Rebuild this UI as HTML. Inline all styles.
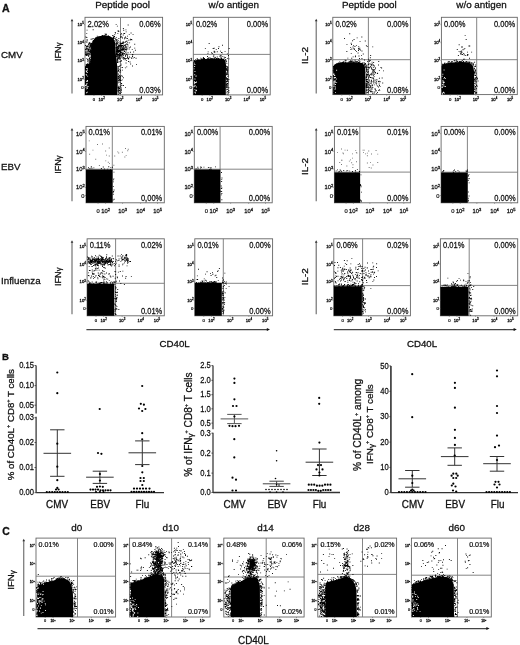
<!DOCTYPE html>
<html><head><meta charset="utf-8"><style>
html,body{margin:0;padding:0;background:#fff;}
body{width:520px;height:645px;overflow:hidden;position:relative;}
svg{position:absolute;left:0;top:0;will-change:transform;font-family:"Liberation Sans", sans-serif;}
text{stroke:#111;stroke-width:0.28px;}
.s{stroke-width:0.22px;}
</style></head><body>
<svg width="520" height="645" viewBox="0 0 520 645" fill="#111">
<rect x="85" y="17.3" width="77.6" height="77.6" fill="none" stroke="#666" stroke-width="0.9"/>
<path d="M120.5 17.3V94.9M85 54.4H162.6" stroke="#777" stroke-width="0.9"/>
<rect x="193.3" y="17.3" width="76.9" height="77.6" fill="none" stroke="#666" stroke-width="0.9"/>
<path d="M228.5 17.3V94.9M193.3 54.4H270.2" stroke="#777" stroke-width="0.9"/>
<rect x="332.8" y="17.3" width="77.6" height="77.3" fill="none" stroke="#666" stroke-width="0.9"/>
<path d="M368.4 17.3V94.6M332.8 59.7H410.4" stroke="#777" stroke-width="0.9"/>
<rect x="441.4" y="17.3" width="75.9" height="77.3" fill="none" stroke="#666" stroke-width="0.9"/>
<path d="M476.7 17.3V94.6M441.4 59.7H517.3" stroke="#777" stroke-width="0.9"/>
<rect x="86" y="126.4" width="78.3" height="76.4" fill="none" stroke="#666" stroke-width="0.9"/>
<path d="M112.3 126.4V202.8M86 169.2H164.3" stroke="#777" stroke-width="0.9"/>
<rect x="194.3" y="126.4" width="77.9" height="76.4" fill="none" stroke="#666" stroke-width="0.9"/>
<path d="M220.1 126.4V202.8M194.3 169.2H272.2" stroke="#777" stroke-width="0.9"/>
<rect x="334.4" y="126.4" width="76" height="76.4" fill="none" stroke="#666" stroke-width="0.9"/>
<path d="M359.8 126.4V202.8M334.4 172.1H410.4" stroke="#777" stroke-width="0.9"/>
<rect x="441.1" y="126.4" width="76.6" height="76.4" fill="none" stroke="#666" stroke-width="0.9"/>
<path d="M467.4 126.4V202.8M441.1 172.2H517.7" stroke="#777" stroke-width="0.9"/>
<rect x="87.1" y="238.8" width="77.2" height="77" fill="none" stroke="#666" stroke-width="0.9"/>
<path d="M115.6 238.8V315.8M87.1 283.3H164.3" stroke="#777" stroke-width="0.9"/>
<rect x="194.8" y="238.8" width="77.8" height="77" fill="none" stroke="#666" stroke-width="0.9"/>
<path d="M223.3 238.8V315.8M194.8 283.3H272.6" stroke="#777" stroke-width="0.9"/>
<rect x="333.8" y="238.8" width="76.6" height="77" fill="none" stroke="#666" stroke-width="0.9"/>
<path d="M362.6 238.8V315.8M333.8 285.6H410.4" stroke="#777" stroke-width="0.9"/>
<rect x="440.4" y="238.8" width="77.3" height="77" fill="none" stroke="#666" stroke-width="0.9"/>
<path d="M469.2 238.8V315.8M440.4 285.4H517.7" stroke="#777" stroke-width="0.9"/>
<rect x="36" y="538.1" width="79.6" height="78.9" fill="none" stroke="#666" stroke-width="0.9"/>
<path d="M77.5 538.1V617M36 576.2H115.6" stroke="#777" stroke-width="0.9"/>
<rect x="129.6" y="538.1" width="80.4" height="78.9" fill="none" stroke="#666" stroke-width="0.9"/>
<path d="M171.6 538.1V617M129.6 573.3H210" stroke="#777" stroke-width="0.9"/>
<rect x="223.8" y="538.1" width="80.3" height="78.9" fill="none" stroke="#666" stroke-width="0.9"/>
<path d="M266.2 538.1V617M223.8 577H304.1" stroke="#777" stroke-width="0.9"/>
<rect x="317.8" y="538.1" width="78.8" height="78.9" fill="none" stroke="#666" stroke-width="0.9"/>
<path d="M362.5 538.1V617M317.8 574.4H396.6" stroke="#777" stroke-width="0.9"/>
<rect x="411.4" y="538.1" width="79.9" height="78.9" fill="none" stroke="#666" stroke-width="0.9"/>
<path d="M457.5 538.1V617M411.4 575.2H491.3" stroke="#777" stroke-width="0.9"/>
<line x1="72" y1="20.3" x2="72" y2="93.4" stroke="#666" stroke-width="1.1"/>
<path d="M70.7 21.3 L72 18.8 L73.3 21.3Z" fill="#333"/>
<line x1="316.2" y1="20.3" x2="316.2" y2="93.4" stroke="#666" stroke-width="1.1"/>
<path d="M314.9 21.3 L316.2 18.8 L317.5 21.3Z" fill="#333"/>
<line x1="72" y1="129.4" x2="72" y2="201.3" stroke="#666" stroke-width="1.1"/>
<path d="M70.7 130.4 L72 127.9 L73.3 130.4Z" fill="#333"/>
<line x1="316.2" y1="129.4" x2="316.2" y2="201.3" stroke="#666" stroke-width="1.1"/>
<path d="M314.9 130.4 L316.2 127.9 L317.5 130.4Z" fill="#333"/>
<line x1="72" y1="241.8" x2="72" y2="314.3" stroke="#666" stroke-width="1.1"/>
<path d="M70.7 242.8 L72 240.3 L73.3 242.8Z" fill="#333"/>
<line x1="316.2" y1="241.8" x2="316.2" y2="314.3" stroke="#666" stroke-width="1.1"/>
<path d="M314.9 242.8 L316.2 240.3 L317.5 242.8Z" fill="#333"/>
<path d="M85 95 L85 67 L86.5 64 L89 62.5 L91 62 L91 52 L91.5 45 L92.8 41 L95 38 L98.5 36.3 L104 35.6 L109.5 36 L113.3 38.3 L115.2 42.5 L115.9 55 L116.8 62 L117.6 70 L117.8 82 L117.3 95Z" fill="#000"/>
<path d="M90.0 60.6h0.9v0.9h-0.9zM88.8 53.8h0.9v0.9h-0.9zM90.8 52.7h0.9v0.9h-0.9zM85.8 63.9h0.9v0.9h-0.9zM116.1 47.2h0.9v0.9h-0.9zM90.4 61.0h0.9v0.9h-0.9zM116.3 52.3h0.9v0.9h-0.9zM116.6 39.3h0.9v0.9h-0.9zM117.6 67.6h0.9v0.9h-0.9zM92.2 41.4h0.9v0.9h-0.9zM89.8 62.2h0.9v0.9h-0.9zM92.9 40.4h0.9v0.9h-0.9zM117.8 90.5h0.9v0.9h-0.9zM90.9 59.6h0.9v0.9h-0.9zM85.4 66.3h0.9v0.9h-0.9zM103.5 35.3h0.9v0.9h-0.9zM106.0 33.8h0.9v0.9h-0.9zM102.2 35.1h0.9v0.9h-0.9zM91.2 48.2h0.9v0.9h-0.9zM112.0 35.2h0.9v0.9h-0.9zM92.7 38.1h0.9v0.9h-0.9zM105.3 34.3h0.9v0.9h-0.9zM92.8 40.7h0.9v0.9h-0.9zM115.9 45.5h0.9v0.9h-0.9zM96.8 35.8h0.9v0.9h-0.9zM118.4 93.4h0.9v0.9h-0.9zM117.9 87.5h0.9v0.9h-0.9zM116.2 56.4h0.9v0.9h-0.9zM115.8 47.0h0.9v0.9h-0.9zM102.0 35.8h0.9v0.9h-0.9zM116.4 46.9h0.9v0.9h-0.9zM113.8 37.4h0.9v0.9h-0.9zM119.1 79.8h0.9v0.9h-0.9zM105.1 34.7h0.9v0.9h-0.9zM118.2 90.8h0.9v0.9h-0.9zM116.7 46.2h0.9v0.9h-0.9zM116.3 43.8h0.9v0.9h-0.9zM118.7 87.6h0.9v0.9h-0.9zM112.6 37.3h0.9v0.9h-0.9zM116.7 54.3h0.9v0.9h-0.9zM91.0 45.8h0.9v0.9h-0.9zM116.6 59.9h0.9v0.9h-0.9zM115.5 47.5h0.9v0.9h-0.9zM105.5 34.8h0.9v0.9h-0.9zM119.2 92.5h0.9v0.9h-0.9zM95.2 37.5h0.9v0.9h-0.9zM118.3 86.9h0.9v0.9h-0.9zM90.4 46.2h0.9v0.9h-0.9zM118.8 76.8h0.9v0.9h-0.9zM116.9 58.1h0.9v0.9h-0.9zM118.3 68.6h0.9v0.9h-0.9zM116.3 52.4h0.9v0.9h-0.9zM90.7 45.9h0.9v0.9h-0.9zM118.7 86.3h0.9v0.9h-0.9zM118.3 73.8h0.9v0.9h-0.9zM120.8 75.3h0.9v0.9h-0.9zM118.6 57.7h0.9v0.9h-0.9zM107.8 35.2h0.9v0.9h-0.9zM113.1 37.1h0.9v0.9h-0.9zM116.6 46.0h0.9v0.9h-0.9zM116.5 56.3h0.9v0.9h-0.9zM90.4 56.8h0.9v0.9h-0.9zM85.8 64.7h0.9v0.9h-0.9zM117.9 76.1h0.9v0.9h-0.9zM119.1 88.3h0.9v0.9h-0.9zM118.5 90.5h0.9v0.9h-0.9zM118.3 82.3h0.9v0.9h-0.9zM112.9 35.5h0.9v0.9h-0.9zM117.3 51.6h0.9v0.9h-0.9zM94.3 38.8h0.9v0.9h-0.9zM104.7 33.5h0.9v0.9h-0.9zM89.1 61.5h0.9v0.9h-0.9zM118.5 87.9h0.9v0.9h-0.9zM90.6 46.9h0.9v0.9h-0.9zM114.3 40.2h0.9v0.9h-0.9zM118.4 78.4h0.9v0.9h-0.9zM118.1 69.7h0.9v0.9h-0.9zM87.7 61.4h0.9v0.9h-0.9zM90.4 51.5h0.9v0.9h-0.9zM96.3 37.3h0.9v0.9h-0.9zM91.4 43.6h0.9v0.9h-0.9zM118.1 79.9h0.9v0.9h-0.9zM115.9 54.6h0.9v0.9h-0.9zM90.1 45.9h0.9v0.9h-0.9zM89.7 60.4h0.9v0.9h-0.9zM117.9 78.3h0.9v0.9h-0.9zM118.7 75.6h0.9v0.9h-0.9zM119.7 81.9h0.9v0.9h-0.9zM104.0 35.2h0.9v0.9h-0.9zM116.7 43.6h0.9v0.9h-0.9zM117.6 90.9h0.9v0.9h-0.9zM115.9 45.6h0.9v0.9h-0.9zM117.6 86.8h0.9v0.9h-0.9zM89.1 61.7h0.9v0.9h-0.9zM116.2 49.3h0.9v0.9h-0.9zM101.5 35.4h0.9v0.9h-0.9zM118.2 69.9h0.9v0.9h-0.9zM91.0 46.7h0.9v0.9h-0.9zM92.3 42.6h0.9v0.9h-0.9zM115.7 42.8h0.9v0.9h-0.9zM90.9 43.0h0.9v0.9h-0.9zM116.6 57.7h0.9v0.9h-0.9zM116.7 60.2h0.9v0.9h-0.9zM91.2 45.4h0.9v0.9h-0.9zM117.8 78.2h0.9v0.9h-0.9zM118.9 75.3h0.9v0.9h-0.9zM117.6 66.1h0.9v0.9h-0.9zM117.6 90.0h0.9v0.9h-0.9zM118.4 90.2h0.9v0.9h-0.9zM119.3 87.8h0.9v0.9h-0.9z" fill="#000"/>
<path d="M116.5 46.7h0.9v0.9h-0.9zM90.6 48.9h0.9v0.9h-0.9zM86.5 51.5h0.9v0.9h-0.9zM90.7 43.4h0.9v0.9h-0.9zM119.0 54.8h0.9v0.9h-0.9zM122.0 52.8h0.9v0.9h-0.9zM118.6 50.0h0.9v0.9h-0.9zM123.7 44.8h0.9v0.9h-0.9zM115.9 43.3h0.9v0.9h-0.9zM91.4 45.4h0.9v0.9h-0.9zM121.3 45.6h0.9v0.9h-0.9zM90.3 49.4h0.9v0.9h-0.9zM119.8 54.8h0.9v0.9h-0.9zM90.8 51.3h0.9v0.9h-0.9zM91.3 42.8h0.9v0.9h-0.9zM85.4 54.8h0.9v0.9h-0.9zM90.7 51.3h0.9v0.9h-0.9zM121.8 53.0h0.9v0.9h-0.9zM119.0 49.5h0.9v0.9h-0.9zM86.8 54.1h0.9v0.9h-0.9zM85.4 45.0h0.9v0.9h-0.9zM90.1 52.3h0.9v0.9h-0.9zM85.7 48.2h0.9v0.9h-0.9zM121.5 52.2h0.9v0.9h-0.9zM88.0 48.5h0.9v0.9h-0.9zM88.2 44.3h0.9v0.9h-0.9zM86.8 47.8h0.9v0.9h-0.9zM116.9 52.8h0.9v0.9h-0.9zM116.0 47.2h0.9v0.9h-0.9zM119.9 50.8h0.9v0.9h-0.9zM115.7 47.2h0.9v0.9h-0.9zM117.6 46.6h0.9v0.9h-0.9zM118.9 55.6h0.9v0.9h-0.9zM115.8 36.9h0.9v0.9h-0.9zM117.6 47.4h0.9v0.9h-0.9zM119.4 50.0h0.9v0.9h-0.9zM85.9 54.6h0.9v0.9h-0.9zM118.4 44.9h0.9v0.9h-0.9zM119.4 46.0h0.9v0.9h-0.9zM118.6 53.7h0.9v0.9h-0.9zM90.5 53.6h0.9v0.9h-0.9zM123.0 55.2h0.9v0.9h-0.9zM115.9 51.3h0.9v0.9h-0.9zM91.1 44.5h0.9v0.9h-0.9zM117.6 50.3h0.9v0.9h-0.9zM90.4 45.3h0.9v0.9h-0.9zM117.1 48.8h0.9v0.9h-0.9zM89.3 57.9h0.9v0.9h-0.9zM116.1 39.5h0.9v0.9h-0.9zM117.8 55.2h0.9v0.9h-0.9zM118.3 46.7h0.9v0.9h-0.9zM120.0 52.6h0.9v0.9h-0.9zM118.7 48.4h0.9v0.9h-0.9zM116.5 46.8h0.9v0.9h-0.9zM120.7 50.2h0.9v0.9h-0.9zM115.3 43.7h0.9v0.9h-0.9zM89.0 44.6h0.9v0.9h-0.9zM89.1 47.5h0.9v0.9h-0.9zM122.0 50.2h0.9v0.9h-0.9zM127.5 45.6h0.9v0.9h-0.9zM117.7 51.3h0.9v0.9h-0.9zM118.2 54.1h0.9v0.9h-0.9zM123.2 49.7h0.9v0.9h-0.9zM87.7 48.8h0.9v0.9h-0.9zM86.6 39.5h0.9v0.9h-0.9zM116.1 52.9h0.9v0.9h-0.9zM116.8 48.2h0.9v0.9h-0.9zM120.8 63.7h0.9v0.9h-0.9zM116.2 44.9h0.9v0.9h-0.9zM87.0 50.6h0.9v0.9h-0.9zM118.9 57.0h0.9v0.9h-0.9zM116.4 54.7h0.9v0.9h-0.9zM89.3 43.2h0.9v0.9h-0.9zM85.2 53.4h0.9v0.9h-0.9zM115.8 48.6h0.9v0.9h-0.9zM121.1 51.9h0.9v0.9h-0.9zM118.3 47.9h0.9v0.9h-0.9zM126.6 48.5h0.9v0.9h-0.9zM89.3 46.5h0.9v0.9h-0.9zM88.6 58.7h0.9v0.9h-0.9zM89.5 58.5h0.9v0.9h-0.9zM118.0 54.3h0.9v0.9h-0.9zM91.0 50.1h0.9v0.9h-0.9zM122.4 55.5h0.9v0.9h-0.9zM118.6 50.9h0.9v0.9h-0.9zM119.5 45.1h0.9v0.9h-0.9zM122.7 40.9h0.9v0.9h-0.9zM85.7 49.3h0.9v0.9h-0.9zM123.8 57.5h0.9v0.9h-0.9zM116.5 52.0h0.9v0.9h-0.9zM116.6 59.1h0.9v0.9h-0.9zM91.1 47.0h0.9v0.9h-0.9zM116.7 51.0h0.9v0.9h-0.9zM116.2 50.8h0.9v0.9h-0.9zM90.7 56.6h0.9v0.9h-0.9zM89.4 42.2h0.9v0.9h-0.9zM120.6 60.7h0.9v0.9h-0.9zM116.8 53.8h0.9v0.9h-0.9zM116.7 54.8h0.9v0.9h-0.9zM117.3 49.6h0.9v0.9h-0.9zM91.1 43.5h0.9v0.9h-0.9zM113.0 38.1h0.9v0.9h-0.9zM85.5 51.7h0.9v0.9h-0.9zM86.4 46.0h0.9v0.9h-0.9zM85.3 48.9h0.9v0.9h-0.9zM116.4 43.7h0.9v0.9h-0.9zM116.6 49.9h0.9v0.9h-0.9zM123.3 58.4h0.9v0.9h-0.9zM86.2 55.2h0.9v0.9h-0.9zM116.4 50.7h0.9v0.9h-0.9zM116.7 40.7h0.9v0.9h-0.9zM117.0 50.1h0.9v0.9h-0.9zM88.8 48.9h0.9v0.9h-0.9zM120.4 45.6h0.9v0.9h-0.9zM119.2 43.4h0.9v0.9h-0.9zM85.6 52.7h0.9v0.9h-0.9zM91.2 47.5h0.9v0.9h-0.9zM85.2 51.8h0.9v0.9h-0.9zM117.9 55.4h0.9v0.9h-0.9zM118.6 45.3h0.9v0.9h-0.9zM117.9 66.6h0.9v0.9h-0.9zM120.8 56.7h0.9v0.9h-0.9zM124.6 48.8h0.9v0.9h-0.9zM120.2 43.2h0.9v0.9h-0.9zM90.6 38.8h0.9v0.9h-0.9zM86.0 53.5h0.9v0.9h-0.9zM124.0 51.0h0.9v0.9h-0.9zM120.2 47.5h0.9v0.9h-0.9zM89.7 51.7h0.9v0.9h-0.9zM117.9 50.6h0.9v0.9h-0.9zM116.3 43.2h0.9v0.9h-0.9zM117.8 49.9h0.9v0.9h-0.9zM89.3 51.3h0.9v0.9h-0.9zM117.3 50.3h0.9v0.9h-0.9zM88.5 53.0h0.9v0.9h-0.9zM122.2 47.6h0.9v0.9h-0.9zM88.0 43.6h0.9v0.9h-0.9zM122.0 48.9h0.9v0.9h-0.9zM91.1 47.9h0.9v0.9h-0.9zM118.7 52.6h0.9v0.9h-0.9zM88.3 56.1h0.9v0.9h-0.9zM89.9 59.7h0.9v0.9h-0.9zM116.5 51.7h0.9v0.9h-0.9zM117.7 41.8h0.9v0.9h-0.9zM90.2 51.0h0.9v0.9h-0.9zM121.4 46.1h0.9v0.9h-0.9zM116.0 53.0h0.9v0.9h-0.9zM119.7 54.1h0.9v0.9h-0.9zM120.0 52.1h0.9v0.9h-0.9zM91.7 38.6h0.9v0.9h-0.9zM118.0 46.1h0.9v0.9h-0.9zM116.9 56.3h0.9v0.9h-0.9zM120.3 51.9h0.9v0.9h-0.9zM116.3 52.0h0.9v0.9h-0.9zM117.3 50.3h0.9v0.9h-0.9zM119.5 55.6h0.9v0.9h-0.9zM91.3 46.8h0.9v0.9h-0.9zM90.5 42.9h0.9v0.9h-0.9zM90.9 50.8h0.9v0.9h-0.9zM86.2 47.2h0.9v0.9h-0.9zM120.3 42.9h0.9v0.9h-0.9zM88.9 58.3h0.9v0.9h-0.9zM116.6 52.4h0.9v0.9h-0.9zM119.3 61.4h0.9v0.9h-0.9zM118.3 49.9h0.9v0.9h-0.9zM87.1 45.7h0.9v0.9h-0.9zM116.4 48.7h0.9v0.9h-0.9zM88.9 50.9h0.9v0.9h-0.9zM88.1 49.1h0.9v0.9h-0.9zM89.2 42.3h0.9v0.9h-0.9zM90.9 55.4h0.9v0.9h-0.9zM88.2 52.7h0.9v0.9h-0.9zM86.7 50.5h0.9v0.9h-0.9zM123.8 57.6h0.9v0.9h-0.9zM124.2 50.7h0.9v0.9h-0.9zM126.2 53.5h0.9v0.9h-0.9zM88.3 53.5h0.9v0.9h-0.9zM119.9 50.5h0.9v0.9h-0.9zM87.1 52.9h0.9v0.9h-0.9zM115.3 43.4h0.9v0.9h-0.9zM121.8 47.6h0.9v0.9h-0.9zM122.4 48.0h0.9v0.9h-0.9zM125.0 45.6h0.9v0.9h-0.9zM116.2 56.1h0.9v0.9h-0.9zM122.3 42.8h0.9v0.9h-0.9zM117.1 51.3h0.9v0.9h-0.9zM116.1 53.3h0.9v0.9h-0.9zM87.0 60.6h0.9v0.9h-0.9zM89.2 47.2h0.9v0.9h-0.9zM117.9 51.2h0.9v0.9h-0.9zM122.3 53.8h0.9v0.9h-0.9zM118.9 55.8h0.9v0.9h-0.9zM122.7 52.4h0.9v0.9h-0.9zM116.7 49.6h0.9v0.9h-0.9zM87.7 55.1h0.9v0.9h-0.9zM117.4 46.3h0.9v0.9h-0.9zM130.1 46.5h0.9v0.9h-0.9zM118.1 49.7h0.9v0.9h-0.9zM125.0 52.4h0.9v0.9h-0.9zM85.0 45.2h0.9v0.9h-0.9zM88.4 46.2h0.9v0.9h-0.9zM115.5 40.8h0.9v0.9h-0.9zM89.7 47.6h0.9v0.9h-0.9zM90.2 50.3h0.9v0.9h-0.9zM89.5 57.3h0.9v0.9h-0.9zM116.4 50.2h0.9v0.9h-0.9zM88.3 53.0h0.9v0.9h-0.9zM116.9 43.1h0.9v0.9h-0.9zM89.0 51.2h0.9v0.9h-0.9zM116.7 55.0h0.9v0.9h-0.9zM91.4 43.7h0.9v0.9h-0.9zM88.9 57.7h0.9v0.9h-0.9zM115.9 50.5h0.9v0.9h-0.9zM118.8 59.2h0.9v0.9h-0.9zM88.3 51.1h0.9v0.9h-0.9zM117.8 51.9h0.9v0.9h-0.9zM118.9 57.9h0.9v0.9h-0.9zM86.4 58.2h0.9v0.9h-0.9zM116.1 54.0h0.9v0.9h-0.9zM117.5 54.0h0.9v0.9h-0.9zM90.7 52.4h0.9v0.9h-0.9zM116.3 47.8h0.9v0.9h-0.9zM116.7 50.6h0.9v0.9h-0.9zM91.1 44.7h0.9v0.9h-0.9zM123.7 50.8h0.9v0.9h-0.9zM116.3 42.0h0.9v0.9h-0.9zM86.3 32.9h0.9v0.9h-0.9zM123.5 57.2h0.9v0.9h-0.9zM88.4 50.3h0.9v0.9h-0.9zM92.9 40.1h0.9v0.9h-0.9z" fill="#000"/>
<path d="M86.3 84.6h0.9v0.9h-0.9zM87.0 81.2h0.9v0.9h-0.9zM87.6 86.1h0.9v0.9h-0.9zM86.0 71.0h0.9v0.9h-0.9zM86.8 86.9h0.9v0.9h-0.9zM85.1 85.1h0.9v0.9h-0.9zM85.7 70.5h0.9v0.9h-0.9zM88.2 62.8h0.9v0.9h-0.9zM86.8 68.3h0.9v0.9h-0.9zM87.2 75.7h0.9v0.9h-0.9zM86.1 92.3h0.9v0.9h-0.9zM86.1 80.8h0.9v0.9h-0.9zM86.8 72.1h0.9v0.9h-0.9zM86.4 71.7h0.9v0.9h-0.9zM86.5 83.1h0.9v0.9h-0.9zM87.0 87.9h0.9v0.9h-0.9zM87.1 91.7h0.9v0.9h-0.9zM85.7 73.9h0.9v0.9h-0.9zM87.0 68.6h0.9v0.9h-0.9zM85.9 88.4h0.9v0.9h-0.9zM86.6 86.5h0.9v0.9h-0.9zM86.0 74.7h0.9v0.9h-0.9zM86.0 68.2h0.9v0.9h-0.9zM85.4 86.7h0.9v0.9h-0.9zM87.1 80.1h0.9v0.9h-0.9zM85.7 84.9h0.9v0.9h-0.9zM86.8 69.9h0.9v0.9h-0.9zM85.8 84.2h0.9v0.9h-0.9z" fill="#fff"/>
<path d="M123.2 42.1h0.9v0.9h-0.9zM114.1 36.0h0.9v0.9h-0.9zM118.2 45.7h0.9v0.9h-0.9zM125.4 44.3h0.9v0.9h-0.9zM121.1 36.5h0.9v0.9h-0.9zM121.7 53.3h0.9v0.9h-0.9zM121.4 55.1h0.9v0.9h-0.9zM121.0 44.7h0.9v0.9h-0.9zM132.2 55.5h0.9v0.9h-0.9zM126.1 49.2h0.9v0.9h-0.9zM119.0 56.3h0.9v0.9h-0.9zM126.9 38.1h0.9v0.9h-0.9zM120.0 47.7h0.9v0.9h-0.9zM124.0 45.4h0.9v0.9h-0.9zM125.6 37.8h0.9v0.9h-0.9zM121.4 55.8h0.9v0.9h-0.9zM119.8 60.9h0.9v0.9h-0.9zM121.0 43.1h0.9v0.9h-0.9zM122.8 47.2h0.9v0.9h-0.9zM117.9 48.0h0.9v0.9h-0.9zM120.7 47.6h0.9v0.9h-0.9zM118.6 51.0h0.9v0.9h-0.9zM119.3 54.4h0.9v0.9h-0.9zM118.4 31.2h0.9v0.9h-0.9zM116.7 54.6h0.9v0.9h-0.9zM120.7 54.6h0.9v0.9h-0.9zM134.3 47.7h0.9v0.9h-0.9zM123.1 45.4h0.9v0.9h-0.9zM118.3 47.5h0.9v0.9h-0.9zM117.4 33.2h0.9v0.9h-0.9zM128.0 61.0h0.9v0.9h-0.9zM125.3 46.3h0.9v0.9h-0.9zM121.9 48.8h0.9v0.9h-0.9zM122.7 52.8h0.9v0.9h-0.9zM123.7 49.6h0.9v0.9h-0.9zM119.2 44.8h0.9v0.9h-0.9zM118.0 56.2h0.9v0.9h-0.9zM118.4 57.0h0.9v0.9h-0.9zM128.1 58.6h0.9v0.9h-0.9zM116.9 41.6h0.9v0.9h-0.9zM123.3 58.5h0.9v0.9h-0.9zM129.6 61.5h0.9v0.9h-0.9zM129.2 42.4h0.9v0.9h-0.9zM130.2 38.8h0.9v0.9h-0.9zM130.2 63.5h0.9v0.9h-0.9zM119.2 52.9h0.9v0.9h-0.9zM117.3 56.9h0.9v0.9h-0.9zM127.3 44.1h0.9v0.9h-0.9zM126.4 46.9h0.9v0.9h-0.9zM126.3 66.4h0.9v0.9h-0.9zM119.5 45.3h0.9v0.9h-0.9zM120.3 34.3h0.9v0.9h-0.9zM125.0 49.0h0.9v0.9h-0.9zM117.6 60.7h0.9v0.9h-0.9zM120.2 44.5h0.9v0.9h-0.9zM126.3 41.1h0.9v0.9h-0.9zM120.0 36.9h0.9v0.9h-0.9zM114.3 33.9h0.9v0.9h-0.9zM119.0 52.7h0.9v0.9h-0.9zM115.6 39.7h0.9v0.9h-0.9zM122.0 49.0h0.9v0.9h-0.9zM125.1 55.8h0.9v0.9h-0.9zM125.2 58.3h0.9v0.9h-0.9zM122.9 57.1h0.9v0.9h-0.9zM115.7 43.8h0.9v0.9h-0.9zM118.0 51.6h0.9v0.9h-0.9zM124.7 46.9h0.9v0.9h-0.9zM122.8 34.5h0.9v0.9h-0.9zM123.0 46.0h0.9v0.9h-0.9zM117.1 59.1h0.9v0.9h-0.9zM134.9 49.8h0.9v0.9h-0.9zM124.7 59.4h0.9v0.9h-0.9zM122.4 53.5h0.9v0.9h-0.9zM121.7 43.0h0.9v0.9h-0.9zM114.5 38.0h0.9v0.9h-0.9zM115.7 39.6h0.9v0.9h-0.9zM126.2 43.5h0.9v0.9h-0.9zM119.9 50.5h0.9v0.9h-0.9zM117.5 61.8h0.9v0.9h-0.9zM124.4 37.2h0.9v0.9h-0.9zM119.4 51.1h0.9v0.9h-0.9zM134.3 43.8h0.9v0.9h-0.9zM121.8 57.6h0.9v0.9h-0.9zM123.8 53.1h0.9v0.9h-0.9zM122.9 49.2h0.9v0.9h-0.9zM136.0 63.9h0.9v0.9h-0.9zM124.5 47.4h0.9v0.9h-0.9zM129.1 56.6h0.9v0.9h-0.9zM134.0 56.9h0.9v0.9h-0.9zM131.9 54.2h0.9v0.9h-0.9zM115.9 50.4h0.9v0.9h-0.9zM125.7 31.4h0.9v0.9h-0.9zM117.6 48.3h0.9v0.9h-0.9zM121.8 57.7h0.9v0.9h-0.9zM125.8 58.1h0.9v0.9h-0.9zM113.5 35.8h0.9v0.9h-0.9zM123.3 29.8h0.9v0.9h-0.9zM132.6 33.9h0.9v0.9h-0.9zM118.8 46.9h0.9v0.9h-0.9zM120.6 36.2h0.9v0.9h-0.9zM117.5 30.6h0.9v0.9h-0.9zM117.9 58.4h0.9v0.9h-0.9zM132.0 65.6h0.9v0.9h-0.9zM127.0 55.3h0.9v0.9h-0.9zM114.8 32.0h0.9v0.9h-0.9zM123.3 33.2h0.9v0.9h-0.9zM124.7 47.7h0.9v0.9h-0.9zM119.8 51.0h0.9v0.9h-0.9zM115.0 32.5h0.9v0.9h-0.9zM122.7 43.4h0.9v0.9h-0.9zM129.7 39.6h0.9v0.9h-0.9zM120.2 54.8h0.9v0.9h-0.9zM121.2 45.1h0.9v0.9h-0.9zM130.1 51.8h0.9v0.9h-0.9zM135.6 57.8h0.9v0.9h-0.9zM120.0 36.5h0.9v0.9h-0.9zM132.6 57.6h0.9v0.9h-0.9zM118.3 50.0h0.9v0.9h-0.9zM120.2 45.5h0.9v0.9h-0.9zM120.5 42.5h0.9v0.9h-0.9zM121.4 36.6h0.9v0.9h-0.9zM116.6 49.0h0.9v0.9h-0.9zM121.5 48.9h0.9v0.9h-0.9zM115.3 38.8h0.9v0.9h-0.9zM132.4 54.1h0.9v0.9h-0.9zM130.6 32.5h0.9v0.9h-0.9zM121.5 50.5h0.9v0.9h-0.9zM128.8 47.2h0.9v0.9h-0.9zM119.6 58.1h0.9v0.9h-0.9zM125.7 49.8h0.9v0.9h-0.9zM116.4 49.6h0.9v0.9h-0.9zM119.2 53.0h0.9v0.9h-0.9zM121.1 50.4h0.9v0.9h-0.9zM126.0 46.6h0.9v0.9h-0.9zM124.2 50.9h0.9v0.9h-0.9zM117.8 40.2h0.9v0.9h-0.9zM126.0 59.9h0.9v0.9h-0.9zM127.6 52.3h0.9v0.9h-0.9zM121.4 46.3h0.9v0.9h-0.9zM126.5 54.0h0.9v0.9h-0.9zM124.3 58.0h0.9v0.9h-0.9zM126.4 48.3h0.9v0.9h-0.9zM128.3 57.7h0.9v0.9h-0.9zM128.2 39.7h0.9v0.9h-0.9zM122.1 45.0h0.9v0.9h-0.9zM124.6 42.0h0.9v0.9h-0.9zM118.4 38.0h0.9v0.9h-0.9zM116.5 48.4h0.9v0.9h-0.9zM128.8 33.9h0.9v0.9h-0.9zM124.9 41.3h0.9v0.9h-0.9zM121.8 48.9h0.9v0.9h-0.9zM127.0 35.7h0.9v0.9h-0.9zM115.7 23.9h0.9v0.9h-0.9zM131.0 39.1h0.9v0.9h-0.9zM122.0 54.2h0.9v0.9h-0.9zM116.9 25.7h0.9v0.9h-0.9zM131.1 57.9h0.9v0.9h-0.9zM125.6 62.5h0.9v0.9h-0.9zM130.7 57.2h0.9v0.9h-0.9zM120.7 49.1h0.9v0.9h-0.9zM116.6 53.8h0.9v0.9h-0.9zM127.1 57.3h0.9v0.9h-0.9zM127.3 42.3h0.9v0.9h-0.9zM118.2 43.7h0.9v0.9h-0.9zM125.2 54.8h0.9v0.9h-0.9zM115.7 45.3h0.9v0.9h-0.9zM118.2 30.6h0.9v0.9h-0.9zM127.2 56.4h0.9v0.9h-0.9zM124.2 33.0h0.9v0.9h-0.9zM120.2 49.3h0.9v0.9h-0.9zM124.5 44.9h0.9v0.9h-0.9zM120.4 53.5h0.9v0.9h-0.9zM121.2 47.5h0.9v0.9h-0.9zM121.0 60.3h0.9v0.9h-0.9zM123.6 47.8h0.9v0.9h-0.9zM117.9 50.8h0.9v0.9h-0.9zM117.6 48.3h0.9v0.9h-0.9zM123.6 48.6h0.9v0.9h-0.9zM122.2 42.2h0.9v0.9h-0.9zM123.8 49.4h0.9v0.9h-0.9zM131.8 48.9h0.9v0.9h-0.9zM120.4 43.7h0.9v0.9h-0.9zM119.4 41.6h0.9v0.9h-0.9zM120.4 45.2h0.9v0.9h-0.9zM122.2 43.1h0.9v0.9h-0.9zM128.7 48.6h0.9v0.9h-0.9zM123.1 48.6h0.9v0.9h-0.9zM124.9 44.6h0.9v0.9h-0.9zM131.5 39.4h0.9v0.9h-0.9zM122.0 37.5h0.9v0.9h-0.9zM125.6 51.5h0.9v0.9h-0.9zM122.9 43.3h0.9v0.9h-0.9zM125.0 36.5h0.9v0.9h-0.9zM133.2 51.5h0.9v0.9h-0.9zM122.9 28.0h0.9v0.9h-0.9zM117.9 45.3h0.9v0.9h-0.9zM127.7 24.6h0.9v0.9h-0.9zM132.0 56.0h0.9v0.9h-0.9zM122.7 47.0h0.9v0.9h-0.9zM121.1 33.3h0.9v0.9h-0.9zM126.5 40.4h0.9v0.9h-0.9zM124.0 53.2h0.9v0.9h-0.9zM120.5 65.2h0.9v0.9h-0.9zM118.0 57.8h0.9v0.9h-0.9zM117.6 48.9h0.9v0.9h-0.9zM125.5 29.4h0.9v0.9h-0.9zM127.6 58.0h0.9v0.9h-0.9zM124.9 67.4h0.9v0.9h-0.9zM122.7 47.4h0.9v0.9h-0.9zM124.1 38.3h0.9v0.9h-0.9z" fill="#000"/>
<path d="M120.0 76.2h0.9v0.9h-0.9zM120.9 92.2h0.9v0.9h-0.9zM118.3 89.0h0.9v0.9h-0.9zM117.8 76.2h0.9v0.9h-0.9zM116.7 55.5h0.9v0.9h-0.9zM117.7 73.4h0.9v0.9h-0.9zM121.2 83.1h0.9v0.9h-0.9zM125.0 86.9h0.9v0.9h-0.9zM120.6 87.2h0.9v0.9h-0.9zM120.6 89.1h0.9v0.9h-0.9zM119.5 81.4h0.9v0.9h-0.9zM120.2 71.6h0.9v0.9h-0.9zM118.1 91.8h0.9v0.9h-0.9zM121.8 79.4h0.9v0.9h-0.9zM121.9 75.8h0.9v0.9h-0.9zM118.8 66.1h0.9v0.9h-0.9zM117.9 77.3h0.9v0.9h-0.9zM118.3 80.5h0.9v0.9h-0.9zM120.7 79.9h0.9v0.9h-0.9zM116.8 61.1h0.9v0.9h-0.9zM116.9 62.1h0.9v0.9h-0.9zM121.6 67.0h0.9v0.9h-0.9zM122.0 66.9h0.9v0.9h-0.9zM117.2 59.9h0.9v0.9h-0.9zM121.1 49.3h0.9v0.9h-0.9zM121.5 85.1h0.9v0.9h-0.9zM118.8 78.7h0.9v0.9h-0.9zM119.9 90.5h0.9v0.9h-0.9zM119.6 92.8h0.9v0.9h-0.9zM120.9 88.5h0.9v0.9h-0.9zM120.2 77.7h0.9v0.9h-0.9zM119.5 92.5h0.9v0.9h-0.9zM117.3 61.9h0.9v0.9h-0.9zM117.8 87.3h0.9v0.9h-0.9zM122.9 77.3h0.9v0.9h-0.9zM118.4 79.7h0.9v0.9h-0.9zM118.7 75.2h0.9v0.9h-0.9zM118.9 77.2h0.9v0.9h-0.9zM118.1 70.1h0.9v0.9h-0.9zM120.0 92.9h0.9v0.9h-0.9zM118.5 77.9h0.9v0.9h-0.9zM118.3 80.4h0.9v0.9h-0.9zM121.0 90.3h0.9v0.9h-0.9zM121.2 84.7h0.9v0.9h-0.9zM120.2 85.8h0.9v0.9h-0.9zM121.9 69.7h0.9v0.9h-0.9zM117.8 77.6h0.9v0.9h-0.9zM117.7 71.0h0.9v0.9h-0.9zM117.2 58.4h0.9v0.9h-0.9zM119.3 54.5h0.9v0.9h-0.9zM119.0 90.0h0.9v0.9h-0.9zM119.6 84.4h0.9v0.9h-0.9zM117.8 88.3h0.9v0.9h-0.9zM119.4 69.2h0.9v0.9h-0.9zM117.0 46.8h0.9v0.9h-0.9zM117.8 75.9h0.9v0.9h-0.9zM120.0 80.2h0.9v0.9h-0.9zM119.5 64.9h0.9v0.9h-0.9zM120.7 83.1h0.9v0.9h-0.9zM118.9 71.5h0.9v0.9h-0.9zM120.0 76.7h0.9v0.9h-0.9zM117.9 93.8h0.9v0.9h-0.9zM119.9 70.1h0.9v0.9h-0.9zM119.8 80.1h0.9v0.9h-0.9zM119.3 79.0h0.9v0.9h-0.9zM119.6 75.5h0.9v0.9h-0.9zM117.9 85.7h0.9v0.9h-0.9zM120.1 78.7h0.9v0.9h-0.9zM119.5 75.5h0.9v0.9h-0.9zM123.1 85.0h0.9v0.9h-0.9z" fill="#000"/>
<path d="M89.8 61.0h0.9v0.9h-0.9zM90.5 51.0h0.9v0.9h-0.9zM90.6 42.9h0.9v0.9h-0.9zM90.1 45.6h0.9v0.9h-0.9zM87.3 48.5h0.9v0.9h-0.9zM89.9 45.3h0.9v0.9h-0.9zM88.4 59.8h0.9v0.9h-0.9zM88.7 42.6h0.9v0.9h-0.9zM85.4 36.7h0.9v0.9h-0.9zM85.2 49.1h0.9v0.9h-0.9zM85.4 36.6h0.9v0.9h-0.9zM86.9 46.1h0.9v0.9h-0.9zM89.9 44.1h0.9v0.9h-0.9zM87.2 52.6h0.9v0.9h-0.9zM85.9 47.9h0.9v0.9h-0.9zM90.1 44.6h0.9v0.9h-0.9zM86.4 37.0h0.9v0.9h-0.9zM88.4 55.0h0.9v0.9h-0.9zM92.7 29.3h0.9v0.9h-0.9zM88.9 58.3h0.9v0.9h-0.9zM89.9 59.0h0.9v0.9h-0.9zM87.2 59.1h0.9v0.9h-0.9zM89.3 42.8h0.9v0.9h-0.9zM89.1 49.5h0.9v0.9h-0.9zM90.0 50.2h0.9v0.9h-0.9zM90.4 49.3h0.9v0.9h-0.9zM90.6 55.3h0.9v0.9h-0.9zM88.6 51.4h0.9v0.9h-0.9zM89.8 45.5h0.9v0.9h-0.9zM86.2 46.0h0.9v0.9h-0.9zM88.0 50.0h0.9v0.9h-0.9zM85.1 50.7h0.9v0.9h-0.9zM86.5 48.8h0.9v0.9h-0.9zM88.7 52.4h0.9v0.9h-0.9zM86.7 39.6h0.9v0.9h-0.9zM86.6 41.6h0.9v0.9h-0.9zM87.5 45.2h0.9v0.9h-0.9zM90.3 44.7h0.9v0.9h-0.9zM85.2 54.1h0.9v0.9h-0.9zM90.1 60.6h0.9v0.9h-0.9zM89.6 47.5h0.9v0.9h-0.9zM89.1 49.6h0.9v0.9h-0.9zM86.1 41.7h0.9v0.9h-0.9zM89.7 49.7h0.9v0.9h-0.9zM90.4 53.5h0.9v0.9h-0.9zM87.7 46.6h0.9v0.9h-0.9zM90.3 51.8h0.9v0.9h-0.9zM85.4 41.4h0.9v0.9h-0.9zM88.6 53.3h0.9v0.9h-0.9zM86.6 29.7h0.9v0.9h-0.9zM88.8 59.8h0.9v0.9h-0.9zM88.1 49.1h0.9v0.9h-0.9zM86.7 54.5h0.9v0.9h-0.9zM88.6 60.5h0.9v0.9h-0.9zM90.9 47.8h0.9v0.9h-0.9z" fill="#000"/>
<text x="83.8" y="26.17" font-size="4.2" text-anchor="end" fill="#222">10<tspan dy="-1.68" font-size="2.94">5</tspan></text>
<line x1="84" y1="24.7" x2="85" y2="24.7" stroke="#666" stroke-width="0.6"/>
<text x="83.8" y="44.23" font-size="4.2" text-anchor="end" fill="#222">10<tspan dy="-1.68" font-size="2.94">4</tspan></text>
<line x1="84" y1="42.76" x2="85" y2="42.76" stroke="#666" stroke-width="0.6"/>
<text x="83.8" y="62.19" font-size="4.2" text-anchor="end" fill="#222">10<tspan dy="-1.68" font-size="2.94">3</tspan></text>
<line x1="84" y1="60.72" x2="85" y2="60.72" stroke="#666" stroke-width="0.6"/>
<text x="83.8" y="80.75" font-size="4.2" text-anchor="end" fill="#222">10<tspan dy="-1.68" font-size="2.94">2</tspan></text>
<line x1="84" y1="79.28" x2="85" y2="79.28" stroke="#666" stroke-width="0.6"/>
<line x1="84" y1="87.5" x2="85" y2="87.5" stroke="#666" stroke-width="0.6"/>
<line x1="93.95" y1="94.9" x2="93.95" y2="95.9" stroke="#666" stroke-width="0.6"/>
<text x="101.61" y="101" font-size="4.2" text-anchor="middle" fill="#222">10<tspan dy="-1.68" font-size="2.94">2</tspan></text>
<line x1="101.61" y1="94.9" x2="101.61" y2="95.9" stroke="#666" stroke-width="0.6"/>
<text x="120.22" y="101" font-size="4.2" text-anchor="middle" fill="#222">10<tspan dy="-1.68" font-size="2.94">3</tspan></text>
<line x1="120.22" y1="94.9" x2="120.22" y2="95.9" stroke="#666" stroke-width="0.6"/>
<text x="138.92" y="101" font-size="4.2" text-anchor="middle" fill="#222">10<tspan dy="-1.68" font-size="2.94">4</tspan></text>
<line x1="138.92" y1="94.9" x2="138.92" y2="95.9" stroke="#666" stroke-width="0.6"/>
<text x="155.24" y="101" font-size="4.2" text-anchor="middle" fill="#222">10<tspan dy="-1.68" font-size="2.94">5</tspan></text>
<line x1="155.24" y1="94.9" x2="155.24" y2="95.9" stroke="#666" stroke-width="0.6"/>
<path d="M193.3 95 L193.3 62 L194.5 60.6 L198 59.7 L205 59.1 L215 58.6 L221 58.4 L224 59 L225.5 61 L226 65 L225.8 95Z" fill="#000"/>
<path d="M226.1 73.5h0.9v0.9h-0.9zM223.0 58.7h0.9v0.9h-0.9zM225.3 59.1h0.9v0.9h-0.9zM226.8 85.1h0.9v0.9h-0.9zM216.7 58.0h0.9v0.9h-0.9zM209.5 56.9h0.9v0.9h-0.9zM208.2 57.8h0.9v0.9h-0.9zM226.1 69.9h0.9v0.9h-0.9zM226.2 82.6h0.9v0.9h-0.9zM226.5 92.3h0.9v0.9h-0.9zM226.1 74.4h0.9v0.9h-0.9zM199.4 59.4h0.9v0.9h-0.9zM226.4 78.0h0.9v0.9h-0.9zM215.8 58.4h0.9v0.9h-0.9zM227.1 69.2h0.9v0.9h-0.9zM203.0 57.1h0.9v0.9h-0.9zM227.2 88.9h0.9v0.9h-0.9zM226.9 58.2h0.9v0.9h-0.9zM227.3 83.0h0.9v0.9h-0.9zM226.2 67.9h0.9v0.9h-0.9zM226.1 78.2h0.9v0.9h-0.9zM226.4 80.5h0.9v0.9h-0.9zM202.8 57.4h0.9v0.9h-0.9zM203.0 59.0h0.9v0.9h-0.9zM208.2 58.9h0.9v0.9h-0.9zM210.4 58.3h0.9v0.9h-0.9zM227.0 70.5h0.9v0.9h-0.9zM226.1 68.5h0.9v0.9h-0.9zM226.7 85.8h0.9v0.9h-0.9zM193.8 60.1h0.9v0.9h-0.9zM226.5 69.6h0.9v0.9h-0.9zM196.7 58.2h0.9v0.9h-0.9zM227.1 79.5h0.9v0.9h-0.9zM215.1 56.9h0.9v0.9h-0.9zM197.7 59.3h0.9v0.9h-0.9zM197.0 58.5h0.9v0.9h-0.9zM227.0 69.6h0.9v0.9h-0.9zM201.4 58.8h0.9v0.9h-0.9zM226.5 83.1h0.9v0.9h-0.9zM225.1 59.5h0.9v0.9h-0.9zM207.9 57.6h0.9v0.9h-0.9zM218.1 58.1h0.9v0.9h-0.9zM210.8 58.7h0.9v0.9h-0.9zM216.1 58.0h0.9v0.9h-0.9zM226.4 73.8h0.9v0.9h-0.9zM211.8 58.2h0.9v0.9h-0.9zM228.4 87.3h0.9v0.9h-0.9zM226.2 61.4h0.9v0.9h-0.9zM206.0 59.0h0.9v0.9h-0.9zM225.9 85.3h0.9v0.9h-0.9zM207.5 57.9h0.9v0.9h-0.9zM226.0 85.4h0.9v0.9h-0.9zM226.0 79.2h0.9v0.9h-0.9zM194.3 60.5h0.9v0.9h-0.9zM226.1 86.6h0.9v0.9h-0.9zM226.9 79.1h0.9v0.9h-0.9zM220.9 58.1h0.9v0.9h-0.9zM203.0 58.3h0.9v0.9h-0.9zM195.4 59.0h0.9v0.9h-0.9zM226.0 65.8h0.9v0.9h-0.9zM210.8 58.2h0.9v0.9h-0.9zM224.1 57.5h0.9v0.9h-0.9zM204.0 58.4h0.9v0.9h-0.9zM226.1 73.7h0.9v0.9h-0.9zM211.5 58.2h0.9v0.9h-0.9zM226.5 71.8h0.9v0.9h-0.9zM209.5 58.4h0.9v0.9h-0.9zM201.1 58.6h0.9v0.9h-0.9zM226.8 79.2h0.9v0.9h-0.9zM212.9 55.8h0.9v0.9h-0.9zM227.1 70.9h0.9v0.9h-0.9zM194.2 60.5h0.9v0.9h-0.9zM226.3 84.1h0.9v0.9h-0.9zM207.1 56.1h0.9v0.9h-0.9zM226.4 62.9h0.9v0.9h-0.9zM226.3 86.4h0.9v0.9h-0.9zM226.8 66.0h0.9v0.9h-0.9zM226.6 68.1h0.9v0.9h-0.9zM226.7 93.8h0.9v0.9h-0.9zM202.5 58.4h0.9v0.9h-0.9zM227.3 83.6h0.9v0.9h-0.9zM203.2 57.9h0.9v0.9h-0.9zM214.1 57.9h0.9v0.9h-0.9zM209.9 58.3h0.9v0.9h-0.9zM223.5 56.4h0.9v0.9h-0.9zM204.1 58.0h0.9v0.9h-0.9zM200.3 57.7h0.9v0.9h-0.9zM226.0 81.0h0.9v0.9h-0.9zM226.2 89.3h0.9v0.9h-0.9zM225.8 60.5h0.9v0.9h-0.9zM202.2 59.3h0.9v0.9h-0.9zM226.0 79.2h0.9v0.9h-0.9zM220.6 57.1h0.9v0.9h-0.9zM227.4 67.7h0.9v0.9h-0.9zM226.8 86.7h0.9v0.9h-0.9zM227.5 76.1h0.9v0.9h-0.9zM197.5 59.4h0.9v0.9h-0.9zM226.9 70.0h0.9v0.9h-0.9zM225.3 59.9h0.9v0.9h-0.9zM226.2 87.3h0.9v0.9h-0.9zM226.1 77.3h0.9v0.9h-0.9zM200.9 59.2h0.9v0.9h-0.9zM219.6 56.1h0.9v0.9h-0.9zM226.6 67.0h0.9v0.9h-0.9zM197.5 59.0h0.9v0.9h-0.9zM203.8 59.0h0.9v0.9h-0.9zM207.2 58.3h0.9v0.9h-0.9zM226.9 88.8h0.9v0.9h-0.9zM227.0 72.6h0.9v0.9h-0.9zM221.2 58.3h0.9v0.9h-0.9z" fill="#000"/>
<path d="M224.6 51.2h0.9v0.9h-0.9zM213.7 47.8h0.9v0.9h-0.9zM220.1 50.7h0.9v0.9h-0.9zM218.5 46.3h0.9v0.9h-0.9zM224.9 57.0h0.9v0.9h-0.9zM214.4 56.8h0.9v0.9h-0.9zM208.7 43.1h0.9v0.9h-0.9zM212.7 48.0h0.9v0.9h-0.9zM211.2 52.3h0.9v0.9h-0.9zM211.6 58.2h0.9v0.9h-0.9zM216.8 56.5h0.9v0.9h-0.9zM213.7 50.7h0.9v0.9h-0.9zM221.8 55.9h0.9v0.9h-0.9zM213.7 51.5h0.9v0.9h-0.9zM218.1 48.1h0.9v0.9h-0.9zM214.3 51.9h0.9v0.9h-0.9zM221.9 52.4h0.9v0.9h-0.9zM211.8 53.1h0.9v0.9h-0.9zM222.0 44.8h0.9v0.9h-0.9zM214.5 51.4h0.9v0.9h-0.9zM221.0 52.0h0.9v0.9h-0.9zM213.3 57.7h0.9v0.9h-0.9zM216.8 51.3h0.9v0.9h-0.9zM219.8 55.0h0.9v0.9h-0.9zM221.1 55.4h0.9v0.9h-0.9zM207.5 52.9h0.9v0.9h-0.9zM207.7 51.4h0.9v0.9h-0.9zM213.4 54.5h0.9v0.9h-0.9zM215.8 48.9h0.9v0.9h-0.9zM204.9 48.2h0.9v0.9h-0.9z" fill="#000"/>
<path d="M226.8 91.0h0.9v0.9h-0.9zM228.4 79.1h0.9v0.9h-0.9zM226.9 53.4h0.9v0.9h-0.9zM228.4 90.1h0.9v0.9h-0.9zM228.1 55.1h0.9v0.9h-0.9zM226.8 80.6h0.9v0.9h-0.9zM226.8 72.4h0.9v0.9h-0.9zM228.4 91.7h0.9v0.9h-0.9zM226.9 78.1h0.9v0.9h-0.9zM227.3 80.4h0.9v0.9h-0.9zM226.3 72.8h0.9v0.9h-0.9zM227.7 74.6h0.9v0.9h-0.9zM228.5 91.8h0.9v0.9h-0.9zM227.8 81.4h0.9v0.9h-0.9zM226.2 84.1h0.9v0.9h-0.9zM226.2 68.7h0.9v0.9h-0.9zM228.6 58.4h0.9v0.9h-0.9zM226.2 69.4h0.9v0.9h-0.9zM226.7 81.1h0.9v0.9h-0.9zM228.7 48.1h0.9v0.9h-0.9zM226.9 73.8h0.9v0.9h-0.9zM227.4 69.6h0.9v0.9h-0.9zM227.3 66.9h0.9v0.9h-0.9zM227.3 86.9h0.9v0.9h-0.9zM226.2 69.4h0.9v0.9h-0.9z" fill="#000"/>
<path d="M195.4 82.1h0.9v0.9h-0.9zM193.4 86.3h0.9v0.9h-0.9zM195.7 75.4h0.9v0.9h-0.9zM195.5 75.8h0.9v0.9h-0.9zM195.5 90.3h0.9v0.9h-0.9zM193.7 68.4h0.9v0.9h-0.9zM194.2 83.3h0.9v0.9h-0.9zM194.4 82.3h0.9v0.9h-0.9zM194.8 85.4h0.9v0.9h-0.9zM194.5 71.0h0.9v0.9h-0.9zM194.1 81.8h0.9v0.9h-0.9zM195.3 82.0h0.9v0.9h-0.9zM195.4 90.3h0.9v0.9h-0.9zM194.2 66.1h0.9v0.9h-0.9zM194.5 91.8h0.9v0.9h-0.9zM195.0 92.6h0.9v0.9h-0.9zM194.5 89.2h0.9v0.9h-0.9zM194.0 62.7h0.9v0.9h-0.9zM194.1 81.2h0.9v0.9h-0.9zM196.1 81.5h0.9v0.9h-0.9zM196.1 89.8h0.9v0.9h-0.9zM193.7 86.2h0.9v0.9h-0.9zM196.0 89.9h0.9v0.9h-0.9zM195.9 86.6h0.9v0.9h-0.9zM194.8 85.2h0.9v0.9h-0.9zM194.3 74.3h0.9v0.9h-0.9zM193.8 85.4h0.9v0.9h-0.9zM194.4 64.0h0.9v0.9h-0.9zM194.4 78.5h0.9v0.9h-0.9zM194.6 78.7h0.9v0.9h-0.9z" fill="#fff"/>
<text x="192.1" y="26.17" font-size="4.2" text-anchor="end" fill="#222">10<tspan dy="-1.68" font-size="2.94">5</tspan></text>
<line x1="192.3" y1="24.7" x2="193.3" y2="24.7" stroke="#666" stroke-width="0.6"/>
<text x="192.1" y="44.23" font-size="4.2" text-anchor="end" fill="#222">10<tspan dy="-1.68" font-size="2.94">4</tspan></text>
<line x1="192.3" y1="42.76" x2="193.3" y2="42.76" stroke="#666" stroke-width="0.6"/>
<text x="192.1" y="62.19" font-size="4.2" text-anchor="end" fill="#222">10<tspan dy="-1.68" font-size="2.94">3</tspan></text>
<line x1="192.3" y1="60.72" x2="193.3" y2="60.72" stroke="#666" stroke-width="0.6"/>
<text x="192.1" y="80.75" font-size="4.2" text-anchor="end" fill="#222">10<tspan dy="-1.68" font-size="2.94">2</tspan></text>
<line x1="192.3" y1="79.28" x2="193.3" y2="79.28" stroke="#666" stroke-width="0.6"/>
<line x1="192.3" y1="87.5" x2="193.3" y2="87.5" stroke="#666" stroke-width="0.6"/>
<line x1="202.17" y1="94.9" x2="202.17" y2="95.9" stroke="#666" stroke-width="0.6"/>
<text x="209.76" y="101" font-size="4.2" text-anchor="middle" fill="#222">10<tspan dy="-1.68" font-size="2.94">2</tspan></text>
<line x1="209.76" y1="94.9" x2="209.76" y2="95.9" stroke="#666" stroke-width="0.6"/>
<text x="228.2" y="101" font-size="4.2" text-anchor="middle" fill="#222">10<tspan dy="-1.68" font-size="2.94">3</tspan></text>
<line x1="228.2" y1="94.9" x2="228.2" y2="95.9" stroke="#666" stroke-width="0.6"/>
<text x="246.74" y="101" font-size="4.2" text-anchor="middle" fill="#222">10<tspan dy="-1.68" font-size="2.94">4</tspan></text>
<line x1="246.74" y1="94.9" x2="246.74" y2="95.9" stroke="#666" stroke-width="0.6"/>
<text x="262.9" y="101" font-size="4.2" text-anchor="middle" fill="#222">10<tspan dy="-1.68" font-size="2.94">5</tspan></text>
<line x1="262.9" y1="94.9" x2="262.9" y2="95.9" stroke="#666" stroke-width="0.6"/>
<path d="M333.2 94.6 L333.2 66.5 L334.5 64.5 L337 63.3 L341 62.6 L350 62.2 L358 62.2 L362 63 L364.3 65 L365.3 68.5 L365.6 94.6Z" fill="#000"/>
<path d="M366.1 68.9h0.9v0.9h-0.9zM333.2 82.7h0.9v0.9h-0.9zM366.0 81.1h0.9v0.9h-0.9zM349.7 61.1h0.9v0.9h-0.9zM342.0 61.9h0.9v0.9h-0.9zM366.2 74.4h0.9v0.9h-0.9zM344.7 59.8h0.9v0.9h-0.9zM342.8 62.0h0.9v0.9h-0.9zM333.2 75.7h0.9v0.9h-0.9zM366.1 84.7h0.9v0.9h-0.9zM357.3 60.9h0.9v0.9h-0.9zM366.2 91.5h0.9v0.9h-0.9zM367.1 74.2h0.9v0.9h-0.9zM366.5 89.5h0.9v0.9h-0.9zM343.5 61.2h0.9v0.9h-0.9zM342.9 61.8h0.9v0.9h-0.9zM366.0 66.7h0.9v0.9h-0.9zM364.3 64.9h0.9v0.9h-0.9zM358.2 61.9h0.9v0.9h-0.9zM365.6 76.5h0.9v0.9h-0.9zM365.6 86.7h0.9v0.9h-0.9zM352.7 61.9h0.9v0.9h-0.9zM365.6 77.5h0.9v0.9h-0.9zM366.8 92.2h0.9v0.9h-0.9zM354.0 61.5h0.9v0.9h-0.9zM362.4 62.2h0.9v0.9h-0.9zM339.9 62.4h0.9v0.9h-0.9zM353.0 61.6h0.9v0.9h-0.9zM366.8 75.3h0.9v0.9h-0.9zM345.6 59.9h0.9v0.9h-0.9zM345.3 61.5h0.9v0.9h-0.9zM344.7 59.9h0.9v0.9h-0.9zM350.9 61.7h0.9v0.9h-0.9zM366.0 88.6h0.9v0.9h-0.9zM348.8 61.6h0.9v0.9h-0.9zM348.5 62.1h0.9v0.9h-0.9zM355.9 61.6h0.9v0.9h-0.9zM352.2 61.5h0.9v0.9h-0.9zM333.1 92.1h0.9v0.9h-0.9zM366.1 73.9h0.9v0.9h-0.9zM366.3 85.4h0.9v0.9h-0.9zM351.0 60.7h0.9v0.9h-0.9zM366.5 84.0h0.9v0.9h-0.9zM365.5 71.7h0.9v0.9h-0.9zM366.4 71.2h0.9v0.9h-0.9zM366.5 75.6h0.9v0.9h-0.9zM366.0 77.1h0.9v0.9h-0.9zM366.2 92.7h0.9v0.9h-0.9zM350.9 60.7h0.9v0.9h-0.9zM345.1 59.9h0.9v0.9h-0.9zM358.0 62.1h0.9v0.9h-0.9zM365.7 78.8h0.9v0.9h-0.9zM350.4 61.8h0.9v0.9h-0.9zM365.7 82.7h0.9v0.9h-0.9zM365.8 85.2h0.9v0.9h-0.9zM366.9 79.0h0.9v0.9h-0.9zM333.0 67.6h0.9v0.9h-0.9zM353.4 62.1h0.9v0.9h-0.9zM364.7 63.4h0.9v0.9h-0.9zM366.2 70.5h0.9v0.9h-0.9zM358.5 60.1h0.9v0.9h-0.9zM366.9 82.2h0.9v0.9h-0.9zM333.2 76.0h0.9v0.9h-0.9zM341.6 62.4h0.9v0.9h-0.9zM345.1 62.3h0.9v0.9h-0.9zM366.9 66.9h0.9v0.9h-0.9zM333.1 81.0h0.9v0.9h-0.9zM366.4 86.4h0.9v0.9h-0.9zM350.0 61.4h0.9v0.9h-0.9zM332.8 70.3h0.9v0.9h-0.9zM355.0 61.3h0.9v0.9h-0.9zM364.1 64.1h0.9v0.9h-0.9zM365.6 83.7h0.9v0.9h-0.9zM366.7 69.5h0.9v0.9h-0.9zM333.1 66.0h0.9v0.9h-0.9zM366.0 66.2h0.9v0.9h-0.9zM369.9 66.0h0.9v0.9h-0.9zM366.0 73.5h0.9v0.9h-0.9zM365.7 77.4h0.9v0.9h-0.9zM337.9 62.6h0.9v0.9h-0.9zM364.9 65.8h0.9v0.9h-0.9zM343.4 61.9h0.9v0.9h-0.9zM352.8 61.8h0.9v0.9h-0.9zM351.6 60.4h0.9v0.9h-0.9zM359.1 62.3h0.9v0.9h-0.9zM348.6 61.3h0.9v0.9h-0.9zM366.3 69.6h0.9v0.9h-0.9zM336.5 63.2h0.9v0.9h-0.9zM365.6 85.5h0.9v0.9h-0.9zM365.7 86.9h0.9v0.9h-0.9zM341.3 62.3h0.9v0.9h-0.9zM356.4 60.9h0.9v0.9h-0.9zM362.7 62.5h0.9v0.9h-0.9zM350.0 61.7h0.9v0.9h-0.9zM364.8 66.7h0.9v0.9h-0.9zM362.0 62.9h0.9v0.9h-0.9zM332.9 80.7h0.9v0.9h-0.9zM339.3 61.5h0.9v0.9h-0.9zM366.5 90.0h0.9v0.9h-0.9zM365.9 64.9h0.9v0.9h-0.9zM350.2 61.2h0.9v0.9h-0.9zM342.7 61.6h0.9v0.9h-0.9zM348.6 62.0h0.9v0.9h-0.9zM351.2 61.6h0.9v0.9h-0.9zM366.3 76.0h0.9v0.9h-0.9zM333.1 89.4h0.9v0.9h-0.9zM366.0 79.1h0.9v0.9h-0.9zM365.6 67.0h0.9v0.9h-0.9zM332.9 87.2h0.9v0.9h-0.9zM359.4 61.1h0.9v0.9h-0.9z" fill="#000"/>
<path d="M370.0 60.2h0.9v0.9h-0.9zM369.0 60.8h0.9v0.9h-0.9zM374.8 72.5h0.9v0.9h-0.9zM370.9 80.6h0.9v0.9h-0.9zM377.1 92.0h0.9v0.9h-0.9zM373.7 76.2h0.9v0.9h-0.9zM365.7 67.4h0.9v0.9h-0.9zM369.3 66.9h0.9v0.9h-0.9zM366.7 87.0h0.9v0.9h-0.9zM369.2 75.6h0.9v0.9h-0.9zM370.6 90.6h0.9v0.9h-0.9zM378.4 81.4h0.9v0.9h-0.9zM379.7 81.3h0.9v0.9h-0.9zM372.7 78.1h0.9v0.9h-0.9zM366.5 85.3h0.9v0.9h-0.9zM368.7 59.9h0.9v0.9h-0.9zM372.5 69.0h0.9v0.9h-0.9zM371.0 91.3h0.9v0.9h-0.9zM370.6 83.1h0.9v0.9h-0.9zM368.0 64.1h0.9v0.9h-0.9zM372.1 70.6h0.9v0.9h-0.9zM376.9 73.0h0.9v0.9h-0.9zM370.4 85.3h0.9v0.9h-0.9zM371.4 74.5h0.9v0.9h-0.9zM371.7 77.3h0.9v0.9h-0.9zM366.7 83.4h0.9v0.9h-0.9zM375.2 79.7h0.9v0.9h-0.9zM368.6 89.9h0.9v0.9h-0.9zM370.2 55.1h0.9v0.9h-0.9zM373.4 73.8h0.9v0.9h-0.9zM374.8 66.9h0.9v0.9h-0.9zM367.3 61.1h0.9v0.9h-0.9zM373.9 73.9h0.9v0.9h-0.9zM374.4 88.6h0.9v0.9h-0.9zM366.0 81.1h0.9v0.9h-0.9zM368.1 91.3h0.9v0.9h-0.9zM366.3 75.2h0.9v0.9h-0.9zM373.1 79.5h0.9v0.9h-0.9zM375.1 68.3h0.9v0.9h-0.9zM380.4 67.2h0.9v0.9h-0.9zM368.0 71.2h0.9v0.9h-0.9zM377.2 72.8h0.9v0.9h-0.9zM366.1 76.9h0.9v0.9h-0.9zM374.8 88.5h0.9v0.9h-0.9zM378.7 83.5h0.9v0.9h-0.9zM382.3 82.6h0.9v0.9h-0.9zM373.0 64.6h0.9v0.9h-0.9zM368.5 63.4h0.9v0.9h-0.9zM369.3 83.4h0.9v0.9h-0.9zM378.0 86.5h0.9v0.9h-0.9zM365.8 86.5h0.9v0.9h-0.9zM371.3 72.7h0.9v0.9h-0.9zM370.2 87.3h0.9v0.9h-0.9zM371.4 77.3h0.9v0.9h-0.9zM367.1 73.7h0.9v0.9h-0.9zM373.5 65.4h0.9v0.9h-0.9zM373.2 62.0h0.9v0.9h-0.9zM370.3 86.3h0.9v0.9h-0.9zM371.5 65.3h0.9v0.9h-0.9zM372.6 81.3h0.9v0.9h-0.9zM375.0 88.8h0.9v0.9h-0.9zM367.2 74.0h0.9v0.9h-0.9zM372.3 87.0h0.9v0.9h-0.9zM370.7 66.9h0.9v0.9h-0.9zM370.1 73.9h0.9v0.9h-0.9zM372.1 70.7h0.9v0.9h-0.9zM373.7 71.5h0.9v0.9h-0.9zM366.9 71.6h0.9v0.9h-0.9zM371.1 79.7h0.9v0.9h-0.9zM370.7 64.6h0.9v0.9h-0.9zM375.6 82.9h0.9v0.9h-0.9zM373.8 69.0h0.9v0.9h-0.9zM377.1 85.5h0.9v0.9h-0.9zM368.9 80.7h0.9v0.9h-0.9zM368.7 75.5h0.9v0.9h-0.9zM370.6 73.5h0.9v0.9h-0.9zM376.6 79.4h0.9v0.9h-0.9zM372.7 72.7h0.9v0.9h-0.9zM372.3 91.3h0.9v0.9h-0.9zM371.2 67.8h0.9v0.9h-0.9zM365.0 63.1h0.9v0.9h-0.9zM367.5 72.1h0.9v0.9h-0.9zM371.7 73.7h0.9v0.9h-0.9zM367.6 86.6h0.9v0.9h-0.9zM376.2 93.2h0.9v0.9h-0.9zM373.8 84.4h0.9v0.9h-0.9zM366.2 86.6h0.9v0.9h-0.9zM372.3 46.4h0.9v0.9h-0.9zM365.9 86.6h0.9v0.9h-0.9zM369.9 57.3h0.9v0.9h-0.9zM370.1 85.5h0.9v0.9h-0.9zM361.5 58.1h0.9v0.9h-0.9zM369.7 63.6h0.9v0.9h-0.9zM365.9 44.9h0.9v0.9h-0.9zM372.1 85.4h0.9v0.9h-0.9zM373.1 69.8h0.9v0.9h-0.9zM371.7 84.2h0.9v0.9h-0.9zM367.6 69.3h0.9v0.9h-0.9zM375.8 90.3h0.9v0.9h-0.9zM372.5 72.1h0.9v0.9h-0.9zM374.2 70.6h0.9v0.9h-0.9zM383.0 70.4h0.9v0.9h-0.9zM369.2 74.8h0.9v0.9h-0.9zM365.9 84.6h0.9v0.9h-0.9zM361.5 50.5h0.9v0.9h-0.9zM378.1 90.2h0.9v0.9h-0.9zM367.1 81.1h0.9v0.9h-0.9zM373.6 79.5h0.9v0.9h-0.9zM370.8 87.6h0.9v0.9h-0.9zM366.4 80.3h0.9v0.9h-0.9zM371.7 88.5h0.9v0.9h-0.9zM379.3 89.9h0.9v0.9h-0.9zM367.9 78.4h0.9v0.9h-0.9zM366.8 65.7h0.9v0.9h-0.9zM379.7 86.2h0.9v0.9h-0.9zM381.2 67.5h0.9v0.9h-0.9zM370.5 89.2h0.9v0.9h-0.9zM366.1 82.7h0.9v0.9h-0.9zM375.9 84.4h0.9v0.9h-0.9zM373.1 74.9h0.9v0.9h-0.9zM367.9 87.3h0.9v0.9h-0.9zM366.1 90.2h0.9v0.9h-0.9zM368.8 67.6h0.9v0.9h-0.9zM366.1 67.5h0.9v0.9h-0.9zM376.2 81.3h0.9v0.9h-0.9zM379.1 85.1h0.9v0.9h-0.9zM368.2 82.1h0.9v0.9h-0.9zM367.3 82.7h0.9v0.9h-0.9zM373.3 82.5h0.9v0.9h-0.9zM368.1 67.1h0.9v0.9h-0.9zM371.4 68.8h0.9v0.9h-0.9zM372.6 70.8h0.9v0.9h-0.9zM371.8 84.9h0.9v0.9h-0.9zM367.6 86.2h0.9v0.9h-0.9zM366.5 64.4h0.9v0.9h-0.9zM375.8 79.4h0.9v0.9h-0.9zM364.0 59.6h0.9v0.9h-0.9zM378.3 61.1h0.9v0.9h-0.9zM364.8 63.5h0.9v0.9h-0.9zM369.9 77.0h0.9v0.9h-0.9zM372.2 92.8h0.9v0.9h-0.9zM365.8 82.9h0.9v0.9h-0.9zM378.9 77.8h0.9v0.9h-0.9zM375.0 90.4h0.9v0.9h-0.9zM370.2 77.1h0.9v0.9h-0.9zM372.4 87.2h0.9v0.9h-0.9zM369.1 86.8h0.9v0.9h-0.9zM366.7 85.0h0.9v0.9h-0.9zM366.1 87.2h0.9v0.9h-0.9zM375.1 72.0h0.9v0.9h-0.9zM365.7 79.6h0.9v0.9h-0.9zM369.2 84.9h0.9v0.9h-0.9zM373.5 80.7h0.9v0.9h-0.9zM367.6 84.2h0.9v0.9h-0.9zM370.0 91.3h0.9v0.9h-0.9zM378.6 80.8h0.9v0.9h-0.9zM374.3 91.5h0.9v0.9h-0.9zM373.2 77.5h0.9v0.9h-0.9zM368.5 76.7h0.9v0.9h-0.9zM367.8 89.0h0.9v0.9h-0.9zM355.0 49.9h0.9v0.9h-0.9zM370.7 81.3h0.9v0.9h-0.9zM374.0 65.6h0.9v0.9h-0.9zM369.5 90.3h0.9v0.9h-0.9zM368.2 73.8h0.9v0.9h-0.9zM358.0 50.1h0.9v0.9h-0.9zM370.5 82.7h0.9v0.9h-0.9zM370.9 81.7h0.9v0.9h-0.9zM373.6 92.8h0.9v0.9h-0.9zM372.1 63.6h0.9v0.9h-0.9zM378.9 88.9h0.9v0.9h-0.9zM369.1 84.6h0.9v0.9h-0.9zM376.2 82.7h0.9v0.9h-0.9zM364.1 62.6h0.9v0.9h-0.9zM381.7 77.5h0.9v0.9h-0.9zM378.1 64.6h0.9v0.9h-0.9zM378.9 69.9h0.9v0.9h-0.9zM371.6 61.7h0.9v0.9h-0.9zM368.3 77.2h0.9v0.9h-0.9zM366.4 68.5h0.9v0.9h-0.9zM371.4 77.4h0.9v0.9h-0.9zM368.2 58.8h0.9v0.9h-0.9zM374.7 81.8h0.9v0.9h-0.9zM367.4 92.0h0.9v0.9h-0.9zM369.2 79.5h0.9v0.9h-0.9zM371.0 63.8h0.9v0.9h-0.9zM372.9 66.9h0.9v0.9h-0.9zM378.1 81.1h0.9v0.9h-0.9zM368.4 81.9h0.9v0.9h-0.9zM368.9 88.4h0.9v0.9h-0.9z" fill="#000"/>
<path d="M359.0 48.8h0.9v0.9h-0.9zM364.8 40.5h0.9v0.9h-0.9zM354.9 56.4h0.9v0.9h-0.9zM346.4 51.0h0.9v0.9h-0.9zM350.8 52.9h0.9v0.9h-0.9zM355.0 55.5h0.9v0.9h-0.9zM349.3 33.3h0.9v0.9h-0.9zM356.0 50.9h0.9v0.9h-0.9zM352.6 46.5h0.9v0.9h-0.9zM364.8 63.9h0.9v0.9h-0.9zM347.4 57.7h0.9v0.9h-0.9zM358.3 46.3h0.9v0.9h-0.9zM353.6 39.1h0.9v0.9h-0.9zM352.4 60.7h0.9v0.9h-0.9zM354.5 46.0h0.9v0.9h-0.9zM361.1 55.2h0.9v0.9h-0.9zM361.4 36.5h0.9v0.9h-0.9zM352.2 40.3h0.9v0.9h-0.9zM358.5 55.6h0.9v0.9h-0.9zM344.0 38.1h0.9v0.9h-0.9zM358.1 48.5h0.9v0.9h-0.9zM359.6 41.2h0.9v0.9h-0.9zM353.9 49.2h0.9v0.9h-0.9zM346.5 44.2h0.9v0.9h-0.9zM353.2 44.9h0.9v0.9h-0.9zM351.3 57.8h0.9v0.9h-0.9zM358.2 48.0h0.9v0.9h-0.9zM356.7 37.4h0.9v0.9h-0.9zM360.0 49.6h0.9v0.9h-0.9zM350.7 42.8h0.9v0.9h-0.9zM355.9 44.9h0.9v0.9h-0.9zM350.2 47.2h0.9v0.9h-0.9zM351.4 48.5h0.9v0.9h-0.9zM354.6 59.8h0.9v0.9h-0.9zM351.0 44.1h0.9v0.9h-0.9zM353.8 48.6h0.9v0.9h-0.9zM352.7 56.4h0.9v0.9h-0.9zM350.3 49.2h0.9v0.9h-0.9zM359.4 47.7h0.9v0.9h-0.9zM362.8 53.6h0.9v0.9h-0.9zM359.1 58.0h0.9v0.9h-0.9zM353.4 47.9h0.9v0.9h-0.9zM366.7 46.1h0.9v0.9h-0.9zM350.2 60.3h0.9v0.9h-0.9zM357.6 52.5h0.9v0.9h-0.9z" fill="#000"/>
<path d="M334.2 77.5h0.9v0.9h-0.9zM333.9 60.9h0.9v0.9h-0.9zM335.8 78.5h0.9v0.9h-0.9zM334.7 82.1h0.9v0.9h-0.9zM334.3 80.9h0.9v0.9h-0.9zM333.8 80.4h0.9v0.9h-0.9zM333.8 84.2h0.9v0.9h-0.9zM334.0 74.9h0.9v0.9h-0.9zM335.1 91.9h0.9v0.9h-0.9zM334.9 80.4h0.9v0.9h-0.9zM333.1 81.5h0.9v0.9h-0.9zM335.0 77.1h0.9v0.9h-0.9zM333.9 82.5h0.9v0.9h-0.9zM334.7 81.4h0.9v0.9h-0.9zM333.6 85.5h0.9v0.9h-0.9zM333.2 74.2h0.9v0.9h-0.9zM335.0 84.0h0.9v0.9h-0.9zM335.1 86.6h0.9v0.9h-0.9zM334.3 75.1h0.9v0.9h-0.9zM333.9 77.1h0.9v0.9h-0.9zM333.1 83.4h0.9v0.9h-0.9zM334.1 82.5h0.9v0.9h-0.9zM333.5 86.4h0.9v0.9h-0.9zM334.8 87.9h0.9v0.9h-0.9zM333.2 73.6h0.9v0.9h-0.9zM336.2 81.9h0.9v0.9h-0.9zM334.6 88.9h0.9v0.9h-0.9zM333.8 73.7h0.9v0.9h-0.9zM334.1 80.9h0.9v0.9h-0.9zM336.2 69.8h0.9v0.9h-0.9z" fill="#fff"/>
<text x="331.6" y="26.15" font-size="4.2" text-anchor="end" fill="#222">10<tspan dy="-1.68" font-size="2.94">5</tspan></text>
<line x1="331.8" y1="24.68" x2="332.8" y2="24.68" stroke="#666" stroke-width="0.6"/>
<text x="331.6" y="44.13" font-size="4.2" text-anchor="end" fill="#222">10<tspan dy="-1.68" font-size="2.94">4</tspan></text>
<line x1="331.8" y1="42.66" x2="332.8" y2="42.66" stroke="#666" stroke-width="0.6"/>
<text x="331.6" y="62.02" font-size="4.2" text-anchor="end" fill="#222">10<tspan dy="-1.68" font-size="2.94">3</tspan></text>
<line x1="331.8" y1="60.55" x2="332.8" y2="60.55" stroke="#666" stroke-width="0.6"/>
<text x="331.6" y="80.51" font-size="4.2" text-anchor="end" fill="#222">10<tspan dy="-1.68" font-size="2.94">2</tspan></text>
<line x1="331.8" y1="79.04" x2="332.8" y2="79.04" stroke="#666" stroke-width="0.6"/>
<line x1="331.8" y1="87.22" x2="332.8" y2="87.22" stroke="#666" stroke-width="0.6"/>
<line x1="341.75" y1="94.6" x2="341.75" y2="95.6" stroke="#666" stroke-width="0.6"/>
<text x="349.41" y="100.7" font-size="4.2" text-anchor="middle" fill="#222">10<tspan dy="-1.68" font-size="2.94">2</tspan></text>
<line x1="349.41" y1="94.6" x2="349.41" y2="95.6" stroke="#666" stroke-width="0.6"/>
<text x="368.02" y="100.7" font-size="4.2" text-anchor="middle" fill="#222">10<tspan dy="-1.68" font-size="2.94">3</tspan></text>
<line x1="368.02" y1="94.6" x2="368.02" y2="95.6" stroke="#666" stroke-width="0.6"/>
<text x="386.72" y="100.7" font-size="4.2" text-anchor="middle" fill="#222">10<tspan dy="-1.68" font-size="2.94">4</tspan></text>
<line x1="386.72" y1="94.6" x2="386.72" y2="95.6" stroke="#666" stroke-width="0.6"/>
<text x="403.04" y="100.7" font-size="4.2" text-anchor="middle" fill="#222">10<tspan dy="-1.68" font-size="2.94">5</tspan></text>
<line x1="403.04" y1="94.6" x2="403.04" y2="95.6" stroke="#666" stroke-width="0.6"/>
<path d="M441.6 94.6 L441.6 66 L443 64.3 L446 63.4 L452 62.6 L460 62.1 L467 62.2 L471 63.5 L473.2 66.5 L474 71 L474.2 94.6Z" fill="#000"/>
<path d="M472.4 63.4h0.9v0.9h-0.9zM466.2 61.4h0.9v0.9h-0.9zM446.7 63.2h0.9v0.9h-0.9zM451.1 61.3h0.9v0.9h-0.9zM474.4 80.8h0.9v0.9h-0.9zM474.3 83.0h0.9v0.9h-0.9zM475.0 86.1h0.9v0.9h-0.9zM474.3 86.7h0.9v0.9h-0.9zM460.0 62.1h0.9v0.9h-0.9zM474.9 92.4h0.9v0.9h-0.9zM441.4 87.8h0.9v0.9h-0.9zM457.2 61.0h0.9v0.9h-0.9zM454.5 60.3h0.9v0.9h-0.9zM474.6 91.4h0.9v0.9h-0.9zM458.7 62.1h0.9v0.9h-0.9zM467.6 62.2h0.9v0.9h-0.9zM448.6 62.7h0.9v0.9h-0.9zM474.1 73.6h0.9v0.9h-0.9zM473.7 68.3h0.9v0.9h-0.9zM461.9 62.0h0.9v0.9h-0.9zM455.8 62.3h0.9v0.9h-0.9zM447.5 61.9h0.9v0.9h-0.9zM450.5 62.0h0.9v0.9h-0.9zM472.7 63.1h0.9v0.9h-0.9zM444.8 63.7h0.9v0.9h-0.9zM474.6 83.2h0.9v0.9h-0.9zM475.5 88.5h0.9v0.9h-0.9zM448.8 61.0h0.9v0.9h-0.9zM443.1 63.5h0.9v0.9h-0.9zM475.9 85.4h0.9v0.9h-0.9zM462.1 61.9h0.9v0.9h-0.9zM475.7 73.2h0.9v0.9h-0.9zM459.8 61.6h0.9v0.9h-0.9zM472.4 62.4h0.9v0.9h-0.9zM474.4 79.9h0.9v0.9h-0.9zM470.9 62.2h0.9v0.9h-0.9zM447.8 61.2h0.9v0.9h-0.9zM442.4 64.7h0.9v0.9h-0.9zM459.5 61.2h0.9v0.9h-0.9zM463.2 58.8h0.9v0.9h-0.9zM474.0 72.3h0.9v0.9h-0.9zM475.5 73.6h0.9v0.9h-0.9zM452.1 61.3h0.9v0.9h-0.9zM475.7 92.0h0.9v0.9h-0.9zM474.6 77.8h0.9v0.9h-0.9zM441.6 89.2h0.9v0.9h-0.9zM475.3 79.6h0.9v0.9h-0.9zM455.4 61.9h0.9v0.9h-0.9zM474.1 85.4h0.9v0.9h-0.9zM476.1 76.5h0.9v0.9h-0.9zM461.5 61.3h0.9v0.9h-0.9zM475.2 69.8h0.9v0.9h-0.9zM460.1 61.5h0.9v0.9h-0.9zM461.8 60.0h0.9v0.9h-0.9zM473.7 68.5h0.9v0.9h-0.9zM469.6 61.8h0.9v0.9h-0.9zM455.4 61.7h0.9v0.9h-0.9zM467.5 61.6h0.9v0.9h-0.9zM475.4 71.9h0.9v0.9h-0.9zM441.6 84.5h0.9v0.9h-0.9zM456.5 60.4h0.9v0.9h-0.9zM448.6 62.3h0.9v0.9h-0.9zM443.7 63.5h0.9v0.9h-0.9zM461.2 62.1h0.9v0.9h-0.9zM474.6 70.6h0.9v0.9h-0.9zM468.7 61.4h0.9v0.9h-0.9zM474.5 75.1h0.9v0.9h-0.9zM450.8 61.7h0.9v0.9h-0.9zM475.0 66.0h0.9v0.9h-0.9zM443.3 63.4h0.9v0.9h-0.9zM474.2 71.8h0.9v0.9h-0.9zM476.2 92.3h0.9v0.9h-0.9zM448.1 63.0h0.9v0.9h-0.9zM473.0 64.4h0.9v0.9h-0.9zM463.4 61.5h0.9v0.9h-0.9zM475.6 78.9h0.9v0.9h-0.9zM460.5 61.1h0.9v0.9h-0.9zM474.6 77.7h0.9v0.9h-0.9zM455.9 59.6h0.9v0.9h-0.9zM475.3 77.8h0.9v0.9h-0.9zM448.8 62.4h0.9v0.9h-0.9zM441.6 75.3h0.9v0.9h-0.9zM474.1 68.2h0.9v0.9h-0.9zM474.8 77.3h0.9v0.9h-0.9zM474.2 89.0h0.9v0.9h-0.9zM474.9 89.7h0.9v0.9h-0.9zM475.4 93.0h0.9v0.9h-0.9zM474.3 88.4h0.9v0.9h-0.9zM453.7 60.3h0.9v0.9h-0.9zM474.6 83.3h0.9v0.9h-0.9zM474.4 90.9h0.9v0.9h-0.9zM471.0 62.8h0.9v0.9h-0.9zM476.8 78.3h0.9v0.9h-0.9zM474.1 79.1h0.9v0.9h-0.9zM474.5 82.7h0.9v0.9h-0.9zM472.9 64.0h0.9v0.9h-0.9zM444.4 62.5h0.9v0.9h-0.9zM455.2 62.2h0.9v0.9h-0.9zM472.5 65.3h0.9v0.9h-0.9zM442.1 63.8h0.9v0.9h-0.9zM468.8 62.0h0.9v0.9h-0.9zM474.2 66.2h0.9v0.9h-0.9zM463.0 61.0h0.9v0.9h-0.9zM443.8 62.9h0.9v0.9h-0.9zM465.0 61.6h0.9v0.9h-0.9zM446.2 63.3h0.9v0.9h-0.9zM456.2 60.9h0.9v0.9h-0.9zM458.8 61.1h0.9v0.9h-0.9zM472.3 63.9h0.9v0.9h-0.9zM475.2 75.1h0.9v0.9h-0.9z" fill="#000"/>
<path d="M467.6 54.3h0.9v0.9h-0.9zM460.5 51.1h0.9v0.9h-0.9zM469.1 57.8h0.9v0.9h-0.9zM460.9 50.6h0.9v0.9h-0.9zM471.2 51.7h0.9v0.9h-0.9zM463.0 53.2h0.9v0.9h-0.9zM456.8 49.0h0.9v0.9h-0.9zM457.9 55.0h0.9v0.9h-0.9zM465.7 39.1h0.9v0.9h-0.9zM460.3 53.1h0.9v0.9h-0.9zM466.8 55.0h0.9v0.9h-0.9zM467.1 51.7h0.9v0.9h-0.9zM464.7 34.9h0.9v0.9h-0.9zM463.7 54.7h0.9v0.9h-0.9zM463.6 48.7h0.9v0.9h-0.9zM467.1 54.0h0.9v0.9h-0.9zM461.6 51.7h0.9v0.9h-0.9zM461.9 46.5h0.9v0.9h-0.9zM461.2 52.2h0.9v0.9h-0.9zM462.5 49.3h0.9v0.9h-0.9zM463.8 53.7h0.9v0.9h-0.9zM458.7 44.3h0.9v0.9h-0.9zM462.0 54.1h0.9v0.9h-0.9zM468.5 45.6h0.9v0.9h-0.9zM469.3 45.6h0.9v0.9h-0.9zM464.4 48.2h0.9v0.9h-0.9zM459.8 51.7h0.9v0.9h-0.9zM465.0 54.9h0.9v0.9h-0.9zM464.2 58.7h0.9v0.9h-0.9zM460.6 53.0h0.9v0.9h-0.9zM460.6 54.0h0.9v0.9h-0.9zM462.8 61.9h0.9v0.9h-0.9zM458.6 51.2h0.9v0.9h-0.9zM466.2 61.1h0.9v0.9h-0.9zM461.2 46.6h0.9v0.9h-0.9z" fill="#000"/>
<path d="M474.2 72.4h0.9v0.9h-0.9zM474.6 71.1h0.9v0.9h-0.9zM474.3 91.2h0.9v0.9h-0.9zM476.1 87.9h0.9v0.9h-0.9zM474.2 61.8h0.9v0.9h-0.9zM474.8 75.2h0.9v0.9h-0.9zM476.1 85.0h0.9v0.9h-0.9zM474.8 69.6h0.9v0.9h-0.9zM474.9 64.6h0.9v0.9h-0.9zM475.5 82.4h0.9v0.9h-0.9zM474.7 80.8h0.9v0.9h-0.9zM477.0 85.7h0.9v0.9h-0.9zM476.9 78.3h0.9v0.9h-0.9zM474.6 78.7h0.9v0.9h-0.9zM474.5 87.7h0.9v0.9h-0.9zM475.8 81.3h0.9v0.9h-0.9zM475.7 84.2h0.9v0.9h-0.9zM475.0 86.5h0.9v0.9h-0.9zM476.4 77.1h0.9v0.9h-0.9zM476.2 77.2h0.9v0.9h-0.9zM477.6 80.5h0.9v0.9h-0.9zM475.0 69.5h0.9v0.9h-0.9zM474.5 78.4h0.9v0.9h-0.9zM474.1 67.7h0.9v0.9h-0.9zM474.2 91.0h0.9v0.9h-0.9z" fill="#000"/>
<path d="M442.4 80.2h0.9v0.9h-0.9zM441.6 87.1h0.9v0.9h-0.9zM441.9 84.0h0.9v0.9h-0.9zM443.4 84.6h0.9v0.9h-0.9zM442.0 93.5h0.9v0.9h-0.9zM442.8 80.7h0.9v0.9h-0.9zM443.1 63.2h0.9v0.9h-0.9zM442.9 82.2h0.9v0.9h-0.9zM444.9 86.0h0.9v0.9h-0.9zM441.7 59.9h0.9v0.9h-0.9zM442.5 81.5h0.9v0.9h-0.9zM443.6 69.6h0.9v0.9h-0.9zM445.1 78.2h0.9v0.9h-0.9zM444.1 77.1h0.9v0.9h-0.9zM443.6 86.2h0.9v0.9h-0.9zM442.8 82.5h0.9v0.9h-0.9zM441.7 75.8h0.9v0.9h-0.9zM443.0 84.4h0.9v0.9h-0.9zM443.6 86.2h0.9v0.9h-0.9zM443.0 91.7h0.9v0.9h-0.9zM443.5 77.9h0.9v0.9h-0.9zM441.9 87.2h0.9v0.9h-0.9zM443.4 92.2h0.9v0.9h-0.9zM442.4 92.6h0.9v0.9h-0.9zM443.0 82.7h0.9v0.9h-0.9zM444.0 92.7h0.9v0.9h-0.9zM442.4 73.8h0.9v0.9h-0.9zM443.6 82.1h0.9v0.9h-0.9zM443.8 81.8h0.9v0.9h-0.9zM442.0 85.7h0.9v0.9h-0.9z" fill="#fff"/>
<text x="440.2" y="26.15" font-size="4.2" text-anchor="end" fill="#222">10<tspan dy="-1.68" font-size="2.94">5</tspan></text>
<line x1="440.4" y1="24.68" x2="441.4" y2="24.68" stroke="#666" stroke-width="0.6"/>
<text x="440.2" y="44.13" font-size="4.2" text-anchor="end" fill="#222">10<tspan dy="-1.68" font-size="2.94">4</tspan></text>
<line x1="440.4" y1="42.66" x2="441.4" y2="42.66" stroke="#666" stroke-width="0.6"/>
<text x="440.2" y="62.02" font-size="4.2" text-anchor="end" fill="#222">10<tspan dy="-1.68" font-size="2.94">3</tspan></text>
<line x1="440.4" y1="60.55" x2="441.4" y2="60.55" stroke="#666" stroke-width="0.6"/>
<text x="440.2" y="80.51" font-size="4.2" text-anchor="end" fill="#222">10<tspan dy="-1.68" font-size="2.94">2</tspan></text>
<line x1="440.4" y1="79.04" x2="441.4" y2="79.04" stroke="#666" stroke-width="0.6"/>
<line x1="440.4" y1="87.22" x2="441.4" y2="87.22" stroke="#666" stroke-width="0.6"/>
<line x1="450.16" y1="94.6" x2="450.16" y2="95.6" stroke="#666" stroke-width="0.6"/>
<text x="457.65" y="100.7" font-size="4.2" text-anchor="middle" fill="#222">10<tspan dy="-1.68" font-size="2.94">2</tspan></text>
<line x1="457.65" y1="94.6" x2="457.65" y2="95.6" stroke="#666" stroke-width="0.6"/>
<text x="475.85" y="100.7" font-size="4.2" text-anchor="middle" fill="#222">10<tspan dy="-1.68" font-size="2.94">3</tspan></text>
<line x1="475.85" y1="94.6" x2="475.85" y2="95.6" stroke="#666" stroke-width="0.6"/>
<text x="494.14" y="100.7" font-size="4.2" text-anchor="middle" fill="#222">10<tspan dy="-1.68" font-size="2.94">4</tspan></text>
<line x1="494.14" y1="94.6" x2="494.14" y2="95.6" stroke="#666" stroke-width="0.6"/>
<text x="510.1" y="100.7" font-size="4.2" text-anchor="middle" fill="#222">10<tspan dy="-1.68" font-size="2.94">5</tspan></text>
<line x1="510.1" y1="94.6" x2="510.1" y2="95.6" stroke="#666" stroke-width="0.6"/>
<rect x="86" y="169.5" width="26.5" height="33.3" fill="#000"/>
<path d="M113.7 198.8h0.9v0.9h-0.9zM113.4 178.4h0.9v0.9h-0.9zM112.8 193.8h0.9v0.9h-0.9zM113.5 171.7h0.9v0.9h-0.9zM112.6 199.5h0.9v0.9h-0.9zM112.5 191.9h0.9v0.9h-0.9zM112.8 191.6h0.9v0.9h-0.9zM113.6 189.6h0.9v0.9h-0.9zM112.9 181.4h0.9v0.9h-0.9zM113.2 191.1h0.9v0.9h-0.9zM112.9 185.9h0.9v0.9h-0.9zM113.1 179.4h0.9v0.9h-0.9z" fill="#000"/>
<path d="M91.5 167.9h0.9v0.9h-0.9zM89.5 168.0h0.9v0.9h-0.9zM107.3 168.7h0.9v0.9h-0.9zM93.4 167.4h0.9v0.9h-0.9zM110.4 167.2h0.9v0.9h-0.9zM112.1 166.8h0.9v0.9h-0.9zM108.3 166.3h0.9v0.9h-0.9zM103.9 168.6h0.9v0.9h-0.9zM100.9 168.1h0.9v0.9h-0.9zM110.1 169.2h0.9v0.9h-0.9zM91.5 167.8h0.9v0.9h-0.9zM88.0 167.3h0.9v0.9h-0.9zM90.7 166.7h0.9v0.9h-0.9zM102.8 166.5h0.9v0.9h-0.9zM90.9 166.2h0.9v0.9h-0.9z" fill="#000"/>
<text x="84.8" y="135.72" font-size="5.8" text-anchor="end" fill="#222">10<tspan dy="-2.32" font-size="4.06">5</tspan></text>
<line x1="85" y1="133.69" x2="86" y2="133.69" stroke="#666" stroke-width="0.6"/>
<text x="84.8" y="153.5" font-size="5.8" text-anchor="end" fill="#222">10<tspan dy="-2.32" font-size="4.06">4</tspan></text>
<line x1="85" y1="151.47" x2="86" y2="151.47" stroke="#666" stroke-width="0.6"/>
<text x="84.8" y="171.17" font-size="5.8" text-anchor="end" fill="#222">10<tspan dy="-2.32" font-size="4.06">3</tspan></text>
<line x1="85" y1="169.14" x2="86" y2="169.14" stroke="#666" stroke-width="0.6"/>
<text x="84.8" y="189.45" font-size="5.8" text-anchor="end" fill="#222">10<tspan dy="-2.32" font-size="4.06">2</tspan></text>
<line x1="85" y1="187.42" x2="86" y2="187.42" stroke="#666" stroke-width="0.6"/>
<line x1="85" y1="195.51" x2="86" y2="195.51" stroke="#666" stroke-width="0.6"/>
<line x1="98.05" y1="202.8" x2="98.05" y2="203.8" stroke="#666" stroke-width="0.6"/>
<text x="105.58" y="213.2" font-size="5.8" text-anchor="middle" fill="#222">10<tspan dy="-2.32" font-size="4.06">2</tspan></text>
<line x1="105.58" y1="202.8" x2="105.58" y2="203.8" stroke="#666" stroke-width="0.6"/>
<text x="122.54" y="213.2" font-size="5.8" text-anchor="middle" fill="#222">10<tspan dy="-2.32" font-size="4.06">3</tspan></text>
<line x1="122.54" y1="202.8" x2="122.54" y2="203.8" stroke="#666" stroke-width="0.6"/>
<text x="140.61" y="213.2" font-size="5.8" text-anchor="middle" fill="#222">10<tspan dy="-2.32" font-size="4.06">4</tspan></text>
<line x1="140.61" y1="202.8" x2="140.61" y2="203.8" stroke="#666" stroke-width="0.6"/>
<text x="157.57" y="213.2" font-size="5.8" text-anchor="middle" fill="#222">10<tspan dy="-2.32" font-size="4.06">5</tspan></text>
<line x1="157.57" y1="202.8" x2="157.57" y2="203.8" stroke="#666" stroke-width="0.6"/>
<rect x="194.3" y="169.5" width="26" height="33.3" fill="#000"/>
<path d="M221.3 178.9h0.9v0.9h-0.9zM220.2 190.8h0.9v0.9h-0.9zM221.2 191.1h0.9v0.9h-0.9zM220.9 188.1h0.9v0.9h-0.9zM221.2 181.0h0.9v0.9h-0.9zM221.4 193.1h0.9v0.9h-0.9zM221.4 199.3h0.9v0.9h-0.9zM221.4 187.6h0.9v0.9h-0.9zM220.9 194.4h0.9v0.9h-0.9zM221.0 172.1h0.9v0.9h-0.9zM221.5 177.5h0.9v0.9h-0.9zM220.8 185.5h0.9v0.9h-0.9z" fill="#000"/>
<path d="M197.6 167.9h0.9v0.9h-0.9zM209.9 168.6h0.9v0.9h-0.9zM210.5 167.1h0.9v0.9h-0.9zM209.3 169.1h0.9v0.9h-0.9zM211.1 168.7h0.9v0.9h-0.9zM195.6 168.3h0.9v0.9h-0.9zM200.5 166.7h0.9v0.9h-0.9zM203.5 166.7h0.9v0.9h-0.9zM197.4 166.8h0.9v0.9h-0.9zM201.0 166.9h0.9v0.9h-0.9zM215.1 166.4h0.9v0.9h-0.9zM200.3 166.4h0.9v0.9h-0.9zM207.9 166.9h0.9v0.9h-0.9zM208.5 166.9h0.9v0.9h-0.9zM200.2 167.7h0.9v0.9h-0.9z" fill="#000"/>
<text x="193.1" y="135.72" font-size="5.8" text-anchor="end" fill="#222">10<tspan dy="-2.32" font-size="4.06">5</tspan></text>
<line x1="193.3" y1="133.69" x2="194.3" y2="133.69" stroke="#666" stroke-width="0.6"/>
<text x="193.1" y="153.5" font-size="5.8" text-anchor="end" fill="#222">10<tspan dy="-2.32" font-size="4.06">4</tspan></text>
<line x1="193.3" y1="151.47" x2="194.3" y2="151.47" stroke="#666" stroke-width="0.6"/>
<text x="193.1" y="171.17" font-size="5.8" text-anchor="end" fill="#222">10<tspan dy="-2.32" font-size="4.06">3</tspan></text>
<line x1="193.3" y1="169.14" x2="194.3" y2="169.14" stroke="#666" stroke-width="0.6"/>
<text x="193.1" y="189.45" font-size="5.8" text-anchor="end" fill="#222">10<tspan dy="-2.32" font-size="4.06">2</tspan></text>
<line x1="193.3" y1="187.42" x2="194.3" y2="187.42" stroke="#666" stroke-width="0.6"/>
<line x1="193.3" y1="195.51" x2="194.3" y2="195.51" stroke="#666" stroke-width="0.6"/>
<line x1="206.28" y1="202.8" x2="206.28" y2="203.8" stroke="#666" stroke-width="0.6"/>
<text x="213.78" y="213.2" font-size="5.8" text-anchor="middle" fill="#222">10<tspan dy="-2.32" font-size="4.06">2</tspan></text>
<line x1="213.78" y1="202.8" x2="213.78" y2="203.8" stroke="#666" stroke-width="0.6"/>
<text x="230.65" y="213.2" font-size="5.8" text-anchor="middle" fill="#222">10<tspan dy="-2.32" font-size="4.06">3</tspan></text>
<line x1="230.65" y1="202.8" x2="230.65" y2="203.8" stroke="#666" stroke-width="0.6"/>
<text x="248.63" y="213.2" font-size="5.8" text-anchor="middle" fill="#222">10<tspan dy="-2.32" font-size="4.06">4</tspan></text>
<line x1="248.63" y1="202.8" x2="248.63" y2="203.8" stroke="#666" stroke-width="0.6"/>
<text x="265.51" y="213.2" font-size="5.8" text-anchor="middle" fill="#222">10<tspan dy="-2.32" font-size="4.06">5</tspan></text>
<line x1="265.51" y1="202.8" x2="265.51" y2="203.8" stroke="#666" stroke-width="0.6"/>
<rect x="334.4" y="172.4" width="25.6" height="30.4" fill="#000"/>
<path d="M359.9 199.5h0.9v0.9h-0.9zM360.6 185.4h0.9v0.9h-0.9zM360.6 201.3h0.9v0.9h-0.9zM360.5 185.4h0.9v0.9h-0.9zM360.1 185.0h0.9v0.9h-0.9zM361.0 191.7h0.9v0.9h-0.9zM360.2 199.9h0.9v0.9h-0.9zM360.0 184.3h0.9v0.9h-0.9zM361.0 200.4h0.9v0.9h-0.9zM360.5 174.4h0.9v0.9h-0.9zM360.6 186.4h0.9v0.9h-0.9zM359.8 184.1h0.9v0.9h-0.9z" fill="#000"/>
<path d="M356.9 169.2h0.9v0.9h-0.9zM339.7 169.6h0.9v0.9h-0.9zM354.9 170.0h0.9v0.9h-0.9zM352.1 171.1h0.9v0.9h-0.9zM335.7 170.4h0.9v0.9h-0.9zM338.3 171.5h0.9v0.9h-0.9zM347.3 170.2h0.9v0.9h-0.9zM355.2 171.6h0.9v0.9h-0.9zM337.1 169.4h0.9v0.9h-0.9zM343.3 170.0h0.9v0.9h-0.9zM346.2 170.4h0.9v0.9h-0.9zM359.1 171.1h0.9v0.9h-0.9zM358.9 171.0h0.9v0.9h-0.9zM341.1 170.8h0.9v0.9h-0.9zM339.3 170.9h0.9v0.9h-0.9z" fill="#000"/>
<text x="333.2" y="135.72" font-size="5.8" text-anchor="end" fill="#222">10<tspan dy="-2.32" font-size="4.06">5</tspan></text>
<line x1="333.4" y1="133.69" x2="334.4" y2="133.69" stroke="#666" stroke-width="0.6"/>
<text x="333.2" y="153.5" font-size="5.8" text-anchor="end" fill="#222">10<tspan dy="-2.32" font-size="4.06">4</tspan></text>
<line x1="333.4" y1="151.47" x2="334.4" y2="151.47" stroke="#666" stroke-width="0.6"/>
<text x="333.2" y="171.17" font-size="5.8" text-anchor="end" fill="#222">10<tspan dy="-2.32" font-size="4.06">3</tspan></text>
<line x1="333.4" y1="169.14" x2="334.4" y2="169.14" stroke="#666" stroke-width="0.6"/>
<text x="333.2" y="189.45" font-size="5.8" text-anchor="end" fill="#222">10<tspan dy="-2.32" font-size="4.06">2</tspan></text>
<line x1="333.4" y1="187.42" x2="334.4" y2="187.42" stroke="#666" stroke-width="0.6"/>
<line x1="333.4" y1="195.51" x2="334.4" y2="195.51" stroke="#666" stroke-width="0.6"/>
<line x1="346.09" y1="202.8" x2="346.09" y2="203.8" stroke="#666" stroke-width="0.6"/>
<text x="353.4" y="213.2" font-size="5.8" text-anchor="middle" fill="#222">10<tspan dy="-2.32" font-size="4.06">2</tspan></text>
<line x1="353.4" y1="202.8" x2="353.4" y2="203.8" stroke="#666" stroke-width="0.6"/>
<text x="369.87" y="213.2" font-size="5.8" text-anchor="middle" fill="#222">10<tspan dy="-2.32" font-size="4.06">3</tspan></text>
<line x1="369.87" y1="202.8" x2="369.87" y2="203.8" stroke="#666" stroke-width="0.6"/>
<text x="387.41" y="213.2" font-size="5.8" text-anchor="middle" fill="#222">10<tspan dy="-2.32" font-size="4.06">4</tspan></text>
<line x1="387.41" y1="202.8" x2="387.41" y2="203.8" stroke="#666" stroke-width="0.6"/>
<text x="403.87" y="213.2" font-size="5.8" text-anchor="middle" fill="#222">10<tspan dy="-2.32" font-size="4.06">5</tspan></text>
<line x1="403.87" y1="202.8" x2="403.87" y2="203.8" stroke="#666" stroke-width="0.6"/>
<rect x="441.1" y="172.5" width="26.5" height="30.3" fill="#000"/>
<path d="M467.6 200.8h0.9v0.9h-0.9zM467.9 199.8h0.9v0.9h-0.9zM467.7 180.1h0.9v0.9h-0.9zM467.8 197.8h0.9v0.9h-0.9zM468.6 195.5h0.9v0.9h-0.9zM468.3 178.4h0.9v0.9h-0.9zM467.8 175.1h0.9v0.9h-0.9zM468.8 177.9h0.9v0.9h-0.9zM468.5 174.2h0.9v0.9h-0.9zM467.8 191.5h0.9v0.9h-0.9zM467.7 176.2h0.9v0.9h-0.9zM468.7 182.4h0.9v0.9h-0.9z" fill="#000"/>
<path d="M442.3 171.3h0.9v0.9h-0.9zM467.1 170.8h0.9v0.9h-0.9zM443.0 170.5h0.9v0.9h-0.9zM457.5 169.9h0.9v0.9h-0.9zM452.7 171.4h0.9v0.9h-0.9zM458.7 171.7h0.9v0.9h-0.9zM466.1 170.8h0.9v0.9h-0.9zM466.9 169.6h0.9v0.9h-0.9zM455.2 171.2h0.9v0.9h-0.9zM465.6 170.6h0.9v0.9h-0.9zM453.1 171.9h0.9v0.9h-0.9zM454.0 169.4h0.9v0.9h-0.9zM453.5 170.0h0.9v0.9h-0.9zM458.7 171.6h0.9v0.9h-0.9zM443.3 170.1h0.9v0.9h-0.9z" fill="#000"/>
<text x="439.9" y="135.72" font-size="5.8" text-anchor="end" fill="#222">10<tspan dy="-2.32" font-size="4.06">5</tspan></text>
<line x1="440.1" y1="133.69" x2="441.1" y2="133.69" stroke="#666" stroke-width="0.6"/>
<text x="439.9" y="153.5" font-size="5.8" text-anchor="end" fill="#222">10<tspan dy="-2.32" font-size="4.06">4</tspan></text>
<line x1="440.1" y1="151.47" x2="441.1" y2="151.47" stroke="#666" stroke-width="0.6"/>
<text x="439.9" y="171.17" font-size="5.8" text-anchor="end" fill="#222">10<tspan dy="-2.32" font-size="4.06">3</tspan></text>
<line x1="440.1" y1="169.14" x2="441.1" y2="169.14" stroke="#666" stroke-width="0.6"/>
<text x="439.9" y="189.45" font-size="5.8" text-anchor="end" fill="#222">10<tspan dy="-2.32" font-size="4.06">2</tspan></text>
<line x1="440.1" y1="187.42" x2="441.1" y2="187.42" stroke="#666" stroke-width="0.6"/>
<line x1="440.1" y1="195.51" x2="441.1" y2="195.51" stroke="#666" stroke-width="0.6"/>
<line x1="452.88" y1="202.8" x2="452.88" y2="203.8" stroke="#666" stroke-width="0.6"/>
<text x="460.25" y="213.2" font-size="5.8" text-anchor="middle" fill="#222">10<tspan dy="-2.32" font-size="4.06">2</tspan></text>
<line x1="460.25" y1="202.8" x2="460.25" y2="203.8" stroke="#666" stroke-width="0.6"/>
<text x="476.85" y="213.2" font-size="5.8" text-anchor="middle" fill="#222">10<tspan dy="-2.32" font-size="4.06">3</tspan></text>
<line x1="476.85" y1="202.8" x2="476.85" y2="203.8" stroke="#666" stroke-width="0.6"/>
<text x="494.52" y="213.2" font-size="5.8" text-anchor="middle" fill="#222">10<tspan dy="-2.32" font-size="4.06">4</tspan></text>
<line x1="494.52" y1="202.8" x2="494.52" y2="203.8" stroke="#666" stroke-width="0.6"/>
<text x="511.12" y="213.2" font-size="5.8" text-anchor="middle" fill="#222">10<tspan dy="-2.32" font-size="4.06">5</tspan></text>
<line x1="511.12" y1="202.8" x2="511.12" y2="203.8" stroke="#666" stroke-width="0.6"/>
<path d="M107.8 161.8h0.9v0.9h-0.9zM105.2 150.5h0.9v0.9h-0.9zM109.0 162.9h0.9v0.9h-0.9zM106.0 154.7h0.9v0.9h-0.9zM102.1 143.6h0.9v0.9h-0.9zM88.8 140.4h0.9v0.9h-0.9zM89.2 153.8h0.9v0.9h-0.9zM108.8 155.5h0.9v0.9h-0.9zM105.3 160.4h0.9v0.9h-0.9zM108.8 147.5h0.9v0.9h-0.9zM98.9 165.0h0.9v0.9h-0.9zM95.3 158.8h0.9v0.9h-0.9zM97.1 144.1h0.9v0.9h-0.9zM92.5 149.7h0.9v0.9h-0.9z" fill="#000" fill-opacity="0.6"/>
<path d="M113.4 164.8h0.9v0.9h-0.9zM118.3 152.6h0.9v0.9h-0.9zM125.0 148.1h0.9v0.9h-0.9zM124.4 156.6h0.9v0.9h-0.9zM114.3 155.6h0.9v0.9h-0.9zM127.8 148.8h0.9v0.9h-0.9zM117.3 151.4h0.9v0.9h-0.9zM121.9 151.8h0.9v0.9h-0.9zM125.7 154.9h0.9v0.9h-0.9zM127.3 150.3h0.9v0.9h-0.9z" fill="#000" fill-opacity="0.6"/>
<path d="M341.1 148.6h0.9v0.9h-0.9zM337.0 152.2h0.9v0.9h-0.9zM348.9 160.7h0.9v0.9h-0.9zM352.0 153.4h0.9v0.9h-0.9zM349.2 170.6h0.9v0.9h-0.9zM343.1 153.4h0.9v0.9h-0.9zM340.1 170.2h0.9v0.9h-0.9zM350.0 159.4h0.9v0.9h-0.9zM346.9 149.8h0.9v0.9h-0.9zM341.0 164.1h0.9v0.9h-0.9zM341.5 159.8h0.9v0.9h-0.9zM355.9 152.2h0.9v0.9h-0.9zM346.4 165.5h0.9v0.9h-0.9zM352.4 167.0h0.9v0.9h-0.9zM356.0 161.3h0.9v0.9h-0.9zM341.0 159.7h0.9v0.9h-0.9zM356.4 152.6h0.9v0.9h-0.9zM342.5 152.5h0.9v0.9h-0.9zM355.3 150.2h0.9v0.9h-0.9zM339.3 162.0h0.9v0.9h-0.9zM352.0 157.7h0.9v0.9h-0.9zM352.5 164.3h0.9v0.9h-0.9zM344.6 149.7h0.9v0.9h-0.9zM351.2 162.3h0.9v0.9h-0.9z" fill="#000" fill-opacity="0.6"/>
<path d="M377.3 162.0h0.9v0.9h-0.9zM363.0 151.9h0.9v0.9h-0.9zM366.9 162.5h0.9v0.9h-0.9zM366.9 152.7h0.9v0.9h-0.9zM365.0 153.4h0.9v0.9h-0.9zM370.0 162.2h0.9v0.9h-0.9zM375.6 150.0h0.9v0.9h-0.9zM370.8 167.5h0.9v0.9h-0.9zM368.3 150.5h0.9v0.9h-0.9zM372.5 164.5h0.9v0.9h-0.9zM362.6 149.7h0.9v0.9h-0.9zM366.9 155.3h0.9v0.9h-0.9zM363.8 149.7h0.9v0.9h-0.9zM368.7 167.1h0.9v0.9h-0.9zM371.1 153.5h0.9v0.9h-0.9zM377.3 153.7h0.9v0.9h-0.9z" fill="#000" fill-opacity="0.6"/>
<rect x="87.1" y="284" width="27.2" height="31.8" fill="#000"/>
<path d="M115.2 292.2h0.9v0.9h-0.9zM115.2 271.3h0.9v0.9h-0.9zM115.5 314.0h0.9v0.9h-0.9zM115.2 295.8h0.9v0.9h-0.9zM116.2 298.6h0.9v0.9h-0.9zM116.8 294.4h0.9v0.9h-0.9zM119.1 280.5h0.9v0.9h-0.9zM115.4 281.6h0.9v0.9h-0.9zM117.1 277.4h0.9v0.9h-0.9zM116.6 296.9h0.9v0.9h-0.9zM112.5 283.9h0.9v0.9h-0.9zM116.7 295.1h0.9v0.9h-0.9zM116.3 292.1h0.9v0.9h-0.9zM115.3 308.7h0.9v0.9h-0.9zM114.8 304.1h0.9v0.9h-0.9zM116.8 276.6h0.9v0.9h-0.9zM114.5 303.7h0.9v0.9h-0.9zM115.1 292.1h0.9v0.9h-0.9zM115.4 298.5h0.9v0.9h-0.9zM115.2 274.1h0.9v0.9h-0.9zM115.2 291.7h0.9v0.9h-0.9zM114.3 303.5h0.9v0.9h-0.9zM115.1 293.9h0.9v0.9h-0.9zM115.3 307.7h0.9v0.9h-0.9zM112.8 261.0h0.9v0.9h-0.9zM115.2 287.3h0.9v0.9h-0.9zM114.4 284.2h0.9v0.9h-0.9zM116.5 305.9h0.9v0.9h-0.9zM115.9 280.7h0.9v0.9h-0.9zM114.3 282.2h0.9v0.9h-0.9zM114.4 309.2h0.9v0.9h-0.9zM115.3 304.9h0.9v0.9h-0.9zM114.8 277.8h0.9v0.9h-0.9zM114.6 298.3h0.9v0.9h-0.9zM115.0 288.6h0.9v0.9h-0.9zM114.8 290.7h0.9v0.9h-0.9zM115.2 301.4h0.9v0.9h-0.9zM115.8 287.4h0.9v0.9h-0.9zM115.5 305.3h0.9v0.9h-0.9zM117.1 291.8h0.9v0.9h-0.9zM114.1 281.4h0.9v0.9h-0.9zM115.7 308.6h0.9v0.9h-0.9zM116.3 297.5h0.9v0.9h-0.9zM115.7 308.0h0.9v0.9h-0.9zM115.4 298.6h0.9v0.9h-0.9zM114.6 310.8h0.9v0.9h-0.9zM114.7 313.0h0.9v0.9h-0.9zM115.7 299.8h0.9v0.9h-0.9zM114.4 298.1h0.9v0.9h-0.9zM116.6 308.7h0.9v0.9h-0.9zM118.4 309.1h0.9v0.9h-0.9zM115.9 301.0h0.9v0.9h-0.9zM115.8 297.7h0.9v0.9h-0.9zM114.8 309.7h0.9v0.9h-0.9zM115.0 313.9h0.9v0.9h-0.9z" fill="#000"/>
<path d="M123.9 284.0h0.9v0.9h-0.9zM114.9 286.3h0.9v0.9h-0.9zM106.2 282.6h0.9v0.9h-0.9zM90.7 283.2h0.9v0.9h-0.9zM88.9 282.5h0.9v0.9h-0.9zM104.6 282.8h0.9v0.9h-0.9zM100.0 283.3h0.9v0.9h-0.9zM103.4 282.7h0.9v0.9h-0.9zM112.7 281.7h0.9v0.9h-0.9zM106.7 282.2h0.9v0.9h-0.9zM112.3 282.8h0.9v0.9h-0.9zM97.1 283.9h0.9v0.9h-0.9zM112.3 282.0h0.9v0.9h-0.9zM112.6 283.7h0.9v0.9h-0.9zM101.1 282.1h0.9v0.9h-0.9zM103.4 283.0h0.9v0.9h-0.9zM120.4 283.1h0.9v0.9h-0.9zM89.5 283.1h0.9v0.9h-0.9zM88.5 283.5h0.9v0.9h-0.9zM96.2 281.5h0.9v0.9h-0.9zM102.5 283.8h0.9v0.9h-0.9zM99.1 283.4h0.9v0.9h-0.9zM107.0 282.5h0.9v0.9h-0.9zM110.8 281.4h0.9v0.9h-0.9zM110.2 283.2h0.9v0.9h-0.9zM95.4 281.9h0.9v0.9h-0.9zM89.7 282.3h0.9v0.9h-0.9zM104.0 283.9h0.9v0.9h-0.9zM108.4 284.0h0.9v0.9h-0.9zM106.8 283.9h0.9v0.9h-0.9zM106.0 282.7h0.9v0.9h-0.9zM102.2 281.9h0.9v0.9h-0.9zM105.9 281.2h0.9v0.9h-0.9zM99.3 282.8h0.9v0.9h-0.9zM100.3 282.1h0.9v0.9h-0.9zM103.5 282.1h0.9v0.9h-0.9zM97.7 283.4h0.9v0.9h-0.9zM109.9 282.2h0.9v0.9h-0.9zM94.4 283.5h0.9v0.9h-0.9zM95.9 282.7h0.9v0.9h-0.9zM95.6 281.4h0.9v0.9h-0.9zM109.8 283.9h0.9v0.9h-0.9zM97.7 283.6h0.9v0.9h-0.9zM91.7 281.6h0.9v0.9h-0.9zM98.6 282.5h0.9v0.9h-0.9zM92.7 283.0h0.9v0.9h-0.9zM97.4 282.9h0.9v0.9h-0.9zM103.5 282.8h0.9v0.9h-0.9zM104.6 284.0h0.9v0.9h-0.9zM113.5 281.4h0.9v0.9h-0.9z" fill="#000"/>
<text x="85.9" y="247.62" font-size="4.2" text-anchor="end" fill="#222">10<tspan dy="-1.68" font-size="2.94">5</tspan></text>
<line x1="86.1" y1="246.15" x2="87.1" y2="246.15" stroke="#666" stroke-width="0.6"/>
<text x="85.9" y="265.53" font-size="4.2" text-anchor="end" fill="#222">10<tspan dy="-1.68" font-size="2.94">4</tspan></text>
<line x1="86.1" y1="264.06" x2="87.1" y2="264.06" stroke="#666" stroke-width="0.6"/>
<text x="85.9" y="283.35" font-size="4.2" text-anchor="end" fill="#222">10<tspan dy="-1.68" font-size="2.94">3</tspan></text>
<line x1="86.1" y1="281.88" x2="87.1" y2="281.88" stroke="#666" stroke-width="0.6"/>
<text x="85.9" y="301.77" font-size="4.2" text-anchor="end" fill="#222">10<tspan dy="-1.68" font-size="2.94">2</tspan></text>
<line x1="86.1" y1="300.3" x2="87.1" y2="300.3" stroke="#666" stroke-width="0.6"/>
<line x1="86.1" y1="308.45" x2="87.1" y2="308.45" stroke="#666" stroke-width="0.6"/>
<line x1="96.01" y1="315.8" x2="96.01" y2="316.8" stroke="#666" stroke-width="0.6"/>
<text x="103.63" y="321.9" font-size="4.2" text-anchor="middle" fill="#222">10<tspan dy="-1.68" font-size="2.94">2</tspan></text>
<line x1="103.63" y1="315.8" x2="103.63" y2="316.8" stroke="#666" stroke-width="0.6"/>
<text x="122.14" y="321.9" font-size="4.2" text-anchor="middle" fill="#222">10<tspan dy="-1.68" font-size="2.94">3</tspan></text>
<line x1="122.14" y1="315.8" x2="122.14" y2="316.8" stroke="#666" stroke-width="0.6"/>
<text x="140.74" y="321.9" font-size="4.2" text-anchor="middle" fill="#222">10<tspan dy="-1.68" font-size="2.94">4</tspan></text>
<line x1="140.74" y1="315.8" x2="140.74" y2="316.8" stroke="#666" stroke-width="0.6"/>
<text x="156.98" y="321.9" font-size="4.2" text-anchor="middle" fill="#222">10<tspan dy="-1.68" font-size="2.94">5</tspan></text>
<line x1="156.98" y1="315.8" x2="156.98" y2="316.8" stroke="#666" stroke-width="0.6"/>
<rect x="194.8" y="282.8" width="27" height="33" fill="#000"/>
<path d="M221.9 293.6h0.9v0.9h-0.9zM222.0 303.4h0.9v0.9h-0.9zM222.5 310.4h0.9v0.9h-0.9zM224.4 272.7h0.9v0.9h-0.9zM224.1 303.9h0.9v0.9h-0.9zM222.6 291.0h0.9v0.9h-0.9zM222.4 292.8h0.9v0.9h-0.9zM222.6 297.0h0.9v0.9h-0.9zM222.5 310.2h0.9v0.9h-0.9zM223.2 298.8h0.9v0.9h-0.9zM222.5 302.3h0.9v0.9h-0.9zM221.8 293.6h0.9v0.9h-0.9zM222.5 288.1h0.9v0.9h-0.9zM222.2 308.9h0.9v0.9h-0.9zM223.2 311.4h0.9v0.9h-0.9zM223.7 309.7h0.9v0.9h-0.9zM222.3 311.1h0.9v0.9h-0.9zM225.7 288.2h0.9v0.9h-0.9zM222.9 297.2h0.9v0.9h-0.9zM223.6 299.9h0.9v0.9h-0.9zM223.1 309.7h0.9v0.9h-0.9zM222.7 313.1h0.9v0.9h-0.9zM222.1 297.5h0.9v0.9h-0.9zM222.9 286.2h0.9v0.9h-0.9zM223.1 297.8h0.9v0.9h-0.9zM221.8 294.7h0.9v0.9h-0.9zM222.4 307.5h0.9v0.9h-0.9zM224.9 292.4h0.9v0.9h-0.9zM223.0 294.8h0.9v0.9h-0.9zM222.4 305.8h0.9v0.9h-0.9zM223.6 291.7h0.9v0.9h-0.9zM223.6 302.5h0.9v0.9h-0.9zM222.1 281.5h0.9v0.9h-0.9zM224.2 301.9h0.9v0.9h-0.9zM223.2 306.5h0.9v0.9h-0.9zM222.5 297.2h0.9v0.9h-0.9zM223.0 289.7h0.9v0.9h-0.9zM222.1 301.9h0.9v0.9h-0.9zM223.0 311.9h0.9v0.9h-0.9zM222.1 308.1h0.9v0.9h-0.9zM223.3 306.8h0.9v0.9h-0.9zM222.2 282.4h0.9v0.9h-0.9zM221.9 292.8h0.9v0.9h-0.9zM223.6 298.7h0.9v0.9h-0.9zM221.8 308.5h0.9v0.9h-0.9zM221.9 291.7h0.9v0.9h-0.9zM222.3 299.7h0.9v0.9h-0.9zM222.6 295.3h0.9v0.9h-0.9zM224.4 297.2h0.9v0.9h-0.9zM223.2 293.3h0.9v0.9h-0.9zM222.7 287.8h0.9v0.9h-0.9zM222.8 302.4h0.9v0.9h-0.9zM221.9 299.2h0.9v0.9h-0.9zM223.5 282.8h0.9v0.9h-0.9zM222.5 301.9h0.9v0.9h-0.9z" fill="#000"/>
<path d="M202.5 282.5h0.9v0.9h-0.9zM222.3 282.3h0.9v0.9h-0.9zM201.6 280.6h0.9v0.9h-0.9zM206.1 280.6h0.9v0.9h-0.9zM225.9 283.5h0.9v0.9h-0.9zM213.2 282.1h0.9v0.9h-0.9zM205.5 282.3h0.9v0.9h-0.9zM207.0 282.2h0.9v0.9h-0.9zM214.3 281.1h0.9v0.9h-0.9zM201.3 282.2h0.9v0.9h-0.9zM209.3 281.3h0.9v0.9h-0.9zM204.6 282.6h0.9v0.9h-0.9zM223.8 285.1h0.9v0.9h-0.9zM211.1 281.6h0.9v0.9h-0.9zM201.9 281.5h0.9v0.9h-0.9zM214.7 282.5h0.9v0.9h-0.9zM208.5 282.8h0.9v0.9h-0.9zM211.2 281.7h0.9v0.9h-0.9zM203.5 281.9h0.9v0.9h-0.9zM204.4 282.8h0.9v0.9h-0.9zM203.6 280.5h0.9v0.9h-0.9zM207.6 282.0h0.9v0.9h-0.9zM202.1 280.7h0.9v0.9h-0.9zM208.8 281.9h0.9v0.9h-0.9zM200.9 282.3h0.9v0.9h-0.9zM225.8 281.5h0.9v0.9h-0.9zM196.6 279.1h0.9v0.9h-0.9zM215.8 281.5h0.9v0.9h-0.9zM207.1 282.6h0.9v0.9h-0.9zM228.6 285.9h0.9v0.9h-0.9zM210.1 282.6h0.9v0.9h-0.9zM224.9 282.8h0.9v0.9h-0.9zM214.3 282.2h0.9v0.9h-0.9zM198.1 282.5h0.9v0.9h-0.9zM216.0 281.7h0.9v0.9h-0.9zM223.0 281.9h0.9v0.9h-0.9zM199.6 282.3h0.9v0.9h-0.9zM196.1 282.0h0.9v0.9h-0.9zM197.2 279.0h0.9v0.9h-0.9zM210.6 281.1h0.9v0.9h-0.9zM213.4 281.2h0.9v0.9h-0.9zM215.4 281.9h0.9v0.9h-0.9zM215.3 281.5h0.9v0.9h-0.9zM211.5 282.2h0.9v0.9h-0.9zM214.1 282.2h0.9v0.9h-0.9zM222.6 280.1h0.9v0.9h-0.9zM212.4 282.2h0.9v0.9h-0.9zM211.8 281.7h0.9v0.9h-0.9zM207.5 282.1h0.9v0.9h-0.9zM200.0 281.7h0.9v0.9h-0.9z" fill="#000"/>
<text x="193.6" y="247.62" font-size="4.2" text-anchor="end" fill="#222">10<tspan dy="-1.68" font-size="2.94">5</tspan></text>
<line x1="193.8" y1="246.15" x2="194.8" y2="246.15" stroke="#666" stroke-width="0.6"/>
<text x="193.6" y="265.53" font-size="4.2" text-anchor="end" fill="#222">10<tspan dy="-1.68" font-size="2.94">4</tspan></text>
<line x1="193.8" y1="264.06" x2="194.8" y2="264.06" stroke="#666" stroke-width="0.6"/>
<text x="193.6" y="283.35" font-size="4.2" text-anchor="end" fill="#222">10<tspan dy="-1.68" font-size="2.94">3</tspan></text>
<line x1="193.8" y1="281.88" x2="194.8" y2="281.88" stroke="#666" stroke-width="0.6"/>
<text x="193.6" y="301.77" font-size="4.2" text-anchor="end" fill="#222">10<tspan dy="-1.68" font-size="2.94">2</tspan></text>
<line x1="193.8" y1="300.3" x2="194.8" y2="300.3" stroke="#666" stroke-width="0.6"/>
<line x1="193.8" y1="308.45" x2="194.8" y2="308.45" stroke="#666" stroke-width="0.6"/>
<line x1="203.78" y1="315.8" x2="203.78" y2="316.8" stroke="#666" stroke-width="0.6"/>
<text x="211.46" y="321.9" font-size="4.2" text-anchor="middle" fill="#222">10<tspan dy="-1.68" font-size="2.94">2</tspan></text>
<line x1="211.46" y1="315.8" x2="211.46" y2="316.8" stroke="#666" stroke-width="0.6"/>
<text x="230.11" y="321.9" font-size="4.2" text-anchor="middle" fill="#222">10<tspan dy="-1.68" font-size="2.94">3</tspan></text>
<line x1="230.11" y1="315.8" x2="230.11" y2="316.8" stroke="#666" stroke-width="0.6"/>
<text x="248.86" y="321.9" font-size="4.2" text-anchor="middle" fill="#222">10<tspan dy="-1.68" font-size="2.94">4</tspan></text>
<line x1="248.86" y1="315.8" x2="248.86" y2="316.8" stroke="#666" stroke-width="0.6"/>
<text x="265.22" y="321.9" font-size="4.2" text-anchor="middle" fill="#222">10<tspan dy="-1.68" font-size="2.94">5</tspan></text>
<line x1="265.22" y1="315.8" x2="265.22" y2="316.8" stroke="#666" stroke-width="0.6"/>
<rect x="333.8" y="286.2" width="28.1" height="29.6" fill="#000"/>
<path d="M361.1 279.1h0.9v0.9h-0.9zM362.8 298.5h0.9v0.9h-0.9zM361.5 280.2h0.9v0.9h-0.9zM362.0 303.9h0.9v0.9h-0.9zM361.4 284.1h0.9v0.9h-0.9zM361.1 277.2h0.9v0.9h-0.9zM362.2 270.1h0.9v0.9h-0.9zM362.7 311.4h0.9v0.9h-0.9zM365.1 309.3h0.9v0.9h-0.9zM362.3 292.7h0.9v0.9h-0.9zM362.9 282.4h0.9v0.9h-0.9zM362.6 309.3h0.9v0.9h-0.9zM363.1 295.2h0.9v0.9h-0.9zM362.7 311.6h0.9v0.9h-0.9zM361.4 285.8h0.9v0.9h-0.9zM365.0 298.5h0.9v0.9h-0.9zM362.6 302.0h0.9v0.9h-0.9zM363.1 306.0h0.9v0.9h-0.9zM363.4 289.6h0.9v0.9h-0.9zM363.0 300.4h0.9v0.9h-0.9zM361.3 268.1h0.9v0.9h-0.9zM363.8 309.7h0.9v0.9h-0.9zM362.3 293.3h0.9v0.9h-0.9zM362.3 295.3h0.9v0.9h-0.9zM363.1 297.0h0.9v0.9h-0.9zM362.6 305.1h0.9v0.9h-0.9zM364.3 303.0h0.9v0.9h-0.9zM362.3 279.5h0.9v0.9h-0.9zM364.6 302.0h0.9v0.9h-0.9zM362.4 299.7h0.9v0.9h-0.9zM363.2 299.6h0.9v0.9h-0.9zM363.4 286.1h0.9v0.9h-0.9zM362.1 296.6h0.9v0.9h-0.9zM362.7 302.1h0.9v0.9h-0.9zM361.9 285.9h0.9v0.9h-0.9zM362.0 298.4h0.9v0.9h-0.9zM362.8 312.9h0.9v0.9h-0.9zM365.0 311.4h0.9v0.9h-0.9zM363.5 287.7h0.9v0.9h-0.9zM362.1 280.0h0.9v0.9h-0.9zM364.2 307.3h0.9v0.9h-0.9zM362.1 301.1h0.9v0.9h-0.9zM362.3 311.0h0.9v0.9h-0.9zM362.5 305.7h0.9v0.9h-0.9zM362.6 294.0h0.9v0.9h-0.9zM363.8 304.2h0.9v0.9h-0.9zM362.9 298.0h0.9v0.9h-0.9zM361.9 311.2h0.9v0.9h-0.9zM362.6 290.1h0.9v0.9h-0.9zM362.8 305.2h0.9v0.9h-0.9zM363.5 298.4h0.9v0.9h-0.9zM365.0 302.9h0.9v0.9h-0.9zM362.7 282.2h0.9v0.9h-0.9zM363.8 302.6h0.9v0.9h-0.9zM363.0 307.1h0.9v0.9h-0.9z" fill="#000"/>
<path d="M354.4 283.5h0.9v0.9h-0.9zM352.5 284.5h0.9v0.9h-0.9zM352.3 283.9h0.9v0.9h-0.9zM370.4 288.2h0.9v0.9h-0.9zM338.4 285.5h0.9v0.9h-0.9zM343.4 285.1h0.9v0.9h-0.9zM349.2 285.1h0.9v0.9h-0.9zM360.2 285.8h0.9v0.9h-0.9zM342.7 285.8h0.9v0.9h-0.9zM347.4 286.1h0.9v0.9h-0.9zM361.6 285.8h0.9v0.9h-0.9zM362.1 288.4h0.9v0.9h-0.9zM358.1 285.0h0.9v0.9h-0.9zM342.7 285.9h0.9v0.9h-0.9zM346.6 285.8h0.9v0.9h-0.9zM355.5 283.0h0.9v0.9h-0.9zM342.3 286.0h0.9v0.9h-0.9zM341.9 285.9h0.9v0.9h-0.9zM353.2 284.1h0.9v0.9h-0.9zM349.6 285.0h0.9v0.9h-0.9zM339.2 285.9h0.9v0.9h-0.9zM362.1 284.0h0.9v0.9h-0.9zM349.6 286.0h0.9v0.9h-0.9zM342.6 285.7h0.9v0.9h-0.9zM346.7 285.4h0.9v0.9h-0.9zM343.2 285.6h0.9v0.9h-0.9zM354.8 286.2h0.9v0.9h-0.9zM360.9 285.7h0.9v0.9h-0.9zM362.0 284.6h0.9v0.9h-0.9zM351.8 284.2h0.9v0.9h-0.9zM358.0 283.3h0.9v0.9h-0.9zM354.5 285.1h0.9v0.9h-0.9zM336.5 284.9h0.9v0.9h-0.9zM338.7 285.9h0.9v0.9h-0.9zM338.8 285.7h0.9v0.9h-0.9zM352.6 284.8h0.9v0.9h-0.9zM349.3 286.0h0.9v0.9h-0.9zM344.1 284.1h0.9v0.9h-0.9zM349.0 285.4h0.9v0.9h-0.9zM351.0 285.3h0.9v0.9h-0.9zM364.0 287.6h0.9v0.9h-0.9zM338.1 285.5h0.9v0.9h-0.9zM344.2 284.3h0.9v0.9h-0.9zM351.9 285.1h0.9v0.9h-0.9zM347.3 285.8h0.9v0.9h-0.9zM355.0 285.8h0.9v0.9h-0.9zM364.2 287.3h0.9v0.9h-0.9zM346.9 285.3h0.9v0.9h-0.9zM333.8 285.6h0.9v0.9h-0.9zM338.1 283.9h0.9v0.9h-0.9z" fill="#000"/>
<text x="332.6" y="247.62" font-size="4.2" text-anchor="end" fill="#222">10<tspan dy="-1.68" font-size="2.94">5</tspan></text>
<line x1="332.8" y1="246.15" x2="333.8" y2="246.15" stroke="#666" stroke-width="0.6"/>
<text x="332.6" y="265.53" font-size="4.2" text-anchor="end" fill="#222">10<tspan dy="-1.68" font-size="2.94">4</tspan></text>
<line x1="332.8" y1="264.06" x2="333.8" y2="264.06" stroke="#666" stroke-width="0.6"/>
<text x="332.6" y="283.35" font-size="4.2" text-anchor="end" fill="#222">10<tspan dy="-1.68" font-size="2.94">3</tspan></text>
<line x1="332.8" y1="281.88" x2="333.8" y2="281.88" stroke="#666" stroke-width="0.6"/>
<text x="332.6" y="301.77" font-size="4.2" text-anchor="end" fill="#222">10<tspan dy="-1.68" font-size="2.94">2</tspan></text>
<line x1="332.8" y1="300.3" x2="333.8" y2="300.3" stroke="#666" stroke-width="0.6"/>
<line x1="332.8" y1="308.45" x2="333.8" y2="308.45" stroke="#666" stroke-width="0.6"/>
<line x1="342.64" y1="315.8" x2="342.64" y2="316.8" stroke="#666" stroke-width="0.6"/>
<text x="350.2" y="321.9" font-size="4.2" text-anchor="middle" fill="#222">10<tspan dy="-1.68" font-size="2.94">2</tspan></text>
<line x1="350.2" y1="315.8" x2="350.2" y2="316.8" stroke="#666" stroke-width="0.6"/>
<text x="368.56" y="321.9" font-size="4.2" text-anchor="middle" fill="#222">10<tspan dy="-1.68" font-size="2.94">3</tspan></text>
<line x1="368.56" y1="315.8" x2="368.56" y2="316.8" stroke="#666" stroke-width="0.6"/>
<text x="387.03" y="321.9" font-size="4.2" text-anchor="middle" fill="#222">10<tspan dy="-1.68" font-size="2.94">4</tspan></text>
<line x1="387.03" y1="315.8" x2="387.03" y2="316.8" stroke="#666" stroke-width="0.6"/>
<text x="403.13" y="321.9" font-size="4.2" text-anchor="middle" fill="#222">10<tspan dy="-1.68" font-size="2.94">5</tspan></text>
<line x1="403.13" y1="315.8" x2="403.13" y2="316.8" stroke="#666" stroke-width="0.6"/>
<rect x="440.4" y="286.8" width="28.1" height="29" fill="#000"/>
<path d="M466.9 282.8h0.9v0.9h-0.9zM469.7 310.6h0.9v0.9h-0.9zM470.7 309.6h0.9v0.9h-0.9zM469.1 293.4h0.9v0.9h-0.9zM471.2 298.7h0.9v0.9h-0.9zM470.9 310.9h0.9v0.9h-0.9zM467.5 282.1h0.9v0.9h-0.9zM470.2 314.8h0.9v0.9h-0.9zM469.9 297.9h0.9v0.9h-0.9zM469.8 289.4h0.9v0.9h-0.9zM469.9 310.8h0.9v0.9h-0.9zM469.1 297.3h0.9v0.9h-0.9zM469.1 302.4h0.9v0.9h-0.9zM467.5 280.5h0.9v0.9h-0.9zM471.6 310.4h0.9v0.9h-0.9zM468.9 280.3h0.9v0.9h-0.9zM469.8 284.9h0.9v0.9h-0.9zM468.9 306.5h0.9v0.9h-0.9zM469.2 291.8h0.9v0.9h-0.9zM467.5 272.9h0.9v0.9h-0.9zM470.1 309.1h0.9v0.9h-0.9zM471.8 308.6h0.9v0.9h-0.9zM468.9 303.5h0.9v0.9h-0.9zM470.1 295.1h0.9v0.9h-0.9zM469.5 303.9h0.9v0.9h-0.9zM468.5 291.5h0.9v0.9h-0.9zM469.8 302.5h0.9v0.9h-0.9zM470.7 300.7h0.9v0.9h-0.9zM468.9 300.7h0.9v0.9h-0.9zM468.7 297.3h0.9v0.9h-0.9zM469.3 285.2h0.9v0.9h-0.9zM469.3 292.3h0.9v0.9h-0.9zM468.0 285.8h0.9v0.9h-0.9zM469.9 301.5h0.9v0.9h-0.9zM470.3 298.6h0.9v0.9h-0.9zM469.2 309.4h0.9v0.9h-0.9zM468.6 298.2h0.9v0.9h-0.9zM470.6 294.8h0.9v0.9h-0.9zM469.2 296.9h0.9v0.9h-0.9zM469.1 306.8h0.9v0.9h-0.9zM470.2 292.6h0.9v0.9h-0.9zM470.7 304.8h0.9v0.9h-0.9zM470.9 297.8h0.9v0.9h-0.9zM468.8 297.3h0.9v0.9h-0.9zM469.7 276.2h0.9v0.9h-0.9zM470.0 281.9h0.9v0.9h-0.9zM468.6 310.7h0.9v0.9h-0.9zM471.5 311.0h0.9v0.9h-0.9zM468.6 300.4h0.9v0.9h-0.9zM472.3 305.3h0.9v0.9h-0.9zM468.6 303.3h0.9v0.9h-0.9zM467.8 280.4h0.9v0.9h-0.9zM469.6 277.3h0.9v0.9h-0.9zM469.4 287.8h0.9v0.9h-0.9zM470.2 308.9h0.9v0.9h-0.9z" fill="#000"/>
<path d="M446.8 284.5h0.9v0.9h-0.9zM454.3 285.8h0.9v0.9h-0.9zM446.8 286.6h0.9v0.9h-0.9zM457.2 285.1h0.9v0.9h-0.9zM465.6 286.0h0.9v0.9h-0.9zM448.4 286.4h0.9v0.9h-0.9zM459.7 285.4h0.9v0.9h-0.9zM448.4 286.1h0.9v0.9h-0.9zM464.6 286.7h0.9v0.9h-0.9zM463.9 285.9h0.9v0.9h-0.9zM451.5 285.9h0.9v0.9h-0.9zM471.0 286.9h0.9v0.9h-0.9zM454.7 285.8h0.9v0.9h-0.9zM464.2 284.7h0.9v0.9h-0.9zM456.9 284.4h0.9v0.9h-0.9zM452.4 286.7h0.9v0.9h-0.9zM451.5 284.0h0.9v0.9h-0.9zM469.5 285.3h0.9v0.9h-0.9zM463.6 286.6h0.9v0.9h-0.9zM462.4 286.3h0.9v0.9h-0.9zM441.8 285.4h0.9v0.9h-0.9zM457.3 284.3h0.9v0.9h-0.9zM452.5 286.1h0.9v0.9h-0.9zM453.8 285.4h0.9v0.9h-0.9zM455.6 286.5h0.9v0.9h-0.9zM461.5 285.4h0.9v0.9h-0.9zM444.5 284.6h0.9v0.9h-0.9zM473.3 286.0h0.9v0.9h-0.9zM463.8 285.7h0.9v0.9h-0.9zM453.5 286.0h0.9v0.9h-0.9zM455.1 286.8h0.9v0.9h-0.9zM470.0 284.6h0.9v0.9h-0.9zM451.0 286.5h0.9v0.9h-0.9zM456.0 286.6h0.9v0.9h-0.9zM444.6 285.3h0.9v0.9h-0.9zM458.3 286.3h0.9v0.9h-0.9zM472.3 289.1h0.9v0.9h-0.9zM445.3 284.7h0.9v0.9h-0.9zM454.8 285.7h0.9v0.9h-0.9zM458.3 285.9h0.9v0.9h-0.9zM460.9 284.7h0.9v0.9h-0.9zM454.2 285.2h0.9v0.9h-0.9zM457.6 286.8h0.9v0.9h-0.9zM456.3 284.6h0.9v0.9h-0.9zM450.7 286.3h0.9v0.9h-0.9zM443.3 284.8h0.9v0.9h-0.9zM451.8 285.6h0.9v0.9h-0.9zM453.0 282.2h0.9v0.9h-0.9zM466.1 285.1h0.9v0.9h-0.9zM470.7 284.4h0.9v0.9h-0.9z" fill="#000"/>
<text x="439.2" y="247.62" font-size="4.2" text-anchor="end" fill="#222">10<tspan dy="-1.68" font-size="2.94">5</tspan></text>
<line x1="439.4" y1="246.15" x2="440.4" y2="246.15" stroke="#666" stroke-width="0.6"/>
<text x="439.2" y="265.53" font-size="4.2" text-anchor="end" fill="#222">10<tspan dy="-1.68" font-size="2.94">4</tspan></text>
<line x1="439.4" y1="264.06" x2="440.4" y2="264.06" stroke="#666" stroke-width="0.6"/>
<text x="439.2" y="283.35" font-size="4.2" text-anchor="end" fill="#222">10<tspan dy="-1.68" font-size="2.94">3</tspan></text>
<line x1="439.4" y1="281.88" x2="440.4" y2="281.88" stroke="#666" stroke-width="0.6"/>
<text x="439.2" y="301.77" font-size="4.2" text-anchor="end" fill="#222">10<tspan dy="-1.68" font-size="2.94">2</tspan></text>
<line x1="439.4" y1="300.3" x2="440.4" y2="300.3" stroke="#666" stroke-width="0.6"/>
<line x1="439.4" y1="308.45" x2="440.4" y2="308.45" stroke="#666" stroke-width="0.6"/>
<line x1="449.32" y1="315.8" x2="449.32" y2="316.8" stroke="#666" stroke-width="0.6"/>
<text x="456.95" y="321.9" font-size="4.2" text-anchor="middle" fill="#222">10<tspan dy="-1.68" font-size="2.94">2</tspan></text>
<line x1="456.95" y1="315.8" x2="456.95" y2="316.8" stroke="#666" stroke-width="0.6"/>
<text x="475.48" y="321.9" font-size="4.2" text-anchor="middle" fill="#222">10<tspan dy="-1.68" font-size="2.94">3</tspan></text>
<line x1="475.48" y1="315.8" x2="475.48" y2="316.8" stroke="#666" stroke-width="0.6"/>
<text x="494.11" y="321.9" font-size="4.2" text-anchor="middle" fill="#222">10<tspan dy="-1.68" font-size="2.94">4</tspan></text>
<line x1="494.11" y1="315.8" x2="494.11" y2="316.8" stroke="#666" stroke-width="0.6"/>
<text x="510.37" y="321.9" font-size="4.2" text-anchor="middle" fill="#222">10<tspan dy="-1.68" font-size="2.94">5</tspan></text>
<line x1="510.37" y1="315.8" x2="510.37" y2="316.8" stroke="#666" stroke-width="0.6"/>
<path d="M88.6 258.6h0.9v0.9h-0.9zM91.9 258.4h0.9v0.9h-0.9zM94.6 260.3h0.9v0.9h-0.9zM88.8 258.3h0.9v0.9h-0.9zM92.3 258.7h0.9v0.9h-0.9zM92.3 259.5h0.9v0.9h-0.9zM89.0 262.4h0.9v0.9h-0.9zM92.9 259.0h0.9v0.9h-0.9zM90.3 257.7h0.9v0.9h-0.9zM89.4 260.4h0.9v0.9h-0.9zM90.2 263.0h0.9v0.9h-0.9zM91.6 259.5h0.9v0.9h-0.9zM87.6 260.4h0.9v0.9h-0.9zM91.0 255.7h0.9v0.9h-0.9zM94.9 260.8h0.9v0.9h-0.9zM94.5 259.7h0.9v0.9h-0.9zM88.9 261.4h0.9v0.9h-0.9zM91.5 260.5h0.9v0.9h-0.9zM90.2 263.8h0.9v0.9h-0.9zM95.0 264.0h0.9v0.9h-0.9zM88.7 265.9h0.9v0.9h-0.9zM97.5 260.8h0.9v0.9h-0.9zM88.6 258.1h0.9v0.9h-0.9zM88.7 257.2h0.9v0.9h-0.9zM96.1 261.4h0.9v0.9h-0.9zM93.5 262.4h0.9v0.9h-0.9zM92.7 261.7h0.9v0.9h-0.9zM92.4 258.2h0.9v0.9h-0.9zM96.6 258.5h0.9v0.9h-0.9zM97.7 262.7h0.9v0.9h-0.9zM91.9 260.4h0.9v0.9h-0.9zM91.8 255.9h0.9v0.9h-0.9zM94.9 261.3h0.9v0.9h-0.9zM97.0 259.2h0.9v0.9h-0.9zM91.6 256.9h0.9v0.9h-0.9zM87.9 257.3h0.9v0.9h-0.9zM91.1 259.9h0.9v0.9h-0.9zM92.0 260.8h0.9v0.9h-0.9zM91.0 262.3h0.9v0.9h-0.9zM87.3 258.9h0.9v0.9h-0.9zM91.4 260.7h0.9v0.9h-0.9zM94.5 258.2h0.9v0.9h-0.9zM93.9 259.0h0.9v0.9h-0.9zM87.2 256.6h0.9v0.9h-0.9zM87.8 260.8h0.9v0.9h-0.9zM97.0 265.0h0.9v0.9h-0.9zM90.8 264.0h0.9v0.9h-0.9zM88.9 263.1h0.9v0.9h-0.9zM91.5 261.1h0.9v0.9h-0.9zM88.6 258.2h0.9v0.9h-0.9zM93.8 257.1h0.9v0.9h-0.9zM90.6 261.4h0.9v0.9h-0.9zM95.6 259.8h0.9v0.9h-0.9zM94.4 259.2h0.9v0.9h-0.9zM92.2 262.7h0.9v0.9h-0.9zM90.4 260.3h0.9v0.9h-0.9zM93.0 265.0h0.9v0.9h-0.9zM88.4 259.2h0.9v0.9h-0.9zM87.4 262.5h0.9v0.9h-0.9zM90.5 261.0h0.9v0.9h-0.9zM93.1 260.8h0.9v0.9h-0.9zM89.9 261.3h0.9v0.9h-0.9zM97.2 261.4h0.9v0.9h-0.9zM91.2 261.7h0.9v0.9h-0.9zM92.9 258.5h0.9v0.9h-0.9zM94.1 261.9h0.9v0.9h-0.9zM88.5 262.1h0.9v0.9h-0.9zM90.5 260.8h0.9v0.9h-0.9zM89.9 262.2h0.9v0.9h-0.9zM89.9 258.9h0.9v0.9h-0.9zM96.5 256.6h0.9v0.9h-0.9zM90.6 260.0h0.9v0.9h-0.9zM94.3 261.6h0.9v0.9h-0.9zM88.4 261.2h0.9v0.9h-0.9zM89.9 260.4h0.9v0.9h-0.9zM87.5 260.6h0.9v0.9h-0.9zM89.8 262.0h0.9v0.9h-0.9zM88.1 258.3h0.9v0.9h-0.9zM90.1 260.0h0.9v0.9h-0.9zM91.9 262.5h0.9v0.9h-0.9z" fill="#000"/>
<path d="M99.1 262.2h0.9v0.9h-0.9zM100.8 260.5h0.9v0.9h-0.9zM94.0 260.2h0.9v0.9h-0.9zM94.5 260.4h0.9v0.9h-0.9zM96.0 264.4h0.9v0.9h-0.9zM96.8 260.8h0.9v0.9h-0.9zM97.2 263.0h0.9v0.9h-0.9zM97.4 258.5h0.9v0.9h-0.9zM102.2 259.2h0.9v0.9h-0.9zM95.4 260.5h0.9v0.9h-0.9zM90.7 260.7h0.9v0.9h-0.9zM96.8 261.6h0.9v0.9h-0.9zM94.1 260.2h0.9v0.9h-0.9zM104.4 259.1h0.9v0.9h-0.9zM97.4 264.5h0.9v0.9h-0.9zM94.1 260.6h0.9v0.9h-0.9zM93.7 261.0h0.9v0.9h-0.9zM102.8 261.4h0.9v0.9h-0.9zM99.4 261.3h0.9v0.9h-0.9zM95.9 259.4h0.9v0.9h-0.9zM95.1 259.8h0.9v0.9h-0.9zM109.3 258.1h0.9v0.9h-0.9zM100.4 264.3h0.9v0.9h-0.9zM97.6 259.3h0.9v0.9h-0.9zM92.5 260.6h0.9v0.9h-0.9zM97.1 261.1h0.9v0.9h-0.9zM100.2 262.5h0.9v0.9h-0.9zM97.3 260.8h0.9v0.9h-0.9zM97.8 257.9h0.9v0.9h-0.9zM92.7 262.5h0.9v0.9h-0.9zM98.2 256.4h0.9v0.9h-0.9zM98.1 257.6h0.9v0.9h-0.9zM94.5 265.1h0.9v0.9h-0.9zM95.2 260.1h0.9v0.9h-0.9zM99.0 262.2h0.9v0.9h-0.9zM98.4 262.8h0.9v0.9h-0.9zM96.8 263.9h0.9v0.9h-0.9zM93.6 258.4h0.9v0.9h-0.9zM92.1 260.6h0.9v0.9h-0.9zM97.4 260.4h0.9v0.9h-0.9zM96.4 260.6h0.9v0.9h-0.9zM98.7 259.6h0.9v0.9h-0.9zM89.4 259.5h0.9v0.9h-0.9zM98.2 258.5h0.9v0.9h-0.9zM95.8 263.1h0.9v0.9h-0.9zM98.0 262.3h0.9v0.9h-0.9zM97.9 260.9h0.9v0.9h-0.9zM94.5 263.8h0.9v0.9h-0.9zM100.0 260.9h0.9v0.9h-0.9zM103.0 264.2h0.9v0.9h-0.9zM95.1 261.6h0.9v0.9h-0.9zM97.7 263.4h0.9v0.9h-0.9zM102.3 265.4h0.9v0.9h-0.9zM98.7 262.3h0.9v0.9h-0.9zM102.1 260.5h0.9v0.9h-0.9zM98.9 261.0h0.9v0.9h-0.9zM105.9 257.3h0.9v0.9h-0.9zM99.5 259.6h0.9v0.9h-0.9zM95.2 261.2h0.9v0.9h-0.9zM98.8 254.8h0.9v0.9h-0.9zM95.5 263.7h0.9v0.9h-0.9zM90.4 259.6h0.9v0.9h-0.9zM94.6 260.0h0.9v0.9h-0.9zM95.1 265.4h0.9v0.9h-0.9zM99.8 260.7h0.9v0.9h-0.9zM96.1 259.1h0.9v0.9h-0.9zM95.3 259.9h0.9v0.9h-0.9zM98.3 261.7h0.9v0.9h-0.9zM100.3 258.2h0.9v0.9h-0.9zM96.5 260.2h0.9v0.9h-0.9zM94.1 263.7h0.9v0.9h-0.9zM97.6 259.3h0.9v0.9h-0.9zM95.6 262.4h0.9v0.9h-0.9zM95.3 259.5h0.9v0.9h-0.9zM99.0 263.1h0.9v0.9h-0.9zM95.0 255.3h0.9v0.9h-0.9zM95.7 259.9h0.9v0.9h-0.9zM98.0 259.8h0.9v0.9h-0.9zM102.5 261.1h0.9v0.9h-0.9zM99.1 259.7h0.9v0.9h-0.9z" fill="#000"/>
<path d="M106.1 256.3h0.9v0.9h-0.9zM96.4 258.0h0.9v0.9h-0.9zM102.7 259.4h0.9v0.9h-0.9zM101.3 263.6h0.9v0.9h-0.9zM99.7 262.7h0.9v0.9h-0.9zM103.5 263.0h0.9v0.9h-0.9zM97.9 260.8h0.9v0.9h-0.9zM105.0 258.6h0.9v0.9h-0.9zM100.1 259.6h0.9v0.9h-0.9zM103.7 264.6h0.9v0.9h-0.9zM100.2 255.6h0.9v0.9h-0.9zM101.6 259.0h0.9v0.9h-0.9zM101.4 261.1h0.9v0.9h-0.9zM104.0 260.4h0.9v0.9h-0.9zM106.6 258.7h0.9v0.9h-0.9zM110.3 261.2h0.9v0.9h-0.9zM103.1 267.2h0.9v0.9h-0.9zM103.4 262.1h0.9v0.9h-0.9zM100.6 256.2h0.9v0.9h-0.9zM102.5 257.8h0.9v0.9h-0.9zM102.5 260.8h0.9v0.9h-0.9zM103.7 259.7h0.9v0.9h-0.9zM101.8 264.7h0.9v0.9h-0.9zM105.6 261.2h0.9v0.9h-0.9zM100.3 263.2h0.9v0.9h-0.9zM103.3 261.3h0.9v0.9h-0.9zM101.1 259.3h0.9v0.9h-0.9zM103.9 262.2h0.9v0.9h-0.9zM98.8 259.5h0.9v0.9h-0.9zM94.9 258.5h0.9v0.9h-0.9zM104.0 260.8h0.9v0.9h-0.9zM103.2 259.1h0.9v0.9h-0.9zM101.1 257.1h0.9v0.9h-0.9zM101.7 260.3h0.9v0.9h-0.9zM104.1 263.4h0.9v0.9h-0.9zM105.0 263.2h0.9v0.9h-0.9zM101.1 260.7h0.9v0.9h-0.9zM110.7 264.4h0.9v0.9h-0.9zM102.8 260.7h0.9v0.9h-0.9zM102.0 266.0h0.9v0.9h-0.9zM105.1 261.5h0.9v0.9h-0.9zM102.4 261.3h0.9v0.9h-0.9zM106.2 260.8h0.9v0.9h-0.9zM99.2 258.7h0.9v0.9h-0.9zM106.3 254.3h0.9v0.9h-0.9zM105.0 261.2h0.9v0.9h-0.9zM97.8 258.2h0.9v0.9h-0.9zM98.2 261.5h0.9v0.9h-0.9zM97.2 262.1h0.9v0.9h-0.9zM101.8 262.2h0.9v0.9h-0.9zM108.4 258.7h0.9v0.9h-0.9zM103.9 264.0h0.9v0.9h-0.9zM106.7 261.0h0.9v0.9h-0.9zM106.3 260.2h0.9v0.9h-0.9zM105.4 258.3h0.9v0.9h-0.9zM102.1 261.2h0.9v0.9h-0.9zM101.3 256.6h0.9v0.9h-0.9zM105.7 261.9h0.9v0.9h-0.9zM101.9 263.9h0.9v0.9h-0.9zM100.8 259.1h0.9v0.9h-0.9zM102.1 262.3h0.9v0.9h-0.9zM102.7 260.7h0.9v0.9h-0.9zM110.0 264.0h0.9v0.9h-0.9zM99.0 261.1h0.9v0.9h-0.9zM101.6 257.6h0.9v0.9h-0.9zM100.8 260.3h0.9v0.9h-0.9zM104.4 260.5h0.9v0.9h-0.9zM104.3 262.2h0.9v0.9h-0.9zM97.0 261.8h0.9v0.9h-0.9zM101.3 256.3h0.9v0.9h-0.9zM108.7 260.1h0.9v0.9h-0.9zM98.3 261.9h0.9v0.9h-0.9zM102.1 258.5h0.9v0.9h-0.9zM102.3 261.3h0.9v0.9h-0.9zM101.1 263.7h0.9v0.9h-0.9zM100.8 258.3h0.9v0.9h-0.9zM94.6 259.8h0.9v0.9h-0.9zM100.5 260.4h0.9v0.9h-0.9zM105.2 262.6h0.9v0.9h-0.9zM107.2 259.6h0.9v0.9h-0.9z" fill="#000"/>
<path d="M104.6 263.7h0.9v0.9h-0.9zM102.7 259.7h0.9v0.9h-0.9zM115.8 258.9h0.9v0.9h-0.9zM109.5 258.8h0.9v0.9h-0.9zM107.8 261.2h0.9v0.9h-0.9zM111.6 261.1h0.9v0.9h-0.9zM108.9 260.6h0.9v0.9h-0.9zM106.5 262.1h0.9v0.9h-0.9zM106.8 260.6h0.9v0.9h-0.9zM109.3 260.5h0.9v0.9h-0.9zM106.3 260.0h0.9v0.9h-0.9zM112.3 264.3h0.9v0.9h-0.9zM109.2 264.0h0.9v0.9h-0.9zM110.4 260.7h0.9v0.9h-0.9zM111.2 265.5h0.9v0.9h-0.9zM110.4 264.6h0.9v0.9h-0.9zM107.6 264.7h0.9v0.9h-0.9zM108.8 260.6h0.9v0.9h-0.9zM106.8 262.4h0.9v0.9h-0.9zM111.0 258.8h0.9v0.9h-0.9zM105.3 260.1h0.9v0.9h-0.9zM107.6 258.6h0.9v0.9h-0.9zM107.9 258.5h0.9v0.9h-0.9zM115.0 260.9h0.9v0.9h-0.9zM109.7 257.4h0.9v0.9h-0.9zM110.6 259.5h0.9v0.9h-0.9zM111.8 255.6h0.9v0.9h-0.9zM108.7 260.3h0.9v0.9h-0.9zM109.2 259.5h0.9v0.9h-0.9zM108.8 261.2h0.9v0.9h-0.9zM108.8 259.8h0.9v0.9h-0.9zM105.7 261.2h0.9v0.9h-0.9zM111.6 258.2h0.9v0.9h-0.9zM110.4 262.3h0.9v0.9h-0.9zM102.9 257.3h0.9v0.9h-0.9zM104.6 262.2h0.9v0.9h-0.9zM107.5 261.6h0.9v0.9h-0.9zM105.5 261.1h0.9v0.9h-0.9zM116.6 260.3h0.9v0.9h-0.9zM109.6 261.8h0.9v0.9h-0.9zM102.0 257.3h0.9v0.9h-0.9zM110.0 264.6h0.9v0.9h-0.9zM108.8 261.6h0.9v0.9h-0.9zM108.6 257.5h0.9v0.9h-0.9zM111.7 262.7h0.9v0.9h-0.9zM112.4 264.2h0.9v0.9h-0.9zM109.5 257.1h0.9v0.9h-0.9zM107.0 261.3h0.9v0.9h-0.9zM104.3 261.1h0.9v0.9h-0.9zM107.5 260.8h0.9v0.9h-0.9zM104.6 262.5h0.9v0.9h-0.9zM109.5 261.2h0.9v0.9h-0.9zM113.2 258.4h0.9v0.9h-0.9zM110.9 260.8h0.9v0.9h-0.9zM109.5 261.0h0.9v0.9h-0.9zM106.8 259.0h0.9v0.9h-0.9zM106.3 261.3h0.9v0.9h-0.9zM106.2 257.7h0.9v0.9h-0.9zM113.7 263.1h0.9v0.9h-0.9zM108.9 261.4h0.9v0.9h-0.9zM108.2 261.4h0.9v0.9h-0.9zM99.1 259.2h0.9v0.9h-0.9zM108.5 260.7h0.9v0.9h-0.9zM111.3 260.6h0.9v0.9h-0.9zM108.5 260.1h0.9v0.9h-0.9zM111.2 261.2h0.9v0.9h-0.9zM110.1 262.8h0.9v0.9h-0.9zM111.0 259.3h0.9v0.9h-0.9zM108.5 260.7h0.9v0.9h-0.9zM112.1 262.1h0.9v0.9h-0.9zM107.0 263.2h0.9v0.9h-0.9zM108.0 262.1h0.9v0.9h-0.9zM105.1 258.5h0.9v0.9h-0.9zM111.0 260.8h0.9v0.9h-0.9zM109.8 259.9h0.9v0.9h-0.9zM105.8 262.7h0.9v0.9h-0.9zM107.0 263.4h0.9v0.9h-0.9zM106.2 260.1h0.9v0.9h-0.9zM106.2 257.4h0.9v0.9h-0.9zM109.3 260.4h0.9v0.9h-0.9z" fill="#000"/>
<path d="M97.5 278.4h0.9v0.9h-0.9zM98.1 262.8h0.9v0.9h-0.9zM95.6 268.3h0.9v0.9h-0.9zM95.3 275.5h0.9v0.9h-0.9zM97.9 267.6h0.9v0.9h-0.9zM104.2 266.9h0.9v0.9h-0.9zM103.1 276.1h0.9v0.9h-0.9zM94.3 277.1h0.9v0.9h-0.9zM110.4 276.5h0.9v0.9h-0.9zM94.5 270.0h0.9v0.9h-0.9zM108.8 279.9h0.9v0.9h-0.9zM93.7 273.7h0.9v0.9h-0.9zM95.5 268.0h0.9v0.9h-0.9zM91.4 276.4h0.9v0.9h-0.9zM101.9 277.3h0.9v0.9h-0.9zM87.7 280.3h0.9v0.9h-0.9zM101.6 272.6h0.9v0.9h-0.9zM103.8 271.2h0.9v0.9h-0.9zM100.3 276.4h0.9v0.9h-0.9zM97.3 277.3h0.9v0.9h-0.9zM93.0 276.2h0.9v0.9h-0.9zM92.1 272.9h0.9v0.9h-0.9zM103.6 276.3h0.9v0.9h-0.9zM98.7 269.7h0.9v0.9h-0.9zM102.8 270.7h0.9v0.9h-0.9zM88.7 275.4h0.9v0.9h-0.9zM99.0 276.1h0.9v0.9h-0.9zM90.1 277.4h0.9v0.9h-0.9zM91.5 266.0h0.9v0.9h-0.9zM112.6 275.8h0.9v0.9h-0.9zM106.1 272.5h0.9v0.9h-0.9zM93.8 273.4h0.9v0.9h-0.9zM102.4 273.4h0.9v0.9h-0.9zM92.0 286.9h0.9v0.9h-0.9zM100.3 262.1h0.9v0.9h-0.9zM88.2 272.4h0.9v0.9h-0.9zM100.7 272.3h0.9v0.9h-0.9zM103.5 276.7h0.9v0.9h-0.9zM93.5 270.6h0.9v0.9h-0.9zM95.6 275.2h0.9v0.9h-0.9zM108.7 273.1h0.9v0.9h-0.9zM95.6 266.7h0.9v0.9h-0.9zM104.8 277.2h0.9v0.9h-0.9zM91.8 269.5h0.9v0.9h-0.9zM103.6 277.6h0.9v0.9h-0.9zM102.3 275.3h0.9v0.9h-0.9zM90.9 275.4h0.9v0.9h-0.9zM91.8 271.6h0.9v0.9h-0.9zM92.5 274.0h0.9v0.9h-0.9zM93.1 277.9h0.9v0.9h-0.9zM102.0 270.3h0.9v0.9h-0.9zM98.1 265.3h0.9v0.9h-0.9zM107.3 278.7h0.9v0.9h-0.9zM118.6 265.9h0.9v0.9h-0.9zM93.2 273.3h0.9v0.9h-0.9zM96.5 269.7h0.9v0.9h-0.9zM88.5 281.2h0.9v0.9h-0.9zM100.6 272.4h0.9v0.9h-0.9zM103.8 264.5h0.9v0.9h-0.9zM87.9 275.0h0.9v0.9h-0.9zM93.4 273.4h0.9v0.9h-0.9zM89.8 269.9h0.9v0.9h-0.9zM104.7 267.8h0.9v0.9h-0.9zM103.5 280.9h0.9v0.9h-0.9zM91.9 265.9h0.9v0.9h-0.9zM102.5 276.2h0.9v0.9h-0.9zM97.0 267.9h0.9v0.9h-0.9zM88.9 270.1h0.9v0.9h-0.9zM104.4 279.2h0.9v0.9h-0.9zM106.2 278.4h0.9v0.9h-0.9zM101.1 283.7h0.9v0.9h-0.9zM90.4 277.6h0.9v0.9h-0.9zM98.6 273.7h0.9v0.9h-0.9zM92.3 273.4h0.9v0.9h-0.9zM108.5 274.2h0.9v0.9h-0.9zM94.9 268.5h0.9v0.9h-0.9zM103.3 279.5h0.9v0.9h-0.9zM108.2 264.2h0.9v0.9h-0.9zM100.1 273.5h0.9v0.9h-0.9zM97.8 272.6h0.9v0.9h-0.9zM104.4 273.5h0.9v0.9h-0.9zM98.0 275.1h0.9v0.9h-0.9zM109.8 275.5h0.9v0.9h-0.9zM103.3 282.4h0.9v0.9h-0.9zM98.7 275.2h0.9v0.9h-0.9z" fill="#000"/>
<path d="M115.0 264.0h0.9v0.9h-0.9zM121.0 253.9h0.9v0.9h-0.9zM126.6 265.4h0.9v0.9h-0.9zM122.3 255.6h0.9v0.9h-0.9zM126.1 259.0h0.9v0.9h-0.9zM126.3 260.0h0.9v0.9h-0.9zM122.5 255.2h0.9v0.9h-0.9zM126.8 258.2h0.9v0.9h-0.9zM121.6 259.6h0.9v0.9h-0.9zM126.2 255.6h0.9v0.9h-0.9zM115.9 262.7h0.9v0.9h-0.9zM127.2 259.9h0.9v0.9h-0.9zM125.2 255.2h0.9v0.9h-0.9zM122.2 264.4h0.9v0.9h-0.9zM127.2 263.2h0.9v0.9h-0.9zM126.1 259.0h0.9v0.9h-0.9zM125.0 259.7h0.9v0.9h-0.9zM124.7 261.0h0.9v0.9h-0.9zM128.7 260.9h0.9v0.9h-0.9zM126.9 261.7h0.9v0.9h-0.9zM128.1 259.6h0.9v0.9h-0.9zM123.8 258.6h0.9v0.9h-0.9zM119.7 255.5h0.9v0.9h-0.9zM121.5 256.5h0.9v0.9h-0.9zM127.5 260.4h0.9v0.9h-0.9zM125.9 257.4h0.9v0.9h-0.9zM124.9 257.3h0.9v0.9h-0.9zM122.0 258.8h0.9v0.9h-0.9zM121.1 259.7h0.9v0.9h-0.9zM129.7 261.2h0.9v0.9h-0.9zM130.1 261.1h0.9v0.9h-0.9zM127.7 262.2h0.9v0.9h-0.9zM124.0 262.4h0.9v0.9h-0.9zM117.6 255.5h0.9v0.9h-0.9zM118.4 260.1h0.9v0.9h-0.9zM120.8 257.8h0.9v0.9h-0.9zM125.5 258.3h0.9v0.9h-0.9zM123.1 258.8h0.9v0.9h-0.9zM125.5 255.5h0.9v0.9h-0.9zM127.6 258.0h0.9v0.9h-0.9zM126.2 254.1h0.9v0.9h-0.9zM122.6 263.4h0.9v0.9h-0.9zM122.5 259.4h0.9v0.9h-0.9zM124.4 260.1h0.9v0.9h-0.9zM126.9 261.7h0.9v0.9h-0.9zM118.6 258.6h0.9v0.9h-0.9zM125.6 254.3h0.9v0.9h-0.9zM120.4 260.9h0.9v0.9h-0.9zM126.7 256.9h0.9v0.9h-0.9zM123.9 256.7h0.9v0.9h-0.9zM127.2 259.1h0.9v0.9h-0.9zM124.2 257.5h0.9v0.9h-0.9zM127.1 261.2h0.9v0.9h-0.9zM126.2 254.8h0.9v0.9h-0.9zM121.5 257.3h0.9v0.9h-0.9z" fill="#000"/>
<path d="M119.8 271.1h0.9v0.9h-0.9zM117.3 289.0h0.9v0.9h-0.9zM113.1 257.9h0.9v0.9h-0.9zM118.6 264.5h0.9v0.9h-0.9zM125.2 277.8h0.9v0.9h-0.9zM117.9 271.7h0.9v0.9h-0.9zM114.1 265.3h0.9v0.9h-0.9zM114.4 271.2h0.9v0.9h-0.9zM122.4 270.7h0.9v0.9h-0.9zM125.6 276.0h0.9v0.9h-0.9zM122.1 275.6h0.9v0.9h-0.9zM130.9 276.2h0.9v0.9h-0.9z" fill="#000"/>
<path d="M206.6 271.3h0.9v0.9h-0.9zM222.8 278.9h0.9v0.9h-0.9zM196.9 275.4h0.9v0.9h-0.9zM210.0 272.9h0.9v0.9h-0.9zM210.6 275.1h0.9v0.9h-0.9zM212.1 271.9h0.9v0.9h-0.9zM224.1 281.2h0.9v0.9h-0.9zM212.3 273.8h0.9v0.9h-0.9zM215.5 274.8h0.9v0.9h-0.9zM217.0 271.2h0.9v0.9h-0.9zM212.5 273.7h0.9v0.9h-0.9zM205.0 273.7h0.9v0.9h-0.9zM217.8 279.9h0.9v0.9h-0.9zM203.8 278.4h0.9v0.9h-0.9zM222.8 286.3h0.9v0.9h-0.9zM214.6 275.4h0.9v0.9h-0.9zM198.1 268.8h0.9v0.9h-0.9zM216.3 277.0h0.9v0.9h-0.9zM218.9 268.0h0.9v0.9h-0.9zM217.7 270.3h0.9v0.9h-0.9zM222.1 277.5h0.9v0.9h-0.9zM205.2 279.8h0.9v0.9h-0.9z" fill="#000"/>
<path d="M348.3 275.1h0.9v0.9h-0.9zM344.2 273.0h0.9v0.9h-0.9zM357.6 271.9h0.9v0.9h-0.9zM346.2 276.0h0.9v0.9h-0.9zM349.7 275.2h0.9v0.9h-0.9zM346.9 284.2h0.9v0.9h-0.9zM342.7 285.3h0.9v0.9h-0.9zM350.5 280.6h0.9v0.9h-0.9zM346.7 260.3h0.9v0.9h-0.9zM337.1 262.0h0.9v0.9h-0.9zM351.4 258.2h0.9v0.9h-0.9zM355.4 266.8h0.9v0.9h-0.9zM334.9 277.0h0.9v0.9h-0.9zM350.3 277.8h0.9v0.9h-0.9zM347.5 286.0h0.9v0.9h-0.9zM339.9 276.4h0.9v0.9h-0.9zM337.6 280.4h0.9v0.9h-0.9zM346.2 264.1h0.9v0.9h-0.9zM335.0 272.6h0.9v0.9h-0.9zM344.2 283.9h0.9v0.9h-0.9zM356.0 277.2h0.9v0.9h-0.9zM343.9 260.0h0.9v0.9h-0.9zM349.7 267.6h0.9v0.9h-0.9zM353.1 277.7h0.9v0.9h-0.9zM350.4 283.7h0.9v0.9h-0.9zM348.0 275.4h0.9v0.9h-0.9zM351.8 279.5h0.9v0.9h-0.9zM361.5 273.4h0.9v0.9h-0.9zM350.0 270.5h0.9v0.9h-0.9zM354.6 277.9h0.9v0.9h-0.9zM339.9 267.0h0.9v0.9h-0.9zM357.9 266.2h0.9v0.9h-0.9zM343.1 279.5h0.9v0.9h-0.9zM335.1 282.2h0.9v0.9h-0.9zM349.1 271.3h0.9v0.9h-0.9zM356.8 273.7h0.9v0.9h-0.9zM343.9 277.6h0.9v0.9h-0.9zM356.1 275.5h0.9v0.9h-0.9zM340.8 269.9h0.9v0.9h-0.9zM351.2 273.1h0.9v0.9h-0.9zM335.7 282.6h0.9v0.9h-0.9zM354.3 282.1h0.9v0.9h-0.9zM343.6 278.6h0.9v0.9h-0.9zM341.4 276.5h0.9v0.9h-0.9zM345.9 269.0h0.9v0.9h-0.9zM334.1 277.8h0.9v0.9h-0.9zM357.1 269.1h0.9v0.9h-0.9zM335.3 271.9h0.9v0.9h-0.9zM341.5 274.4h0.9v0.9h-0.9zM350.3 269.5h0.9v0.9h-0.9zM342.6 269.8h0.9v0.9h-0.9zM355.6 271.9h0.9v0.9h-0.9zM361.7 266.0h0.9v0.9h-0.9zM340.0 280.5h0.9v0.9h-0.9zM363.8 270.5h0.9v0.9h-0.9zM357.7 264.0h0.9v0.9h-0.9zM341.0 271.6h0.9v0.9h-0.9zM347.5 275.5h0.9v0.9h-0.9zM357.8 286.0h0.9v0.9h-0.9zM350.0 277.5h0.9v0.9h-0.9zM334.5 262.0h0.9v0.9h-0.9zM347.0 271.6h0.9v0.9h-0.9zM344.9 263.2h0.9v0.9h-0.9zM339.2 283.4h0.9v0.9h-0.9zM352.2 271.8h0.9v0.9h-0.9zM356.1 272.2h0.9v0.9h-0.9zM342.6 271.0h0.9v0.9h-0.9zM359.8 273.1h0.9v0.9h-0.9zM353.0 277.0h0.9v0.9h-0.9zM350.1 276.7h0.9v0.9h-0.9zM345.0 281.2h0.9v0.9h-0.9zM349.0 280.1h0.9v0.9h-0.9zM333.9 271.4h0.9v0.9h-0.9zM356.7 280.5h0.9v0.9h-0.9zM351.6 272.4h0.9v0.9h-0.9zM344.4 281.2h0.9v0.9h-0.9zM353.8 282.8h0.9v0.9h-0.9zM356.9 275.1h0.9v0.9h-0.9zM349.9 272.0h0.9v0.9h-0.9zM348.2 284.1h0.9v0.9h-0.9zM343.8 265.7h0.9v0.9h-0.9zM349.0 278.6h0.9v0.9h-0.9zM359.3 281.3h0.9v0.9h-0.9zM352.0 274.7h0.9v0.9h-0.9zM358.0 268.6h0.9v0.9h-0.9zM337.5 267.3h0.9v0.9h-0.9zM354.2 278.7h0.9v0.9h-0.9zM348.4 269.3h0.9v0.9h-0.9zM339.1 278.8h0.9v0.9h-0.9zM341.4 277.6h0.9v0.9h-0.9zM335.4 275.4h0.9v0.9h-0.9zM347.9 276.2h0.9v0.9h-0.9zM340.2 278.0h0.9v0.9h-0.9zM359.1 263.3h0.9v0.9h-0.9zM358.9 277.8h0.9v0.9h-0.9zM343.5 274.4h0.9v0.9h-0.9zM350.4 263.4h0.9v0.9h-0.9zM342.0 267.8h0.9v0.9h-0.9zM342.3 269.5h0.9v0.9h-0.9zM338.8 284.0h0.9v0.9h-0.9zM356.6 277.2h0.9v0.9h-0.9zM357.4 275.8h0.9v0.9h-0.9zM355.2 279.4h0.9v0.9h-0.9zM347.7 274.7h0.9v0.9h-0.9zM350.8 269.6h0.9v0.9h-0.9zM348.3 270.2h0.9v0.9h-0.9zM342.0 277.3h0.9v0.9h-0.9zM341.2 276.0h0.9v0.9h-0.9zM355.3 268.6h0.9v0.9h-0.9zM335.6 272.9h0.9v0.9h-0.9zM334.0 265.1h0.9v0.9h-0.9zM342.7 276.5h0.9v0.9h-0.9zM347.4 280.3h0.9v0.9h-0.9zM343.5 269.4h0.9v0.9h-0.9zM357.6 277.6h0.9v0.9h-0.9zM352.5 281.7h0.9v0.9h-0.9zM334.9 281.0h0.9v0.9h-0.9zM345.2 276.9h0.9v0.9h-0.9zM362.3 276.3h0.9v0.9h-0.9zM367.1 275.6h0.9v0.9h-0.9zM340.9 284.5h0.9v0.9h-0.9zM347.4 272.8h0.9v0.9h-0.9zM344.3 268.4h0.9v0.9h-0.9zM359.1 275.2h0.9v0.9h-0.9zM337.5 275.8h0.9v0.9h-0.9zM363.6 277.9h0.9v0.9h-0.9zM340.9 283.5h0.9v0.9h-0.9zM342.4 267.8h0.9v0.9h-0.9zM349.3 276.0h0.9v0.9h-0.9zM352.9 275.8h0.9v0.9h-0.9zM341.7 273.2h0.9v0.9h-0.9zM344.4 269.2h0.9v0.9h-0.9zM354.9 274.2h0.9v0.9h-0.9zM337.4 270.7h0.9v0.9h-0.9zM352.1 278.9h0.9v0.9h-0.9zM336.0 276.1h0.9v0.9h-0.9zM341.5 268.9h0.9v0.9h-0.9zM346.3 278.0h0.9v0.9h-0.9zM338.3 264.8h0.9v0.9h-0.9zM357.3 273.7h0.9v0.9h-0.9zM364.8 277.7h0.9v0.9h-0.9zM349.9 276.0h0.9v0.9h-0.9zM355.0 277.9h0.9v0.9h-0.9zM360.7 285.1h0.9v0.9h-0.9zM347.4 284.8h0.9v0.9h-0.9zM343.4 278.6h0.9v0.9h-0.9zM348.6 270.5h0.9v0.9h-0.9zM347.4 282.2h0.9v0.9h-0.9zM344.4 272.9h0.9v0.9h-0.9zM341.1 279.6h0.9v0.9h-0.9z" fill="#000"/>
<path d="M376.0 267.1h0.9v0.9h-0.9zM364.3 276.7h0.9v0.9h-0.9zM374.0 272.4h0.9v0.9h-0.9zM360.5 266.3h0.9v0.9h-0.9zM365.5 272.2h0.9v0.9h-0.9zM365.2 274.5h0.9v0.9h-0.9zM373.0 273.7h0.9v0.9h-0.9zM374.2 271.7h0.9v0.9h-0.9zM370.2 268.9h0.9v0.9h-0.9zM367.1 262.6h0.9v0.9h-0.9zM366.0 280.1h0.9v0.9h-0.9zM365.1 269.6h0.9v0.9h-0.9zM363.5 273.1h0.9v0.9h-0.9zM361.9 277.1h0.9v0.9h-0.9zM368.6 273.0h0.9v0.9h-0.9zM372.4 281.2h0.9v0.9h-0.9zM377.7 270.4h0.9v0.9h-0.9zM372.2 271.3h0.9v0.9h-0.9zM368.7 277.3h0.9v0.9h-0.9zM364.1 277.3h0.9v0.9h-0.9zM372.4 272.1h0.9v0.9h-0.9zM370.7 271.8h0.9v0.9h-0.9zM363.4 268.0h0.9v0.9h-0.9zM359.9 264.8h0.9v0.9h-0.9zM371.3 269.1h0.9v0.9h-0.9zM366.4 282.1h0.9v0.9h-0.9zM368.0 275.6h0.9v0.9h-0.9zM372.7 266.7h0.9v0.9h-0.9zM362.3 271.0h0.9v0.9h-0.9zM369.4 276.4h0.9v0.9h-0.9zM374.0 277.0h0.9v0.9h-0.9zM365.8 274.9h0.9v0.9h-0.9zM370.5 276.3h0.9v0.9h-0.9zM362.1 270.3h0.9v0.9h-0.9zM366.8 267.5h0.9v0.9h-0.9zM372.8 268.8h0.9v0.9h-0.9zM376.2 263.3h0.9v0.9h-0.9zM376.1 276.0h0.9v0.9h-0.9zM372.5 268.9h0.9v0.9h-0.9zM370.3 275.4h0.9v0.9h-0.9zM359.4 266.0h0.9v0.9h-0.9zM368.0 270.6h0.9v0.9h-0.9zM365.8 273.8h0.9v0.9h-0.9zM361.1 270.5h0.9v0.9h-0.9zM373.2 265.8h0.9v0.9h-0.9zM372.3 262.4h0.9v0.9h-0.9zM370.5 274.2h0.9v0.9h-0.9zM364.6 266.8h0.9v0.9h-0.9zM373.4 279.5h0.9v0.9h-0.9zM366.8 267.3h0.9v0.9h-0.9z" fill="#000"/>
<path d="M452.6 281.5h0.9v0.9h-0.9zM454.2 283.8h0.9v0.9h-0.9zM458.6 278.2h0.9v0.9h-0.9zM451.2 283.2h0.9v0.9h-0.9zM463.3 280.3h0.9v0.9h-0.9zM463.2 279.9h0.9v0.9h-0.9zM454.4 284.0h0.9v0.9h-0.9zM447.4 277.7h0.9v0.9h-0.9zM456.9 280.1h0.9v0.9h-0.9zM446.1 285.4h0.9v0.9h-0.9zM455.0 283.0h0.9v0.9h-0.9zM465.5 283.7h0.9v0.9h-0.9zM453.5 285.5h0.9v0.9h-0.9zM453.4 283.5h0.9v0.9h-0.9zM456.2 281.2h0.9v0.9h-0.9zM460.1 279.7h0.9v0.9h-0.9zM463.2 279.6h0.9v0.9h-0.9zM465.5 280.9h0.9v0.9h-0.9z" fill="#000"/>
<line x1="86.4" y1="329.6" x2="268" y2="329.6" stroke="#444" stroke-width="1.1"/>
<path d="M270 329.6 L266.8 328.1 L266.8 331.1Z" fill="#111"/>
<line x1="333.8" y1="329.6" x2="515" y2="329.6" stroke="#444" stroke-width="1.1"/>
<path d="M516.8 329.6 L513.6 328.1 L513.6 331.1Z" fill="#111"/>
<line x1="36.1" y1="365.4" x2="36.1" y2="413.4" stroke="#333" stroke-width="1.25"/>
<line x1="36.1" y1="416.8" x2="36.1" y2="492.7" stroke="#333" stroke-width="1.25"/>
<line x1="36.1" y1="492.7" x2="164" y2="492.7" stroke="#333" stroke-width="1.3"/>
<line x1="34.5" y1="365.5" x2="36.1" y2="365.5" stroke="#333" stroke-width="0.8"/>
<line x1="34.5" y1="385.6" x2="36.1" y2="385.6" stroke="#333" stroke-width="0.8"/>
<line x1="34.5" y1="405.2" x2="36.1" y2="405.2" stroke="#333" stroke-width="0.8"/>
<line x1="34.5" y1="417.7" x2="36.1" y2="417.7" stroke="#333" stroke-width="0.8"/>
<line x1="34.5" y1="442.5" x2="36.1" y2="442.5" stroke="#333" stroke-width="0.8"/>
<line x1="34.5" y1="467.5" x2="36.1" y2="467.5" stroke="#333" stroke-width="0.8"/>
<line x1="34.5" y1="492.7" x2="36.1" y2="492.7" stroke="#333" stroke-width="0.8"/>
<text x="13.6" y="424.7" font-size="9.7" text-anchor="middle" transform="rotate(-90 13.6 424.7)">% of CD40L<tspan font-size="5.5" dy="-3.5">+</tspan><tspan dy="3.5"> CD8</tspan><tspan font-size="5.5" dy="-3.5">+</tspan><tspan dy="3.5"> T cells</tspan></text>
<line x1="57.3" y1="429.8" x2="57.3" y2="476.3" stroke="#333" stroke-width="1"/>
<line x1="50.1" y1="429.8" x2="64.5" y2="429.8" stroke="#333" stroke-width="1"/>
<line x1="50.1" y1="476.3" x2="64.5" y2="476.3" stroke="#333" stroke-width="1"/>
<line x1="43.5" y1="453.3" x2="71.1" y2="453.3" stroke="#333" stroke-width="1"/>
<circle cx="57.3" cy="372.5" r="1.1" fill="#000"/>
<circle cx="57.3" cy="393.2" r="1.1" fill="#000"/>
<circle cx="57.3" cy="443.7" r="1.1" fill="#000"/>
<circle cx="57.3" cy="466.7" r="1.1" fill="#000"/>
<circle cx="57.3" cy="480.2" r="1.1" fill="#000"/>
<circle cx="57.3" cy="487.9" r="1.1" fill="#000"/>
<circle cx="56" cy="489.5" r="1.1" fill="#000"/>
<circle cx="58.6" cy="489.5" r="1.1" fill="#000"/>
<circle cx="46.8" cy="492" r="1.1" fill="#000"/>
<circle cx="49.5" cy="492" r="1.1" fill="#000"/>
<circle cx="52.2" cy="492" r="1.1" fill="#000"/>
<circle cx="54.8" cy="492" r="1.1" fill="#000"/>
<circle cx="57.3" cy="492" r="1.1" fill="#000"/>
<circle cx="59.9" cy="492" r="1.1" fill="#000"/>
<circle cx="62.5" cy="492" r="1.1" fill="#000"/>
<circle cx="65.2" cy="492" r="1.1" fill="#000"/>
<circle cx="67.8" cy="492" r="1.1" fill="#000"/>
<line x1="99.9" y1="471.2" x2="99.9" y2="483.4" stroke="#333" stroke-width="1"/>
<line x1="92.7" y1="471.2" x2="107.1" y2="471.2" stroke="#333" stroke-width="1"/>
<line x1="92.7" y1="483.4" x2="107.1" y2="483.4" stroke="#333" stroke-width="1"/>
<line x1="86.1" y1="477.2" x2="113.7" y2="477.2" stroke="#333" stroke-width="1"/>
<circle cx="99.7" cy="409" r="1.1" fill="#000"/>
<circle cx="98" cy="453" r="1.1" fill="#000"/>
<circle cx="101.4" cy="453.8" r="1.1" fill="#000"/>
<circle cx="99.9" cy="474" r="1.1" fill="#000"/>
<circle cx="99.9" cy="480.5" r="1.1" fill="#000"/>
<circle cx="99.9" cy="486.5" r="1.1" fill="#000"/>
<circle cx="97" cy="486.8" r="1.1" fill="#000"/>
<circle cx="102.8" cy="486.8" r="1.1" fill="#000"/>
<circle cx="90.5" cy="489.6" r="1.1" fill="#000"/>
<circle cx="93" cy="489.6" r="1.1" fill="#000"/>
<circle cx="95.5" cy="489.6" r="1.1" fill="#000"/>
<circle cx="98" cy="489.6" r="1.1" fill="#000"/>
<circle cx="100.5" cy="490.3" r="1.1" fill="#000"/>
<circle cx="103" cy="490.3" r="1.1" fill="#000"/>
<circle cx="105.5" cy="490.3" r="1.1" fill="#000"/>
<circle cx="108" cy="490.3" r="1.1" fill="#000"/>
<circle cx="110.5" cy="490.3" r="1.1" fill="#000"/>
<circle cx="96" cy="492" r="1.1" fill="#000"/>
<circle cx="99.9" cy="492" r="1.1" fill="#000"/>
<circle cx="103.5" cy="492" r="1.1" fill="#000"/>
<line x1="142.3" y1="440.9" x2="142.3" y2="464.6" stroke="#333" stroke-width="1"/>
<line x1="135.1" y1="440.9" x2="149.5" y2="440.9" stroke="#333" stroke-width="1"/>
<line x1="135.1" y1="464.6" x2="149.5" y2="464.6" stroke="#333" stroke-width="1"/>
<line x1="128.5" y1="452.8" x2="156.1" y2="452.8" stroke="#333" stroke-width="1"/>
<circle cx="142.2" cy="386" r="1.1" fill="#000"/>
<circle cx="140.8" cy="403.8" r="1.1" fill="#000"/>
<circle cx="143.9" cy="404.7" r="1.1" fill="#000"/>
<circle cx="139" cy="408.5" r="1.1" fill="#000"/>
<circle cx="142.2" cy="411" r="1.1" fill="#000"/>
<circle cx="145.4" cy="409" r="1.1" fill="#000"/>
<circle cx="142.2" cy="433.2" r="1.1" fill="#000"/>
<circle cx="142.2" cy="439.3" r="1.1" fill="#000"/>
<circle cx="142.3" cy="466" r="1.1" fill="#000"/>
<circle cx="142.3" cy="472.3" r="1.1" fill="#000"/>
<circle cx="140.5" cy="478" r="1.1" fill="#000"/>
<circle cx="143.8" cy="478" r="1.1" fill="#000"/>
<circle cx="140.5" cy="481" r="1.1" fill="#000"/>
<circle cx="143.8" cy="481" r="1.1" fill="#000"/>
<circle cx="142.3" cy="485" r="1.1" fill="#000"/>
<circle cx="131.5" cy="491.8" r="1.1" fill="#000"/>
<circle cx="134" cy="491.8" r="1.1" fill="#000"/>
<circle cx="136.5" cy="491.8" r="1.1" fill="#000"/>
<circle cx="139" cy="491.8" r="1.1" fill="#000"/>
<circle cx="141.5" cy="491.8" r="1.1" fill="#000"/>
<circle cx="144" cy="491.8" r="1.1" fill="#000"/>
<circle cx="146.5" cy="491.8" r="1.1" fill="#000"/>
<circle cx="149" cy="491.8" r="1.1" fill="#000"/>
<circle cx="151.5" cy="491.8" r="1.1" fill="#000"/>
<circle cx="154" cy="491.8" r="1.1" fill="#000"/>
<circle cx="134" cy="488.6" r="1.1" fill="#000"/>
<circle cx="137" cy="488.6" r="1.1" fill="#000"/>
<circle cx="140" cy="488.6" r="1.1" fill="#000"/>
<circle cx="143" cy="488.6" r="1.1" fill="#000"/>
<circle cx="146" cy="488.6" r="1.1" fill="#000"/>
<circle cx="149.5" cy="488.6" r="1.1" fill="#000"/>
<line x1="213" y1="365.6" x2="213" y2="429.3" stroke="#333" stroke-width="1.25"/>
<line x1="213" y1="432.8" x2="213" y2="492.5" stroke="#333" stroke-width="1.25"/>
<line x1="213" y1="492.5" x2="340" y2="492.5" stroke="#333" stroke-width="1.3"/>
<line x1="211.4" y1="365.6" x2="213" y2="365.6" stroke="#333" stroke-width="0.8"/>
<line x1="211.4" y1="380.3" x2="213" y2="380.3" stroke="#333" stroke-width="0.8"/>
<line x1="211.4" y1="394.7" x2="213" y2="394.7" stroke="#333" stroke-width="0.8"/>
<line x1="211.4" y1="408.8" x2="213" y2="408.8" stroke="#333" stroke-width="0.8"/>
<line x1="211.4" y1="423.1" x2="213" y2="423.1" stroke="#333" stroke-width="0.8"/>
<line x1="211.4" y1="433.2" x2="213" y2="433.2" stroke="#333" stroke-width="0.8"/>
<line x1="211.4" y1="453.1" x2="213" y2="453.1" stroke="#333" stroke-width="0.8"/>
<line x1="211.4" y1="473.1" x2="213" y2="473.1" stroke="#333" stroke-width="0.8"/>
<line x1="211.4" y1="492.5" x2="213" y2="492.5" stroke="#333" stroke-width="0.8"/>
<text x="192.4" y="424.4" font-size="10.1" text-anchor="middle" transform="rotate(-90 192.2 424.7)">% of IFN<tspan font-size="8" dy="1.2">γ</tspan><tspan font-size="5.5" dy="-4.7">+</tspan><tspan dy="3.5"> CD8</tspan><tspan font-size="5.5" dy="-3.5">+</tspan><tspan dy="3.5"> T cells</tspan></text>
<line x1="234.4" y1="414.4" x2="234.4" y2="423.6" stroke="#555" stroke-width="1"/>
<line x1="227.2" y1="414.4" x2="241.6" y2="414.4" stroke="#555" stroke-width="1"/>
<line x1="227.2" y1="423.6" x2="241.6" y2="423.6" stroke="#555" stroke-width="1"/>
<line x1="220.6" y1="418.9" x2="248.2" y2="418.9" stroke="#555" stroke-width="1"/>
<circle cx="234.4" cy="378.6" r="1.1" fill="#000"/>
<circle cx="234.4" cy="382.9" r="1.1" fill="#000"/>
<circle cx="234.4" cy="399.3" r="1.1" fill="#000"/>
<circle cx="233" cy="406" r="1.1" fill="#000"/>
<circle cx="236.5" cy="406" r="1.1" fill="#000"/>
<circle cx="234.4" cy="416.5" r="1.1" fill="#000"/>
<circle cx="229.5" cy="425.8" r="1.1" fill="#000"/>
<circle cx="232.5" cy="426.2" r="1.1" fill="#000"/>
<circle cx="235.5" cy="426.2" r="1.1" fill="#000"/>
<circle cx="239" cy="425.8" r="1.1" fill="#000"/>
<circle cx="234.3" cy="439.2" r="1.1" fill="#000"/>
<circle cx="234.3" cy="457.4" r="1.1" fill="#000"/>
<circle cx="232.5" cy="477.7" r="1.1" fill="#000"/>
<circle cx="236" cy="479.7" r="1.1" fill="#000"/>
<circle cx="232.5" cy="490.5" r="1.1" fill="#000"/>
<circle cx="236" cy="490.5" r="1.1" fill="#000"/>
<line x1="276.6" y1="481.2" x2="276.6" y2="486.4" stroke="#444" stroke-width="1"/>
<line x1="269.4" y1="481.2" x2="283.8" y2="481.2" stroke="#444" stroke-width="1"/>
<line x1="269.4" y1="486.4" x2="283.8" y2="486.4" stroke="#444" stroke-width="1"/>
<line x1="262.8" y1="483.8" x2="290.4" y2="483.8" stroke="#444" stroke-width="1"/>
<circle cx="276.6" cy="450.7" r="0.8" fill="#000"/>
<circle cx="276.6" cy="460.8" r="0.8" fill="#000"/>
<circle cx="275.5" cy="478.5" r="0.8" fill="#000"/>
<circle cx="276.6" cy="484.5" r="0.8" fill="#000"/>
<circle cx="279" cy="485" r="0.8" fill="#000"/>
<circle cx="266" cy="489.5" r="0.8" fill="#000"/>
<circle cx="269" cy="489.5" r="0.8" fill="#000"/>
<circle cx="272" cy="489.5" r="0.8" fill="#000"/>
<circle cx="275" cy="489.5" r="0.8" fill="#000"/>
<circle cx="278" cy="489.5" r="0.8" fill="#000"/>
<circle cx="281" cy="489.5" r="0.8" fill="#000"/>
<circle cx="284" cy="489.5" r="0.8" fill="#000"/>
<circle cx="287" cy="489.5" r="0.8" fill="#000"/>
<circle cx="270" cy="492" r="0.8" fill="#000"/>
<circle cx="276.6" cy="492" r="0.8" fill="#000"/>
<circle cx="283" cy="492" r="0.8" fill="#000"/>
<line x1="319.4" y1="449" x2="319.4" y2="475.5" stroke="#333" stroke-width="1"/>
<line x1="312.2" y1="449" x2="326.6" y2="449" stroke="#333" stroke-width="1"/>
<line x1="312.2" y1="475.5" x2="326.6" y2="475.5" stroke="#333" stroke-width="1"/>
<line x1="305.6" y1="462.2" x2="333.2" y2="462.2" stroke="#333" stroke-width="1"/>
<circle cx="319.2" cy="397.9" r="1.1" fill="#000"/>
<circle cx="319.2" cy="403.8" r="1.1" fill="#000"/>
<circle cx="319.4" cy="442.6" r="1.1" fill="#000"/>
<circle cx="318" cy="465.1" r="1.1" fill="#000"/>
<circle cx="321" cy="465.1" r="1.1" fill="#000"/>
<circle cx="316.5" cy="469.4" r="1.1" fill="#000"/>
<circle cx="322.5" cy="469.4" r="1.1" fill="#000"/>
<circle cx="319.4" cy="472.5" r="1.1" fill="#000"/>
<circle cx="319.4" cy="475.5" r="1.1" fill="#000"/>
<circle cx="308.8" cy="484.7" r="1.1" fill="#000"/>
<circle cx="311.5" cy="484.7" r="1.1" fill="#000"/>
<circle cx="314.2" cy="484.7" r="1.1" fill="#000"/>
<circle cx="316.9" cy="485.7" r="1.1" fill="#000"/>
<circle cx="319.6" cy="485.7" r="1.1" fill="#000"/>
<circle cx="322.3" cy="485.7" r="1.1" fill="#000"/>
<circle cx="325" cy="484.7" r="1.1" fill="#000"/>
<circle cx="327.7" cy="484.7" r="1.1" fill="#000"/>
<circle cx="330.4" cy="484.7" r="1.1" fill="#000"/>
<circle cx="308.5" cy="490" r="1.1" fill="#000"/>
<circle cx="310.95" cy="490" r="1.1" fill="#000"/>
<circle cx="313.4" cy="490" r="1.1" fill="#000"/>
<circle cx="315.85" cy="490" r="1.1" fill="#000"/>
<circle cx="318.3" cy="490.8" r="1.1" fill="#000"/>
<circle cx="320.75" cy="490.8" r="1.1" fill="#000"/>
<circle cx="323.2" cy="490" r="1.1" fill="#000"/>
<circle cx="325.65" cy="490" r="1.1" fill="#000"/>
<circle cx="328.1" cy="490" r="1.1" fill="#000"/>
<circle cx="330.55" cy="490" r="1.1" fill="#000"/>
<line x1="390.9" y1="365.9" x2="390.9" y2="492.7" stroke="#333" stroke-width="1.25"/>
<line x1="390.9" y1="492.7" x2="390.9" y2="492.7" stroke="#333" stroke-width="1.25"/>
<line x1="390.9" y1="492.7" x2="518" y2="492.7" stroke="#333" stroke-width="1.3"/>
<line x1="389.3" y1="365.9" x2="390.9" y2="365.9" stroke="#333" stroke-width="0.8"/>
<line x1="389.3" y1="391.3" x2="390.9" y2="391.3" stroke="#333" stroke-width="0.8"/>
<line x1="389.3" y1="416.7" x2="390.9" y2="416.7" stroke="#333" stroke-width="0.8"/>
<line x1="389.3" y1="442.1" x2="390.9" y2="442.1" stroke="#333" stroke-width="0.8"/>
<line x1="389.3" y1="467.4" x2="390.9" y2="467.4" stroke="#333" stroke-width="0.8"/>
<line x1="389.3" y1="492.7" x2="390.9" y2="492.7" stroke="#333" stroke-width="0.8"/>
<line x1="390.9" y1="365.9" x2="390.9" y2="492.7" stroke="#333" stroke-width="1"/>
<text x="361.6" y="425" font-size="10.2" text-anchor="middle" transform="rotate(-90 361.4 425)">% of CD40L<tspan font-size="5.5" dy="-3.5">+</tspan><tspan dy="3.5"> among</tspan></text>
<text x="372.6" y="424.1" font-size="9.9" text-anchor="middle" transform="rotate(-90 372.6 424.1)">IFN<tspan font-size="8" dy="1.2">γ</tspan><tspan font-size="5.5" dy="-4.7">+</tspan><tspan dy="3.5"> CD8</tspan><tspan font-size="5.5" dy="-3.5">+</tspan><tspan dy="3.5"> T cells</tspan></text>
<line x1="412.3" y1="470.5" x2="412.3" y2="487.2" stroke="#333" stroke-width="1"/>
<line x1="405.1" y1="470.5" x2="419.5" y2="470.5" stroke="#333" stroke-width="1"/>
<line x1="405.1" y1="487.2" x2="419.5" y2="487.2" stroke="#333" stroke-width="1"/>
<line x1="398.5" y1="478.8" x2="426.1" y2="478.8" stroke="#333" stroke-width="1"/>
<circle cx="412.2" cy="374.2" r="1.1" fill="#000"/>
<circle cx="412.2" cy="417.2" r="1.1" fill="#000"/>
<circle cx="412.3" cy="475.7" r="1.1" fill="#000"/>
<circle cx="412.3" cy="483" r="1.1" fill="#000"/>
<circle cx="412.3" cy="489.5" r="1.1" fill="#000"/>
<circle cx="411" cy="490.5" r="1.1" fill="#000"/>
<circle cx="413.6" cy="490.5" r="1.1" fill="#000"/>
<circle cx="399" cy="492" r="1.1" fill="#000"/>
<circle cx="401.65" cy="492" r="1.1" fill="#000"/>
<circle cx="404.3" cy="492" r="1.1" fill="#000"/>
<circle cx="406.95" cy="492" r="1.1" fill="#000"/>
<circle cx="409.6" cy="492" r="1.1" fill="#000"/>
<circle cx="412.25" cy="492" r="1.1" fill="#000"/>
<circle cx="414.9" cy="492" r="1.1" fill="#000"/>
<circle cx="417.55" cy="492" r="1.1" fill="#000"/>
<circle cx="420.2" cy="492" r="1.1" fill="#000"/>
<circle cx="422.85" cy="492" r="1.1" fill="#000"/>
<circle cx="425.5" cy="492" r="1.1" fill="#000"/>
<line x1="454.7" y1="447.9" x2="454.7" y2="465.3" stroke="#333" stroke-width="1"/>
<line x1="447.5" y1="447.9" x2="461.9" y2="447.9" stroke="#333" stroke-width="1"/>
<line x1="447.5" y1="465.3" x2="461.9" y2="465.3" stroke="#333" stroke-width="1"/>
<line x1="440.9" y1="456.6" x2="468.5" y2="456.6" stroke="#333" stroke-width="1"/>
<circle cx="454.9" cy="382.8" r="1.1" fill="#000"/>
<circle cx="454.9" cy="387.9" r="1.1" fill="#000"/>
<circle cx="454.9" cy="407.7" r="1.1" fill="#000"/>
<circle cx="454.9" cy="429.8" r="1.1" fill="#000"/>
<circle cx="454.9" cy="437.9" r="1.1" fill="#000"/>
<circle cx="454.9" cy="444.9" r="1.1" fill="#000"/>
<circle cx="454.7" cy="455.5" r="1.1" fill="#000"/>
<circle cx="453.3" cy="473.7" r="1.1" fill="#000"/>
<circle cx="456.3" cy="473.7" r="1.1" fill="#000"/>
<circle cx="451.6" cy="475.7" r="1.1" fill="#000"/>
<circle cx="457.7" cy="475.7" r="1.1" fill="#000"/>
<circle cx="453.3" cy="478" r="1.1" fill="#000"/>
<circle cx="456.2" cy="478" r="1.1" fill="#000"/>
<circle cx="453.3" cy="483.7" r="1.1" fill="#000"/>
<circle cx="451.8" cy="485.5" r="1.1" fill="#000"/>
<circle cx="455.5" cy="486.5" r="1.1" fill="#000"/>
<circle cx="453" cy="490.5" r="1.1" fill="#000"/>
<circle cx="456.2" cy="491.5" r="1.1" fill="#000"/>
<line x1="497" y1="456.5" x2="497" y2="471.2" stroke="#333" stroke-width="1"/>
<line x1="489.8" y1="456.5" x2="504.2" y2="456.5" stroke="#333" stroke-width="1"/>
<line x1="489.8" y1="471.2" x2="504.2" y2="471.2" stroke="#333" stroke-width="1"/>
<line x1="483.2" y1="463.7" x2="510.8" y2="463.7" stroke="#333" stroke-width="1"/>
<circle cx="497" cy="370.5" r="1.1" fill="#000"/>
<circle cx="497" cy="376.3" r="1.1" fill="#000"/>
<circle cx="497" cy="406" r="1.1" fill="#000"/>
<circle cx="497" cy="413" r="1.1" fill="#000"/>
<circle cx="497" cy="435.6" r="1.1" fill="#000"/>
<circle cx="495" cy="447.2" r="1.1" fill="#000"/>
<circle cx="499" cy="445.6" r="1.1" fill="#000"/>
<circle cx="497" cy="460" r="1.1" fill="#000"/>
<circle cx="495.5" cy="481.8" r="1.1" fill="#000"/>
<circle cx="498.5" cy="481.8" r="1.1" fill="#000"/>
<circle cx="494.5" cy="484.5" r="1.1" fill="#000"/>
<circle cx="499.5" cy="484.5" r="1.1" fill="#000"/>
<circle cx="497" cy="487.5" r="1.1" fill="#000"/>
<circle cx="486.5" cy="492" r="1.1" fill="#000"/>
<circle cx="489.1" cy="492" r="1.1" fill="#000"/>
<circle cx="491.7" cy="492" r="1.1" fill="#000"/>
<circle cx="494.3" cy="492" r="1.1" fill="#000"/>
<circle cx="496.9" cy="492" r="1.1" fill="#000"/>
<circle cx="499.5" cy="492" r="1.1" fill="#000"/>
<circle cx="502.1" cy="492" r="1.1" fill="#000"/>
<circle cx="504.7" cy="492" r="1.1" fill="#000"/>
<circle cx="507.3" cy="492" r="1.1" fill="#000"/>
<circle cx="509.9" cy="492" r="1.1" fill="#000"/>
<path d="M37.8 617 L37.8 585.5 L40 584.5 L44.6 583 L51.7 581.5 L56 579.5 L60.5 578.5 L65 578.8 L69 580.8 L71.5 585 L72.8 592 L73.2 600 L73 617Z" fill="#000"/>
<path d="M60.5 577.9h0.9v0.9h-0.9zM75.1 605.7h0.9v0.9h-0.9zM39.8 584.4h0.9v0.9h-0.9zM69.6 581.7h0.9v0.9h-0.9zM51.2 577.9h0.9v0.9h-0.9zM69.0 579.6h0.9v0.9h-0.9zM48.6 582.0h0.9v0.9h-0.9zM75.0 589.3h0.9v0.9h-0.9zM37.4 616.0h0.9v0.9h-0.9zM37.5 593.9h0.9v0.9h-0.9zM75.2 602.3h0.9v0.9h-0.9zM37.4 595.4h0.9v0.9h-0.9zM37.4 597.4h0.9v0.9h-0.9zM36.5 599.4h0.9v0.9h-0.9zM42.6 580.9h0.9v0.9h-0.9zM73.3 580.1h0.9v0.9h-0.9zM47.4 582.3h0.9v0.9h-0.9zM71.4 582.7h0.9v0.9h-0.9zM52.4 580.5h0.9v0.9h-0.9zM75.4 606.2h0.9v0.9h-0.9zM76.2 606.0h0.9v0.9h-0.9zM74.9 604.3h0.9v0.9h-0.9zM49.4 581.7h0.9v0.9h-0.9zM72.5 587.4h0.9v0.9h-0.9zM52.6 578.1h0.9v0.9h-0.9zM73.6 603.5h0.9v0.9h-0.9zM44.5 581.7h0.9v0.9h-0.9zM37.7 601.5h0.9v0.9h-0.9zM37.8 596.7h0.9v0.9h-0.9zM72.4 587.3h0.9v0.9h-0.9zM46.0 579.6h0.9v0.9h-0.9zM37.4 611.8h0.9v0.9h-0.9zM56.7 578.3h0.9v0.9h-0.9zM67.3 577.5h0.9v0.9h-0.9zM57.8 577.6h0.9v0.9h-0.9zM59.3 578.0h0.9v0.9h-0.9zM74.3 597.7h0.9v0.9h-0.9zM36.8 601.1h0.9v0.9h-0.9zM72.4 582.8h0.9v0.9h-0.9zM73.6 607.8h0.9v0.9h-0.9zM75.3 607.8h0.9v0.9h-0.9zM37.3 613.1h0.9v0.9h-0.9zM74.1 606.0h0.9v0.9h-0.9zM61.6 577.5h0.9v0.9h-0.9zM71.0 582.4h0.9v0.9h-0.9zM58.9 578.3h0.9v0.9h-0.9zM37.7 589.2h0.9v0.9h-0.9zM37.6 584.0h0.9v0.9h-0.9zM74.9 610.1h0.9v0.9h-0.9zM37.8 610.0h0.9v0.9h-0.9zM75.6 589.0h0.9v0.9h-0.9zM75.1 596.3h0.9v0.9h-0.9zM37.7 595.6h0.9v0.9h-0.9zM61.2 578.2h0.9v0.9h-0.9zM73.6 608.7h0.9v0.9h-0.9zM48.9 579.8h0.9v0.9h-0.9zM67.3 577.3h0.9v0.9h-0.9zM62.5 577.4h0.9v0.9h-0.9zM71.1 583.6h0.9v0.9h-0.9zM41.0 584.1h0.9v0.9h-0.9zM63.4 578.0h0.9v0.9h-0.9zM37.6 606.0h0.9v0.9h-0.9zM73.4 597.8h0.9v0.9h-0.9zM36.7 597.2h0.9v0.9h-0.9zM53.6 577.1h0.9v0.9h-0.9zM37.4 599.3h0.9v0.9h-0.9zM48.6 580.4h0.9v0.9h-0.9zM70.8 580.2h0.9v0.9h-0.9zM69.7 581.6h0.9v0.9h-0.9zM74.5 603.0h0.9v0.9h-0.9zM36.6 605.4h0.9v0.9h-0.9zM70.7 583.5h0.9v0.9h-0.9zM76.1 607.9h0.9v0.9h-0.9zM73.2 590.2h0.9v0.9h-0.9zM55.9 579.0h0.9v0.9h-0.9zM37.2 596.5h0.9v0.9h-0.9zM37.6 596.2h0.9v0.9h-0.9zM73.7 607.6h0.9v0.9h-0.9zM37.1 601.7h0.9v0.9h-0.9zM37.4 590.8h0.9v0.9h-0.9zM37.6 615.6h0.9v0.9h-0.9zM74.5 589.0h0.9v0.9h-0.9zM36.1 603.5h0.9v0.9h-0.9zM36.9 598.0h0.9v0.9h-0.9zM50.8 580.6h0.9v0.9h-0.9zM36.9 611.6h0.9v0.9h-0.9zM36.8 601.8h0.9v0.9h-0.9zM58.8 578.2h0.9v0.9h-0.9zM36.8 591.1h0.9v0.9h-0.9zM55.9 579.4h0.9v0.9h-0.9zM40.8 583.3h0.9v0.9h-0.9zM37.7 601.7h0.9v0.9h-0.9zM37.3 594.8h0.9v0.9h-0.9zM72.8 592.0h0.9v0.9h-0.9zM75.4 598.7h0.9v0.9h-0.9zM72.1 585.4h0.9v0.9h-0.9zM60.2 575.9h0.9v0.9h-0.9zM74.2 600.9h0.9v0.9h-0.9zM43.3 580.4h0.9v0.9h-0.9zM74.3 593.2h0.9v0.9h-0.9zM74.6 595.3h0.9v0.9h-0.9zM37.8 600.2h0.9v0.9h-0.9zM41.7 582.6h0.9v0.9h-0.9zM46.8 582.2h0.9v0.9h-0.9zM43.9 583.2h0.9v0.9h-0.9zM57.2 577.9h0.9v0.9h-0.9zM41.8 582.5h0.9v0.9h-0.9zM37.4 584.9h0.9v0.9h-0.9zM45.9 582.1h0.9v0.9h-0.9zM75.3 596.2h0.9v0.9h-0.9zM39.9 583.8h0.9v0.9h-0.9zM65.4 577.0h0.9v0.9h-0.9zM37.5 594.6h0.9v0.9h-0.9zM36.8 590.0h0.9v0.9h-0.9zM59.7 577.0h0.9v0.9h-0.9zM57.4 578.6h0.9v0.9h-0.9zM45.1 582.8h0.9v0.9h-0.9zM40.8 583.4h0.9v0.9h-0.9zM55.7 578.5h0.9v0.9h-0.9zM67.5 579.2h0.9v0.9h-0.9zM37.5 609.6h0.9v0.9h-0.9zM75.1 613.6h0.9v0.9h-0.9zM71.5 583.1h0.9v0.9h-0.9zM74.6 587.5h0.9v0.9h-0.9zM69.0 578.7h0.9v0.9h-0.9zM37.2 611.6h0.9v0.9h-0.9zM73.4 612.1h0.9v0.9h-0.9zM74.0 600.8h0.9v0.9h-0.9zM36.9 586.8h0.9v0.9h-0.9zM73.7 604.7h0.9v0.9h-0.9zM37.6 615.1h0.9v0.9h-0.9zM73.5 602.7h0.9v0.9h-0.9zM75.5 598.1h0.9v0.9h-0.9zM58.7 578.6h0.9v0.9h-0.9zM36.2 588.2h0.9v0.9h-0.9zM74.6 590.9h0.9v0.9h-0.9zM37.4 614.1h0.9v0.9h-0.9zM73.1 610.8h0.9v0.9h-0.9zM50.2 581.5h0.9v0.9h-0.9zM74.9 596.0h0.9v0.9h-0.9zM36.9 591.7h0.9v0.9h-0.9zM74.1 605.9h0.9v0.9h-0.9zM50.1 580.9h0.9v0.9h-0.9zM62.4 577.9h0.9v0.9h-0.9zM74.7 606.1h0.9v0.9h-0.9zM56.4 579.1h0.9v0.9h-0.9zM71.6 581.6h0.9v0.9h-0.9zM73.8 602.2h0.9v0.9h-0.9zM74.0 604.9h0.9v0.9h-0.9zM67.9 577.2h0.9v0.9h-0.9zM74.6 613.1h0.9v0.9h-0.9zM75.2 596.2h0.9v0.9h-0.9zM73.6 597.4h0.9v0.9h-0.9zM37.2 607.3h0.9v0.9h-0.9zM44.5 582.1h0.9v0.9h-0.9zM73.3 608.7h0.9v0.9h-0.9zM74.3 596.4h0.9v0.9h-0.9zM37.4 607.3h0.9v0.9h-0.9zM64.2 578.5h0.9v0.9h-0.9zM59.5 577.0h0.9v0.9h-0.9zM37.7 611.3h0.9v0.9h-0.9zM73.9 586.8h0.9v0.9h-0.9zM72.9 589.0h0.9v0.9h-0.9zM37.3 605.1h0.9v0.9h-0.9zM37.4 603.6h0.9v0.9h-0.9zM37.8 598.1h0.9v0.9h-0.9zM72.8 591.2h0.9v0.9h-0.9zM74.1 602.9h0.9v0.9h-0.9zM63.3 578.6h0.9v0.9h-0.9zM37.8 583.4h0.9v0.9h-0.9zM36.5 605.6h0.9v0.9h-0.9zM37.1 586.6h0.9v0.9h-0.9zM48.9 581.1h0.9v0.9h-0.9zM36.9 605.6h0.9v0.9h-0.9zM37.3 606.8h0.9v0.9h-0.9zM73.9 598.3h0.9v0.9h-0.9zM52.3 580.8h0.9v0.9h-0.9zM40.4 582.1h0.9v0.9h-0.9zM46.9 582.1h0.9v0.9h-0.9zM74.2 604.9h0.9v0.9h-0.9zM48.7 579.6h0.9v0.9h-0.9zM37.2 605.7h0.9v0.9h-0.9zM36.9 608.9h0.9v0.9h-0.9zM60.9 576.3h0.9v0.9h-0.9zM63.4 578.1h0.9v0.9h-0.9zM72.4 588.9h0.9v0.9h-0.9zM37.3 612.1h0.9v0.9h-0.9zM47.8 582.2h0.9v0.9h-0.9zM36.8 599.8h0.9v0.9h-0.9zM37.0 608.0h0.9v0.9h-0.9zM52.2 581.2h0.9v0.9h-0.9zM37.8 607.6h0.9v0.9h-0.9zM36.8 606.2h0.9v0.9h-0.9zM45.1 582.8h0.9v0.9h-0.9zM73.8 603.9h0.9v0.9h-0.9zM73.2 583.9h0.9v0.9h-0.9zM43.7 582.5h0.9v0.9h-0.9zM37.6 600.7h0.9v0.9h-0.9zM73.2 615.4h0.9v0.9h-0.9zM51.0 581.2h0.9v0.9h-0.9zM37.2 598.2h0.9v0.9h-0.9zM71.0 582.0h0.9v0.9h-0.9zM37.6 596.4h0.9v0.9h-0.9zM76.2 586.4h0.9v0.9h-0.9zM71.4 584.6h0.9v0.9h-0.9zM74.7 594.1h0.9v0.9h-0.9zM71.1 583.0h0.9v0.9h-0.9zM36.8 592.2h0.9v0.9h-0.9zM36.7 611.7h0.9v0.9h-0.9zM36.9 607.0h0.9v0.9h-0.9zM58.2 578.7h0.9v0.9h-0.9zM72.9 592.3h0.9v0.9h-0.9zM40.0 582.8h0.9v0.9h-0.9zM45.7 581.6h0.9v0.9h-0.9zM39.3 584.8h0.9v0.9h-0.9zM38.1 583.9h0.9v0.9h-0.9zM71.3 584.6h0.9v0.9h-0.9zM51.4 579.7h0.9v0.9h-0.9zM51.3 578.5h0.9v0.9h-0.9zM73.7 614.4h0.9v0.9h-0.9z" fill="#000"/>
<path d="M37.7 602.7h0.9v0.9h-0.9zM37.1 602.7h0.9v0.9h-0.9zM37.7 584.2h0.9v0.9h-0.9zM37.9 603.8h0.9v0.9h-0.9zM37.6 593.6h0.9v0.9h-0.9zM37.2 598.4h0.9v0.9h-0.9zM37.8 603.2h0.9v0.9h-0.9zM37.5 599.4h0.9v0.9h-0.9zM36.8 612.0h0.9v0.9h-0.9zM36.8 595.6h0.9v0.9h-0.9zM36.4 607.8h0.9v0.9h-0.9zM36.6 609.1h0.9v0.9h-0.9zM37.0 613.2h0.9v0.9h-0.9zM36.3 607.3h0.9v0.9h-0.9zM37.5 602.8h0.9v0.9h-0.9zM38.0 610.7h0.9v0.9h-0.9zM38.3 599.6h0.9v0.9h-0.9zM36.5 597.8h0.9v0.9h-0.9zM36.9 589.1h0.9v0.9h-0.9zM38.1 607.2h0.9v0.9h-0.9zM36.5 591.8h0.9v0.9h-0.9zM37.5 595.1h0.9v0.9h-0.9zM38.2 591.4h0.9v0.9h-0.9zM38.8 615.2h0.9v0.9h-0.9zM37.7 608.2h0.9v0.9h-0.9zM36.4 607.1h0.9v0.9h-0.9zM37.5 581.7h0.9v0.9h-0.9zM38.1 600.4h0.9v0.9h-0.9zM36.4 606.6h0.9v0.9h-0.9zM39.5 586.1h0.9v0.9h-0.9zM36.3 612.9h0.9v0.9h-0.9zM37.4 601.0h0.9v0.9h-0.9zM37.1 592.8h0.9v0.9h-0.9zM38.8 608.9h0.9v0.9h-0.9zM37.5 615.9h0.9v0.9h-0.9zM37.8 603.6h0.9v0.9h-0.9zM37.7 595.6h0.9v0.9h-0.9zM38.2 604.9h0.9v0.9h-0.9zM38.1 596.8h0.9v0.9h-0.9zM38.8 603.3h0.9v0.9h-0.9zM38.6 589.0h0.9v0.9h-0.9zM36.8 602.8h0.9v0.9h-0.9zM36.5 614.1h0.9v0.9h-0.9zM36.9 608.4h0.9v0.9h-0.9zM36.0 591.7h0.9v0.9h-0.9zM37.2 602.2h0.9v0.9h-0.9zM38.0 594.4h0.9v0.9h-0.9zM39.0 581.8h0.9v0.9h-0.9zM38.5 595.9h0.9v0.9h-0.9zM37.8 602.6h0.9v0.9h-0.9zM37.7 592.4h0.9v0.9h-0.9zM37.9 613.1h0.9v0.9h-0.9zM36.3 605.4h0.9v0.9h-0.9zM37.9 596.4h0.9v0.9h-0.9zM36.1 587.1h0.9v0.9h-0.9zM37.0 602.4h0.9v0.9h-0.9zM37.4 607.1h0.9v0.9h-0.9zM37.8 574.0h0.9v0.9h-0.9zM37.5 604.7h0.9v0.9h-0.9zM36.4 604.3h0.9v0.9h-0.9zM38.0 605.7h0.9v0.9h-0.9zM37.4 605.4h0.9v0.9h-0.9zM36.2 616.0h0.9v0.9h-0.9zM38.3 592.5h0.9v0.9h-0.9zM38.5 609.4h0.9v0.9h-0.9zM38.6 595.5h0.9v0.9h-0.9zM36.0 590.3h0.9v0.9h-0.9zM36.3 602.8h0.9v0.9h-0.9zM37.1 599.7h0.9v0.9h-0.9zM37.1 603.7h0.9v0.9h-0.9z" fill="#000"/>
<path d="M41.6 602.2h0.9v0.9h-0.9zM41.6 601.6h0.9v0.9h-0.9zM37.0 607.6h0.9v0.9h-0.9zM40.2 600.9h0.9v0.9h-0.9zM41.7 599.5h0.9v0.9h-0.9zM39.9 593.7h0.9v0.9h-0.9zM38.4 592.7h0.9v0.9h-0.9zM42.1 594.3h0.9v0.9h-0.9zM45.0 604.4h0.9v0.9h-0.9zM39.2 610.9h0.9v0.9h-0.9zM41.1 583.4h0.9v0.9h-0.9zM43.7 600.7h0.9v0.9h-0.9zM38.8 597.0h0.9v0.9h-0.9zM41.0 578.9h0.9v0.9h-0.9zM38.6 600.3h0.9v0.9h-0.9zM40.3 596.9h0.9v0.9h-0.9zM42.7 594.2h0.9v0.9h-0.9zM42.5 612.0h0.9v0.9h-0.9zM39.9 607.8h0.9v0.9h-0.9zM37.0 603.0h0.9v0.9h-0.9zM39.6 600.3h0.9v0.9h-0.9zM40.1 593.8h0.9v0.9h-0.9zM38.2 598.1h0.9v0.9h-0.9zM37.9 587.6h0.9v0.9h-0.9zM40.8 612.7h0.9v0.9h-0.9zM40.5 593.6h0.9v0.9h-0.9zM37.9 593.9h0.9v0.9h-0.9zM41.8 598.3h0.9v0.9h-0.9zM39.0 610.4h0.9v0.9h-0.9zM43.0 583.9h0.9v0.9h-0.9zM36.8 603.2h0.9v0.9h-0.9zM41.3 599.7h0.9v0.9h-0.9zM38.1 605.5h0.9v0.9h-0.9zM40.9 605.2h0.9v0.9h-0.9zM45.1 610.0h0.9v0.9h-0.9zM42.7 598.4h0.9v0.9h-0.9zM40.0 607.5h0.9v0.9h-0.9zM37.4 598.1h0.9v0.9h-0.9zM44.8 602.9h0.9v0.9h-0.9zM42.6 591.0h0.9v0.9h-0.9zM39.3 603.4h0.9v0.9h-0.9zM38.6 601.3h0.9v0.9h-0.9zM38.7 601.8h0.9v0.9h-0.9zM36.9 597.5h0.9v0.9h-0.9zM41.2 601.4h0.9v0.9h-0.9z" fill="#fff"/>
<path d="M131 617 L131 582.8 L134 582.2 L137 581.5 L141 580 L147.3 577.6 L151 576 L154 574.5 L158 574.3 L162.8 576 L164 579 L164.5 590 L164.5 617Z" fill="#000"/>
<path d="M152.2 573.6h0.9v0.9h-0.9zM166.3 597.7h0.9v0.9h-0.9zM165.1 592.5h0.9v0.9h-0.9zM165.2 613.4h0.9v0.9h-0.9zM130.6 612.8h0.9v0.9h-0.9zM164.8 590.9h0.9v0.9h-0.9zM130.1 607.3h0.9v0.9h-0.9zM158.4 573.0h0.9v0.9h-0.9zM159.4 571.4h0.9v0.9h-0.9zM165.6 612.7h0.9v0.9h-0.9zM137.3 581.2h0.9v0.9h-0.9zM130.6 615.0h0.9v0.9h-0.9zM130.0 595.4h0.9v0.9h-0.9zM130.9 609.3h0.9v0.9h-0.9zM130.1 610.3h0.9v0.9h-0.9zM148.6 576.4h0.9v0.9h-0.9zM167.2 586.1h0.9v0.9h-0.9zM167.7 592.3h0.9v0.9h-0.9zM162.7 575.1h0.9v0.9h-0.9zM134.9 581.1h0.9v0.9h-0.9zM161.1 575.1h0.9v0.9h-0.9zM134.5 581.1h0.9v0.9h-0.9zM165.1 597.0h0.9v0.9h-0.9zM165.0 603.2h0.9v0.9h-0.9zM133.7 580.9h0.9v0.9h-0.9zM130.5 612.6h0.9v0.9h-0.9zM166.4 597.2h0.9v0.9h-0.9zM165.7 588.7h0.9v0.9h-0.9zM165.5 609.8h0.9v0.9h-0.9zM159.6 574.8h0.9v0.9h-0.9zM148.2 574.8h0.9v0.9h-0.9zM164.8 594.9h0.9v0.9h-0.9zM165.1 574.5h0.9v0.9h-0.9zM138.1 580.8h0.9v0.9h-0.9zM129.8 584.1h0.9v0.9h-0.9zM163.4 577.1h0.9v0.9h-0.9zM129.8 614.6h0.9v0.9h-0.9zM166.0 605.0h0.9v0.9h-0.9zM164.2 579.2h0.9v0.9h-0.9zM166.8 604.3h0.9v0.9h-0.9zM140.6 577.3h0.9v0.9h-0.9zM165.2 578.3h0.9v0.9h-0.9zM153.3 574.0h0.9v0.9h-0.9zM151.7 574.6h0.9v0.9h-0.9zM130.1 586.9h0.9v0.9h-0.9zM164.6 586.9h0.9v0.9h-0.9zM130.5 603.7h0.9v0.9h-0.9zM165.0 614.7h0.9v0.9h-0.9zM165.2 613.1h0.9v0.9h-0.9zM158.5 574.2h0.9v0.9h-0.9zM165.1 602.3h0.9v0.9h-0.9zM130.6 585.5h0.9v0.9h-0.9zM166.3 589.9h0.9v0.9h-0.9zM150.4 574.6h0.9v0.9h-0.9zM130.0 599.0h0.9v0.9h-0.9zM129.7 586.8h0.9v0.9h-0.9zM167.0 608.5h0.9v0.9h-0.9zM156.9 573.0h0.9v0.9h-0.9zM151.2 574.2h0.9v0.9h-0.9zM164.7 600.3h0.9v0.9h-0.9zM160.7 573.8h0.9v0.9h-0.9zM165.0 592.1h0.9v0.9h-0.9zM167.2 607.8h0.9v0.9h-0.9zM164.4 579.2h0.9v0.9h-0.9zM130.1 595.4h0.9v0.9h-0.9zM164.6 604.3h0.9v0.9h-0.9zM164.8 578.2h0.9v0.9h-0.9zM131.0 597.8h0.9v0.9h-0.9zM164.6 598.6h0.9v0.9h-0.9zM145.9 576.2h0.9v0.9h-0.9zM137.0 581.0h0.9v0.9h-0.9zM160.2 574.2h0.9v0.9h-0.9zM165.5 583.7h0.9v0.9h-0.9zM140.4 578.7h0.9v0.9h-0.9zM146.6 577.3h0.9v0.9h-0.9zM145.0 578.3h0.9v0.9h-0.9zM165.4 609.5h0.9v0.9h-0.9zM134.5 579.9h0.9v0.9h-0.9zM164.8 599.7h0.9v0.9h-0.9zM133.8 580.1h0.9v0.9h-0.9zM165.0 606.1h0.9v0.9h-0.9zM136.3 581.3h0.9v0.9h-0.9zM165.7 591.6h0.9v0.9h-0.9zM165.3 584.6h0.9v0.9h-0.9zM166.5 609.8h0.9v0.9h-0.9zM133.7 581.4h0.9v0.9h-0.9zM165.2 577.2h0.9v0.9h-0.9zM155.0 574.2h0.9v0.9h-0.9zM165.4 585.1h0.9v0.9h-0.9zM130.0 611.3h0.9v0.9h-0.9zM166.3 611.4h0.9v0.9h-0.9zM165.2 606.2h0.9v0.9h-0.9zM151.7 574.2h0.9v0.9h-0.9zM163.5 577.5h0.9v0.9h-0.9zM142.9 578.8h0.9v0.9h-0.9zM165.4 580.6h0.9v0.9h-0.9zM136.3 581.5h0.9v0.9h-0.9zM164.3 585.8h0.9v0.9h-0.9zM145.2 578.0h0.9v0.9h-0.9zM168.7 588.6h0.9v0.9h-0.9zM165.7 614.7h0.9v0.9h-0.9zM129.7 596.7h0.9v0.9h-0.9zM165.4 590.9h0.9v0.9h-0.9zM160.8 574.7h0.9v0.9h-0.9zM130.7 592.4h0.9v0.9h-0.9zM150.0 575.6h0.9v0.9h-0.9zM165.1 596.4h0.9v0.9h-0.9zM137.8 580.0h0.9v0.9h-0.9zM131.0 586.0h0.9v0.9h-0.9zM138.6 580.8h0.9v0.9h-0.9zM165.8 582.0h0.9v0.9h-0.9zM140.6 576.9h0.9v0.9h-0.9zM130.9 590.9h0.9v0.9h-0.9zM166.9 592.9h0.9v0.9h-0.9zM130.0 584.5h0.9v0.9h-0.9zM130.4 585.5h0.9v0.9h-0.9zM130.0 595.9h0.9v0.9h-0.9zM155.0 572.2h0.9v0.9h-0.9zM130.8 582.5h0.9v0.9h-0.9zM166.6 614.8h0.9v0.9h-0.9zM136.3 581.6h0.9v0.9h-0.9zM165.2 583.1h0.9v0.9h-0.9zM150.0 575.3h0.9v0.9h-0.9zM165.4 590.3h0.9v0.9h-0.9zM132.8 582.4h0.9v0.9h-0.9zM149.8 575.1h0.9v0.9h-0.9zM154.7 573.2h0.9v0.9h-0.9zM160.8 574.0h0.9v0.9h-0.9zM164.8 613.0h0.9v0.9h-0.9zM162.7 574.9h0.9v0.9h-0.9zM130.4 603.1h0.9v0.9h-0.9zM158.4 574.1h0.9v0.9h-0.9zM140.4 579.3h0.9v0.9h-0.9zM164.5 580.9h0.9v0.9h-0.9zM134.0 581.7h0.9v0.9h-0.9zM161.7 575.4h0.9v0.9h-0.9zM130.7 592.2h0.9v0.9h-0.9zM144.5 577.4h0.9v0.9h-0.9zM130.9 596.5h0.9v0.9h-0.9zM164.7 592.1h0.9v0.9h-0.9zM139.6 580.1h0.9v0.9h-0.9zM130.6 607.9h0.9v0.9h-0.9zM159.5 571.9h0.9v0.9h-0.9zM157.4 572.5h0.9v0.9h-0.9zM130.4 591.5h0.9v0.9h-0.9zM130.1 613.3h0.9v0.9h-0.9zM166.3 594.6h0.9v0.9h-0.9zM130.5 615.0h0.9v0.9h-0.9zM164.5 602.7h0.9v0.9h-0.9zM165.8 579.7h0.9v0.9h-0.9zM161.7 573.8h0.9v0.9h-0.9zM164.7 574.4h0.9v0.9h-0.9zM130.2 588.3h0.9v0.9h-0.9zM146.0 577.5h0.9v0.9h-0.9zM166.0 597.9h0.9v0.9h-0.9zM132.7 580.1h0.9v0.9h-0.9zM165.7 609.7h0.9v0.9h-0.9zM164.6 615.9h0.9v0.9h-0.9zM164.6 576.5h0.9v0.9h-0.9zM156.6 574.3h0.9v0.9h-0.9zM156.2 573.9h0.9v0.9h-0.9zM164.7 607.9h0.9v0.9h-0.9zM164.6 579.8h0.9v0.9h-0.9zM168.2 614.2h0.9v0.9h-0.9zM166.4 596.9h0.9v0.9h-0.9zM136.6 580.5h0.9v0.9h-0.9zM137.6 580.2h0.9v0.9h-0.9zM137.4 580.7h0.9v0.9h-0.9zM164.6 594.5h0.9v0.9h-0.9zM165.5 603.2h0.9v0.9h-0.9zM129.6 600.8h0.9v0.9h-0.9zM130.2 599.8h0.9v0.9h-0.9zM165.7 583.9h0.9v0.9h-0.9zM167.5 609.8h0.9v0.9h-0.9zM164.6 595.7h0.9v0.9h-0.9zM132.3 579.9h0.9v0.9h-0.9zM137.8 581.1h0.9v0.9h-0.9zM130.1 591.7h0.9v0.9h-0.9zM164.5 585.8h0.9v0.9h-0.9zM140.6 578.8h0.9v0.9h-0.9zM165.2 601.6h0.9v0.9h-0.9zM130.3 603.8h0.9v0.9h-0.9zM164.8 605.3h0.9v0.9h-0.9zM130.9 614.3h0.9v0.9h-0.9zM150.1 576.4h0.9v0.9h-0.9zM147.3 577.2h0.9v0.9h-0.9zM130.6 606.9h0.9v0.9h-0.9zM130.5 609.0h0.9v0.9h-0.9zM164.6 593.5h0.9v0.9h-0.9zM165.9 595.4h0.9v0.9h-0.9zM135.4 580.3h0.9v0.9h-0.9zM164.5 609.2h0.9v0.9h-0.9zM166.4 609.0h0.9v0.9h-0.9zM130.6 596.9h0.9v0.9h-0.9zM167.2 597.2h0.9v0.9h-0.9zM139.6 580.0h0.9v0.9h-0.9zM130.2 587.2h0.9v0.9h-0.9zM131.0 607.2h0.9v0.9h-0.9zM130.8 589.2h0.9v0.9h-0.9zM131.0 592.3h0.9v0.9h-0.9zM166.8 588.6h0.9v0.9h-0.9zM148.5 576.7h0.9v0.9h-0.9zM145.5 577.2h0.9v0.9h-0.9zM144.2 577.8h0.9v0.9h-0.9zM165.1 611.5h0.9v0.9h-0.9zM166.6 595.2h0.9v0.9h-0.9zM160.5 572.6h0.9v0.9h-0.9zM165.4 581.2h0.9v0.9h-0.9zM156.6 573.7h0.9v0.9h-0.9zM135.8 578.7h0.9v0.9h-0.9zM164.5 602.6h0.9v0.9h-0.9zM133.9 581.8h0.9v0.9h-0.9zM165.2 602.1h0.9v0.9h-0.9zM164.7 609.9h0.9v0.9h-0.9zM166.5 589.8h0.9v0.9h-0.9zM164.2 580.9h0.9v0.9h-0.9zM166.9 609.1h0.9v0.9h-0.9zM130.6 583.2h0.9v0.9h-0.9zM144.1 578.6h0.9v0.9h-0.9zM165.5 610.1h0.9v0.9h-0.9zM165.9 609.1h0.9v0.9h-0.9zM164.2 583.7h0.9v0.9h-0.9zM165.0 604.6h0.9v0.9h-0.9zM165.2 610.1h0.9v0.9h-0.9zM166.6 582.9h0.9v0.9h-0.9zM153.9 573.6h0.9v0.9h-0.9zM165.7 604.8h0.9v0.9h-0.9zM142.8 578.7h0.9v0.9h-0.9zM164.7 580.7h0.9v0.9h-0.9zM164.1 580.6h0.9v0.9h-0.9z" fill="#000"/>
<path d="M153.8 571.0h0.9v0.9h-0.9zM156.0 559.2h0.9v0.9h-0.9zM155.5 567.2h0.9v0.9h-0.9zM163.1 572.3h0.9v0.9h-0.9zM159.6 563.2h0.9v0.9h-0.9zM158.9 565.5h0.9v0.9h-0.9zM159.4 571.5h0.9v0.9h-0.9zM157.8 559.8h0.9v0.9h-0.9zM155.8 566.9h0.9v0.9h-0.9zM160.8 569.6h0.9v0.9h-0.9zM161.1 556.6h0.9v0.9h-0.9zM161.9 558.5h0.9v0.9h-0.9zM155.1 567.6h0.9v0.9h-0.9zM164.6 564.3h0.9v0.9h-0.9zM156.4 562.4h0.9v0.9h-0.9zM160.9 562.1h0.9v0.9h-0.9zM158.2 571.3h0.9v0.9h-0.9zM155.4 571.1h0.9v0.9h-0.9zM164.6 574.8h0.9v0.9h-0.9zM158.1 560.3h0.9v0.9h-0.9zM160.0 568.3h0.9v0.9h-0.9zM155.4 571.4h0.9v0.9h-0.9zM156.9 563.9h0.9v0.9h-0.9zM160.3 568.7h0.9v0.9h-0.9zM160.1 567.5h0.9v0.9h-0.9zM161.3 567.0h0.9v0.9h-0.9zM155.0 562.6h0.9v0.9h-0.9zM158.4 568.3h0.9v0.9h-0.9zM153.6 568.5h0.9v0.9h-0.9zM158.8 565.4h0.9v0.9h-0.9zM157.9 567.1h0.9v0.9h-0.9zM158.0 561.2h0.9v0.9h-0.9zM159.4 568.2h0.9v0.9h-0.9zM159.4 569.9h0.9v0.9h-0.9zM158.6 553.1h0.9v0.9h-0.9zM152.6 561.4h0.9v0.9h-0.9zM157.6 571.0h0.9v0.9h-0.9zM154.9 564.0h0.9v0.9h-0.9zM153.7 567.8h0.9v0.9h-0.9zM152.2 562.2h0.9v0.9h-0.9zM152.5 560.9h0.9v0.9h-0.9zM159.7 568.7h0.9v0.9h-0.9zM158.0 563.7h0.9v0.9h-0.9zM158.2 571.1h0.9v0.9h-0.9zM163.1 573.5h0.9v0.9h-0.9zM158.9 566.4h0.9v0.9h-0.9zM154.0 564.6h0.9v0.9h-0.9zM159.3 561.3h0.9v0.9h-0.9zM155.3 563.3h0.9v0.9h-0.9zM157.7 565.7h0.9v0.9h-0.9zM160.4 566.9h0.9v0.9h-0.9zM156.5 568.8h0.9v0.9h-0.9zM161.9 558.1h0.9v0.9h-0.9zM159.1 563.1h0.9v0.9h-0.9zM158.3 565.7h0.9v0.9h-0.9zM165.1 562.6h0.9v0.9h-0.9zM160.4 563.0h0.9v0.9h-0.9zM157.6 563.5h0.9v0.9h-0.9zM161.6 562.9h0.9v0.9h-0.9zM156.4 569.6h0.9v0.9h-0.9zM157.3 567.9h0.9v0.9h-0.9zM154.6 567.8h0.9v0.9h-0.9zM157.2 571.7h0.9v0.9h-0.9zM157.8 568.6h0.9v0.9h-0.9zM153.0 568.8h0.9v0.9h-0.9zM153.6 569.8h0.9v0.9h-0.9zM159.4 564.4h0.9v0.9h-0.9zM164.2 563.3h0.9v0.9h-0.9zM154.4 564.5h0.9v0.9h-0.9zM157.0 569.2h0.9v0.9h-0.9zM157.3 572.2h0.9v0.9h-0.9zM154.6 572.7h0.9v0.9h-0.9zM154.3 554.3h0.9v0.9h-0.9zM156.7 569.4h0.9v0.9h-0.9zM155.2 573.0h0.9v0.9h-0.9zM155.0 566.5h0.9v0.9h-0.9zM161.4 571.6h0.9v0.9h-0.9zM159.7 562.2h0.9v0.9h-0.9zM157.6 566.4h0.9v0.9h-0.9zM155.9 560.4h0.9v0.9h-0.9zM154.9 564.1h0.9v0.9h-0.9zM155.1 566.9h0.9v0.9h-0.9zM155.1 561.4h0.9v0.9h-0.9zM159.6 568.0h0.9v0.9h-0.9zM156.4 563.1h0.9v0.9h-0.9zM158.0 572.0h0.9v0.9h-0.9zM155.7 566.7h0.9v0.9h-0.9zM157.1 560.6h0.9v0.9h-0.9zM161.4 570.2h0.9v0.9h-0.9zM158.6 566.3h0.9v0.9h-0.9zM155.4 571.6h0.9v0.9h-0.9zM155.5 571.6h0.9v0.9h-0.9zM156.9 572.5h0.9v0.9h-0.9zM162.1 568.8h0.9v0.9h-0.9zM161.6 571.7h0.9v0.9h-0.9zM155.6 567.1h0.9v0.9h-0.9zM153.1 568.5h0.9v0.9h-0.9zM155.0 564.2h0.9v0.9h-0.9zM159.1 563.9h0.9v0.9h-0.9zM161.1 568.7h0.9v0.9h-0.9zM158.0 564.2h0.9v0.9h-0.9zM158.2 570.9h0.9v0.9h-0.9zM155.5 564.0h0.9v0.9h-0.9zM155.2 558.8h0.9v0.9h-0.9zM161.4 568.1h0.9v0.9h-0.9zM159.8 565.0h0.9v0.9h-0.9zM155.0 561.7h0.9v0.9h-0.9zM157.3 570.0h0.9v0.9h-0.9zM158.5 568.6h0.9v0.9h-0.9zM158.6 572.8h0.9v0.9h-0.9zM160.4 565.4h0.9v0.9h-0.9zM157.2 571.7h0.9v0.9h-0.9zM153.0 571.3h0.9v0.9h-0.9zM156.1 570.7h0.9v0.9h-0.9zM162.2 569.4h0.9v0.9h-0.9zM150.7 572.0h0.9v0.9h-0.9zM157.4 564.9h0.9v0.9h-0.9zM155.5 574.1h0.9v0.9h-0.9zM158.5 569.3h0.9v0.9h-0.9zM161.1 567.0h0.9v0.9h-0.9zM155.8 569.7h0.9v0.9h-0.9zM154.9 572.0h0.9v0.9h-0.9zM152.8 556.9h0.9v0.9h-0.9zM155.1 555.9h0.9v0.9h-0.9zM161.0 571.5h0.9v0.9h-0.9zM152.0 567.2h0.9v0.9h-0.9zM162.9 556.2h0.9v0.9h-0.9zM158.1 569.2h0.9v0.9h-0.9zM157.8 567.0h0.9v0.9h-0.9zM159.1 565.1h0.9v0.9h-0.9zM160.6 559.3h0.9v0.9h-0.9zM159.0 565.7h0.9v0.9h-0.9zM151.6 565.3h0.9v0.9h-0.9zM155.1 571.6h0.9v0.9h-0.9zM157.2 573.2h0.9v0.9h-0.9zM159.2 566.9h0.9v0.9h-0.9zM161.7 570.5h0.9v0.9h-0.9zM162.1 570.0h0.9v0.9h-0.9zM155.7 564.0h0.9v0.9h-0.9zM159.4 563.4h0.9v0.9h-0.9zM155.3 572.7h0.9v0.9h-0.9zM159.8 561.2h0.9v0.9h-0.9zM159.7 569.9h0.9v0.9h-0.9zM159.8 567.4h0.9v0.9h-0.9zM158.1 567.2h0.9v0.9h-0.9zM157.3 568.1h0.9v0.9h-0.9zM156.3 574.3h0.9v0.9h-0.9zM158.7 571.2h0.9v0.9h-0.9zM156.6 573.2h0.9v0.9h-0.9zM155.9 561.5h0.9v0.9h-0.9zM153.6 562.4h0.9v0.9h-0.9zM152.8 562.7h0.9v0.9h-0.9zM159.8 562.1h0.9v0.9h-0.9zM158.3 560.1h0.9v0.9h-0.9zM163.5 564.7h0.9v0.9h-0.9zM153.2 574.0h0.9v0.9h-0.9zM161.8 570.0h0.9v0.9h-0.9zM154.5 570.3h0.9v0.9h-0.9zM155.7 571.0h0.9v0.9h-0.9zM157.5 566.9h0.9v0.9h-0.9zM157.0 572.4h0.9v0.9h-0.9zM157.4 569.8h0.9v0.9h-0.9zM158.6 569.0h0.9v0.9h-0.9zM156.7 555.5h0.9v0.9h-0.9zM156.5 560.1h0.9v0.9h-0.9zM161.0 565.2h0.9v0.9h-0.9zM154.5 573.5h0.9v0.9h-0.9zM154.2 565.2h0.9v0.9h-0.9zM152.0 568.3h0.9v0.9h-0.9zM154.9 564.0h0.9v0.9h-0.9zM156.1 570.5h0.9v0.9h-0.9zM158.5 569.6h0.9v0.9h-0.9zM153.9 566.3h0.9v0.9h-0.9zM160.1 566.4h0.9v0.9h-0.9zM157.2 573.1h0.9v0.9h-0.9zM157.1 562.2h0.9v0.9h-0.9zM157.3 566.0h0.9v0.9h-0.9zM154.4 563.7h0.9v0.9h-0.9zM153.1 560.6h0.9v0.9h-0.9zM157.1 571.4h0.9v0.9h-0.9zM162.1 568.2h0.9v0.9h-0.9zM162.3 573.0h0.9v0.9h-0.9zM156.8 566.7h0.9v0.9h-0.9zM158.8 560.7h0.9v0.9h-0.9zM162.9 567.8h0.9v0.9h-0.9zM158.7 563.3h0.9v0.9h-0.9zM157.3 554.6h0.9v0.9h-0.9zM152.9 561.8h0.9v0.9h-0.9zM162.0 562.2h0.9v0.9h-0.9zM161.4 556.7h0.9v0.9h-0.9zM158.3 566.9h0.9v0.9h-0.9zM162.1 568.9h0.9v0.9h-0.9zM159.2 566.1h0.9v0.9h-0.9zM153.6 570.5h0.9v0.9h-0.9zM157.7 563.6h0.9v0.9h-0.9zM160.5 564.5h0.9v0.9h-0.9zM152.9 564.2h0.9v0.9h-0.9zM160.3 564.1h0.9v0.9h-0.9zM156.6 566.0h0.9v0.9h-0.9zM158.1 563.3h0.9v0.9h-0.9zM154.0 563.3h0.9v0.9h-0.9zM155.8 564.8h0.9v0.9h-0.9zM153.9 570.6h0.9v0.9h-0.9zM160.3 554.7h0.9v0.9h-0.9zM158.1 572.7h0.9v0.9h-0.9zM160.5 561.9h0.9v0.9h-0.9zM158.6 565.1h0.9v0.9h-0.9zM151.3 573.9h0.9v0.9h-0.9zM161.3 563.0h0.9v0.9h-0.9zM157.3 563.1h0.9v0.9h-0.9zM155.5 569.1h0.9v0.9h-0.9zM158.5 563.2h0.9v0.9h-0.9zM157.0 573.4h0.9v0.9h-0.9zM154.0 563.0h0.9v0.9h-0.9zM160.6 564.4h0.9v0.9h-0.9zM156.1 565.0h0.9v0.9h-0.9zM156.4 565.6h0.9v0.9h-0.9zM156.1 570.6h0.9v0.9h-0.9zM162.0 570.9h0.9v0.9h-0.9zM156.9 566.8h0.9v0.9h-0.9zM157.8 564.5h0.9v0.9h-0.9zM161.2 563.2h0.9v0.9h-0.9zM160.0 569.0h0.9v0.9h-0.9zM155.0 563.0h0.9v0.9h-0.9zM161.4 569.9h0.9v0.9h-0.9zM157.1 569.5h0.9v0.9h-0.9zM159.9 566.4h0.9v0.9h-0.9zM160.0 561.3h0.9v0.9h-0.9zM159.9 567.4h0.9v0.9h-0.9zM156.4 562.2h0.9v0.9h-0.9zM156.8 559.1h0.9v0.9h-0.9zM158.3 557.3h0.9v0.9h-0.9zM156.5 568.8h0.9v0.9h-0.9zM151.2 563.2h0.9v0.9h-0.9zM153.8 569.6h0.9v0.9h-0.9zM159.1 562.3h0.9v0.9h-0.9zM157.7 564.4h0.9v0.9h-0.9zM157.1 565.2h0.9v0.9h-0.9zM157.2 572.7h0.9v0.9h-0.9zM160.2 564.6h0.9v0.9h-0.9zM160.6 570.2h0.9v0.9h-0.9zM159.9 568.1h0.9v0.9h-0.9zM156.3 558.3h0.9v0.9h-0.9zM160.7 567.2h0.9v0.9h-0.9zM157.1 574.0h0.9v0.9h-0.9zM165.1 566.7h0.9v0.9h-0.9zM155.5 558.6h0.9v0.9h-0.9zM155.6 558.7h0.9v0.9h-0.9zM160.4 560.8h0.9v0.9h-0.9zM153.9 563.0h0.9v0.9h-0.9zM164.4 573.8h0.9v0.9h-0.9zM157.1 557.0h0.9v0.9h-0.9zM156.1 559.3h0.9v0.9h-0.9zM152.8 568.3h0.9v0.9h-0.9zM158.7 566.5h0.9v0.9h-0.9zM153.2 574.3h0.9v0.9h-0.9zM154.3 571.9h0.9v0.9h-0.9zM153.0 563.1h0.9v0.9h-0.9zM159.6 561.1h0.9v0.9h-0.9zM153.4 571.6h0.9v0.9h-0.9zM151.2 556.3h0.9v0.9h-0.9zM160.8 562.1h0.9v0.9h-0.9zM155.2 572.8h0.9v0.9h-0.9zM152.8 565.0h0.9v0.9h-0.9zM160.6 564.9h0.9v0.9h-0.9zM159.7 573.4h0.9v0.9h-0.9zM155.8 564.1h0.9v0.9h-0.9zM159.0 555.6h0.9v0.9h-0.9zM158.0 559.9h0.9v0.9h-0.9zM155.3 561.3h0.9v0.9h-0.9zM153.9 561.6h0.9v0.9h-0.9zM159.4 554.6h0.9v0.9h-0.9zM160.0 565.8h0.9v0.9h-0.9zM159.7 564.5h0.9v0.9h-0.9zM153.4 568.0h0.9v0.9h-0.9zM160.3 571.7h0.9v0.9h-0.9zM158.9 570.7h0.9v0.9h-0.9zM154.3 566.9h0.9v0.9h-0.9zM155.8 559.4h0.9v0.9h-0.9zM157.6 569.0h0.9v0.9h-0.9zM157.6 572.9h0.9v0.9h-0.9zM161.0 558.4h0.9v0.9h-0.9zM150.2 562.5h0.9v0.9h-0.9zM156.1 564.6h0.9v0.9h-0.9zM157.6 567.7h0.9v0.9h-0.9zM159.8 570.7h0.9v0.9h-0.9zM150.1 565.8h0.9v0.9h-0.9zM156.9 558.2h0.9v0.9h-0.9zM155.6 571.7h0.9v0.9h-0.9zM153.7 568.0h0.9v0.9h-0.9zM163.8 567.2h0.9v0.9h-0.9zM154.7 563.0h0.9v0.9h-0.9zM152.6 567.9h0.9v0.9h-0.9zM158.1 564.7h0.9v0.9h-0.9zM155.4 566.0h0.9v0.9h-0.9zM157.7 565.4h0.9v0.9h-0.9zM160.3 568.1h0.9v0.9h-0.9zM152.0 575.5h0.9v0.9h-0.9zM163.0 574.0h0.9v0.9h-0.9zM162.3 553.6h0.9v0.9h-0.9z" fill="#000"/>
<path d="M162.3 551.6h0.9v0.9h-0.9zM159.9 553.8h0.9v0.9h-0.9zM158.0 556.3h0.9v0.9h-0.9zM157.5 559.4h0.9v0.9h-0.9zM157.4 555.5h0.9v0.9h-0.9zM160.1 554.8h0.9v0.9h-0.9zM163.5 555.1h0.9v0.9h-0.9zM161.1 561.5h0.9v0.9h-0.9zM156.9 557.2h0.9v0.9h-0.9zM154.5 549.1h0.9v0.9h-0.9zM157.8 554.4h0.9v0.9h-0.9zM158.6 558.2h0.9v0.9h-0.9zM156.7 555.4h0.9v0.9h-0.9zM161.8 555.0h0.9v0.9h-0.9zM160.3 552.9h0.9v0.9h-0.9zM161.3 551.5h0.9v0.9h-0.9zM158.8 554.8h0.9v0.9h-0.9zM152.4 556.7h0.9v0.9h-0.9zM153.5 554.0h0.9v0.9h-0.9zM161.4 555.4h0.9v0.9h-0.9zM150.2 565.7h0.9v0.9h-0.9zM156.3 551.4h0.9v0.9h-0.9zM161.1 551.6h0.9v0.9h-0.9zM158.2 554.4h0.9v0.9h-0.9zM153.1 552.3h0.9v0.9h-0.9zM158.1 555.0h0.9v0.9h-0.9zM160.6 550.0h0.9v0.9h-0.9zM157.5 558.2h0.9v0.9h-0.9zM155.8 562.4h0.9v0.9h-0.9zM158.1 559.1h0.9v0.9h-0.9zM162.9 555.0h0.9v0.9h-0.9zM161.9 549.3h0.9v0.9h-0.9zM153.9 556.3h0.9v0.9h-0.9zM163.6 552.2h0.9v0.9h-0.9zM158.5 556.6h0.9v0.9h-0.9zM159.8 552.4h0.9v0.9h-0.9zM156.9 562.8h0.9v0.9h-0.9zM156.9 555.3h0.9v0.9h-0.9zM159.8 554.6h0.9v0.9h-0.9zM158.0 553.2h0.9v0.9h-0.9zM156.4 554.1h0.9v0.9h-0.9zM157.6 555.3h0.9v0.9h-0.9zM155.6 558.0h0.9v0.9h-0.9zM157.0 554.3h0.9v0.9h-0.9zM156.6 559.5h0.9v0.9h-0.9zM158.0 557.6h0.9v0.9h-0.9zM155.1 552.2h0.9v0.9h-0.9zM157.6 548.4h0.9v0.9h-0.9zM158.2 549.6h0.9v0.9h-0.9zM155.5 555.3h0.9v0.9h-0.9zM156.8 557.3h0.9v0.9h-0.9zM157.0 556.3h0.9v0.9h-0.9zM159.1 557.3h0.9v0.9h-0.9zM156.7 557.4h0.9v0.9h-0.9zM156.6 557.3h0.9v0.9h-0.9zM160.2 556.3h0.9v0.9h-0.9zM158.7 558.7h0.9v0.9h-0.9zM157.9 549.5h0.9v0.9h-0.9zM162.3 558.1h0.9v0.9h-0.9zM161.7 558.4h0.9v0.9h-0.9zM158.1 553.3h0.9v0.9h-0.9zM160.9 554.4h0.9v0.9h-0.9zM161.8 556.1h0.9v0.9h-0.9zM157.0 554.5h0.9v0.9h-0.9zM161.3 560.6h0.9v0.9h-0.9zM159.9 553.6h0.9v0.9h-0.9zM151.0 551.2h0.9v0.9h-0.9zM153.6 557.7h0.9v0.9h-0.9zM155.4 553.8h0.9v0.9h-0.9zM153.9 557.8h0.9v0.9h-0.9zM159.9 558.9h0.9v0.9h-0.9zM159.8 556.8h0.9v0.9h-0.9zM157.6 553.0h0.9v0.9h-0.9zM159.7 551.2h0.9v0.9h-0.9zM157.2 555.7h0.9v0.9h-0.9zM155.1 552.5h0.9v0.9h-0.9zM152.6 553.5h0.9v0.9h-0.9zM166.0 550.9h0.9v0.9h-0.9zM156.5 559.7h0.9v0.9h-0.9zM160.4 566.0h0.9v0.9h-0.9zM163.9 554.0h0.9v0.9h-0.9zM158.4 553.6h0.9v0.9h-0.9zM157.5 558.8h0.9v0.9h-0.9zM156.0 556.4h0.9v0.9h-0.9zM160.9 556.1h0.9v0.9h-0.9zM159.5 553.8h0.9v0.9h-0.9zM156.7 553.7h0.9v0.9h-0.9zM154.4 556.2h0.9v0.9h-0.9zM159.0 555.6h0.9v0.9h-0.9zM159.6 560.6h0.9v0.9h-0.9zM151.3 553.2h0.9v0.9h-0.9zM160.5 555.7h0.9v0.9h-0.9zM157.7 554.0h0.9v0.9h-0.9zM157.2 553.7h0.9v0.9h-0.9zM156.6 554.9h0.9v0.9h-0.9zM159.8 556.0h0.9v0.9h-0.9zM158.1 555.3h0.9v0.9h-0.9zM156.7 555.7h0.9v0.9h-0.9zM161.4 557.6h0.9v0.9h-0.9zM156.6 560.5h0.9v0.9h-0.9zM156.8 552.5h0.9v0.9h-0.9zM158.7 559.7h0.9v0.9h-0.9zM156.9 552.4h0.9v0.9h-0.9zM160.2 558.7h0.9v0.9h-0.9zM161.0 552.4h0.9v0.9h-0.9zM158.5 557.2h0.9v0.9h-0.9zM155.2 564.8h0.9v0.9h-0.9zM159.0 562.3h0.9v0.9h-0.9zM163.7 561.5h0.9v0.9h-0.9zM153.6 558.6h0.9v0.9h-0.9zM157.7 555.2h0.9v0.9h-0.9zM160.4 557.2h0.9v0.9h-0.9zM156.1 551.1h0.9v0.9h-0.9zM157.3 558.5h0.9v0.9h-0.9zM157.3 555.9h0.9v0.9h-0.9zM158.4 546.6h0.9v0.9h-0.9zM159.7 557.6h0.9v0.9h-0.9zM159.2 560.6h0.9v0.9h-0.9zM163.1 553.3h0.9v0.9h-0.9zM155.7 554.8h0.9v0.9h-0.9zM159.9 556.2h0.9v0.9h-0.9zM159.9 558.8h0.9v0.9h-0.9zM158.3 556.8h0.9v0.9h-0.9zM157.3 557.8h0.9v0.9h-0.9zM158.9 556.5h0.9v0.9h-0.9zM158.2 552.1h0.9v0.9h-0.9zM151.6 551.1h0.9v0.9h-0.9zM156.6 553.2h0.9v0.9h-0.9zM158.3 556.8h0.9v0.9h-0.9zM159.9 548.9h0.9v0.9h-0.9zM159.1 553.6h0.9v0.9h-0.9zM152.7 557.7h0.9v0.9h-0.9zM152.7 559.2h0.9v0.9h-0.9zM161.0 557.5h0.9v0.9h-0.9zM155.1 552.0h0.9v0.9h-0.9zM155.0 555.7h0.9v0.9h-0.9zM158.4 555.4h0.9v0.9h-0.9zM157.5 558.7h0.9v0.9h-0.9zM157.2 557.4h0.9v0.9h-0.9zM155.7 558.9h0.9v0.9h-0.9zM155.8 550.4h0.9v0.9h-0.9zM156.2 550.7h0.9v0.9h-0.9zM163.6 554.1h0.9v0.9h-0.9zM160.0 555.5h0.9v0.9h-0.9zM161.3 563.2h0.9v0.9h-0.9zM157.6 551.2h0.9v0.9h-0.9zM153.6 555.7h0.9v0.9h-0.9zM156.7 555.7h0.9v0.9h-0.9zM156.5 552.8h0.9v0.9h-0.9zM160.3 562.4h0.9v0.9h-0.9zM156.9 557.8h0.9v0.9h-0.9zM157.5 550.7h0.9v0.9h-0.9zM156.4 553.1h0.9v0.9h-0.9zM154.4 557.4h0.9v0.9h-0.9zM150.5 552.1h0.9v0.9h-0.9zM160.5 561.0h0.9v0.9h-0.9zM157.0 551.5h0.9v0.9h-0.9zM152.1 554.3h0.9v0.9h-0.9zM158.9 559.8h0.9v0.9h-0.9zM156.9 553.7h0.9v0.9h-0.9zM157.6 556.8h0.9v0.9h-0.9zM157.2 562.6h0.9v0.9h-0.9zM160.8 553.0h0.9v0.9h-0.9zM162.2 560.3h0.9v0.9h-0.9zM160.3 552.0h0.9v0.9h-0.9zM153.7 555.6h0.9v0.9h-0.9zM155.6 547.6h0.9v0.9h-0.9zM161.7 556.6h0.9v0.9h-0.9zM158.6 558.7h0.9v0.9h-0.9zM159.2 560.1h0.9v0.9h-0.9zM159.5 553.0h0.9v0.9h-0.9zM155.4 557.4h0.9v0.9h-0.9zM156.8 557.9h0.9v0.9h-0.9zM157.2 556.7h0.9v0.9h-0.9zM160.5 559.7h0.9v0.9h-0.9zM155.1 554.4h0.9v0.9h-0.9zM154.8 558.8h0.9v0.9h-0.9zM158.0 551.6h0.9v0.9h-0.9zM159.0 554.5h0.9v0.9h-0.9zM158.5 559.2h0.9v0.9h-0.9zM159.6 555.8h0.9v0.9h-0.9zM161.9 556.9h0.9v0.9h-0.9zM160.2 563.5h0.9v0.9h-0.9zM155.8 552.2h0.9v0.9h-0.9zM156.4 557.4h0.9v0.9h-0.9zM161.2 555.6h0.9v0.9h-0.9zM157.2 554.0h0.9v0.9h-0.9zM156.9 556.1h0.9v0.9h-0.9zM153.7 557.8h0.9v0.9h-0.9zM159.7 552.7h0.9v0.9h-0.9zM158.0 549.9h0.9v0.9h-0.9zM160.9 554.7h0.9v0.9h-0.9zM151.8 554.7h0.9v0.9h-0.9zM158.9 552.7h0.9v0.9h-0.9zM156.5 553.2h0.9v0.9h-0.9zM155.9 557.4h0.9v0.9h-0.9zM152.7 557.4h0.9v0.9h-0.9zM156.1 556.7h0.9v0.9h-0.9zM156.1 556.9h0.9v0.9h-0.9zM163.6 550.4h0.9v0.9h-0.9zM162.1 561.2h0.9v0.9h-0.9zM159.3 557.2h0.9v0.9h-0.9zM159.3 556.7h0.9v0.9h-0.9zM155.2 554.0h0.9v0.9h-0.9zM150.9 555.7h0.9v0.9h-0.9zM157.4 558.5h0.9v0.9h-0.9zM156.8 555.6h0.9v0.9h-0.9zM164.6 559.0h0.9v0.9h-0.9zM157.8 555.8h0.9v0.9h-0.9zM159.3 559.6h0.9v0.9h-0.9zM156.2 556.6h0.9v0.9h-0.9zM160.9 556.1h0.9v0.9h-0.9zM161.7 555.3h0.9v0.9h-0.9zM155.0 551.8h0.9v0.9h-0.9zM153.5 558.9h0.9v0.9h-0.9zM159.9 553.3h0.9v0.9h-0.9zM156.1 551.7h0.9v0.9h-0.9zM158.8 558.0h0.9v0.9h-0.9zM156.7 556.1h0.9v0.9h-0.9zM153.5 558.7h0.9v0.9h-0.9zM157.2 553.0h0.9v0.9h-0.9zM152.9 556.6h0.9v0.9h-0.9zM160.3 552.8h0.9v0.9h-0.9zM158.7 554.7h0.9v0.9h-0.9zM153.9 551.3h0.9v0.9h-0.9zM158.9 560.2h0.9v0.9h-0.9zM156.9 553.4h0.9v0.9h-0.9zM154.3 553.8h0.9v0.9h-0.9zM162.2 552.7h0.9v0.9h-0.9zM156.3 553.3h0.9v0.9h-0.9zM158.9 556.4h0.9v0.9h-0.9zM153.7 554.1h0.9v0.9h-0.9zM152.4 552.7h0.9v0.9h-0.9zM156.5 553.5h0.9v0.9h-0.9zM155.4 546.1h0.9v0.9h-0.9zM160.3 550.7h0.9v0.9h-0.9zM160.0 553.2h0.9v0.9h-0.9zM156.6 554.7h0.9v0.9h-0.9zM157.0 553.2h0.9v0.9h-0.9zM160.8 555.7h0.9v0.9h-0.9zM157.3 552.3h0.9v0.9h-0.9zM157.4 560.9h0.9v0.9h-0.9zM155.8 559.1h0.9v0.9h-0.9zM155.1 557.4h0.9v0.9h-0.9zM161.2 548.0h0.9v0.9h-0.9zM158.9 557.8h0.9v0.9h-0.9zM162.5 564.5h0.9v0.9h-0.9zM161.3 558.2h0.9v0.9h-0.9zM159.7 549.5h0.9v0.9h-0.9zM159.1 557.1h0.9v0.9h-0.9zM151.3 553.7h0.9v0.9h-0.9zM153.7 554.2h0.9v0.9h-0.9zM156.3 551.9h0.9v0.9h-0.9zM157.2 561.7h0.9v0.9h-0.9zM157.0 547.3h0.9v0.9h-0.9zM159.1 548.6h0.9v0.9h-0.9zM152.3 556.6h0.9v0.9h-0.9zM158.3 556.9h0.9v0.9h-0.9zM159.5 553.5h0.9v0.9h-0.9zM158.7 552.7h0.9v0.9h-0.9zM156.3 558.6h0.9v0.9h-0.9zM157.5 552.3h0.9v0.9h-0.9zM157.9 557.0h0.9v0.9h-0.9zM158.1 556.0h0.9v0.9h-0.9zM159.9 554.7h0.9v0.9h-0.9zM153.3 553.7h0.9v0.9h-0.9zM163.0 553.7h0.9v0.9h-0.9zM155.2 554.2h0.9v0.9h-0.9zM159.1 552.8h0.9v0.9h-0.9zM158.4 551.3h0.9v0.9h-0.9zM160.4 554.9h0.9v0.9h-0.9zM153.1 554.0h0.9v0.9h-0.9zM155.3 550.7h0.9v0.9h-0.9zM159.9 559.5h0.9v0.9h-0.9zM156.5 554.0h0.9v0.9h-0.9zM157.6 556.0h0.9v0.9h-0.9zM153.6 554.1h0.9v0.9h-0.9zM161.9 567.7h0.9v0.9h-0.9zM162.1 556.1h0.9v0.9h-0.9zM157.5 554.3h0.9v0.9h-0.9z" fill="#000"/>
<path d="M175.7 550.0h0.9v0.9h-0.9zM177.9 569.5h0.9v0.9h-0.9zM170.5 567.0h0.9v0.9h-0.9zM177.2 564.0h0.9v0.9h-0.9zM180.3 553.5h0.9v0.9h-0.9zM177.7 580.3h0.9v0.9h-0.9zM184.5 572.8h0.9v0.9h-0.9zM181.2 584.1h0.9v0.9h-0.9zM167.9 567.9h0.9v0.9h-0.9zM174.9 566.2h0.9v0.9h-0.9zM175.4 578.3h0.9v0.9h-0.9zM175.7 558.0h0.9v0.9h-0.9zM180.5 550.5h0.9v0.9h-0.9zM174.9 561.9h0.9v0.9h-0.9zM177.7 566.0h0.9v0.9h-0.9zM181.2 569.9h0.9v0.9h-0.9zM190.6 560.0h0.9v0.9h-0.9zM164.5 561.8h0.9v0.9h-0.9zM164.7 554.3h0.9v0.9h-0.9zM182.2 566.0h0.9v0.9h-0.9zM172.1 561.8h0.9v0.9h-0.9zM188.6 568.6h0.9v0.9h-0.9zM184.4 566.6h0.9v0.9h-0.9zM174.9 566.0h0.9v0.9h-0.9zM177.3 573.7h0.9v0.9h-0.9zM185.4 560.9h0.9v0.9h-0.9zM179.4 559.4h0.9v0.9h-0.9zM180.6 550.3h0.9v0.9h-0.9zM178.4 552.1h0.9v0.9h-0.9zM178.7 578.6h0.9v0.9h-0.9zM174.1 574.4h0.9v0.9h-0.9zM169.6 563.8h0.9v0.9h-0.9zM189.2 559.9h0.9v0.9h-0.9zM185.1 555.2h0.9v0.9h-0.9zM168.6 566.1h0.9v0.9h-0.9zM185.7 565.3h0.9v0.9h-0.9zM175.9 560.4h0.9v0.9h-0.9zM182.3 568.0h0.9v0.9h-0.9zM186.7 567.9h0.9v0.9h-0.9zM171.6 573.2h0.9v0.9h-0.9zM171.4 561.8h0.9v0.9h-0.9zM175.7 556.8h0.9v0.9h-0.9zM171.0 552.2h0.9v0.9h-0.9zM175.1 561.0h0.9v0.9h-0.9zM166.2 557.1h0.9v0.9h-0.9zM180.0 562.9h0.9v0.9h-0.9zM168.5 551.6h0.9v0.9h-0.9zM175.4 560.6h0.9v0.9h-0.9zM177.7 542.0h0.9v0.9h-0.9zM168.7 562.6h0.9v0.9h-0.9zM168.6 581.8h0.9v0.9h-0.9zM183.9 570.9h0.9v0.9h-0.9zM182.5 556.4h0.9v0.9h-0.9zM178.2 570.0h0.9v0.9h-0.9zM185.1 554.3h0.9v0.9h-0.9zM187.6 559.0h0.9v0.9h-0.9zM179.8 565.4h0.9v0.9h-0.9zM174.5 559.8h0.9v0.9h-0.9zM182.6 570.4h0.9v0.9h-0.9zM174.0 568.0h0.9v0.9h-0.9zM184.2 553.0h0.9v0.9h-0.9zM174.3 557.5h0.9v0.9h-0.9zM185.0 554.6h0.9v0.9h-0.9zM182.0 552.4h0.9v0.9h-0.9zM166.5 567.1h0.9v0.9h-0.9zM180.2 559.8h0.9v0.9h-0.9zM173.8 561.9h0.9v0.9h-0.9zM182.9 549.2h0.9v0.9h-0.9zM174.4 554.5h0.9v0.9h-0.9zM182.0 569.7h0.9v0.9h-0.9zM182.2 556.7h0.9v0.9h-0.9zM189.6 560.3h0.9v0.9h-0.9zM175.5 549.3h0.9v0.9h-0.9zM170.3 562.5h0.9v0.9h-0.9zM170.1 566.8h0.9v0.9h-0.9zM180.3 553.9h0.9v0.9h-0.9zM168.8 552.3h0.9v0.9h-0.9zM182.3 575.8h0.9v0.9h-0.9zM177.0 550.2h0.9v0.9h-0.9zM188.0 564.2h0.9v0.9h-0.9zM173.9 547.8h0.9v0.9h-0.9zM177.8 560.4h0.9v0.9h-0.9zM172.2 561.1h0.9v0.9h-0.9zM183.4 564.0h0.9v0.9h-0.9zM177.0 576.6h0.9v0.9h-0.9zM175.9 562.6h0.9v0.9h-0.9zM174.5 565.1h0.9v0.9h-0.9zM180.4 562.8h0.9v0.9h-0.9zM179.8 558.1h0.9v0.9h-0.9zM185.3 563.6h0.9v0.9h-0.9zM191.3 566.1h0.9v0.9h-0.9zM183.5 557.4h0.9v0.9h-0.9zM186.9 555.8h0.9v0.9h-0.9zM173.4 551.3h0.9v0.9h-0.9zM175.9 559.2h0.9v0.9h-0.9zM175.1 554.2h0.9v0.9h-0.9zM175.6 569.6h0.9v0.9h-0.9zM180.4 555.7h0.9v0.9h-0.9zM191.2 559.6h0.9v0.9h-0.9zM173.8 562.8h0.9v0.9h-0.9zM173.8 558.7h0.9v0.9h-0.9zM162.0 552.9h0.9v0.9h-0.9zM172.5 568.6h0.9v0.9h-0.9zM181.5 570.8h0.9v0.9h-0.9zM182.3 564.1h0.9v0.9h-0.9zM169.6 564.2h0.9v0.9h-0.9zM165.0 555.9h0.9v0.9h-0.9zM184.9 573.2h0.9v0.9h-0.9zM189.0 558.9h0.9v0.9h-0.9zM171.2 569.7h0.9v0.9h-0.9zM166.6 557.3h0.9v0.9h-0.9zM179.9 560.3h0.9v0.9h-0.9zM175.1 551.8h0.9v0.9h-0.9zM177.1 554.7h0.9v0.9h-0.9zM173.0 563.2h0.9v0.9h-0.9zM180.2 557.4h0.9v0.9h-0.9zM172.2 566.1h0.9v0.9h-0.9zM171.7 573.1h0.9v0.9h-0.9zM175.4 564.4h0.9v0.9h-0.9zM179.0 571.9h0.9v0.9h-0.9zM173.0 555.5h0.9v0.9h-0.9zM187.8 562.0h0.9v0.9h-0.9zM179.2 549.9h0.9v0.9h-0.9zM184.7 567.9h0.9v0.9h-0.9zM185.4 575.8h0.9v0.9h-0.9zM176.4 559.1h0.9v0.9h-0.9zM173.4 572.0h0.9v0.9h-0.9zM183.2 569.2h0.9v0.9h-0.9zM189.2 569.4h0.9v0.9h-0.9zM179.7 561.2h0.9v0.9h-0.9zM180.3 574.5h0.9v0.9h-0.9zM183.9 551.1h0.9v0.9h-0.9zM176.7 577.0h0.9v0.9h-0.9zM182.8 586.0h0.9v0.9h-0.9zM179.8 572.3h0.9v0.9h-0.9zM161.8 564.7h0.9v0.9h-0.9zM191.0 566.0h0.9v0.9h-0.9zM174.0 549.9h0.9v0.9h-0.9zM179.1 564.1h0.9v0.9h-0.9zM156.6 566.9h0.9v0.9h-0.9zM178.0 546.0h0.9v0.9h-0.9zM164.6 552.1h0.9v0.9h-0.9zM177.6 559.8h0.9v0.9h-0.9zM172.8 558.1h0.9v0.9h-0.9zM175.8 563.3h0.9v0.9h-0.9zM178.1 554.6h0.9v0.9h-0.9zM175.5 561.6h0.9v0.9h-0.9zM174.8 574.8h0.9v0.9h-0.9zM183.3 562.3h0.9v0.9h-0.9zM176.3 547.7h0.9v0.9h-0.9z" fill="#000"/>
<path d="M175.8 571.8h0.9v0.9h-0.9zM176.3 590.9h0.9v0.9h-0.9zM169.9 587.3h0.9v0.9h-0.9zM173.5 593.5h0.9v0.9h-0.9zM184.1 589.4h0.9v0.9h-0.9zM183.1 593.7h0.9v0.9h-0.9zM165.6 594.7h0.9v0.9h-0.9zM171.2 589.6h0.9v0.9h-0.9zM176.3 592.1h0.9v0.9h-0.9zM167.1 580.7h0.9v0.9h-0.9zM184.0 587.6h0.9v0.9h-0.9zM172.1 583.4h0.9v0.9h-0.9zM176.9 589.7h0.9v0.9h-0.9zM171.3 568.4h0.9v0.9h-0.9zM175.0 576.5h0.9v0.9h-0.9zM171.4 605.9h0.9v0.9h-0.9zM173.4 599.0h0.9v0.9h-0.9zM173.9 584.6h0.9v0.9h-0.9zM170.6 583.6h0.9v0.9h-0.9zM174.7 580.3h0.9v0.9h-0.9zM173.9 588.6h0.9v0.9h-0.9zM172.5 594.0h0.9v0.9h-0.9zM166.5 564.0h0.9v0.9h-0.9zM171.5 584.2h0.9v0.9h-0.9zM167.5 580.7h0.9v0.9h-0.9zM177.5 593.3h0.9v0.9h-0.9zM171.3 593.2h0.9v0.9h-0.9zM174.7 597.8h0.9v0.9h-0.9zM176.2 597.8h0.9v0.9h-0.9zM167.9 583.8h0.9v0.9h-0.9zM167.4 590.6h0.9v0.9h-0.9zM178.0 589.2h0.9v0.9h-0.9zM167.7 585.5h0.9v0.9h-0.9zM170.3 570.8h0.9v0.9h-0.9zM172.4 582.8h0.9v0.9h-0.9zM176.1 603.7h0.9v0.9h-0.9zM174.2 588.0h0.9v0.9h-0.9zM169.9 596.0h0.9v0.9h-0.9zM175.9 583.0h0.9v0.9h-0.9zM171.3 589.5h0.9v0.9h-0.9zM180.0 590.6h0.9v0.9h-0.9zM175.6 592.3h0.9v0.9h-0.9zM175.8 591.1h0.9v0.9h-0.9zM174.1 594.1h0.9v0.9h-0.9zM167.2 592.2h0.9v0.9h-0.9z" fill="#000"/>
<path d="M151.8 568.5h0.9v0.9h-0.9zM156.5 561.0h0.9v0.9h-0.9zM150.6 573.2h0.9v0.9h-0.9zM148.8 574.8h0.9v0.9h-0.9zM148.3 554.3h0.9v0.9h-0.9zM150.8 570.0h0.9v0.9h-0.9zM140.5 567.5h0.9v0.9h-0.9zM145.1 574.9h0.9v0.9h-0.9zM140.1 557.8h0.9v0.9h-0.9zM154.8 563.2h0.9v0.9h-0.9zM142.9 567.1h0.9v0.9h-0.9zM140.8 568.7h0.9v0.9h-0.9zM142.1 575.2h0.9v0.9h-0.9zM146.9 570.0h0.9v0.9h-0.9zM152.0 562.1h0.9v0.9h-0.9zM159.6 568.5h0.9v0.9h-0.9zM151.9 560.8h0.9v0.9h-0.9zM144.7 557.3h0.9v0.9h-0.9zM140.2 570.1h0.9v0.9h-0.9zM137.5 569.7h0.9v0.9h-0.9zM141.0 566.6h0.9v0.9h-0.9zM136.5 569.7h0.9v0.9h-0.9zM151.2 564.3h0.9v0.9h-0.9zM148.9 567.2h0.9v0.9h-0.9zM140.8 558.3h0.9v0.9h-0.9z" fill="#000"/>
<path d="M129.8 594.2h0.9v0.9h-0.9zM130.7 594.5h0.9v0.9h-0.9zM130.3 588.5h0.9v0.9h-0.9zM131.5 594.3h0.9v0.9h-0.9zM130.5 588.2h0.9v0.9h-0.9zM131.6 609.6h0.9v0.9h-0.9zM132.7 604.1h0.9v0.9h-0.9zM130.9 604.7h0.9v0.9h-0.9zM132.2 610.3h0.9v0.9h-0.9zM130.0 586.2h0.9v0.9h-0.9zM130.6 605.1h0.9v0.9h-0.9zM131.8 597.4h0.9v0.9h-0.9zM130.0 588.9h0.9v0.9h-0.9zM130.4 597.1h0.9v0.9h-0.9zM130.0 605.8h0.9v0.9h-0.9zM130.2 576.0h0.9v0.9h-0.9zM130.3 612.2h0.9v0.9h-0.9zM129.8 611.6h0.9v0.9h-0.9zM130.8 601.0h0.9v0.9h-0.9zM130.5 610.0h0.9v0.9h-0.9zM132.8 608.8h0.9v0.9h-0.9zM133.1 591.3h0.9v0.9h-0.9zM131.6 606.2h0.9v0.9h-0.9zM129.6 598.9h0.9v0.9h-0.9zM130.6 601.0h0.9v0.9h-0.9zM130.0 606.6h0.9v0.9h-0.9zM130.3 596.1h0.9v0.9h-0.9zM131.3 605.7h0.9v0.9h-0.9zM130.4 594.9h0.9v0.9h-0.9zM131.7 603.0h0.9v0.9h-0.9zM132.0 591.2h0.9v0.9h-0.9zM129.8 613.8h0.9v0.9h-0.9zM131.6 614.6h0.9v0.9h-0.9zM131.2 571.5h0.9v0.9h-0.9zM132.6 598.3h0.9v0.9h-0.9zM131.9 605.1h0.9v0.9h-0.9zM131.3 595.1h0.9v0.9h-0.9zM131.8 608.2h0.9v0.9h-0.9zM129.9 600.1h0.9v0.9h-0.9zM130.8 592.9h0.9v0.9h-0.9zM129.7 607.6h0.9v0.9h-0.9zM130.1 582.6h0.9v0.9h-0.9zM130.4 606.1h0.9v0.9h-0.9zM132.0 590.3h0.9v0.9h-0.9zM131.7 607.5h0.9v0.9h-0.9zM130.5 613.4h0.9v0.9h-0.9zM132.0 602.2h0.9v0.9h-0.9zM130.5 607.3h0.9v0.9h-0.9zM129.9 563.4h0.9v0.9h-0.9zM131.7 603.2h0.9v0.9h-0.9z" fill="#000"/>
<path d="M132.1 603.7h0.9v0.9h-0.9zM136.2 604.1h0.9v0.9h-0.9zM133.4 603.6h0.9v0.9h-0.9zM132.2 609.6h0.9v0.9h-0.9zM129.8 606.6h0.9v0.9h-0.9zM132.1 597.5h0.9v0.9h-0.9zM134.8 607.8h0.9v0.9h-0.9zM131.9 608.5h0.9v0.9h-0.9zM135.0 608.9h0.9v0.9h-0.9zM131.1 607.0h0.9v0.9h-0.9zM131.9 610.1h0.9v0.9h-0.9zM137.4 612.5h0.9v0.9h-0.9zM134.6 604.9h0.9v0.9h-0.9zM132.3 608.2h0.9v0.9h-0.9zM130.4 605.3h0.9v0.9h-0.9zM132.7 613.8h0.9v0.9h-0.9zM133.0 608.9h0.9v0.9h-0.9zM134.5 607.5h0.9v0.9h-0.9zM135.3 608.9h0.9v0.9h-0.9zM132.9 604.4h0.9v0.9h-0.9zM129.7 611.1h0.9v0.9h-0.9zM133.6 601.2h0.9v0.9h-0.9zM131.9 610.1h0.9v0.9h-0.9zM134.7 599.2h0.9v0.9h-0.9zM132.8 608.4h0.9v0.9h-0.9zM132.4 611.2h0.9v0.9h-0.9zM132.6 600.1h0.9v0.9h-0.9zM131.9 604.7h0.9v0.9h-0.9zM130.2 608.8h0.9v0.9h-0.9zM133.1 614.4h0.9v0.9h-0.9zM133.9 612.9h0.9v0.9h-0.9zM132.8 615.6h0.9v0.9h-0.9zM131.6 606.8h0.9v0.9h-0.9zM130.8 602.5h0.9v0.9h-0.9zM137.3 616.0h0.9v0.9h-0.9zM133.3 608.6h0.9v0.9h-0.9zM130.6 599.9h0.9v0.9h-0.9zM132.4 615.6h0.9v0.9h-0.9zM130.8 606.3h0.9v0.9h-0.9zM133.6 611.9h0.9v0.9h-0.9zM133.0 610.7h0.9v0.9h-0.9zM134.2 612.3h0.9v0.9h-0.9zM136.3 605.7h0.9v0.9h-0.9zM130.7 605.0h0.9v0.9h-0.9zM138.0 607.1h0.9v0.9h-0.9z" fill="#fff"/>
<path d="M231 617 L231 587 L235 583.8 L240.3 581.8 L244.9 579.2 L248.1 577.4 L256 577.3 L258 579.2 L259.9 585.8 L260 617Z" fill="#000"/>
<path d="M229.7 606.8h0.9v0.9h-0.9zM263.5 586.7h0.9v0.9h-0.9zM230.6 597.1h0.9v0.9h-0.9zM238.2 581.6h0.9v0.9h-0.9zM259.9 585.6h0.9v0.9h-0.9zM228.5 601.9h0.9v0.9h-0.9zM237.3 582.6h0.9v0.9h-0.9zM260.0 591.8h0.9v0.9h-0.9zM260.6 588.7h0.9v0.9h-0.9zM235.3 580.7h0.9v0.9h-0.9zM261.5 605.6h0.9v0.9h-0.9zM230.9 613.3h0.9v0.9h-0.9zM237.8 581.7h0.9v0.9h-0.9zM229.5 596.2h0.9v0.9h-0.9zM261.4 585.8h0.9v0.9h-0.9zM229.8 601.2h0.9v0.9h-0.9zM238.6 581.9h0.9v0.9h-0.9zM243.9 576.4h0.9v0.9h-0.9zM236.9 582.3h0.9v0.9h-0.9zM230.7 613.6h0.9v0.9h-0.9zM263.1 606.1h0.9v0.9h-0.9zM259.4 583.3h0.9v0.9h-0.9zM250.4 576.2h0.9v0.9h-0.9zM230.6 612.7h0.9v0.9h-0.9zM230.2 608.9h0.9v0.9h-0.9zM236.4 581.9h0.9v0.9h-0.9zM247.4 577.6h0.9v0.9h-0.9zM230.8 607.5h0.9v0.9h-0.9zM229.9 601.8h0.9v0.9h-0.9zM260.8 590.6h0.9v0.9h-0.9zM257.3 577.6h0.9v0.9h-0.9zM229.2 595.8h0.9v0.9h-0.9zM228.6 587.4h0.9v0.9h-0.9zM260.2 603.0h0.9v0.9h-0.9zM257.9 576.7h0.9v0.9h-0.9zM260.6 615.4h0.9v0.9h-0.9zM229.1 599.8h0.9v0.9h-0.9zM229.7 607.5h0.9v0.9h-0.9zM261.3 602.1h0.9v0.9h-0.9zM260.6 590.3h0.9v0.9h-0.9zM249.9 577.1h0.9v0.9h-0.9zM261.3 612.2h0.9v0.9h-0.9zM230.3 588.3h0.9v0.9h-0.9zM260.4 615.0h0.9v0.9h-0.9zM230.6 590.2h0.9v0.9h-0.9zM229.3 588.4h0.9v0.9h-0.9zM258.3 580.1h0.9v0.9h-0.9zM260.8 600.1h0.9v0.9h-0.9zM260.0 586.7h0.9v0.9h-0.9zM260.3 615.5h0.9v0.9h-0.9zM227.8 594.6h0.9v0.9h-0.9zM229.7 599.4h0.9v0.9h-0.9zM260.3 603.6h0.9v0.9h-0.9zM256.2 576.0h0.9v0.9h-0.9zM239.2 581.7h0.9v0.9h-0.9zM241.1 581.0h0.9v0.9h-0.9zM230.6 594.0h0.9v0.9h-0.9zM260.7 578.7h0.9v0.9h-0.9zM229.6 599.9h0.9v0.9h-0.9zM260.6 605.7h0.9v0.9h-0.9zM260.7 587.6h0.9v0.9h-0.9zM245.2 577.7h0.9v0.9h-0.9zM234.0 583.6h0.9v0.9h-0.9zM260.8 602.8h0.9v0.9h-0.9zM230.2 588.5h0.9v0.9h-0.9zM230.3 608.4h0.9v0.9h-0.9zM245.3 577.1h0.9v0.9h-0.9zM261.2 590.4h0.9v0.9h-0.9zM231.2 585.4h0.9v0.9h-0.9zM227.9 615.9h0.9v0.9h-0.9zM243.4 579.7h0.9v0.9h-0.9zM263.8 614.6h0.9v0.9h-0.9zM260.5 612.8h0.9v0.9h-0.9zM259.5 583.1h0.9v0.9h-0.9zM230.5 589.4h0.9v0.9h-0.9zM261.3 591.9h0.9v0.9h-0.9zM260.1 602.6h0.9v0.9h-0.9zM232.2 585.2h0.9v0.9h-0.9zM228.8 588.3h0.9v0.9h-0.9zM260.2 609.7h0.9v0.9h-0.9zM230.3 614.4h0.9v0.9h-0.9zM238.2 582.6h0.9v0.9h-0.9zM260.8 581.4h0.9v0.9h-0.9zM254.2 577.0h0.9v0.9h-0.9zM261.6 603.6h0.9v0.9h-0.9zM239.6 580.0h0.9v0.9h-0.9zM260.9 597.8h0.9v0.9h-0.9zM230.8 595.8h0.9v0.9h-0.9zM261.7 602.3h0.9v0.9h-0.9zM260.4 613.5h0.9v0.9h-0.9zM261.4 604.1h0.9v0.9h-0.9zM262.1 600.4h0.9v0.9h-0.9zM260.4 615.2h0.9v0.9h-0.9zM237.7 582.7h0.9v0.9h-0.9zM261.3 600.7h0.9v0.9h-0.9zM250.2 577.0h0.9v0.9h-0.9zM262.1 599.2h0.9v0.9h-0.9zM260.9 590.9h0.9v0.9h-0.9zM236.4 582.8h0.9v0.9h-0.9zM261.0 610.2h0.9v0.9h-0.9zM229.9 602.8h0.9v0.9h-0.9zM229.8 598.2h0.9v0.9h-0.9zM260.2 597.6h0.9v0.9h-0.9zM244.6 578.8h0.9v0.9h-0.9zM259.3 579.1h0.9v0.9h-0.9zM230.7 608.6h0.9v0.9h-0.9zM230.3 613.6h0.9v0.9h-0.9zM227.5 597.5h0.9v0.9h-0.9zM230.5 591.0h0.9v0.9h-0.9zM261.0 596.0h0.9v0.9h-0.9zM248.6 575.1h0.9v0.9h-0.9zM261.0 594.8h0.9v0.9h-0.9zM261.2 609.2h0.9v0.9h-0.9zM229.4 597.4h0.9v0.9h-0.9zM261.7 592.9h0.9v0.9h-0.9zM261.4 587.4h0.9v0.9h-0.9zM239.0 582.1h0.9v0.9h-0.9zM262.1 583.3h0.9v0.9h-0.9zM260.0 579.0h0.9v0.9h-0.9zM256.3 576.6h0.9v0.9h-0.9zM229.3 598.6h0.9v0.9h-0.9zM229.9 593.4h0.9v0.9h-0.9zM231.9 584.3h0.9v0.9h-0.9zM230.6 614.9h0.9v0.9h-0.9zM258.6 579.7h0.9v0.9h-0.9zM261.1 602.1h0.9v0.9h-0.9zM229.7 595.8h0.9v0.9h-0.9zM260.7 595.6h0.9v0.9h-0.9zM231.0 607.2h0.9v0.9h-0.9zM238.3 580.8h0.9v0.9h-0.9zM260.2 600.2h0.9v0.9h-0.9zM261.6 587.0h0.9v0.9h-0.9zM237.7 580.9h0.9v0.9h-0.9zM262.1 595.5h0.9v0.9h-0.9zM253.1 576.8h0.9v0.9h-0.9zM235.1 582.7h0.9v0.9h-0.9zM260.5 599.7h0.9v0.9h-0.9zM259.0 580.6h0.9v0.9h-0.9zM261.0 590.1h0.9v0.9h-0.9zM262.0 591.0h0.9v0.9h-0.9zM260.9 614.0h0.9v0.9h-0.9zM230.3 603.8h0.9v0.9h-0.9zM260.1 605.4h0.9v0.9h-0.9zM260.8 595.2h0.9v0.9h-0.9zM260.6 586.1h0.9v0.9h-0.9zM230.9 604.0h0.9v0.9h-0.9zM261.3 582.4h0.9v0.9h-0.9zM244.9 578.9h0.9v0.9h-0.9zM263.7 587.6h0.9v0.9h-0.9zM230.8 595.1h0.9v0.9h-0.9zM260.1 608.6h0.9v0.9h-0.9zM231.7 585.3h0.9v0.9h-0.9zM230.6 605.6h0.9v0.9h-0.9zM260.7 604.3h0.9v0.9h-0.9zM261.0 608.0h0.9v0.9h-0.9zM250.7 576.3h0.9v0.9h-0.9zM230.9 613.9h0.9v0.9h-0.9zM230.4 614.5h0.9v0.9h-0.9zM228.5 601.4h0.9v0.9h-0.9zM260.5 585.7h0.9v0.9h-0.9zM252.9 576.3h0.9v0.9h-0.9zM261.2 587.9h0.9v0.9h-0.9zM250.6 574.3h0.9v0.9h-0.9zM249.3 577.4h0.9v0.9h-0.9zM233.2 584.2h0.9v0.9h-0.9zM255.6 576.5h0.9v0.9h-0.9zM260.0 589.5h0.9v0.9h-0.9zM230.8 596.5h0.9v0.9h-0.9zM260.2 615.0h0.9v0.9h-0.9zM261.3 590.1h0.9v0.9h-0.9zM233.4 585.0h0.9v0.9h-0.9zM244.7 578.2h0.9v0.9h-0.9zM260.5 594.2h0.9v0.9h-0.9zM261.2 597.4h0.9v0.9h-0.9zM246.8 577.4h0.9v0.9h-0.9zM260.2 597.0h0.9v0.9h-0.9zM229.2 609.9h0.9v0.9h-0.9zM260.0 590.1h0.9v0.9h-0.9zM236.8 579.9h0.9v0.9h-0.9zM246.2 577.6h0.9v0.9h-0.9zM230.0 607.1h0.9v0.9h-0.9zM229.4 601.4h0.9v0.9h-0.9zM230.2 603.1h0.9v0.9h-0.9zM230.4 609.7h0.9v0.9h-0.9zM246.3 577.8h0.9v0.9h-0.9zM230.3 592.3h0.9v0.9h-0.9zM243.4 578.0h0.9v0.9h-0.9zM262.4 584.1h0.9v0.9h-0.9zM260.3 585.1h0.9v0.9h-0.9zM242.7 575.4h0.9v0.9h-0.9zM229.7 615.5h0.9v0.9h-0.9zM231.0 586.2h0.9v0.9h-0.9zM232.8 583.7h0.9v0.9h-0.9zM259.6 579.5h0.9v0.9h-0.9zM230.5 587.6h0.9v0.9h-0.9zM230.9 590.5h0.9v0.9h-0.9zM257.0 575.6h0.9v0.9h-0.9zM263.7 594.9h0.9v0.9h-0.9zM260.0 578.7h0.9v0.9h-0.9zM236.2 582.4h0.9v0.9h-0.9z" fill="#000"/>
<path d="M226.1 596.2h0.9v0.9h-0.9zM226.2 598.6h0.9v0.9h-0.9zM224.3 600.5h0.9v0.9h-0.9zM226.4 604.9h0.9v0.9h-0.9zM229.3 592.9h0.9v0.9h-0.9zM230.9 608.3h0.9v0.9h-0.9zM224.1 603.8h0.9v0.9h-0.9zM227.0 600.7h0.9v0.9h-0.9zM229.6 604.1h0.9v0.9h-0.9zM225.8 604.0h0.9v0.9h-0.9zM227.1 599.8h0.9v0.9h-0.9zM226.9 606.8h0.9v0.9h-0.9zM228.8 591.4h0.9v0.9h-0.9zM225.4 613.2h0.9v0.9h-0.9zM226.8 588.0h0.9v0.9h-0.9zM230.0 612.5h0.9v0.9h-0.9zM224.5 589.7h0.9v0.9h-0.9zM224.9 607.5h0.9v0.9h-0.9zM225.4 601.7h0.9v0.9h-0.9zM223.8 598.3h0.9v0.9h-0.9zM227.9 596.9h0.9v0.9h-0.9zM229.9 589.0h0.9v0.9h-0.9zM225.5 611.3h0.9v0.9h-0.9zM224.6 593.1h0.9v0.9h-0.9zM225.9 614.1h0.9v0.9h-0.9zM225.2 596.7h0.9v0.9h-0.9zM227.2 578.9h0.9v0.9h-0.9zM226.3 594.2h0.9v0.9h-0.9zM226.8 608.6h0.9v0.9h-0.9zM228.8 598.3h0.9v0.9h-0.9zM227.4 598.1h0.9v0.9h-0.9zM229.0 601.5h0.9v0.9h-0.9zM228.0 576.1h0.9v0.9h-0.9zM224.8 607.4h0.9v0.9h-0.9zM227.6 598.2h0.9v0.9h-0.9zM228.2 611.6h0.9v0.9h-0.9zM227.3 612.2h0.9v0.9h-0.9zM226.2 595.6h0.9v0.9h-0.9zM228.4 597.0h0.9v0.9h-0.9zM224.9 592.7h0.9v0.9h-0.9zM228.9 597.8h0.9v0.9h-0.9zM225.5 597.9h0.9v0.9h-0.9zM226.0 605.7h0.9v0.9h-0.9zM227.7 582.2h0.9v0.9h-0.9zM225.2 591.6h0.9v0.9h-0.9zM230.5 606.7h0.9v0.9h-0.9zM229.5 608.2h0.9v0.9h-0.9zM225.7 595.6h0.9v0.9h-0.9zM225.0 604.0h0.9v0.9h-0.9zM226.3 601.7h0.9v0.9h-0.9zM228.8 614.6h0.9v0.9h-0.9zM227.2 614.4h0.9v0.9h-0.9zM227.8 611.7h0.9v0.9h-0.9zM229.6 603.3h0.9v0.9h-0.9zM227.7 595.4h0.9v0.9h-0.9zM226.3 582.6h0.9v0.9h-0.9zM227.5 597.1h0.9v0.9h-0.9zM225.0 603.4h0.9v0.9h-0.9zM228.4 607.3h0.9v0.9h-0.9zM226.2 608.1h0.9v0.9h-0.9zM227.6 596.3h0.9v0.9h-0.9zM229.0 580.7h0.9v0.9h-0.9zM228.8 594.2h0.9v0.9h-0.9zM228.3 589.2h0.9v0.9h-0.9zM228.3 601.5h0.9v0.9h-0.9zM231.4 582.5h0.9v0.9h-0.9zM228.2 612.7h0.9v0.9h-0.9zM229.2 603.7h0.9v0.9h-0.9zM225.4 610.8h0.9v0.9h-0.9zM228.5 600.8h0.9v0.9h-0.9zM228.0 595.1h0.9v0.9h-0.9zM229.1 591.7h0.9v0.9h-0.9zM229.0 607.3h0.9v0.9h-0.9zM225.5 594.6h0.9v0.9h-0.9zM226.8 588.7h0.9v0.9h-0.9zM227.3 598.4h0.9v0.9h-0.9zM228.8 602.2h0.9v0.9h-0.9zM226.7 593.9h0.9v0.9h-0.9zM227.8 602.9h0.9v0.9h-0.9zM229.3 590.5h0.9v0.9h-0.9zM228.0 598.6h0.9v0.9h-0.9zM228.5 601.1h0.9v0.9h-0.9zM228.1 605.2h0.9v0.9h-0.9zM225.9 602.8h0.9v0.9h-0.9zM227.5 604.8h0.9v0.9h-0.9zM226.7 600.1h0.9v0.9h-0.9zM227.5 603.5h0.9v0.9h-0.9zM226.4 605.3h0.9v0.9h-0.9zM225.1 605.9h0.9v0.9h-0.9zM226.9 596.1h0.9v0.9h-0.9zM228.1 608.6h0.9v0.9h-0.9zM230.5 602.9h0.9v0.9h-0.9zM225.1 602.2h0.9v0.9h-0.9zM229.2 609.8h0.9v0.9h-0.9zM224.5 605.8h0.9v0.9h-0.9zM224.5 591.9h0.9v0.9h-0.9zM230.0 607.2h0.9v0.9h-0.9zM226.8 590.2h0.9v0.9h-0.9zM227.6 600.3h0.9v0.9h-0.9zM228.9 590.9h0.9v0.9h-0.9zM227.9 613.9h0.9v0.9h-0.9zM226.2 611.4h0.9v0.9h-0.9zM228.6 593.6h0.9v0.9h-0.9zM228.7 575.3h0.9v0.9h-0.9zM225.9 590.5h0.9v0.9h-0.9zM225.0 606.3h0.9v0.9h-0.9zM227.7 607.3h0.9v0.9h-0.9zM224.9 582.5h0.9v0.9h-0.9zM227.2 609.0h0.9v0.9h-0.9zM227.8 597.2h0.9v0.9h-0.9z" fill="#000"/>
<path d="M250.3 568.4h0.9v0.9h-0.9zM248.0 561.0h0.9v0.9h-0.9zM248.6 558.2h0.9v0.9h-0.9zM253.6 565.8h0.9v0.9h-0.9zM248.6 573.7h0.9v0.9h-0.9zM253.1 568.3h0.9v0.9h-0.9zM256.4 566.0h0.9v0.9h-0.9zM248.6 566.0h0.9v0.9h-0.9zM247.9 572.2h0.9v0.9h-0.9zM250.1 561.8h0.9v0.9h-0.9zM252.1 568.9h0.9v0.9h-0.9zM249.6 565.7h0.9v0.9h-0.9zM250.1 565.7h0.9v0.9h-0.9zM250.8 563.0h0.9v0.9h-0.9zM254.6 559.6h0.9v0.9h-0.9zM250.0 567.5h0.9v0.9h-0.9zM247.8 576.6h0.9v0.9h-0.9zM252.6 561.3h0.9v0.9h-0.9zM250.1 564.8h0.9v0.9h-0.9zM247.2 561.4h0.9v0.9h-0.9zM249.3 553.8h0.9v0.9h-0.9zM253.6 570.1h0.9v0.9h-0.9zM250.4 568.1h0.9v0.9h-0.9zM254.9 568.2h0.9v0.9h-0.9zM250.8 571.3h0.9v0.9h-0.9zM246.4 567.6h0.9v0.9h-0.9zM251.1 560.8h0.9v0.9h-0.9zM246.4 568.8h0.9v0.9h-0.9zM253.1 559.2h0.9v0.9h-0.9zM249.0 558.5h0.9v0.9h-0.9zM251.1 564.3h0.9v0.9h-0.9zM256.0 570.6h0.9v0.9h-0.9zM256.0 567.5h0.9v0.9h-0.9zM250.8 562.6h0.9v0.9h-0.9zM254.9 566.3h0.9v0.9h-0.9zM249.9 570.4h0.9v0.9h-0.9zM249.3 558.6h0.9v0.9h-0.9zM249.7 565.9h0.9v0.9h-0.9zM251.9 568.9h0.9v0.9h-0.9zM247.0 558.7h0.9v0.9h-0.9zM246.3 567.8h0.9v0.9h-0.9zM249.6 566.3h0.9v0.9h-0.9zM252.7 571.5h0.9v0.9h-0.9zM245.2 565.7h0.9v0.9h-0.9zM256.9 567.4h0.9v0.9h-0.9zM253.2 564.4h0.9v0.9h-0.9zM254.8 564.6h0.9v0.9h-0.9zM253.2 564.3h0.9v0.9h-0.9zM249.8 577.0h0.9v0.9h-0.9zM249.6 559.1h0.9v0.9h-0.9zM247.7 568.3h0.9v0.9h-0.9zM249.9 568.8h0.9v0.9h-0.9zM245.8 562.6h0.9v0.9h-0.9zM254.7 574.2h0.9v0.9h-0.9zM252.3 572.0h0.9v0.9h-0.9zM250.0 560.7h0.9v0.9h-0.9zM249.5 569.1h0.9v0.9h-0.9zM249.8 572.0h0.9v0.9h-0.9zM254.3 569.1h0.9v0.9h-0.9zM252.1 566.9h0.9v0.9h-0.9zM252.0 565.7h0.9v0.9h-0.9zM249.9 572.7h0.9v0.9h-0.9zM249.0 569.1h0.9v0.9h-0.9zM250.2 572.7h0.9v0.9h-0.9zM249.9 566.7h0.9v0.9h-0.9zM248.6 566.8h0.9v0.9h-0.9zM250.0 565.3h0.9v0.9h-0.9zM252.7 576.2h0.9v0.9h-0.9zM247.1 571.8h0.9v0.9h-0.9zM252.5 567.2h0.9v0.9h-0.9zM253.4 575.7h0.9v0.9h-0.9zM253.8 561.5h0.9v0.9h-0.9zM248.6 569.5h0.9v0.9h-0.9zM250.5 573.1h0.9v0.9h-0.9zM252.8 560.6h0.9v0.9h-0.9zM252.9 569.5h0.9v0.9h-0.9zM248.6 559.4h0.9v0.9h-0.9zM251.6 567.1h0.9v0.9h-0.9zM253.2 561.9h0.9v0.9h-0.9zM251.2 565.9h0.9v0.9h-0.9zM254.2 569.6h0.9v0.9h-0.9zM254.1 567.9h0.9v0.9h-0.9zM252.6 561.5h0.9v0.9h-0.9zM251.6 574.0h0.9v0.9h-0.9zM249.4 568.1h0.9v0.9h-0.9zM248.1 568.6h0.9v0.9h-0.9zM256.1 569.9h0.9v0.9h-0.9zM253.4 567.2h0.9v0.9h-0.9zM252.2 554.3h0.9v0.9h-0.9zM253.4 575.0h0.9v0.9h-0.9zM247.6 568.5h0.9v0.9h-0.9zM247.9 567.6h0.9v0.9h-0.9zM256.9 573.3h0.9v0.9h-0.9zM254.9 566.7h0.9v0.9h-0.9zM254.9 564.1h0.9v0.9h-0.9zM251.2 571.7h0.9v0.9h-0.9zM250.6 564.9h0.9v0.9h-0.9zM249.4 567.8h0.9v0.9h-0.9zM248.1 571.7h0.9v0.9h-0.9zM255.0 567.6h0.9v0.9h-0.9zM252.6 571.8h0.9v0.9h-0.9zM254.7 565.0h0.9v0.9h-0.9zM248.7 572.5h0.9v0.9h-0.9zM250.4 563.4h0.9v0.9h-0.9zM249.1 575.6h0.9v0.9h-0.9zM250.4 565.0h0.9v0.9h-0.9zM252.8 572.2h0.9v0.9h-0.9zM245.2 571.8h0.9v0.9h-0.9zM247.3 568.4h0.9v0.9h-0.9zM249.8 573.2h0.9v0.9h-0.9zM250.5 573.1h0.9v0.9h-0.9zM248.0 571.9h0.9v0.9h-0.9zM247.0 571.6h0.9v0.9h-0.9zM249.9 566.2h0.9v0.9h-0.9zM259.2 568.2h0.9v0.9h-0.9zM243.1 561.4h0.9v0.9h-0.9zM252.2 566.4h0.9v0.9h-0.9zM252.4 569.9h0.9v0.9h-0.9zM247.8 575.3h0.9v0.9h-0.9zM246.0 562.1h0.9v0.9h-0.9zM256.5 572.2h0.9v0.9h-0.9zM248.9 567.8h0.9v0.9h-0.9zM254.5 560.1h0.9v0.9h-0.9zM246.0 569.5h0.9v0.9h-0.9zM246.1 574.6h0.9v0.9h-0.9zM260.2 572.4h0.9v0.9h-0.9zM257.8 575.9h0.9v0.9h-0.9zM246.7 565.6h0.9v0.9h-0.9zM250.3 565.9h0.9v0.9h-0.9zM248.3 571.4h0.9v0.9h-0.9zM251.6 558.6h0.9v0.9h-0.9zM252.5 569.4h0.9v0.9h-0.9zM245.2 576.1h0.9v0.9h-0.9zM249.3 569.9h0.9v0.9h-0.9zM246.6 566.0h0.9v0.9h-0.9zM249.5 570.6h0.9v0.9h-0.9zM248.8 567.1h0.9v0.9h-0.9zM252.3 569.5h0.9v0.9h-0.9zM257.2 565.8h0.9v0.9h-0.9zM250.1 572.0h0.9v0.9h-0.9zM251.7 569.8h0.9v0.9h-0.9zM252.5 568.0h0.9v0.9h-0.9zM247.5 577.7h0.9v0.9h-0.9zM253.2 565.1h0.9v0.9h-0.9zM249.0 576.0h0.9v0.9h-0.9zM252.4 572.2h0.9v0.9h-0.9zM247.5 566.1h0.9v0.9h-0.9zM252.2 569.9h0.9v0.9h-0.9zM250.1 574.7h0.9v0.9h-0.9zM248.6 568.2h0.9v0.9h-0.9zM254.5 560.9h0.9v0.9h-0.9zM248.0 575.0h0.9v0.9h-0.9zM249.8 565.6h0.9v0.9h-0.9zM251.0 575.6h0.9v0.9h-0.9zM250.8 566.6h0.9v0.9h-0.9zM250.6 571.3h0.9v0.9h-0.9zM246.9 576.7h0.9v0.9h-0.9zM247.2 564.5h0.9v0.9h-0.9zM251.7 564.6h0.9v0.9h-0.9zM251.3 570.4h0.9v0.9h-0.9zM248.0 571.1h0.9v0.9h-0.9zM251.9 571.6h0.9v0.9h-0.9zM248.7 562.6h0.9v0.9h-0.9zM244.2 570.6h0.9v0.9h-0.9zM246.6 570.3h0.9v0.9h-0.9zM255.2 564.9h0.9v0.9h-0.9zM253.9 575.1h0.9v0.9h-0.9zM247.3 572.6h0.9v0.9h-0.9zM246.6 567.8h0.9v0.9h-0.9zM244.4 568.4h0.9v0.9h-0.9zM253.0 566.2h0.9v0.9h-0.9zM247.7 559.9h0.9v0.9h-0.9zM251.7 562.1h0.9v0.9h-0.9zM252.7 574.4h0.9v0.9h-0.9zM247.7 561.7h0.9v0.9h-0.9zM255.3 562.0h0.9v0.9h-0.9zM249.8 562.7h0.9v0.9h-0.9zM258.4 570.0h0.9v0.9h-0.9zM249.6 560.9h0.9v0.9h-0.9zM248.8 567.9h0.9v0.9h-0.9zM255.8 571.7h0.9v0.9h-0.9zM248.9 574.9h0.9v0.9h-0.9zM257.2 565.9h0.9v0.9h-0.9zM252.1 563.8h0.9v0.9h-0.9zM247.3 565.6h0.9v0.9h-0.9zM250.7 567.7h0.9v0.9h-0.9zM249.1 559.8h0.9v0.9h-0.9zM243.1 572.9h0.9v0.9h-0.9zM256.5 576.8h0.9v0.9h-0.9zM251.2 573.5h0.9v0.9h-0.9zM254.6 570.1h0.9v0.9h-0.9zM254.4 575.4h0.9v0.9h-0.9zM250.5 574.0h0.9v0.9h-0.9zM250.5 571.4h0.9v0.9h-0.9zM252.9 574.4h0.9v0.9h-0.9zM252.3 563.8h0.9v0.9h-0.9zM251.6 566.2h0.9v0.9h-0.9zM250.6 575.8h0.9v0.9h-0.9zM256.8 569.5h0.9v0.9h-0.9zM246.0 568.4h0.9v0.9h-0.9z" fill="#000"/>
<path d="M253.9 563.2h0.9v0.9h-0.9zM250.1 563.4h0.9v0.9h-0.9zM252.2 567.7h0.9v0.9h-0.9zM250.4 561.5h0.9v0.9h-0.9zM251.7 559.3h0.9v0.9h-0.9zM249.9 557.2h0.9v0.9h-0.9zM250.8 567.0h0.9v0.9h-0.9zM251.3 560.5h0.9v0.9h-0.9zM250.4 566.8h0.9v0.9h-0.9zM248.4 561.0h0.9v0.9h-0.9zM250.6 563.7h0.9v0.9h-0.9zM251.8 566.5h0.9v0.9h-0.9zM251.9 564.7h0.9v0.9h-0.9zM254.7 561.9h0.9v0.9h-0.9zM250.8 556.5h0.9v0.9h-0.9zM252.6 560.8h0.9v0.9h-0.9zM252.2 565.6h0.9v0.9h-0.9zM249.7 563.0h0.9v0.9h-0.9zM252.6 559.4h0.9v0.9h-0.9zM251.9 561.0h0.9v0.9h-0.9zM250.4 561.9h0.9v0.9h-0.9zM251.2 564.7h0.9v0.9h-0.9zM249.3 558.8h0.9v0.9h-0.9zM250.1 564.7h0.9v0.9h-0.9zM252.1 565.1h0.9v0.9h-0.9zM252.8 557.5h0.9v0.9h-0.9zM251.2 562.8h0.9v0.9h-0.9zM253.0 558.0h0.9v0.9h-0.9zM250.3 565.2h0.9v0.9h-0.9zM250.6 556.4h0.9v0.9h-0.9zM251.4 564.7h0.9v0.9h-0.9zM247.9 561.3h0.9v0.9h-0.9zM249.7 562.5h0.9v0.9h-0.9zM250.6 562.6h0.9v0.9h-0.9zM252.0 561.7h0.9v0.9h-0.9zM252.7 560.0h0.9v0.9h-0.9zM250.9 563.9h0.9v0.9h-0.9zM249.7 560.8h0.9v0.9h-0.9zM253.5 563.0h0.9v0.9h-0.9zM253.4 560.0h0.9v0.9h-0.9zM249.8 568.1h0.9v0.9h-0.9zM251.2 562.0h0.9v0.9h-0.9zM250.5 561.3h0.9v0.9h-0.9zM248.0 560.4h0.9v0.9h-0.9zM254.2 562.8h0.9v0.9h-0.9zM252.3 565.2h0.9v0.9h-0.9zM252.4 564.5h0.9v0.9h-0.9zM251.9 561.1h0.9v0.9h-0.9zM249.3 561.3h0.9v0.9h-0.9zM251.7 564.2h0.9v0.9h-0.9zM252.3 563.9h0.9v0.9h-0.9zM252.6 563.4h0.9v0.9h-0.9zM253.5 562.9h0.9v0.9h-0.9zM250.1 565.9h0.9v0.9h-0.9zM253.2 563.6h0.9v0.9h-0.9zM250.2 560.4h0.9v0.9h-0.9zM250.0 558.3h0.9v0.9h-0.9zM251.1 569.1h0.9v0.9h-0.9zM250.4 559.2h0.9v0.9h-0.9zM251.9 561.5h0.9v0.9h-0.9zM252.3 562.1h0.9v0.9h-0.9zM252.7 563.5h0.9v0.9h-0.9zM251.9 559.6h0.9v0.9h-0.9zM252.7 561.8h0.9v0.9h-0.9zM251.2 564.9h0.9v0.9h-0.9zM250.8 559.5h0.9v0.9h-0.9zM251.1 559.3h0.9v0.9h-0.9zM252.9 561.5h0.9v0.9h-0.9zM252.7 565.4h0.9v0.9h-0.9zM252.4 556.9h0.9v0.9h-0.9zM252.0 565.6h0.9v0.9h-0.9zM249.3 564.6h0.9v0.9h-0.9zM254.9 562.3h0.9v0.9h-0.9zM251.3 564.0h0.9v0.9h-0.9zM256.0 560.7h0.9v0.9h-0.9zM248.3 563.1h0.9v0.9h-0.9zM254.2 564.6h0.9v0.9h-0.9zM248.0 559.6h0.9v0.9h-0.9zM252.6 560.0h0.9v0.9h-0.9zM256.0 565.3h0.9v0.9h-0.9zM252.7 562.6h0.9v0.9h-0.9zM249.9 565.5h0.9v0.9h-0.9zM250.4 562.1h0.9v0.9h-0.9zM255.4 557.6h0.9v0.9h-0.9zM253.9 564.0h0.9v0.9h-0.9zM251.5 561.2h0.9v0.9h-0.9zM252.1 565.0h0.9v0.9h-0.9zM251.5 562.3h0.9v0.9h-0.9zM254.5 563.5h0.9v0.9h-0.9zM251.5 562.0h0.9v0.9h-0.9zM248.9 564.6h0.9v0.9h-0.9zM251.5 563.4h0.9v0.9h-0.9zM251.8 563.8h0.9v0.9h-0.9zM253.6 561.4h0.9v0.9h-0.9zM253.2 561.3h0.9v0.9h-0.9zM253.5 561.5h0.9v0.9h-0.9zM252.9 565.4h0.9v0.9h-0.9zM249.2 571.0h0.9v0.9h-0.9zM253.3 561.7h0.9v0.9h-0.9zM250.8 560.9h0.9v0.9h-0.9zM249.4 561.9h0.9v0.9h-0.9zM251.2 560.9h0.9v0.9h-0.9zM253.1 564.5h0.9v0.9h-0.9zM253.7 567.8h0.9v0.9h-0.9zM250.6 567.8h0.9v0.9h-0.9zM247.5 563.3h0.9v0.9h-0.9zM254.0 562.0h0.9v0.9h-0.9zM250.3 559.7h0.9v0.9h-0.9zM248.6 566.7h0.9v0.9h-0.9zM251.4 561.9h0.9v0.9h-0.9zM251.4 559.0h0.9v0.9h-0.9zM251.4 563.3h0.9v0.9h-0.9zM252.3 562.8h0.9v0.9h-0.9zM253.6 557.7h0.9v0.9h-0.9zM252.9 561.6h0.9v0.9h-0.9zM250.4 567.2h0.9v0.9h-0.9zM252.1 562.2h0.9v0.9h-0.9zM249.6 561.8h0.9v0.9h-0.9zM250.5 563.0h0.9v0.9h-0.9zM247.8 562.5h0.9v0.9h-0.9zM250.9 565.1h0.9v0.9h-0.9zM252.4 566.9h0.9v0.9h-0.9zM251.6 560.3h0.9v0.9h-0.9zM254.0 560.0h0.9v0.9h-0.9zM248.4 559.3h0.9v0.9h-0.9zM248.1 563.7h0.9v0.9h-0.9zM248.8 568.2h0.9v0.9h-0.9zM254.1 563.1h0.9v0.9h-0.9zM250.9 567.5h0.9v0.9h-0.9zM253.2 565.3h0.9v0.9h-0.9zM253.1 562.8h0.9v0.9h-0.9zM256.1 562.1h0.9v0.9h-0.9zM247.1 562.9h0.9v0.9h-0.9zM250.0 566.9h0.9v0.9h-0.9zM251.2 561.7h0.9v0.9h-0.9zM251.4 569.1h0.9v0.9h-0.9zM252.1 555.4h0.9v0.9h-0.9zM252.8 558.9h0.9v0.9h-0.9zM251.7 559.2h0.9v0.9h-0.9zM253.0 565.3h0.9v0.9h-0.9zM253.5 562.2h0.9v0.9h-0.9zM252.2 563.5h0.9v0.9h-0.9zM251.2 561.4h0.9v0.9h-0.9zM250.1 560.6h0.9v0.9h-0.9zM253.2 563.6h0.9v0.9h-0.9zM255.8 562.8h0.9v0.9h-0.9zM254.1 559.1h0.9v0.9h-0.9zM254.1 565.0h0.9v0.9h-0.9zM251.6 560.4h0.9v0.9h-0.9zM249.6 563.8h0.9v0.9h-0.9zM251.8 562.2h0.9v0.9h-0.9zM253.1 564.3h0.9v0.9h-0.9zM250.3 559.6h0.9v0.9h-0.9zM252.2 559.9h0.9v0.9h-0.9zM247.7 559.8h0.9v0.9h-0.9zM252.9 565.1h0.9v0.9h-0.9zM253.3 564.3h0.9v0.9h-0.9zM252.8 568.2h0.9v0.9h-0.9zM252.6 558.9h0.9v0.9h-0.9zM249.4 567.0h0.9v0.9h-0.9zM252.5 563.7h0.9v0.9h-0.9zM250.3 561.8h0.9v0.9h-0.9zM250.2 561.0h0.9v0.9h-0.9zM250.9 562.4h0.9v0.9h-0.9zM247.5 563.7h0.9v0.9h-0.9zM252.8 562.6h0.9v0.9h-0.9zM249.5 556.6h0.9v0.9h-0.9zM249.6 561.5h0.9v0.9h-0.9zM250.3 560.7h0.9v0.9h-0.9zM250.2 562.8h0.9v0.9h-0.9zM251.7 560.3h0.9v0.9h-0.9zM253.0 563.8h0.9v0.9h-0.9zM254.9 559.4h0.9v0.9h-0.9zM251.9 563.1h0.9v0.9h-0.9zM253.9 568.6h0.9v0.9h-0.9zM256.8 558.1h0.9v0.9h-0.9zM252.4 555.8h0.9v0.9h-0.9zM249.8 569.2h0.9v0.9h-0.9zM252.5 569.1h0.9v0.9h-0.9zM252.4 560.8h0.9v0.9h-0.9zM249.9 564.7h0.9v0.9h-0.9zM253.2 561.1h0.9v0.9h-0.9zM251.0 560.8h0.9v0.9h-0.9zM249.9 560.2h0.9v0.9h-0.9zM251.9 563.0h0.9v0.9h-0.9zM251.0 566.1h0.9v0.9h-0.9zM252.0 568.1h0.9v0.9h-0.9zM252.4 557.1h0.9v0.9h-0.9zM251.7 564.0h0.9v0.9h-0.9zM251.6 564.8h0.9v0.9h-0.9zM252.3 559.4h0.9v0.9h-0.9zM251.1 566.8h0.9v0.9h-0.9zM254.0 562.5h0.9v0.9h-0.9zM250.4 564.1h0.9v0.9h-0.9zM251.4 563.7h0.9v0.9h-0.9zM250.1 560.1h0.9v0.9h-0.9zM251.8 559.2h0.9v0.9h-0.9zM247.1 560.0h0.9v0.9h-0.9zM253.1 561.2h0.9v0.9h-0.9zM252.1 567.5h0.9v0.9h-0.9z" fill="#000"/>
<path d="M248.2 553.1h0.9v0.9h-0.9zM277.4 555.2h0.9v0.9h-0.9zM270.6 551.4h0.9v0.9h-0.9zM268.8 571.2h0.9v0.9h-0.9zM267.7 568.3h0.9v0.9h-0.9zM271.0 560.7h0.9v0.9h-0.9zM251.4 568.3h0.9v0.9h-0.9zM266.8 553.2h0.9v0.9h-0.9zM271.1 562.8h0.9v0.9h-0.9zM269.6 564.8h0.9v0.9h-0.9zM267.3 564.1h0.9v0.9h-0.9zM278.5 562.9h0.9v0.9h-0.9zM267.4 569.6h0.9v0.9h-0.9zM256.4 559.4h0.9v0.9h-0.9zM272.1 573.1h0.9v0.9h-0.9zM274.5 562.7h0.9v0.9h-0.9zM269.7 559.0h0.9v0.9h-0.9zM266.0 571.0h0.9v0.9h-0.9zM263.3 558.1h0.9v0.9h-0.9zM253.2 569.8h0.9v0.9h-0.9zM274.6 563.1h0.9v0.9h-0.9zM264.2 563.8h0.9v0.9h-0.9zM268.5 557.2h0.9v0.9h-0.9zM269.7 561.5h0.9v0.9h-0.9zM276.4 562.2h0.9v0.9h-0.9zM271.0 567.5h0.9v0.9h-0.9zM270.3 561.6h0.9v0.9h-0.9zM272.2 554.3h0.9v0.9h-0.9zM271.0 564.5h0.9v0.9h-0.9zM257.0 561.6h0.9v0.9h-0.9zM272.9 555.9h0.9v0.9h-0.9zM270.1 566.0h0.9v0.9h-0.9zM286.0 554.2h0.9v0.9h-0.9zM264.0 563.7h0.9v0.9h-0.9zM258.3 568.4h0.9v0.9h-0.9zM270.2 558.6h0.9v0.9h-0.9zM264.1 566.2h0.9v0.9h-0.9zM253.5 566.1h0.9v0.9h-0.9zM270.6 561.9h0.9v0.9h-0.9zM259.4 565.7h0.9v0.9h-0.9zM272.8 557.0h0.9v0.9h-0.9zM258.3 562.8h0.9v0.9h-0.9zM267.0 568.8h0.9v0.9h-0.9zM268.6 574.9h0.9v0.9h-0.9zM273.4 561.7h0.9v0.9h-0.9zM281.1 558.4h0.9v0.9h-0.9zM263.9 562.3h0.9v0.9h-0.9zM262.6 560.2h0.9v0.9h-0.9zM280.3 558.2h0.9v0.9h-0.9zM272.5 563.3h0.9v0.9h-0.9zM260.5 562.6h0.9v0.9h-0.9zM267.2 576.0h0.9v0.9h-0.9zM270.7 558.0h0.9v0.9h-0.9zM260.6 555.2h0.9v0.9h-0.9zM275.6 566.0h0.9v0.9h-0.9zM265.4 564.3h0.9v0.9h-0.9zM273.3 567.4h0.9v0.9h-0.9zM274.2 562.1h0.9v0.9h-0.9zM276.5 556.7h0.9v0.9h-0.9zM270.4 559.0h0.9v0.9h-0.9zM277.1 566.3h0.9v0.9h-0.9zM270.0 568.6h0.9v0.9h-0.9zM263.7 565.9h0.9v0.9h-0.9zM265.9 555.9h0.9v0.9h-0.9zM270.8 557.1h0.9v0.9h-0.9zM278.4 564.9h0.9v0.9h-0.9zM274.4 561.3h0.9v0.9h-0.9zM279.8 560.5h0.9v0.9h-0.9zM269.6 553.5h0.9v0.9h-0.9zM262.3 561.8h0.9v0.9h-0.9zM275.4 554.5h0.9v0.9h-0.9zM269.2 558.3h0.9v0.9h-0.9zM279.7 561.3h0.9v0.9h-0.9zM275.4 569.1h0.9v0.9h-0.9zM261.9 562.8h0.9v0.9h-0.9zM264.3 569.6h0.9v0.9h-0.9zM263.8 566.2h0.9v0.9h-0.9zM272.4 566.7h0.9v0.9h-0.9zM265.2 574.9h0.9v0.9h-0.9zM268.4 558.1h0.9v0.9h-0.9z" fill="#000"/>
<path d="M242.2 570.5h0.9v0.9h-0.9zM232.0 559.6h0.9v0.9h-0.9zM256.6 558.9h0.9v0.9h-0.9zM236.6 562.2h0.9v0.9h-0.9zM241.9 577.2h0.9v0.9h-0.9zM249.9 573.6h0.9v0.9h-0.9zM233.7 569.0h0.9v0.9h-0.9zM243.0 570.0h0.9v0.9h-0.9zM240.2 568.6h0.9v0.9h-0.9zM237.5 560.4h0.9v0.9h-0.9zM239.8 564.7h0.9v0.9h-0.9zM244.1 567.1h0.9v0.9h-0.9zM250.5 561.7h0.9v0.9h-0.9zM232.0 560.8h0.9v0.9h-0.9zM242.6 564.4h0.9v0.9h-0.9zM241.9 571.4h0.9v0.9h-0.9zM248.2 566.3h0.9v0.9h-0.9zM242.2 563.0h0.9v0.9h-0.9zM238.1 574.2h0.9v0.9h-0.9zM241.0 566.4h0.9v0.9h-0.9zM240.7 564.9h0.9v0.9h-0.9zM238.9 556.1h0.9v0.9h-0.9z" fill="#000"/>
<path d="M274.8 582.3h0.9v0.9h-0.9zM277.0 605.1h0.9v0.9h-0.9zM289.6 588.8h0.9v0.9h-0.9zM279.9 605.3h0.9v0.9h-0.9zM276.1 590.7h0.9v0.9h-0.9zM265.8 604.8h0.9v0.9h-0.9zM287.7 581.4h0.9v0.9h-0.9zM274.8 595.6h0.9v0.9h-0.9zM268.5 587.6h0.9v0.9h-0.9zM283.9 590.4h0.9v0.9h-0.9zM260.9 599.7h0.9v0.9h-0.9zM282.2 610.1h0.9v0.9h-0.9z" fill="#000"/>
<path d="M325.5 617 L325.5 583 L329 581.8 L335.6 579.9 L342.1 577.9 L346 576.3 L351.3 578.6 L355.2 584.4 L356.5 590 L356.8 617Z" fill="#000"/>
<path d="M356.9 612.3h0.9v0.9h-0.9zM360.0 595.6h0.9v0.9h-0.9zM347.8 575.7h0.9v0.9h-0.9zM357.1 599.2h0.9v0.9h-0.9zM357.8 602.5h0.9v0.9h-0.9zM325.2 606.7h0.9v0.9h-0.9zM337.0 576.3h0.9v0.9h-0.9zM355.2 581.8h0.9v0.9h-0.9zM357.7 614.1h0.9v0.9h-0.9zM325.3 605.9h0.9v0.9h-0.9zM357.2 607.6h0.9v0.9h-0.9zM356.7 595.5h0.9v0.9h-0.9zM357.4 600.0h0.9v0.9h-0.9zM331.2 579.5h0.9v0.9h-0.9zM357.1 609.1h0.9v0.9h-0.9zM358.2 583.5h0.9v0.9h-0.9zM357.0 614.0h0.9v0.9h-0.9zM347.3 574.2h0.9v0.9h-0.9zM356.7 590.3h0.9v0.9h-0.9zM344.3 576.0h0.9v0.9h-0.9zM323.9 601.7h0.9v0.9h-0.9zM338.5 578.4h0.9v0.9h-0.9zM359.9 609.5h0.9v0.9h-0.9zM358.2 613.5h0.9v0.9h-0.9zM322.3 611.1h0.9v0.9h-0.9zM324.9 615.0h0.9v0.9h-0.9zM352.6 578.9h0.9v0.9h-0.9zM324.7 607.4h0.9v0.9h-0.9zM325.1 592.2h0.9v0.9h-0.9zM341.2 576.2h0.9v0.9h-0.9zM358.3 608.6h0.9v0.9h-0.9zM358.6 599.6h0.9v0.9h-0.9zM349.1 577.3h0.9v0.9h-0.9zM331.2 580.5h0.9v0.9h-0.9zM324.3 615.3h0.9v0.9h-0.9zM342.4 577.5h0.9v0.9h-0.9zM357.4 598.7h0.9v0.9h-0.9zM323.4 594.2h0.9v0.9h-0.9zM325.1 589.8h0.9v0.9h-0.9zM334.9 577.9h0.9v0.9h-0.9zM327.0 580.8h0.9v0.9h-0.9zM332.9 578.8h0.9v0.9h-0.9zM324.3 609.0h0.9v0.9h-0.9zM358.7 608.5h0.9v0.9h-0.9zM325.3 586.8h0.9v0.9h-0.9zM324.4 596.9h0.9v0.9h-0.9zM336.1 579.2h0.9v0.9h-0.9zM356.1 585.8h0.9v0.9h-0.9zM356.7 602.8h0.9v0.9h-0.9zM325.1 600.8h0.9v0.9h-0.9zM356.6 595.1h0.9v0.9h-0.9zM358.0 598.3h0.9v0.9h-0.9zM354.6 583.5h0.9v0.9h-0.9zM353.5 580.1h0.9v0.9h-0.9zM333.4 577.1h0.9v0.9h-0.9zM335.1 580.0h0.9v0.9h-0.9zM323.3 590.9h0.9v0.9h-0.9zM324.9 605.2h0.9v0.9h-0.9zM327.8 582.1h0.9v0.9h-0.9zM325.2 597.2h0.9v0.9h-0.9zM325.1 615.9h0.9v0.9h-0.9zM324.4 606.5h0.9v0.9h-0.9zM323.0 611.6h0.9v0.9h-0.9zM343.5 575.9h0.9v0.9h-0.9zM325.1 593.9h0.9v0.9h-0.9zM324.6 594.0h0.9v0.9h-0.9zM358.4 587.4h0.9v0.9h-0.9zM357.4 595.4h0.9v0.9h-0.9zM357.8 602.9h0.9v0.9h-0.9zM357.3 613.0h0.9v0.9h-0.9zM322.7 615.3h0.9v0.9h-0.9zM324.5 596.1h0.9v0.9h-0.9zM357.6 602.7h0.9v0.9h-0.9zM357.5 611.7h0.9v0.9h-0.9zM324.0 607.5h0.9v0.9h-0.9zM356.8 591.1h0.9v0.9h-0.9zM323.8 594.1h0.9v0.9h-0.9zM325.2 595.9h0.9v0.9h-0.9zM324.6 596.9h0.9v0.9h-0.9zM356.1 584.1h0.9v0.9h-0.9zM357.6 589.9h0.9v0.9h-0.9zM357.7 605.6h0.9v0.9h-0.9zM330.2 581.4h0.9v0.9h-0.9zM357.4 582.0h0.9v0.9h-0.9zM340.9 576.9h0.9v0.9h-0.9zM325.3 605.7h0.9v0.9h-0.9zM339.8 576.8h0.9v0.9h-0.9zM356.9 598.9h0.9v0.9h-0.9zM324.3 606.9h0.9v0.9h-0.9zM359.9 606.7h0.9v0.9h-0.9zM357.9 607.2h0.9v0.9h-0.9zM333.0 579.8h0.9v0.9h-0.9zM325.1 606.2h0.9v0.9h-0.9zM325.3 609.0h0.9v0.9h-0.9zM324.4 605.2h0.9v0.9h-0.9zM324.8 608.6h0.9v0.9h-0.9zM356.9 608.4h0.9v0.9h-0.9zM325.3 595.8h0.9v0.9h-0.9zM344.5 575.6h0.9v0.9h-0.9zM324.6 594.1h0.9v0.9h-0.9zM323.9 591.2h0.9v0.9h-0.9zM323.7 605.9h0.9v0.9h-0.9zM324.7 600.8h0.9v0.9h-0.9zM358.5 588.4h0.9v0.9h-0.9zM347.6 575.9h0.9v0.9h-0.9zM356.9 599.2h0.9v0.9h-0.9zM323.2 611.4h0.9v0.9h-0.9zM357.7 615.5h0.9v0.9h-0.9zM325.3 595.0h0.9v0.9h-0.9zM357.0 585.7h0.9v0.9h-0.9zM358.3 602.3h0.9v0.9h-0.9zM325.0 600.1h0.9v0.9h-0.9zM340.3 576.0h0.9v0.9h-0.9zM324.0 614.9h0.9v0.9h-0.9zM346.3 576.4h0.9v0.9h-0.9zM323.4 585.2h0.9v0.9h-0.9zM324.4 599.0h0.9v0.9h-0.9zM325.0 593.5h0.9v0.9h-0.9zM324.3 611.1h0.9v0.9h-0.9zM324.1 593.6h0.9v0.9h-0.9zM352.4 579.8h0.9v0.9h-0.9zM357.2 613.3h0.9v0.9h-0.9zM346.3 575.7h0.9v0.9h-0.9zM324.8 587.9h0.9v0.9h-0.9zM358.9 609.4h0.9v0.9h-0.9zM340.2 577.4h0.9v0.9h-0.9zM351.8 578.9h0.9v0.9h-0.9zM342.5 576.1h0.9v0.9h-0.9zM357.2 604.7h0.9v0.9h-0.9zM357.2 602.6h0.9v0.9h-0.9zM325.3 586.7h0.9v0.9h-0.9zM354.2 580.8h0.9v0.9h-0.9zM357.2 598.1h0.9v0.9h-0.9zM356.4 585.4h0.9v0.9h-0.9zM356.7 599.5h0.9v0.9h-0.9zM327.4 581.4h0.9v0.9h-0.9zM324.3 597.9h0.9v0.9h-0.9zM325.2 598.4h0.9v0.9h-0.9zM340.8 577.5h0.9v0.9h-0.9zM325.4 588.6h0.9v0.9h-0.9zM325.3 587.8h0.9v0.9h-0.9zM358.5 614.3h0.9v0.9h-0.9zM324.7 610.0h0.9v0.9h-0.9zM357.0 615.1h0.9v0.9h-0.9zM352.9 580.8h0.9v0.9h-0.9zM337.8 579.2h0.9v0.9h-0.9zM356.0 582.8h0.9v0.9h-0.9zM325.0 585.2h0.9v0.9h-0.9zM323.4 610.9h0.9v0.9h-0.9zM332.9 579.9h0.9v0.9h-0.9zM345.1 575.5h0.9v0.9h-0.9zM331.5 580.8h0.9v0.9h-0.9zM357.5 603.4h0.9v0.9h-0.9zM357.6 613.0h0.9v0.9h-0.9zM325.4 600.9h0.9v0.9h-0.9zM342.2 577.8h0.9v0.9h-0.9zM348.5 576.5h0.9v0.9h-0.9zM357.2 591.9h0.9v0.9h-0.9zM325.4 600.0h0.9v0.9h-0.9zM356.8 614.6h0.9v0.9h-0.9zM358.1 595.3h0.9v0.9h-0.9zM358.2 607.6h0.9v0.9h-0.9zM323.7 609.8h0.9v0.9h-0.9zM342.9 577.2h0.9v0.9h-0.9zM324.8 605.4h0.9v0.9h-0.9zM323.7 604.0h0.9v0.9h-0.9zM358.2 609.6h0.9v0.9h-0.9zM324.7 597.1h0.9v0.9h-0.9zM355.2 583.6h0.9v0.9h-0.9zM326.7 582.2h0.9v0.9h-0.9zM345.7 574.8h0.9v0.9h-0.9zM347.8 575.5h0.9v0.9h-0.9zM324.0 611.7h0.9v0.9h-0.9zM327.2 582.3h0.9v0.9h-0.9zM357.9 603.4h0.9v0.9h-0.9zM355.6 583.1h0.9v0.9h-0.9zM324.8 593.9h0.9v0.9h-0.9zM324.8 616.0h0.9v0.9h-0.9zM357.0 608.2h0.9v0.9h-0.9zM324.4 616.1h0.9v0.9h-0.9zM357.4 603.9h0.9v0.9h-0.9zM349.4 575.5h0.9v0.9h-0.9zM358.0 599.3h0.9v0.9h-0.9zM348.0 575.9h0.9v0.9h-0.9zM324.9 606.0h0.9v0.9h-0.9zM357.5 595.1h0.9v0.9h-0.9zM324.2 602.0h0.9v0.9h-0.9zM325.3 597.3h0.9v0.9h-0.9zM327.2 582.3h0.9v0.9h-0.9zM357.5 613.9h0.9v0.9h-0.9zM341.6 577.7h0.9v0.9h-0.9zM337.9 578.8h0.9v0.9h-0.9zM331.4 577.4h0.9v0.9h-0.9zM358.5 595.5h0.9v0.9h-0.9zM323.8 582.8h0.9v0.9h-0.9zM324.9 605.5h0.9v0.9h-0.9zM328.0 578.9h0.9v0.9h-0.9zM331.1 580.6h0.9v0.9h-0.9zM357.5 589.3h0.9v0.9h-0.9zM325.3 613.8h0.9v0.9h-0.9z" fill="#000"/>
<path d="M323.7 589.1h0.9v0.9h-0.9zM324.3 615.8h0.9v0.9h-0.9zM324.1 604.5h0.9v0.9h-0.9zM324.5 602.7h0.9v0.9h-0.9zM319.0 586.4h0.9v0.9h-0.9zM321.6 599.9h0.9v0.9h-0.9zM320.3 598.0h0.9v0.9h-0.9zM322.1 596.7h0.9v0.9h-0.9zM320.6 612.5h0.9v0.9h-0.9zM322.1 610.6h0.9v0.9h-0.9zM323.6 584.1h0.9v0.9h-0.9zM324.6 580.2h0.9v0.9h-0.9zM325.3 611.9h0.9v0.9h-0.9zM324.5 612.9h0.9v0.9h-0.9zM320.0 603.0h0.9v0.9h-0.9zM321.7 601.4h0.9v0.9h-0.9zM320.4 597.9h0.9v0.9h-0.9zM322.0 579.9h0.9v0.9h-0.9zM321.2 587.6h0.9v0.9h-0.9zM324.7 603.0h0.9v0.9h-0.9zM322.8 589.6h0.9v0.9h-0.9zM322.1 602.6h0.9v0.9h-0.9zM320.0 598.0h0.9v0.9h-0.9zM319.8 605.7h0.9v0.9h-0.9zM325.1 599.9h0.9v0.9h-0.9zM321.7 614.4h0.9v0.9h-0.9zM321.8 602.8h0.9v0.9h-0.9zM323.3 602.4h0.9v0.9h-0.9zM325.0 591.8h0.9v0.9h-0.9zM322.0 599.1h0.9v0.9h-0.9zM321.2 600.7h0.9v0.9h-0.9zM321.4 600.0h0.9v0.9h-0.9zM319.4 590.5h0.9v0.9h-0.9zM325.2 595.8h0.9v0.9h-0.9zM320.1 595.2h0.9v0.9h-0.9zM321.4 591.1h0.9v0.9h-0.9zM319.0 593.2h0.9v0.9h-0.9zM320.0 607.0h0.9v0.9h-0.9zM320.2 586.5h0.9v0.9h-0.9zM320.7 602.5h0.9v0.9h-0.9zM319.9 613.5h0.9v0.9h-0.9zM321.0 586.7h0.9v0.9h-0.9zM324.2 599.0h0.9v0.9h-0.9zM321.4 589.5h0.9v0.9h-0.9zM325.4 596.4h0.9v0.9h-0.9zM319.1 589.9h0.9v0.9h-0.9zM325.3 613.2h0.9v0.9h-0.9zM319.1 588.2h0.9v0.9h-0.9zM323.4 602.5h0.9v0.9h-0.9zM321.9 597.3h0.9v0.9h-0.9zM324.1 592.0h0.9v0.9h-0.9zM322.3 597.6h0.9v0.9h-0.9zM324.9 597.5h0.9v0.9h-0.9zM321.8 606.5h0.9v0.9h-0.9zM322.6 587.0h0.9v0.9h-0.9zM318.1 601.1h0.9v0.9h-0.9zM318.0 595.3h0.9v0.9h-0.9zM320.8 599.2h0.9v0.9h-0.9zM320.9 599.0h0.9v0.9h-0.9zM325.4 605.4h0.9v0.9h-0.9zM320.8 598.9h0.9v0.9h-0.9zM320.4 605.0h0.9v0.9h-0.9zM320.6 603.3h0.9v0.9h-0.9zM320.9 601.9h0.9v0.9h-0.9zM320.9 607.0h0.9v0.9h-0.9zM322.3 593.7h0.9v0.9h-0.9zM323.9 592.0h0.9v0.9h-0.9zM320.9 606.6h0.9v0.9h-0.9zM321.5 607.0h0.9v0.9h-0.9zM322.2 609.8h0.9v0.9h-0.9zM322.9 602.3h0.9v0.9h-0.9zM323.3 590.3h0.9v0.9h-0.9zM320.4 590.9h0.9v0.9h-0.9zM322.3 598.3h0.9v0.9h-0.9zM320.1 605.7h0.9v0.9h-0.9zM322.0 579.4h0.9v0.9h-0.9zM319.6 587.3h0.9v0.9h-0.9zM320.0 613.2h0.9v0.9h-0.9zM319.4 609.0h0.9v0.9h-0.9zM322.5 603.1h0.9v0.9h-0.9zM322.5 605.0h0.9v0.9h-0.9zM324.4 612.5h0.9v0.9h-0.9zM321.3 604.6h0.9v0.9h-0.9zM321.9 613.5h0.9v0.9h-0.9zM323.5 615.6h0.9v0.9h-0.9zM319.3 605.6h0.9v0.9h-0.9zM322.0 609.8h0.9v0.9h-0.9zM320.0 588.5h0.9v0.9h-0.9zM325.1 604.3h0.9v0.9h-0.9zM318.7 597.0h0.9v0.9h-0.9zM322.2 603.5h0.9v0.9h-0.9zM324.0 597.6h0.9v0.9h-0.9zM321.9 601.5h0.9v0.9h-0.9zM321.8 596.1h0.9v0.9h-0.9zM319.7 586.0h0.9v0.9h-0.9zM320.7 596.0h0.9v0.9h-0.9zM324.7 596.5h0.9v0.9h-0.9zM323.2 615.0h0.9v0.9h-0.9zM321.4 608.8h0.9v0.9h-0.9zM318.0 604.3h0.9v0.9h-0.9zM319.4 595.5h0.9v0.9h-0.9zM318.5 599.1h0.9v0.9h-0.9zM323.9 596.5h0.9v0.9h-0.9zM321.0 579.1h0.9v0.9h-0.9zM320.2 594.3h0.9v0.9h-0.9zM319.8 582.4h0.9v0.9h-0.9zM319.9 606.4h0.9v0.9h-0.9zM318.9 595.4h0.9v0.9h-0.9zM321.4 598.4h0.9v0.9h-0.9zM319.3 593.4h0.9v0.9h-0.9zM322.9 586.5h0.9v0.9h-0.9zM321.2 584.5h0.9v0.9h-0.9zM322.7 611.5h0.9v0.9h-0.9zM320.8 591.5h0.9v0.9h-0.9zM320.9 608.1h0.9v0.9h-0.9zM323.5 592.8h0.9v0.9h-0.9zM320.7 602.3h0.9v0.9h-0.9zM320.2 597.6h0.9v0.9h-0.9zM325.3 597.3h0.9v0.9h-0.9zM322.7 592.3h0.9v0.9h-0.9zM320.0 609.7h0.9v0.9h-0.9zM321.9 606.1h0.9v0.9h-0.9zM319.3 615.5h0.9v0.9h-0.9zM323.3 586.4h0.9v0.9h-0.9zM321.4 594.3h0.9v0.9h-0.9zM322.9 601.8h0.9v0.9h-0.9zM323.2 602.3h0.9v0.9h-0.9zM323.2 611.8h0.9v0.9h-0.9zM320.7 595.0h0.9v0.9h-0.9zM321.6 591.2h0.9v0.9h-0.9zM323.2 577.8h0.9v0.9h-0.9zM323.0 586.9h0.9v0.9h-0.9zM323.2 614.2h0.9v0.9h-0.9zM322.6 611.2h0.9v0.9h-0.9zM319.5 595.9h0.9v0.9h-0.9zM321.9 608.5h0.9v0.9h-0.9zM319.5 608.3h0.9v0.9h-0.9zM323.4 596.2h0.9v0.9h-0.9zM322.6 599.0h0.9v0.9h-0.9zM320.7 599.7h0.9v0.9h-0.9zM324.2 603.3h0.9v0.9h-0.9zM319.3 594.8h0.9v0.9h-0.9zM320.5 604.3h0.9v0.9h-0.9zM322.1 603.6h0.9v0.9h-0.9zM321.1 616.0h0.9v0.9h-0.9zM324.3 611.6h0.9v0.9h-0.9zM318.5 596.4h0.9v0.9h-0.9zM318.3 603.6h0.9v0.9h-0.9zM321.4 609.8h0.9v0.9h-0.9zM318.8 602.7h0.9v0.9h-0.9zM320.0 602.2h0.9v0.9h-0.9zM320.9 595.0h0.9v0.9h-0.9zM323.2 589.8h0.9v0.9h-0.9zM323.3 597.9h0.9v0.9h-0.9zM324.3 604.2h0.9v0.9h-0.9zM319.7 601.9h0.9v0.9h-0.9zM322.4 608.6h0.9v0.9h-0.9zM320.7 610.2h0.9v0.9h-0.9zM318.2 594.5h0.9v0.9h-0.9zM321.0 608.1h0.9v0.9h-0.9zM321.5 585.6h0.9v0.9h-0.9zM320.5 599.8h0.9v0.9h-0.9zM321.5 598.5h0.9v0.9h-0.9zM321.6 604.4h0.9v0.9h-0.9zM320.1 591.2h0.9v0.9h-0.9zM319.6 582.4h0.9v0.9h-0.9zM320.1 571.6h0.9v0.9h-0.9zM324.8 589.8h0.9v0.9h-0.9zM319.5 583.7h0.9v0.9h-0.9zM320.5 601.4h0.9v0.9h-0.9zM323.6 604.9h0.9v0.9h-0.9zM320.6 607.9h0.9v0.9h-0.9zM321.1 611.8h0.9v0.9h-0.9zM319.9 611.3h0.9v0.9h-0.9zM323.7 603.4h0.9v0.9h-0.9zM323.6 602.8h0.9v0.9h-0.9zM324.9 590.8h0.9v0.9h-0.9zM322.5 599.7h0.9v0.9h-0.9zM324.2 585.1h0.9v0.9h-0.9zM320.8 611.4h0.9v0.9h-0.9zM321.9 592.3h0.9v0.9h-0.9zM322.4 586.2h0.9v0.9h-0.9zM321.6 609.4h0.9v0.9h-0.9zM319.4 588.0h0.9v0.9h-0.9zM323.0 603.1h0.9v0.9h-0.9zM319.2 592.8h0.9v0.9h-0.9zM321.7 590.4h0.9v0.9h-0.9zM325.3 593.6h0.9v0.9h-0.9zM320.6 602.0h0.9v0.9h-0.9zM321.5 593.2h0.9v0.9h-0.9zM320.4 584.2h0.9v0.9h-0.9zM321.8 604.6h0.9v0.9h-0.9zM318.2 609.1h0.9v0.9h-0.9zM322.0 603.6h0.9v0.9h-0.9zM321.5 601.8h0.9v0.9h-0.9zM319.6 592.2h0.9v0.9h-0.9zM322.1 593.9h0.9v0.9h-0.9zM321.8 589.2h0.9v0.9h-0.9zM322.7 602.5h0.9v0.9h-0.9zM319.6 609.2h0.9v0.9h-0.9zM323.7 600.8h0.9v0.9h-0.9zM319.8 602.5h0.9v0.9h-0.9zM323.9 604.1h0.9v0.9h-0.9zM323.4 599.0h0.9v0.9h-0.9zM318.6 604.4h0.9v0.9h-0.9zM323.0 610.2h0.9v0.9h-0.9zM320.9 593.5h0.9v0.9h-0.9zM323.9 602.6h0.9v0.9h-0.9zM324.3 610.5h0.9v0.9h-0.9zM321.1 613.9h0.9v0.9h-0.9z" fill="#000"/>
<path d="M344.8 558.6h0.9v0.9h-0.9zM349.3 557.3h0.9v0.9h-0.9zM349.7 566.7h0.9v0.9h-0.9zM343.1 548.0h0.9v0.9h-0.9zM344.6 565.2h0.9v0.9h-0.9zM347.4 560.4h0.9v0.9h-0.9zM344.0 564.6h0.9v0.9h-0.9zM346.6 551.4h0.9v0.9h-0.9zM347.2 565.0h0.9v0.9h-0.9zM346.6 548.6h0.9v0.9h-0.9zM343.6 564.0h0.9v0.9h-0.9zM347.3 562.6h0.9v0.9h-0.9zM347.2 560.8h0.9v0.9h-0.9zM345.6 556.7h0.9v0.9h-0.9zM344.3 556.4h0.9v0.9h-0.9zM347.7 560.4h0.9v0.9h-0.9zM343.2 557.1h0.9v0.9h-0.9zM342.2 563.1h0.9v0.9h-0.9zM346.7 573.5h0.9v0.9h-0.9zM347.2 560.4h0.9v0.9h-0.9zM347.1 572.6h0.9v0.9h-0.9zM341.8 548.6h0.9v0.9h-0.9zM345.2 564.5h0.9v0.9h-0.9zM349.0 566.9h0.9v0.9h-0.9zM348.4 571.8h0.9v0.9h-0.9zM344.4 565.7h0.9v0.9h-0.9zM346.4 565.3h0.9v0.9h-0.9zM348.1 550.1h0.9v0.9h-0.9zM344.0 552.8h0.9v0.9h-0.9zM345.4 565.1h0.9v0.9h-0.9zM343.7 565.4h0.9v0.9h-0.9zM347.3 566.5h0.9v0.9h-0.9zM345.7 560.7h0.9v0.9h-0.9zM347.2 558.4h0.9v0.9h-0.9zM343.5 554.2h0.9v0.9h-0.9zM343.9 566.9h0.9v0.9h-0.9zM342.7 566.4h0.9v0.9h-0.9zM347.1 561.2h0.9v0.9h-0.9zM347.0 569.5h0.9v0.9h-0.9zM343.0 566.4h0.9v0.9h-0.9zM345.3 559.1h0.9v0.9h-0.9zM345.8 554.4h0.9v0.9h-0.9zM342.1 565.2h0.9v0.9h-0.9zM346.9 569.3h0.9v0.9h-0.9zM345.7 561.9h0.9v0.9h-0.9zM347.2 565.6h0.9v0.9h-0.9zM345.4 558.5h0.9v0.9h-0.9zM344.1 573.9h0.9v0.9h-0.9zM346.3 555.8h0.9v0.9h-0.9zM345.4 561.8h0.9v0.9h-0.9zM349.2 566.3h0.9v0.9h-0.9zM347.6 564.5h0.9v0.9h-0.9zM347.5 566.1h0.9v0.9h-0.9zM345.2 570.0h0.9v0.9h-0.9zM346.6 562.1h0.9v0.9h-0.9zM344.7 561.7h0.9v0.9h-0.9zM349.5 570.4h0.9v0.9h-0.9zM346.2 554.6h0.9v0.9h-0.9zM344.8 566.2h0.9v0.9h-0.9zM346.4 562.6h0.9v0.9h-0.9zM344.6 558.4h0.9v0.9h-0.9zM345.5 563.4h0.9v0.9h-0.9zM347.8 560.8h0.9v0.9h-0.9zM343.5 567.0h0.9v0.9h-0.9zM342.8 570.8h0.9v0.9h-0.9zM347.4 566.0h0.9v0.9h-0.9zM347.4 555.6h0.9v0.9h-0.9zM344.4 554.0h0.9v0.9h-0.9zM348.3 566.0h0.9v0.9h-0.9zM349.5 568.0h0.9v0.9h-0.9zM347.4 556.9h0.9v0.9h-0.9zM346.0 568.6h0.9v0.9h-0.9zM346.6 562.4h0.9v0.9h-0.9zM351.8 553.4h0.9v0.9h-0.9zM341.9 573.1h0.9v0.9h-0.9zM346.0 572.6h0.9v0.9h-0.9zM346.9 560.1h0.9v0.9h-0.9zM347.0 552.9h0.9v0.9h-0.9zM346.2 565.0h0.9v0.9h-0.9zM348.8 559.2h0.9v0.9h-0.9zM347.0 564.1h0.9v0.9h-0.9zM345.7 557.6h0.9v0.9h-0.9zM344.3 568.2h0.9v0.9h-0.9zM347.6 573.7h0.9v0.9h-0.9zM347.4 551.5h0.9v0.9h-0.9zM344.8 563.3h0.9v0.9h-0.9zM349.5 561.5h0.9v0.9h-0.9zM347.9 554.6h0.9v0.9h-0.9zM343.4 564.7h0.9v0.9h-0.9zM343.2 568.1h0.9v0.9h-0.9zM347.2 556.0h0.9v0.9h-0.9zM344.2 564.8h0.9v0.9h-0.9zM346.5 553.8h0.9v0.9h-0.9zM344.0 559.2h0.9v0.9h-0.9zM345.5 565.9h0.9v0.9h-0.9zM345.7 565.8h0.9v0.9h-0.9zM349.8 569.6h0.9v0.9h-0.9zM343.4 570.7h0.9v0.9h-0.9zM343.9 558.6h0.9v0.9h-0.9zM343.1 569.8h0.9v0.9h-0.9zM345.7 562.0h0.9v0.9h-0.9zM345.9 552.1h0.9v0.9h-0.9zM344.3 561.2h0.9v0.9h-0.9zM347.5 572.9h0.9v0.9h-0.9zM345.8 562.5h0.9v0.9h-0.9zM343.4 553.2h0.9v0.9h-0.9zM347.4 568.5h0.9v0.9h-0.9zM345.6 575.1h0.9v0.9h-0.9zM347.7 565.4h0.9v0.9h-0.9zM347.9 560.4h0.9v0.9h-0.9z" fill="#000"/>
<path d="M362.8 558.2h0.9v0.9h-0.9zM367.8 547.0h0.9v0.9h-0.9zM367.5 551.7h0.9v0.9h-0.9zM381.2 552.9h0.9v0.9h-0.9zM375.3 557.9h0.9v0.9h-0.9zM367.2 553.9h0.9v0.9h-0.9zM367.1 548.8h0.9v0.9h-0.9zM367.0 565.8h0.9v0.9h-0.9zM366.7 557.8h0.9v0.9h-0.9zM371.6 554.1h0.9v0.9h-0.9zM372.5 555.3h0.9v0.9h-0.9zM368.4 547.7h0.9v0.9h-0.9zM376.6 555.5h0.9v0.9h-0.9zM371.0 560.3h0.9v0.9h-0.9zM369.6 545.6h0.9v0.9h-0.9zM374.6 546.6h0.9v0.9h-0.9zM364.6 565.4h0.9v0.9h-0.9zM378.8 562.6h0.9v0.9h-0.9zM364.2 554.3h0.9v0.9h-0.9zM376.0 558.8h0.9v0.9h-0.9zM366.0 548.8h0.9v0.9h-0.9zM371.3 562.6h0.9v0.9h-0.9zM367.0 556.3h0.9v0.9h-0.9zM371.2 553.9h0.9v0.9h-0.9zM363.4 559.2h0.9v0.9h-0.9zM381.2 558.2h0.9v0.9h-0.9zM370.9 547.3h0.9v0.9h-0.9zM362.7 558.8h0.9v0.9h-0.9zM367.6 556.6h0.9v0.9h-0.9zM361.6 551.6h0.9v0.9h-0.9z" fill="#000"/>
<path d="M352.5 574.0h0.9v0.9h-0.9zM320.8 544.8h0.9v0.9h-0.9zM322.9 554.1h0.9v0.9h-0.9zM360.4 560.8h0.9v0.9h-0.9zM334.2 558.2h0.9v0.9h-0.9zM326.8 564.6h0.9v0.9h-0.9zM327.2 569.7h0.9v0.9h-0.9zM329.8 578.9h0.9v0.9h-0.9zM343.7 555.1h0.9v0.9h-0.9zM347.5 562.7h0.9v0.9h-0.9zM321.2 560.1h0.9v0.9h-0.9zM323.4 563.0h0.9v0.9h-0.9zM338.2 576.7h0.9v0.9h-0.9zM331.5 554.2h0.9v0.9h-0.9zM328.3 542.0h0.9v0.9h-0.9zM349.6 553.9h0.9v0.9h-0.9zM352.4 565.0h0.9v0.9h-0.9zM332.9 553.9h0.9v0.9h-0.9zM328.7 548.7h0.9v0.9h-0.9zM328.6 555.9h0.9v0.9h-0.9zM339.2 562.2h0.9v0.9h-0.9zM340.1 565.1h0.9v0.9h-0.9zM329.3 553.5h0.9v0.9h-0.9zM333.0 567.8h0.9v0.9h-0.9zM348.2 572.2h0.9v0.9h-0.9z" fill="#000"/>
<path d="M412 617 L412 584.4 L417.8 582.5 L425.7 579.9 L433.5 577.9 L440 576.6 L447.9 577.3 L451.8 579.9 L453.8 584.4 L454 617Z" fill="#000"/>
<path d="M455.1 580.7h0.9v0.9h-0.9zM413.7 583.8h0.9v0.9h-0.9zM412.0 602.2h0.9v0.9h-0.9zM455.1 607.5h0.9v0.9h-0.9zM452.0 579.6h0.9v0.9h-0.9zM457.6 611.9h0.9v0.9h-0.9zM411.6 591.9h0.9v0.9h-0.9zM454.7 588.4h0.9v0.9h-0.9zM451.1 577.2h0.9v0.9h-0.9zM429.2 577.5h0.9v0.9h-0.9zM440.1 576.4h0.9v0.9h-0.9zM456.5 606.5h0.9v0.9h-0.9zM450.6 579.1h0.9v0.9h-0.9zM454.8 580.8h0.9v0.9h-0.9zM455.1 610.9h0.9v0.9h-0.9zM454.2 605.3h0.9v0.9h-0.9zM455.0 590.0h0.9v0.9h-0.9zM454.0 603.1h0.9v0.9h-0.9zM454.0 601.2h0.9v0.9h-0.9zM413.9 580.2h0.9v0.9h-0.9zM454.2 601.6h0.9v0.9h-0.9zM451.5 578.6h0.9v0.9h-0.9zM411.5 589.6h0.9v0.9h-0.9zM454.9 614.0h0.9v0.9h-0.9zM438.7 576.0h0.9v0.9h-0.9zM455.1 614.0h0.9v0.9h-0.9zM411.8 585.0h0.9v0.9h-0.9zM454.2 587.5h0.9v0.9h-0.9zM429.7 575.8h0.9v0.9h-0.9zM457.7 602.6h0.9v0.9h-0.9zM452.6 581.5h0.9v0.9h-0.9zM411.9 587.4h0.9v0.9h-0.9zM428.2 578.4h0.9v0.9h-0.9zM455.0 613.3h0.9v0.9h-0.9zM442.6 576.7h0.9v0.9h-0.9zM456.1 614.0h0.9v0.9h-0.9zM435.2 574.5h0.9v0.9h-0.9zM423.2 577.9h0.9v0.9h-0.9zM455.0 590.9h0.9v0.9h-0.9zM456.0 596.5h0.9v0.9h-0.9zM411.8 592.8h0.9v0.9h-0.9zM454.7 594.6h0.9v0.9h-0.9zM423.1 579.3h0.9v0.9h-0.9zM453.6 580.1h0.9v0.9h-0.9zM411.5 602.3h0.9v0.9h-0.9zM411.9 593.0h0.9v0.9h-0.9zM454.8 614.2h0.9v0.9h-0.9zM454.5 611.2h0.9v0.9h-0.9zM455.1 595.4h0.9v0.9h-0.9zM440.8 574.9h0.9v0.9h-0.9zM411.6 605.2h0.9v0.9h-0.9zM417.9 581.0h0.9v0.9h-0.9zM454.8 603.1h0.9v0.9h-0.9zM456.6 592.7h0.9v0.9h-0.9zM455.2 610.6h0.9v0.9h-0.9zM449.9 578.4h0.9v0.9h-0.9zM452.3 580.0h0.9v0.9h-0.9zM454.6 594.1h0.9v0.9h-0.9zM454.1 586.9h0.9v0.9h-0.9zM419.8 580.2h0.9v0.9h-0.9zM436.8 576.0h0.9v0.9h-0.9zM415.4 582.3h0.9v0.9h-0.9zM454.0 595.0h0.9v0.9h-0.9zM455.5 579.9h0.9v0.9h-0.9zM454.1 601.2h0.9v0.9h-0.9zM457.7 599.8h0.9v0.9h-0.9zM449.0 575.4h0.9v0.9h-0.9zM453.9 599.9h0.9v0.9h-0.9zM411.9 596.8h0.9v0.9h-0.9zM411.5 614.9h0.9v0.9h-0.9zM443.0 576.2h0.9v0.9h-0.9zM424.0 580.3h0.9v0.9h-0.9zM432.3 576.7h0.9v0.9h-0.9zM439.0 574.3h0.9v0.9h-0.9zM413.3 583.9h0.9v0.9h-0.9zM447.5 575.4h0.9v0.9h-0.9zM449.8 575.8h0.9v0.9h-0.9zM425.4 577.0h0.9v0.9h-0.9zM418.5 581.2h0.9v0.9h-0.9zM424.8 577.9h0.9v0.9h-0.9zM454.5 591.8h0.9v0.9h-0.9zM437.6 576.0h0.9v0.9h-0.9zM411.5 602.8h0.9v0.9h-0.9zM440.6 575.8h0.9v0.9h-0.9zM432.3 576.8h0.9v0.9h-0.9zM449.1 577.3h0.9v0.9h-0.9zM411.9 589.1h0.9v0.9h-0.9zM442.8 576.0h0.9v0.9h-0.9zM443.8 574.9h0.9v0.9h-0.9zM451.7 579.8h0.9v0.9h-0.9zM454.2 590.7h0.9v0.9h-0.9zM456.2 589.0h0.9v0.9h-0.9zM433.0 576.9h0.9v0.9h-0.9zM420.2 581.1h0.9v0.9h-0.9zM439.2 576.1h0.9v0.9h-0.9zM454.7 594.2h0.9v0.9h-0.9zM454.5 593.3h0.9v0.9h-0.9zM436.4 577.3h0.9v0.9h-0.9zM411.8 595.7h0.9v0.9h-0.9zM411.8 594.5h0.9v0.9h-0.9zM454.0 599.0h0.9v0.9h-0.9zM454.4 599.0h0.9v0.9h-0.9zM430.5 576.1h0.9v0.9h-0.9zM446.2 576.8h0.9v0.9h-0.9zM444.6 576.7h0.9v0.9h-0.9zM456.8 601.8h0.9v0.9h-0.9zM432.0 578.0h0.9v0.9h-0.9zM416.0 582.7h0.9v0.9h-0.9zM426.8 578.9h0.9v0.9h-0.9zM431.8 577.2h0.9v0.9h-0.9zM425.2 578.3h0.9v0.9h-0.9zM448.5 576.6h0.9v0.9h-0.9zM454.5 589.6h0.9v0.9h-0.9zM438.7 576.8h0.9v0.9h-0.9zM454.6 600.6h0.9v0.9h-0.9zM447.6 576.4h0.9v0.9h-0.9zM455.5 596.2h0.9v0.9h-0.9zM454.3 609.6h0.9v0.9h-0.9zM454.2 615.7h0.9v0.9h-0.9zM423.5 580.3h0.9v0.9h-0.9zM430.5 578.3h0.9v0.9h-0.9zM411.9 612.8h0.9v0.9h-0.9zM419.3 581.7h0.9v0.9h-0.9zM449.3 576.9h0.9v0.9h-0.9zM411.8 591.2h0.9v0.9h-0.9zM416.2 581.2h0.9v0.9h-0.9zM452.4 577.2h0.9v0.9h-0.9zM456.4 582.3h0.9v0.9h-0.9zM456.6 593.8h0.9v0.9h-0.9zM411.6 614.7h0.9v0.9h-0.9zM418.6 581.4h0.9v0.9h-0.9zM455.5 590.1h0.9v0.9h-0.9zM411.6 589.1h0.9v0.9h-0.9zM412.0 589.0h0.9v0.9h-0.9zM411.4 596.5h0.9v0.9h-0.9zM454.1 593.1h0.9v0.9h-0.9zM442.0 576.1h0.9v0.9h-0.9zM433.3 577.9h0.9v0.9h-0.9zM451.1 578.1h0.9v0.9h-0.9zM435.2 575.6h0.9v0.9h-0.9zM437.3 575.9h0.9v0.9h-0.9zM411.9 597.2h0.9v0.9h-0.9zM426.1 577.0h0.9v0.9h-0.9zM455.8 586.5h0.9v0.9h-0.9zM416.7 581.3h0.9v0.9h-0.9zM456.5 598.2h0.9v0.9h-0.9zM415.6 581.9h0.9v0.9h-0.9zM429.2 578.1h0.9v0.9h-0.9zM456.5 615.9h0.9v0.9h-0.9zM444.5 575.2h0.9v0.9h-0.9zM442.2 575.0h0.9v0.9h-0.9zM450.6 578.6h0.9v0.9h-0.9zM449.9 578.3h0.9v0.9h-0.9zM415.7 581.1h0.9v0.9h-0.9zM455.2 606.9h0.9v0.9h-0.9zM423.5 579.7h0.9v0.9h-0.9zM454.0 580.8h0.9v0.9h-0.9zM455.1 604.3h0.9v0.9h-0.9zM454.2 586.9h0.9v0.9h-0.9zM451.7 579.0h0.9v0.9h-0.9zM451.7 576.1h0.9v0.9h-0.9zM411.9 587.3h0.9v0.9h-0.9zM421.0 579.2h0.9v0.9h-0.9zM413.2 582.9h0.9v0.9h-0.9zM413.0 584.0h0.9v0.9h-0.9zM455.6 606.9h0.9v0.9h-0.9zM454.3 598.0h0.9v0.9h-0.9zM446.9 576.2h0.9v0.9h-0.9zM428.9 578.4h0.9v0.9h-0.9zM455.2 604.3h0.9v0.9h-0.9zM432.1 575.8h0.9v0.9h-0.9zM456.0 590.0h0.9v0.9h-0.9zM453.9 586.8h0.9v0.9h-0.9zM454.6 609.1h0.9v0.9h-0.9zM417.7 580.0h0.9v0.9h-0.9zM454.2 588.2h0.9v0.9h-0.9zM432.0 576.0h0.9v0.9h-0.9zM424.8 579.5h0.9v0.9h-0.9zM434.8 574.9h0.9v0.9h-0.9zM437.2 576.0h0.9v0.9h-0.9zM454.7 588.3h0.9v0.9h-0.9zM412.5 584.2h0.9v0.9h-0.9zM426.1 578.5h0.9v0.9h-0.9zM419.9 581.1h0.9v0.9h-0.9zM414.8 583.4h0.9v0.9h-0.9zM455.0 613.0h0.9v0.9h-0.9zM454.2 589.8h0.9v0.9h-0.9zM411.9 609.4h0.9v0.9h-0.9zM411.6 611.8h0.9v0.9h-0.9zM435.1 576.4h0.9v0.9h-0.9zM454.7 607.6h0.9v0.9h-0.9zM455.3 596.1h0.9v0.9h-0.9zM454.0 592.4h0.9v0.9h-0.9zM411.5 587.0h0.9v0.9h-0.9zM439.2 576.7h0.9v0.9h-0.9zM455.0 597.6h0.9v0.9h-0.9zM430.9 576.9h0.9v0.9h-0.9zM414.5 582.4h0.9v0.9h-0.9zM456.7 615.7h0.9v0.9h-0.9zM412.0 597.0h0.9v0.9h-0.9z" fill="#000"/>
<path d="M427.6 577.5h0.9v0.9h-0.9zM441.8 571.6h0.9v0.9h-0.9zM422.4 560.0h0.9v0.9h-0.9zM450.7 560.0h0.9v0.9h-0.9zM448.9 559.0h0.9v0.9h-0.9zM431.3 551.8h0.9v0.9h-0.9zM442.0 561.8h0.9v0.9h-0.9zM441.6 548.3h0.9v0.9h-0.9zM433.1 556.8h0.9v0.9h-0.9zM436.4 564.6h0.9v0.9h-0.9zM430.5 576.4h0.9v0.9h-0.9zM433.1 568.7h0.9v0.9h-0.9zM431.8 566.9h0.9v0.9h-0.9zM431.4 576.0h0.9v0.9h-0.9zM442.2 572.2h0.9v0.9h-0.9zM443.1 574.2h0.9v0.9h-0.9zM439.1 552.1h0.9v0.9h-0.9zM442.5 564.8h0.9v0.9h-0.9zM422.9 563.2h0.9v0.9h-0.9zM446.7 568.7h0.9v0.9h-0.9zM431.4 560.6h0.9v0.9h-0.9zM430.6 555.4h0.9v0.9h-0.9zM421.0 566.2h0.9v0.9h-0.9zM433.6 558.4h0.9v0.9h-0.9zM440.2 567.8h0.9v0.9h-0.9zM440.4 572.1h0.9v0.9h-0.9zM432.3 550.8h0.9v0.9h-0.9zM437.8 576.2h0.9v0.9h-0.9zM443.0 559.3h0.9v0.9h-0.9zM426.8 562.0h0.9v0.9h-0.9zM441.4 567.8h0.9v0.9h-0.9zM428.2 561.6h0.9v0.9h-0.9zM445.1 545.1h0.9v0.9h-0.9zM425.1 565.1h0.9v0.9h-0.9zM438.5 560.4h0.9v0.9h-0.9zM438.5 560.1h0.9v0.9h-0.9zM434.2 558.1h0.9v0.9h-0.9zM435.4 555.1h0.9v0.9h-0.9zM437.9 561.9h0.9v0.9h-0.9zM437.8 548.3h0.9v0.9h-0.9zM438.7 552.6h0.9v0.9h-0.9zM433.3 571.0h0.9v0.9h-0.9zM440.4 559.9h0.9v0.9h-0.9zM437.2 572.9h0.9v0.9h-0.9zM438.2 568.9h0.9v0.9h-0.9z" fill="#000"/>
<path d="M464.7 560.7h0.9v0.9h-0.9zM467.9 560.3h0.9v0.9h-0.9zM464.9 561.8h0.9v0.9h-0.9zM472.7 572.1h0.9v0.9h-0.9zM467.2 556.5h0.9v0.9h-0.9zM465.5 553.5h0.9v0.9h-0.9zM469.5 564.1h0.9v0.9h-0.9zM466.1 554.9h0.9v0.9h-0.9zM465.8 568.2h0.9v0.9h-0.9zM467.2 567.3h0.9v0.9h-0.9zM468.8 555.2h0.9v0.9h-0.9zM469.7 554.6h0.9v0.9h-0.9zM468.6 560.0h0.9v0.9h-0.9zM467.1 556.4h0.9v0.9h-0.9z" fill="#000"/>
<path d="M417.3 609.1h0.9v0.9h-0.9zM413.7 601.7h0.9v0.9h-0.9zM412.0 596.5h0.9v0.9h-0.9zM414.4 604.8h0.9v0.9h-0.9zM416.9 607.1h0.9v0.9h-0.9zM412.5 599.8h0.9v0.9h-0.9zM419.6 610.9h0.9v0.9h-0.9zM415.8 603.8h0.9v0.9h-0.9zM413.4 608.0h0.9v0.9h-0.9zM413.1 604.7h0.9v0.9h-0.9zM413.2 608.2h0.9v0.9h-0.9zM413.0 606.1h0.9v0.9h-0.9zM414.6 605.6h0.9v0.9h-0.9zM414.2 604.5h0.9v0.9h-0.9zM412.3 596.6h0.9v0.9h-0.9zM418.1 605.0h0.9v0.9h-0.9zM412.9 615.0h0.9v0.9h-0.9zM416.4 605.2h0.9v0.9h-0.9zM412.4 611.1h0.9v0.9h-0.9zM412.5 609.0h0.9v0.9h-0.9zM414.7 593.9h0.9v0.9h-0.9zM412.3 601.4h0.9v0.9h-0.9zM417.1 608.2h0.9v0.9h-0.9zM414.1 591.6h0.9v0.9h-0.9zM413.4 603.3h0.9v0.9h-0.9zM415.2 602.4h0.9v0.9h-0.9zM416.3 599.0h0.9v0.9h-0.9zM415.6 594.2h0.9v0.9h-0.9zM411.8 592.9h0.9v0.9h-0.9zM412.3 609.7h0.9v0.9h-0.9zM412.3 595.5h0.9v0.9h-0.9zM413.7 593.0h0.9v0.9h-0.9zM417.2 595.8h0.9v0.9h-0.9zM414.2 609.8h0.9v0.9h-0.9zM417.8 597.0h0.9v0.9h-0.9zM416.3 610.7h0.9v0.9h-0.9zM413.7 601.7h0.9v0.9h-0.9zM417.3 603.6h0.9v0.9h-0.9zM412.6 599.3h0.9v0.9h-0.9zM415.1 596.2h0.9v0.9h-0.9z" fill="#fff"/>
<text x="34.8" y="546.82" font-size="3.4" text-anchor="end" fill="#222">10<tspan dy="-1.36" font-size="2.38">5</tspan></text>
<line x1="35" y1="545.63" x2="36" y2="545.63" stroke="#666" stroke-width="0.6"/>
<text x="34.8" y="565.18" font-size="3.4" text-anchor="end" fill="#222">10<tspan dy="-1.36" font-size="2.38">4</tspan></text>
<line x1="35" y1="563.99" x2="36" y2="563.99" stroke="#666" stroke-width="0.6"/>
<text x="34.8" y="583.43" font-size="3.4" text-anchor="end" fill="#222">10<tspan dy="-1.36" font-size="2.38">3</tspan></text>
<line x1="35" y1="582.24" x2="36" y2="582.24" stroke="#666" stroke-width="0.6"/>
<text x="34.8" y="602.31" font-size="3.4" text-anchor="end" fill="#222">10<tspan dy="-1.36" font-size="2.38">2</tspan></text>
<line x1="35" y1="601.12" x2="36" y2="601.12" stroke="#666" stroke-width="0.6"/>
<line x1="35" y1="609.47" x2="36" y2="609.47" stroke="#666" stroke-width="0.6"/>
<line x1="45.18" y1="617" x2="45.18" y2="618" stroke="#666" stroke-width="0.6"/>
<text x="53.04" y="622.3" font-size="3.4" text-anchor="middle" fill="#222">10<tspan dy="-1.36" font-size="2.38">2</tspan></text>
<line x1="53.04" y1="617" x2="53.04" y2="618" stroke="#666" stroke-width="0.6"/>
<text x="72.13" y="622.3" font-size="3.4" text-anchor="middle" fill="#222">10<tspan dy="-1.36" font-size="2.38">3</tspan></text>
<line x1="72.13" y1="617" x2="72.13" y2="618" stroke="#666" stroke-width="0.6"/>
<text x="91.31" y="622.3" font-size="3.4" text-anchor="middle" fill="#222">10<tspan dy="-1.36" font-size="2.38">4</tspan></text>
<line x1="91.31" y1="617" x2="91.31" y2="618" stroke="#666" stroke-width="0.6"/>
<text x="108.05" y="622.3" font-size="3.4" text-anchor="middle" fill="#222">10<tspan dy="-1.36" font-size="2.38">5</tspan></text>
<line x1="108.05" y1="617" x2="108.05" y2="618" stroke="#666" stroke-width="0.6"/>
<text x="128.4" y="546.82" font-size="3.4" text-anchor="end" fill="#222">10<tspan dy="-1.36" font-size="2.38">5</tspan></text>
<line x1="128.6" y1="545.63" x2="129.6" y2="545.63" stroke="#666" stroke-width="0.6"/>
<text x="128.4" y="565.18" font-size="3.4" text-anchor="end" fill="#222">10<tspan dy="-1.36" font-size="2.38">4</tspan></text>
<line x1="128.6" y1="563.99" x2="129.6" y2="563.99" stroke="#666" stroke-width="0.6"/>
<text x="128.4" y="583.43" font-size="3.4" text-anchor="end" fill="#222">10<tspan dy="-1.36" font-size="2.38">3</tspan></text>
<line x1="128.6" y1="582.24" x2="129.6" y2="582.24" stroke="#666" stroke-width="0.6"/>
<text x="128.4" y="602.31" font-size="3.4" text-anchor="end" fill="#222">10<tspan dy="-1.36" font-size="2.38">2</tspan></text>
<line x1="128.6" y1="601.12" x2="129.6" y2="601.12" stroke="#666" stroke-width="0.6"/>
<line x1="128.6" y1="609.47" x2="129.6" y2="609.47" stroke="#666" stroke-width="0.6"/>
<line x1="138.88" y1="617" x2="138.88" y2="618" stroke="#666" stroke-width="0.6"/>
<text x="146.81" y="622.3" font-size="3.4" text-anchor="middle" fill="#222">10<tspan dy="-1.36" font-size="2.38">2</tspan></text>
<line x1="146.81" y1="617" x2="146.81" y2="618" stroke="#666" stroke-width="0.6"/>
<text x="166.09" y="622.3" font-size="3.4" text-anchor="middle" fill="#222">10<tspan dy="-1.36" font-size="2.38">3</tspan></text>
<line x1="166.09" y1="617" x2="166.09" y2="618" stroke="#666" stroke-width="0.6"/>
<text x="185.47" y="622.3" font-size="3.4" text-anchor="middle" fill="#222">10<tspan dy="-1.36" font-size="2.38">4</tspan></text>
<line x1="185.47" y1="617" x2="185.47" y2="618" stroke="#666" stroke-width="0.6"/>
<text x="202.37" y="622.3" font-size="3.4" text-anchor="middle" fill="#222">10<tspan dy="-1.36" font-size="2.38">5</tspan></text>
<line x1="202.37" y1="617" x2="202.37" y2="618" stroke="#666" stroke-width="0.6"/>
<text x="222.6" y="546.82" font-size="3.4" text-anchor="end" fill="#222">10<tspan dy="-1.36" font-size="2.38">5</tspan></text>
<line x1="222.8" y1="545.63" x2="223.8" y2="545.63" stroke="#666" stroke-width="0.6"/>
<text x="222.6" y="565.18" font-size="3.4" text-anchor="end" fill="#222">10<tspan dy="-1.36" font-size="2.38">4</tspan></text>
<line x1="222.8" y1="563.99" x2="223.8" y2="563.99" stroke="#666" stroke-width="0.6"/>
<text x="222.6" y="583.43" font-size="3.4" text-anchor="end" fill="#222">10<tspan dy="-1.36" font-size="2.38">3</tspan></text>
<line x1="222.8" y1="582.24" x2="223.8" y2="582.24" stroke="#666" stroke-width="0.6"/>
<text x="222.6" y="602.31" font-size="3.4" text-anchor="end" fill="#222">10<tspan dy="-1.36" font-size="2.38">2</tspan></text>
<line x1="222.8" y1="601.12" x2="223.8" y2="601.12" stroke="#666" stroke-width="0.6"/>
<line x1="222.8" y1="609.47" x2="223.8" y2="609.47" stroke="#666" stroke-width="0.6"/>
<line x1="233.07" y1="617" x2="233.07" y2="618" stroke="#666" stroke-width="0.6"/>
<text x="240.99" y="622.3" font-size="3.4" text-anchor="middle" fill="#222">10<tspan dy="-1.36" font-size="2.38">2</tspan></text>
<line x1="240.99" y1="617" x2="240.99" y2="618" stroke="#666" stroke-width="0.6"/>
<text x="260.24" y="622.3" font-size="3.4" text-anchor="middle" fill="#222">10<tspan dy="-1.36" font-size="2.38">3</tspan></text>
<line x1="260.24" y1="617" x2="260.24" y2="618" stroke="#666" stroke-width="0.6"/>
<text x="279.6" y="622.3" font-size="3.4" text-anchor="middle" fill="#222">10<tspan dy="-1.36" font-size="2.38">4</tspan></text>
<line x1="279.6" y1="617" x2="279.6" y2="618" stroke="#666" stroke-width="0.6"/>
<text x="296.48" y="622.3" font-size="3.4" text-anchor="middle" fill="#222">10<tspan dy="-1.36" font-size="2.38">5</tspan></text>
<line x1="296.48" y1="617" x2="296.48" y2="618" stroke="#666" stroke-width="0.6"/>
<text x="316.6" y="546.82" font-size="3.4" text-anchor="end" fill="#222">10<tspan dy="-1.36" font-size="2.38">5</tspan></text>
<line x1="316.8" y1="545.63" x2="317.8" y2="545.63" stroke="#666" stroke-width="0.6"/>
<text x="316.6" y="565.18" font-size="3.4" text-anchor="end" fill="#222">10<tspan dy="-1.36" font-size="2.38">4</tspan></text>
<line x1="316.8" y1="563.99" x2="317.8" y2="563.99" stroke="#666" stroke-width="0.6"/>
<text x="316.6" y="583.43" font-size="3.4" text-anchor="end" fill="#222">10<tspan dy="-1.36" font-size="2.38">3</tspan></text>
<line x1="316.8" y1="582.24" x2="317.8" y2="582.24" stroke="#666" stroke-width="0.6"/>
<text x="316.6" y="602.31" font-size="3.4" text-anchor="end" fill="#222">10<tspan dy="-1.36" font-size="2.38">2</tspan></text>
<line x1="316.8" y1="601.12" x2="317.8" y2="601.12" stroke="#666" stroke-width="0.6"/>
<line x1="316.8" y1="609.47" x2="317.8" y2="609.47" stroke="#666" stroke-width="0.6"/>
<line x1="326.89" y1="617" x2="326.89" y2="618" stroke="#666" stroke-width="0.6"/>
<text x="334.67" y="622.3" font-size="3.4" text-anchor="middle" fill="#222">10<tspan dy="-1.36" font-size="2.38">2</tspan></text>
<line x1="334.67" y1="617" x2="334.67" y2="618" stroke="#666" stroke-width="0.6"/>
<text x="353.56" y="622.3" font-size="3.4" text-anchor="middle" fill="#222">10<tspan dy="-1.36" font-size="2.38">3</tspan></text>
<line x1="353.56" y1="617" x2="353.56" y2="618" stroke="#666" stroke-width="0.6"/>
<text x="372.56" y="622.3" font-size="3.4" text-anchor="middle" fill="#222">10<tspan dy="-1.36" font-size="2.38">4</tspan></text>
<line x1="372.56" y1="617" x2="372.56" y2="618" stroke="#666" stroke-width="0.6"/>
<text x="389.12" y="622.3" font-size="3.4" text-anchor="middle" fill="#222">10<tspan dy="-1.36" font-size="2.38">5</tspan></text>
<line x1="389.12" y1="617" x2="389.12" y2="618" stroke="#666" stroke-width="0.6"/>
<text x="410.2" y="546.82" font-size="3.4" text-anchor="end" fill="#222">10<tspan dy="-1.36" font-size="2.38">5</tspan></text>
<line x1="410.4" y1="545.63" x2="411.4" y2="545.63" stroke="#666" stroke-width="0.6"/>
<text x="410.2" y="565.18" font-size="3.4" text-anchor="end" fill="#222">10<tspan dy="-1.36" font-size="2.38">4</tspan></text>
<line x1="410.4" y1="563.99" x2="411.4" y2="563.99" stroke="#666" stroke-width="0.6"/>
<text x="410.2" y="583.43" font-size="3.4" text-anchor="end" fill="#222">10<tspan dy="-1.36" font-size="2.38">3</tspan></text>
<line x1="410.4" y1="582.24" x2="411.4" y2="582.24" stroke="#666" stroke-width="0.6"/>
<text x="410.2" y="602.31" font-size="3.4" text-anchor="end" fill="#222">10<tspan dy="-1.36" font-size="2.38">2</tspan></text>
<line x1="410.4" y1="601.12" x2="411.4" y2="601.12" stroke="#666" stroke-width="0.6"/>
<line x1="410.4" y1="609.47" x2="411.4" y2="609.47" stroke="#666" stroke-width="0.6"/>
<line x1="420.62" y1="617" x2="420.62" y2="618" stroke="#666" stroke-width="0.6"/>
<text x="428.51" y="622.3" font-size="3.4" text-anchor="middle" fill="#222">10<tspan dy="-1.36" font-size="2.38">2</tspan></text>
<line x1="428.51" y1="617" x2="428.51" y2="618" stroke="#666" stroke-width="0.6"/>
<text x="447.66" y="622.3" font-size="3.4" text-anchor="middle" fill="#222">10<tspan dy="-1.36" font-size="2.38">3</tspan></text>
<line x1="447.66" y1="617" x2="447.66" y2="618" stroke="#666" stroke-width="0.6"/>
<text x="466.92" y="622.3" font-size="3.4" text-anchor="middle" fill="#222">10<tspan dy="-1.36" font-size="2.38">4</tspan></text>
<line x1="466.92" y1="617" x2="466.92" y2="618" stroke="#666" stroke-width="0.6"/>
<text x="483.72" y="622.3" font-size="3.4" text-anchor="middle" fill="#222">10<tspan dy="-1.36" font-size="2.38">5</tspan></text>
<line x1="483.72" y1="617" x2="483.72" y2="618" stroke="#666" stroke-width="0.6"/>
<line x1="23.75" y1="540.3" x2="23.75" y2="616" stroke="#666" stroke-width="1.1"/>
<path d="M22.45 541.3 L23.75 538.8 L25.05 541.3Z" fill="#333"/>
<line x1="37.5" y1="628.6" x2="487" y2="628.6" stroke="#444" stroke-width="1.1"/>
<path d="M489.6 628.6 L486.4 627.1 L486.4 630.1Z" fill="#111"/>
<text x="0" y="0" font-size="10.6" font-weight="bold" transform="translate(2 11.5) scale(1 1.03)">A</text>
<text x="122.5" y="8" font-size="9.85" text-anchor="middle">Peptide pool</text>
<text x="233.8" y="8" font-size="9.85" text-anchor="middle">w/o antigen</text>
<text x="369.4" y="8" font-size="9.85" text-anchor="middle">Peptide pool</text>
<text x="481.5" y="8" font-size="9.85" text-anchor="middle">w/o antigen</text>
<text x="1" y="58.4" font-size="9.75">CMV</text>
<text x="1" y="169.7" font-size="9.75">EBV</text>
<text x="1" y="284" font-size="9.75">Influenza</text>
<text x="60.9" y="51.8" font-size="9.1" text-anchor="middle" transform="rotate(-90 60.9 51.8)">IFN<tspan font-size="7.6" dy="0.5">γ</tspan></text>
<text x="307.6" y="55.5" font-size="9.9" text-anchor="middle" transform="rotate(-90 307.6 55.5)">IL-2</text>
<text x="60.9" y="164.6" font-size="9.1" text-anchor="middle" transform="rotate(-90 60.9 164.6)">IFN<tspan font-size="7.6" dy="0.5">γ</tspan></text>
<text x="307.6" y="166.5" font-size="9.9" text-anchor="middle" transform="rotate(-90 307.6 166.5)">IL-2</text>
<text x="60.9" y="276.8" font-size="9.1" text-anchor="middle" transform="rotate(-90 60.9 276.8)">IFN<tspan font-size="7.6" dy="0.5">γ</tspan></text>
<text x="307.6" y="276.7" font-size="9.9" text-anchor="middle" transform="rotate(-90 307.6 276.7)">IL-2</text>
<text class="s" x="0" y="0" font-size="7.55" transform="translate(87.6 26.8) scale(1 1.2)">2.02%</text>
<text class="s" x="0" y="0" font-size="7.55" text-anchor="end" transform="translate(160.6 26.8) scale(1 1.2)">0.06%</text>
<text class="s" x="0" y="0" font-size="7.55" text-anchor="end" transform="translate(160.6 92.8) scale(1 1.2)">0.03%</text>
<text class="s" x="0" y="0" font-size="4.2" text-anchor="end" transform="translate(83.5 88.97) scale(1 1.03)" fill="#222">0</text>
<text class="s" x="0" y="0" font-size="4.2" text-anchor="middle" transform="translate(93.95 101) scale(1 1.03)" fill="#222">0</text>
<text class="s" x="0" y="0" font-size="7.55" transform="translate(195.9 26.8) scale(1 1.2)">0.02%</text>
<text class="s" x="0" y="0" font-size="7.55" text-anchor="end" transform="translate(268.2 26.8) scale(1 1.2)">0.00%</text>
<text class="s" x="0" y="0" font-size="7.55" text-anchor="end" transform="translate(268.2 92.8) scale(1 1.2)">0.00%</text>
<text class="s" x="0" y="0" font-size="4.2" text-anchor="end" transform="translate(191.8 88.97) scale(1 1.03)" fill="#222">0</text>
<text class="s" x="0" y="0" font-size="4.2" text-anchor="middle" transform="translate(202.17 101) scale(1 1.03)" fill="#222">0</text>
<text class="s" x="0" y="0" font-size="7.55" transform="translate(335.4 26.8) scale(1 1.2)">0.02%</text>
<text class="s" x="0" y="0" font-size="7.55" text-anchor="end" transform="translate(408.4 26.8) scale(1 1.2)">0.00%</text>
<text class="s" x="0" y="0" font-size="7.55" text-anchor="end" transform="translate(408.4 92.5) scale(1 1.2)">0.08%</text>
<text class="s" x="0" y="0" font-size="4.2" text-anchor="end" transform="translate(331.3 88.69) scale(1 1.03)" fill="#222">0</text>
<text class="s" x="0" y="0" font-size="4.2" text-anchor="middle" transform="translate(341.75 100.7) scale(1 1.03)" fill="#222">0</text>
<text class="s" x="0" y="0" font-size="7.55" transform="translate(444 26.8) scale(1 1.2)">0.00%</text>
<text class="s" x="0" y="0" font-size="7.55" text-anchor="end" transform="translate(515.3 26.8) scale(1 1.2)">0.00%</text>
<text class="s" x="0" y="0" font-size="7.55" text-anchor="end" transform="translate(515.3 92.5) scale(1 1.2)">0.00%</text>
<text class="s" x="0" y="0" font-size="4.2" text-anchor="end" transform="translate(439.9 88.69) scale(1 1.03)" fill="#222">0</text>
<text class="s" x="0" y="0" font-size="4.2" text-anchor="middle" transform="translate(450.16 100.7) scale(1 1.03)" fill="#222">0</text>
<text class="s" x="0" y="0" font-size="7.55" transform="translate(88.6 135.3) scale(1 1.2)">0.01%</text>
<text class="s" x="0" y="0" font-size="7.55" text-anchor="end" transform="translate(162.3 135.3) scale(1 1.2)">0.01%</text>
<text class="s" x="0" y="0" font-size="7.55" text-anchor="end" transform="translate(162.3 200.7) scale(1 1.2)">0,00%</text>
<text class="s" x="0" y="0" font-size="5.8" text-anchor="end" transform="translate(84.5 197.54) scale(1 1.03)" fill="#222">0</text>
<text class="s" x="0" y="0" font-size="5.8" text-anchor="middle" transform="translate(98.05 213.2) scale(1 1.03)" fill="#222">0</text>
<text class="s" x="0" y="0" font-size="7.55" transform="translate(196.9 135.3) scale(1 1.2)">0.00%</text>
<text class="s" x="0" y="0" font-size="7.55" text-anchor="end" transform="translate(270.2 135.3) scale(1 1.2)">0.00%</text>
<text class="s" x="0" y="0" font-size="7.55" text-anchor="end" transform="translate(270.2 200.7) scale(1 1.2)">0.00%</text>
<text class="s" x="0" y="0" font-size="5.8" text-anchor="end" transform="translate(192.8 197.54) scale(1 1.03)" fill="#222">0</text>
<text class="s" x="0" y="0" font-size="5.8" text-anchor="middle" transform="translate(206.28 213.2) scale(1 1.03)" fill="#222">0</text>
<text class="s" x="0" y="0" font-size="7.55" transform="translate(337 135.3) scale(1 1.2)">0.01%</text>
<text class="s" x="0" y="0" font-size="7.55" text-anchor="end" transform="translate(408.4 135.3) scale(1 1.2)">0.01%</text>
<text class="s" x="0" y="0" font-size="7.55" text-anchor="end" transform="translate(408.4 200.7) scale(1 1.2)">0.00%</text>
<text class="s" x="0" y="0" font-size="5.8" text-anchor="end" transform="translate(332.9 197.54) scale(1 1.03)" fill="#222">0</text>
<text class="s" x="0" y="0" font-size="5.8" text-anchor="middle" transform="translate(346.09 213.2) scale(1 1.03)" fill="#222">0</text>
<text class="s" x="0" y="0" font-size="7.55" transform="translate(443.7 135.3) scale(1 1.2)">0.00%</text>
<text class="s" x="0" y="0" font-size="7.55" text-anchor="end" transform="translate(515.7 135.3) scale(1 1.2)">0.00%</text>
<text class="s" x="0" y="0" font-size="7.55" text-anchor="end" transform="translate(515.7 200.7) scale(1 1.2)">0.00%</text>
<text class="s" x="0" y="0" font-size="5.8" text-anchor="end" transform="translate(439.6 197.54) scale(1 1.03)" fill="#222">0</text>
<text class="s" x="0" y="0" font-size="5.8" text-anchor="middle" transform="translate(452.88 213.2) scale(1 1.03)" fill="#222">0</text>
<text class="s" x="0" y="0" font-size="7.55" transform="translate(89.7 248.3) scale(1 1.2)">0.11%</text>
<text class="s" x="0" y="0" font-size="7.55" text-anchor="end" transform="translate(162.3 248.3) scale(1 1.2)">0.02%</text>
<text class="s" x="0" y="0" font-size="7.55" text-anchor="end" transform="translate(162.3 313.7) scale(1 1.2)">0.01%</text>
<text class="s" x="0" y="0" font-size="4.2" text-anchor="end" transform="translate(85.6 309.92) scale(1 1.03)" fill="#222">0</text>
<text class="s" x="0" y="0" font-size="4.2" text-anchor="middle" transform="translate(96.01 321.9) scale(1 1.03)" fill="#222">0</text>
<text class="s" x="0" y="0" font-size="7.55" transform="translate(197.4 248.3) scale(1 1.2)">0.01%</text>
<text class="s" x="0" y="0" font-size="7.55" text-anchor="end" transform="translate(270.6 248.3) scale(1 1.2)">0.00%</text>
<text class="s" x="0" y="0" font-size="7.55" text-anchor="end" transform="translate(270.6 313.7) scale(1 1.2)">0.00%</text>
<text class="s" x="0" y="0" font-size="4.2" text-anchor="end" transform="translate(193.3 309.92) scale(1 1.03)" fill="#222">0</text>
<text class="s" x="0" y="0" font-size="4.2" text-anchor="middle" transform="translate(203.78 321.9) scale(1 1.03)" fill="#222">0</text>
<text class="s" x="0" y="0" font-size="7.55" transform="translate(336.4 248.3) scale(1 1.2)">0.06%</text>
<text class="s" x="0" y="0" font-size="7.55" text-anchor="end" transform="translate(408.4 248.3) scale(1 1.2)">0.02%</text>
<text class="s" x="0" y="0" font-size="7.55" text-anchor="end" transform="translate(408.4 313.7) scale(1 1.2)">0.00%</text>
<text class="s" x="0" y="0" font-size="4.2" text-anchor="end" transform="translate(332.3 309.92) scale(1 1.03)" fill="#222">0</text>
<text class="s" x="0" y="0" font-size="4.2" text-anchor="middle" transform="translate(342.64 321.9) scale(1 1.03)" fill="#222">0</text>
<text class="s" x="0" y="0" font-size="7.55" transform="translate(443 248.3) scale(1 1.2)">0.01%</text>
<text class="s" x="0" y="0" font-size="7.55" text-anchor="end" transform="translate(515.7 248.3) scale(1 1.2)">0.00%</text>
<text class="s" x="0" y="0" font-size="7.55" text-anchor="end" transform="translate(515.7 313.7) scale(1 1.2)">0.00%</text>
<text class="s" x="0" y="0" font-size="4.2" text-anchor="end" transform="translate(438.9 309.92) scale(1 1.03)" fill="#222">0</text>
<text class="s" x="0" y="0" font-size="4.2" text-anchor="middle" transform="translate(449.32 321.9) scale(1 1.03)" fill="#222">0</text>
<text x="0" y="0" font-size="9.7" transform="translate(159.6 346.7) scale(1 1.03)">CD40L</text>
<text x="0" y="0" font-size="9.7" transform="translate(407 346.7) scale(1 1.03)">CD40L</text>
<text x="0" y="0" font-size="9.6" font-weight="bold" transform="translate(2 360) scale(1 1.03)">B</text>
<text class="s" x="0" y="0" font-size="7.6" text-anchor="end" transform="translate(33.9 368.2) scale(1 1.15)">0.15</text>
<text class="s" x="0" y="0" font-size="7.6" text-anchor="end" transform="translate(33.9 388.3) scale(1 1.15)">0.10</text>
<text class="s" x="0" y="0" font-size="7.6" text-anchor="end" transform="translate(33.9 407.9) scale(1 1.15)">0.05</text>
<text class="s" x="0" y="0" font-size="7.6" text-anchor="end" transform="translate(33.9 420.4) scale(1 1.15)">0.03</text>
<text class="s" x="0" y="0" font-size="7.6" text-anchor="end" transform="translate(33.9 445.2) scale(1 1.15)">0.02</text>
<text class="s" x="0" y="0" font-size="7.6" text-anchor="end" transform="translate(33.9 470.2) scale(1 1.15)">0.01</text>
<text class="s" x="0" y="0" font-size="7.6" text-anchor="end" transform="translate(33.9 495.4) scale(1 1.15)">0.00</text>
<text x="0" y="0" font-size="9.9" text-anchor="middle" transform="translate(57 508.3) scale(1 1.03)">CMV</text>
<text x="0" y="0" font-size="9.9" text-anchor="middle" transform="translate(100.2 508.3) scale(1 1.03)">EBV</text>
<text x="0" y="0" font-size="9.9" text-anchor="middle" transform="translate(142.4 508.3) scale(1 1.03)">Flu</text>
<text class="s" x="0" y="0" font-size="7.6" text-anchor="end" transform="translate(210.8 368.3) scale(1 1.15)">2.5</text>
<text class="s" x="0" y="0" font-size="7.6" text-anchor="end" transform="translate(210.8 383) scale(1 1.15)">2.0</text>
<text class="s" x="0" y="0" font-size="7.6" text-anchor="end" transform="translate(210.8 397.4) scale(1 1.15)">1.5</text>
<text class="s" x="0" y="0" font-size="7.6" text-anchor="end" transform="translate(210.8 411.5) scale(1 1.15)">1.0</text>
<text class="s" x="0" y="0" font-size="7.6" text-anchor="end" transform="translate(210.8 425.8) scale(1 1.15)">0.5</text>
<text class="s" x="0" y="0" font-size="7.6" text-anchor="end" transform="translate(210.8 435.9) scale(1 1.15)">0.3</text>
<text class="s" x="0" y="0" font-size="7.6" text-anchor="end" transform="translate(210.8 455.8) scale(1 1.15)">0.2</text>
<text class="s" x="0" y="0" font-size="7.6" text-anchor="end" transform="translate(210.8 475.8) scale(1 1.15)">0.1</text>
<text class="s" x="0" y="0" font-size="7.6" text-anchor="end" transform="translate(210.8 495.2) scale(1 1.15)">0.0</text>
<text x="0" y="0" font-size="9.9" text-anchor="middle" transform="translate(234.5 508.3) scale(1 1.03)">CMV</text>
<text x="0" y="0" font-size="9.9" text-anchor="middle" transform="translate(277.3 508.3) scale(1 1.03)">EBV</text>
<text x="0" y="0" font-size="9.9" text-anchor="middle" transform="translate(319.5 508.3) scale(1 1.03)">Flu</text>
<text class="s" x="0" y="0" font-size="7.6" text-anchor="end" transform="translate(388.7 368.6) scale(1 1.15)">50</text>
<text class="s" x="0" y="0" font-size="7.6" text-anchor="end" transform="translate(388.7 394) scale(1 1.15)">40</text>
<text class="s" x="0" y="0" font-size="7.6" text-anchor="end" transform="translate(388.7 419.4) scale(1 1.15)">30</text>
<text class="s" x="0" y="0" font-size="7.6" text-anchor="end" transform="translate(388.7 444.8) scale(1 1.15)">20</text>
<text class="s" x="0" y="0" font-size="7.6" text-anchor="end" transform="translate(388.7 470.1) scale(1 1.15)">10</text>
<text class="s" x="0" y="0" font-size="7.6" text-anchor="end" transform="translate(388.7 495.4) scale(1 1.15)">0</text>
<text x="0" y="0" font-size="9.9" text-anchor="middle" transform="translate(412.8 508.3) scale(1 1.03)">CMV</text>
<text x="0" y="0" font-size="9.9" text-anchor="middle" transform="translate(455.1 508.3) scale(1 1.03)">EBV</text>
<text x="0" y="0" font-size="9.9" text-anchor="middle" transform="translate(497.6 508.3) scale(1 1.03)">Flu</text>
<text x="0" y="0" font-size="10.4" font-weight="bold" transform="translate(2.3 534.5) scale(1 1.03)">C</text>
<text class="s" x="38.6" y="546.8" font-size="7.1">0.01%</text>
<text class="s" x="113.6" y="546.8" font-size="7.1" text-anchor="end">0.00%</text>
<text class="s" x="113.6" y="614.4" font-size="7.1" text-anchor="end">0.01%</text>
<text class="s" x="0" y="0" font-size="3.4" text-anchor="end" transform="translate(34.5 610.66) scale(1 1.03)" fill="#222">0</text>
<text class="s" x="0" y="0" font-size="3.4" text-anchor="middle" transform="translate(45.18 622.3) scale(1 1.03)" fill="#222">0</text>
<text x="76.7" y="530.8" font-size="9.9" text-anchor="middle">d0</text>
<text class="s" x="132.2" y="546.8" font-size="7.1">0.84%</text>
<text class="s" x="208" y="546.8" font-size="7.1" text-anchor="end">0.14%</text>
<text class="s" x="208" y="614.4" font-size="7.1" text-anchor="end">0.07%</text>
<text class="s" x="0" y="0" font-size="3.4" text-anchor="end" transform="translate(128.1 610.66) scale(1 1.03)" fill="#222">0</text>
<text class="s" x="0" y="0" font-size="3.4" text-anchor="middle" transform="translate(138.88 622.3) scale(1 1.03)" fill="#222">0</text>
<text x="170.8" y="530.8" font-size="9.9" text-anchor="middle">d10</text>
<text class="s" x="226.4" y="546.8" font-size="7.1">0.48%</text>
<text class="s" x="302.1" y="546.8" font-size="7.1" text-anchor="end">0.06%</text>
<text class="s" x="302.1" y="614.4" font-size="7.1" text-anchor="end">0.02%</text>
<text class="s" x="0" y="0" font-size="3.4" text-anchor="end" transform="translate(222.3 610.66) scale(1 1.03)" fill="#222">0</text>
<text class="s" x="0" y="0" font-size="3.4" text-anchor="middle" transform="translate(233.07 622.3) scale(1 1.03)" fill="#222">0</text>
<text x="265.4" y="530.8" font-size="9.9" text-anchor="middle">d14</text>
<text class="s" x="320.4" y="546.8" font-size="7.1">0.15%</text>
<text class="s" x="394.6" y="546.8" font-size="7.1" text-anchor="end">0.02%</text>
<text class="s" x="394.6" y="614.4" font-size="7.1" text-anchor="end">0.01%</text>
<text class="s" x="0" y="0" font-size="3.4" text-anchor="end" transform="translate(316.3 610.66) scale(1 1.03)" fill="#222">0</text>
<text class="s" x="0" y="0" font-size="3.4" text-anchor="middle" transform="translate(326.89 622.3) scale(1 1.03)" fill="#222">0</text>
<text x="361.7" y="530.8" font-size="9.9" text-anchor="middle">d28</text>
<text class="s" x="414" y="546.8" font-size="7.1">0.06%</text>
<text class="s" x="489.3" y="546.8" font-size="7.1" text-anchor="end">0.01%</text>
<text class="s" x="489.3" y="614.4" font-size="7.1" text-anchor="end">0.01%</text>
<text class="s" x="0" y="0" font-size="3.4" text-anchor="end" transform="translate(409.9 610.66) scale(1 1.03)" fill="#222">0</text>
<text class="s" x="0" y="0" font-size="3.4" text-anchor="middle" transform="translate(420.62 622.3) scale(1 1.03)" fill="#222">0</text>
<text x="456.7" y="530.8" font-size="9.9" text-anchor="middle">d60</text>
<text x="14.2" y="580" font-size="9.6" text-anchor="middle" transform="rotate(-90 14.2 580)">IFN<tspan font-size="8.02" dy="0.5">γ</tspan></text>
<text x="0" y="0" font-size="9.9" transform="translate(238.1 643.5) scale(1 1.03)">CD40L</text>
</svg>
</body></html>
